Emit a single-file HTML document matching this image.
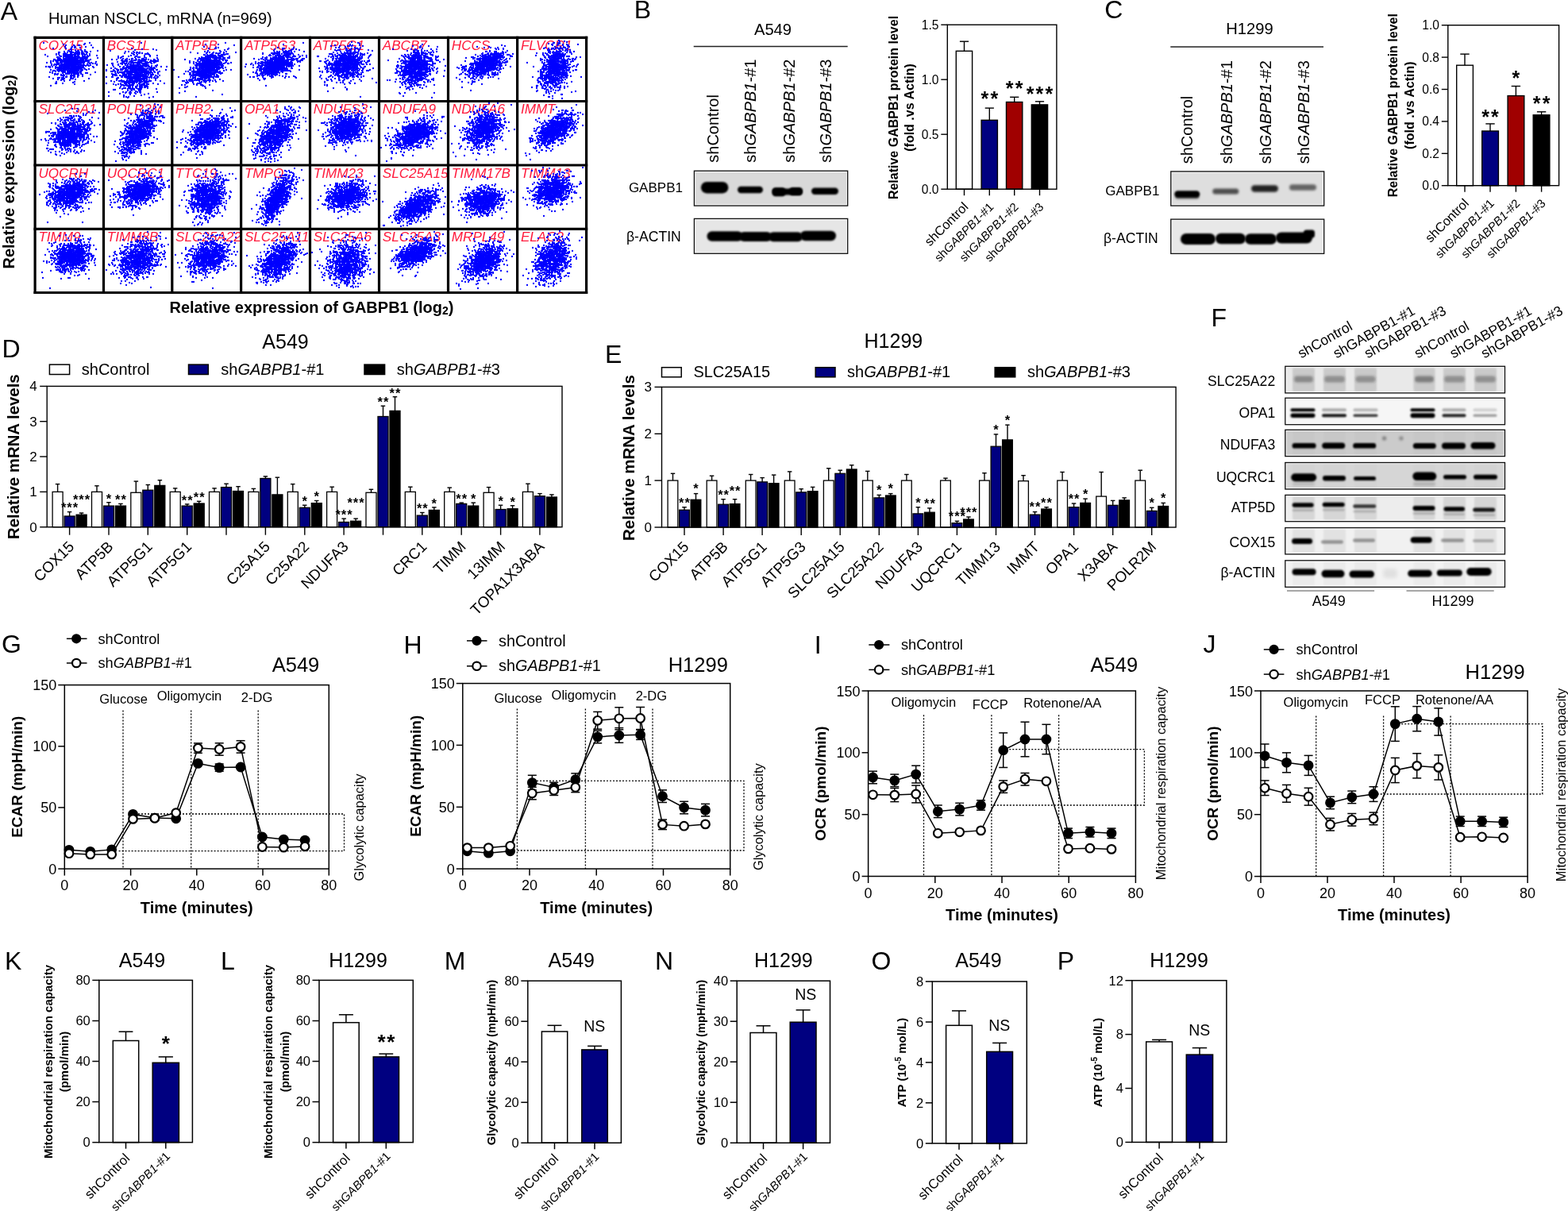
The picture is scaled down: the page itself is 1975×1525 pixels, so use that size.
<!DOCTYPE html>
<html><head><meta charset="utf-8"><title>Figure</title>
<style>
html,body{margin:0;padding:0;background:#fff;}
svg{display:block;}
text{font-family:"Liberation Sans",Arial,sans-serif;}
</style></head><body>
<svg width="1975" height="1525" viewBox="0 0 1975 1525">
<rect width="1975" height="1525" fill="#fff"/>
<defs><filter id="bl1" x="-50%" y="-100%" width="200%" height="300%"><feGaussianBlur stdDeviation="0.5"/></filter><filter id="bl2" x="-50%" y="-100%" width="200%" height="300%"><feGaussianBlur stdDeviation="1"/></filter><filter id="bl3" x="-50%" y="-100%" width="200%" height="300%"><feGaussianBlur stdDeviation="1.5"/></filter><filter id="bl4" x="-50%" y="-100%" width="200%" height="300%"><feGaussianBlur stdDeviation="2"/></filter><filter id="bl5" x="-50%" y="-100%" width="200%" height="300%"><feGaussianBlur stdDeviation="2.5"/></filter><filter id="bl6" x="-50%" y="-100%" width="200%" height="300%"><feGaussianBlur stdDeviation="3"/></filter><filter id="bl7" x="-50%" y="-100%" width="200%" height="300%"><feGaussianBlur stdDeviation="3.5"/></filter><filter id="bl8" x="-50%" y="-100%" width="200%" height="300%"><feGaussianBlur stdDeviation="4"/></filter></defs>
<text x="0.8" y="24.9" font-size="32">A</text>
<text x="61" y="30.4" font-size="20">Human NSCLC, mRNA (n=969)</text>
<text x="48.4" y="63" font-size="17.1" font-style="italic" fill="#ff1a3c">COX15</text>
<text x="134.8" y="63" font-size="17.1" font-style="italic" fill="#ff1a3c">BCS1L</text>
<text x="221.1" y="63" font-size="17.1" font-style="italic" fill="#ff1a3c">ATP5B</text>
<text x="307.9" y="63" font-size="17.1" font-style="italic" fill="#ff1a3c">ATP5G3</text>
<text x="394.8" y="63" font-size="17.1" font-style="italic" fill="#ff1a3c">ATP5G1</text>
<text x="481.8" y="63" font-size="17.1" font-style="italic" fill="#ff1a3c">ABCB7</text>
<text x="568.8" y="63" font-size="17.1" font-style="italic" fill="#ff1a3c">HCCS</text>
<text x="655.9" y="63" font-size="17.1" font-style="italic" fill="#ff1a3c">FLVCR1</text>
<text x="48.4" y="143.1" font-size="17.1" font-style="italic" fill="#ff1a3c">SLC25A1</text>
<text x="134.8" y="143.1" font-size="17.1" font-style="italic" fill="#ff1a3c">POLR2M</text>
<text x="221.1" y="143.1" font-size="17.1" font-style="italic" fill="#ff1a3c">PHB2</text>
<text x="307.9" y="143.1" font-size="17.1" font-style="italic" fill="#ff1a3c">OPA1</text>
<text x="394.8" y="143.1" font-size="17.1" font-style="italic" fill="#ff1a3c">NDUFS3</text>
<text x="481.8" y="143.1" font-size="17.1" font-style="italic" fill="#ff1a3c">NDUFA9</text>
<text x="568.8" y="143.1" font-size="17.1" font-style="italic" fill="#ff1a3c">NDUFA6</text>
<text x="655.9" y="143.1" font-size="17.1" font-style="italic" fill="#ff1a3c">IMMT</text>
<text x="48.4" y="223.6" font-size="17.1" font-style="italic" fill="#ff1a3c">UQCRH</text>
<text x="134.8" y="223.6" font-size="17.1" font-style="italic" fill="#ff1a3c">UQCRC1</text>
<text x="221.1" y="223.6" font-size="17.1" font-style="italic" fill="#ff1a3c">TTC19</text>
<text x="307.9" y="223.6" font-size="17.1" font-style="italic" fill="#ff1a3c">TMPO</text>
<text x="394.8" y="223.6" font-size="17.1" font-style="italic" fill="#ff1a3c">TIMM23</text>
<text x="481.8" y="223.6" font-size="17.1" font-style="italic" fill="#ff1a3c">SLC25A15</text>
<text x="568.8" y="223.6" font-size="17.1" font-style="italic" fill="#ff1a3c">TIMM17B</text>
<text x="655.9" y="223.6" font-size="17.1" font-style="italic" fill="#ff1a3c">TIMM13</text>
<text x="48.4" y="304" font-size="17.1" font-style="italic" fill="#ff1a3c">TIMM9</text>
<text x="134.8" y="304" font-size="17.1" font-style="italic" fill="#ff1a3c">TIMM8B</text>
<text x="221.1" y="304" font-size="17.1" font-style="italic" fill="#ff1a3c">SLC25A22</text>
<text x="307.9" y="304" font-size="17.1" font-style="italic" fill="#ff1a3c">SLC25A11</text>
<text x="394.8" y="304" font-size="17.1" font-style="italic" fill="#ff1a3c">SLC25A6</text>
<text x="481.8" y="304" font-size="17.1" font-style="italic" fill="#ff1a3c">SLC25A3</text>
<text x="568.8" y="304" font-size="17.1" font-style="italic" fill="#ff1a3c">MRPL49</text>
<text x="655.9" y="304" font-size="17.1" font-style="italic" fill="#ff1a3c">ELAC2</text>
<path d="M55 54h0m58 0h0m-6 1h0m-27 1h0m26 0h0m-23 1h0m10 0h0m6 0h0m1 0h0m15 0h0m-21 1h0m-12 1h0m9 0h0m4 0h0m13 0h0m-18 1h0m4 0h0m1 0h0m6 0h0m16 0h0m-50 1h0m16 0h0m6 1h0m1 0h0m5 1h0m7 0h0m5 0h0m-21 1h0m1 0h0m3 0h0m8 0h0m1 0h0m4 0h0m20 0h0m-42 1h0m7 0h0m2 0h0m6 0h0m8 0h0m3 0h0m2 0h0m5 0h0m-40 1h0m1 0h0m10 0h0m4 0h0m2 0h0m1 0h0m3 0h0m3 0h0m2 0h0m3 0h0m7 0h0m-29 1h0m1 0h0m8 0h0m4 0h0m1 0h0m1 0h0m1 0h0m7 0h0m1 0h0m4 0h0m-38 1h0m3 0h0m6 0h0m2 0h0m2 0h0m5 0h0m1 0h0m4 0h0m1 0h0m2 0h0m1 0h0m1 0h0m1 0h0m3 0h0m2 0h0m1 0h0m3 0h0m4 0h0m-56 1h0m14 0h0m10 0h0m1 0h0m2 0h0m1 0h0m2 0h0m2 0h0m1 0h0m1 0h0m1 0h0m1 0h0m2 0h0m12 0h0m-32 1h0m5 0h0m3 0h0m1 0h0m5 0h0m1 0h0m1 0h0m3 0h0m1 0h0m3 0h0m1 0h0m5 0h0m3 0h0m3 0h0m3 0h0m9 0h0m-62 1h0m16 0h0m1 0h0m5 0h0m3 0h0m1 0h0m1 0h0m2 0h0m1 0h0m1 0h0m3 0h0m1 0h0m1 0h0m1 0h0m7 0h0m1 0h0m6 0h0m-39 1h0m1 0h0m7 0h0m3 0h0m1 0h0m4 0h0m1 0h0m1 0h0m1 0h0m1 0h0m1 0h0m1 0h0m1 0h0m1 0h0m3 0h0m1 0h0m4 0h0m2 0h0m1 0h0m2 0h0m1 0h0m-35 1h0m5 0h0m3 0h0m2 0h0m1 0h0m1 0h0m1 0h0m2 0h0m2 0h0m1 0h0m2 0h0m3 0h0m2 0h0m2 0h0m2 0h0m1 0h0m3 0h0m2 0h0m13 0h0m-50 1h0m2 0h0m1 0h0m4 0h0m1 0h0m1 0h0m1 0h0m3 0h0m1 0h0m1 0h0m1 0h0m1 0h0m1 0h0m1 0h0m1 0h0m1 0h0m1 0h0m1 0h0m1 0h0m1 0h0m4 0h0m1 0h0m4 0h0m-39 1h0m1 0h0m5 0h0m3 0h0m3 0h0m1 0h0m2 0h0m2 0h0m1 0h0m1 0h0m1 0h0m1 0h0m1 0h0m1 0h0m1 0h0m1 0h0m1 0h0m1 0h0m1 0h0m1 0h0m1 0h0m3 0h0m1 0h0m1 0h0m1 0h0m1 0h0m3 0h0m1 0h0m5 0h0m-44 1h0m2 0h0m1 0h0m1 0h0m2 0h0m1 0h0m2 0h0m2 0h0m1 0h0m1 0h0m1 0h0m2 0h0m1 0h0m1 0h0m1 0h0m1 0h0m1 0h0m1 0h0m1 0h0m1 0h0m1 0h0m2 0h0m2 0h0m1 0h0m1 0h0m1 0h0m9 0h0m1 0h0m-48 1h0m3 0h0m6 0h0m3 0h0m1 0h0m1 0h0m3 0h0m1 0h0m2 0h0m1 0h0m1 0h0m4 0h0m1 0h0m1 0h0m1 0h0m1 0h0m1 0h0m1 0h0m1 0h0m1 0h0m1 0h0m1 0h0m2 0h0m2 0h0m2 0h0m1 0h0m1 0h0m2 0h0m-39 1h0m8 0h0m2 0h0m1 0h0m1 0h0m3 0h0m1 0h0m1 0h0m1 0h0m1 0h0m1 0h0m1 0h0m1 0h0m1 0h0m1 0h0m1 0h0m1 0h0m1 0h0m1 0h0m1 0h0m1 0h0m2 0h0m1 0h0m1 0h0m7 0h0m9 0h0m-62 1h0m5 0h0m9 0h0m3 0h0m1 0h0m5 0h0m2 0h0m2 0h0m1 0h0m2 0h0m1 0h0m1 0h0m1 0h0m1 0h0m1 0h0m2 0h0m1 0h0m4 0h0m2 0h0m1 0h0m2 0h0m5 0h0m4 0h0m-43 1h0m1 0h0m1 0h0m3 0h0m1 0h0m3 0h0m1 0h0m1 0h0m1 0h0m1 0h0m1 0h0m1 0h0m1 0h0m1 0h0m1 0h0m2 0h0m1 0h0m1 0h0m1 0h0m1 0h0m1 0h0m1 0h0m1 0h0m2 0h0m1 0h0m3 0h0m8 0h0m4 0h0m3 0h0m-55 1h0m4 0h0m2 0h0m1 0h0m2 0h0m6 0h0m2 0h0m1 0h0m1 0h0m1 0h0m2 0h0m1 0h0m1 0h0m1 0h0m1 0h0m1 0h0m1 0h0m1 0h0m3 0h0m1 0h0m3 0h0m1 0h0m8 0h0m12 0h0m-57 1h0m3 0h0m3 0h0m5 0h0m1 0h0m1 0h0m1 0h0m1 0h0m1 0h0m1 0h0m1 0h0m2 0h0m1 0h0m1 0h0m1 0h0m1 0h0m1 0h0m1 0h0m1 0h0m1 0h0m1 0h0m1 0h0m1 0h0m2 0h0m1 0h0m2 0h0m1 0h0m1 0h0m2 0h0m1 0h0m4 0h0m1 0h0m3 0h0m8 0h0m-47 1h0m2 0h0m1 0h0m2 0h0m2 0h0m2 0h0m1 0h0m1 0h0m1 0h0m1 0h0m1 0h0m1 0h0m1 0h0m1 0h0m1 0h0m2 0h0m4 0h0m3 0h0m6 0h0m4 0h0m-54 1h0m3 0h0m2 0h0m3 0h0m4 0h0m5 0h0m1 0h0m1 0h0m2 0h0m2 0h0m1 0h0m1 0h0m1 0h0m3 0h0m2 0h0m1 0h0m1 0h0m1 0h0m1 0h0m2 0h0m1 0h0m2 0h0m2 0h0m1 0h0m3 0h0m1 0h0m12 0h0m-54 1h0m8 0h0m1 0h0m2 0h0m2 0h0m1 0h0m3 0h0m1 0h0m1 0h0m1 0h0m2 0h0m2 0h0m3 0h0m1 0h0m1 0h0m1 0h0m1 0h0m1 0h0m1 0h0m1 0h0m1 0h0m1 0h0m1 0h0m2 0h0m1 0h0m2 0h0m13 0h0m-48 1h0m3 0h0m1 0h0m2 0h0m1 0h0m2 0h0m2 0h0m2 0h0m1 0h0m1 0h0m1 0h0m1 0h0m2 0h0m2 0h0m1 0h0m2 0h0m2 0h0m2 0h0m2 0h0m1 0h0m1 0h0m1 0h0m3 0h0m-32 1h0m1 0h0m1 0h0m2 0h0m2 0h0m1 0h0m1 0h0m1 0h0m2 0h0m1 0h0m2 0h0m1 0h0m1 0h0m1 0h0m1 0h0m2 0h0m1 0h0m1 0h0m2 0h0m1 0h0m1 0h0m3 0h0m4 0h0m5 0h0m-48 1h0m8 0h0m1 0h0m7 0h0m2 0h0m1 0h0m3 0h0m3 0h0m1 0h0m1 0h0m1 0h0m1 0h0m2 0h0m7 0h0m2 0h0m5 0h0m-42 1h0m2 0h0m4 0h0m1 0h0m1 0h0m2 0h0m1 0h0m1 0h0m1 0h0m1 0h0m1 0h0m3 0h0m3 0h0m2 0h0m1 0h0m1 0h0m2 0h0m1 0h0m1 0h0m1 0h0m1 0h0m1 0h0m4 0h0m-33 1h0m4 0h0m4 0h0m1 0h0m7 0h0m1 0h0m2 0h0m1 0h0m2 0h0m1 0h0m2 0h0m2 0h0m4 0h0m1 0h0m-39 1h0m3 0h0m14 0h0m2 0h0m3 0h0m1 0h0m1 0h0m2 0h0m1 0h0m2 0h0m5 0h0m1 0h0m3 0h0m1 0h0m18 0h0m-54 1h0m13 0h0m9 0h0m4 0h0m2 0h0m1 0h0m2 0h0m2 0h0m9 0h0m2 0h0m-41 1h0m1 0h0m3 0h0m10 0h0m1 0h0m1 0h0m2 0h0m3 0h0m3 0h0m2 0h0m1 0h0m1 0h0m1 0h0m1 0h0m3 0h0m-33 1h0m3 0h0m5 0h0m3 0h0m13 0h0m11 0h0m10 0h0m-37 1h0m1 0h0m1 0h0m2 0h0m8 0h0m2 0h0m1 0h0m2 0h0m4 0h0m1 0h0m-19 1h0m4 0h0m6 0h0m14 0h0m-42 1h0m21 0h0m1 0h0m5 0h0m1 0h0m3 0h0m1 0h0m4 0h0m-25 1h0m2 0h0m3 0h0m1 0h0m1 0h0m-13 1h0m11 0h0m3 0h0m8 0h0m2 0h0m1 0h0m20 0h0m-39 1h0m6 0h0m1 0h0m15 0h0m-18 1h0m11 0h0m-7 1h0m25 0h0m-35 1h0m23 0h0m-2 1h0m-22 1h0m1 0h0m8 0h0m15 1h0m-30 2h0" stroke="#0000ff" stroke-width="2.3" stroke-linecap="round" fill="none"/>
<path d="M178 54h0m-12 7h0m13 1h0m14 0h0m-23 1h0m27 0h0m-58 1h0m19 1h0m4 0h0m6 0h0m1 1h0m3 0h0m1 0h0m3 0h0m-19 1h0m9 0h0m6 0h0m3 0h0m1 0h0m3 0h0m7 0h0m-18 1h0m15 0h0m1 0h0m2 0h0m1 0h0m-18 1h0m4 0h0m15 0h0m-23 1h0m17 0h0m7 0h0m9 0h0m-49 1h0m6 0h0m7 0h0m9 0h0m1 0h0m17 0h0m-36 1h0m17 0h0m4 0h0m2 0h0m6 0h0m-33 1h0m3 0h0m32 0h0m14 0h0m-43 1h0m5 0h0m6 0h0m1 0h0m4 0h0m8 0h0m2 0h0m-40 1h0m6 0h0m7 0h0m4 0h0m5 0h0m3 0h0m6 0h0m3 0h0m4 0h0m1 0h0m2 0h0m2 0h0m3 0h0m7 0h0m5 0h0m-46 1h0m7 0h0m9 0h0m2 0h0m5 0h0m2 0h0m3 0h0m1 0h0m8 0h0m6 0h0m-42 1h0m1 0h0m2 0h0m1 0h0m2 0h0m5 0h0m2 0h0m7 0h0m3 0h0m1 0h0m2 0h0m2 0h0m1 0h0m8 0h0m2 0h0m1 0h0m3 0h0m2 0h0m-51 1h0m12 0h0m3 0h0m2 0h0m11 0h0m1 0h0m1 0h0m5 0h0m2 0h0m4 0h0m7 0h0m-42 1h0m2 0h0m9 0h0m1 0h0m1 0h0m2 0h0m2 0h0m2 0h0m1 0h0m2 0h0m1 0h0m7 0h0m1 0h0m1 0h0m1 0h0m3 0h0m4 0h0m-53 1h0m1 0h0m10 0h0m2 0h0m3 0h0m1 0h0m1 0h0m3 0h0m3 0h0m3 0h0m5 0h0m1 0h0m1 0h0m4 0h0m1 0h0m1 0h0m2 0h0m2 0h0m6 0h0m-42 1h0m5 0h0m7 0h0m3 0h0m4 0h0m5 0h0m1 0h0m2 0h0m5 0h0m-46 1h0m7 0h0m7 0h0m9 0h0m6 0h0m1 0h0m1 0h0m1 0h0m2 0h0m1 0h0m1 0h0m2 0h0m2 0h0m2 0h0m3 0h0m1 0h0m1 0h0m2 0h0m1 0h0m1 0h0m1 0h0m11 0h0m-38 1h0m1 0h0m4 0h0m2 0h0m1 0h0m3 0h0m1 0h0m1 0h0m1 0h0m4 0h0m2 0h0m2 0h0m2 0h0m1 0h0m6 0h0m5 0h0m-53 1h0m8 0h0m5 0h0m7 0h0m1 0h0m1 0h0m1 0h0m2 0h0m2 0h0m1 0h0m3 0h0m1 0h0m2 0h0m1 0h0m1 0h0m4 0h0m1 0h0m3 0h0m1 0h0m9 0h0m6 0h0m7 0h0m-55 1h0m4 0h0m2 0h0m1 0h0m3 0h0m1 0h0m1 0h0m2 0h0m2 0h0m1 0h0m4 0h0m1 0h0m2 0h0m1 0h0m9 0h0m2 0h0m3 0h0m-54 1h0m5 0h0m10 0h0m2 0h0m1 0h0m1 0h0m3 0h0m1 0h0m1 0h0m1 0h0m1 0h0m1 0h0m1 0h0m2 0h0m1 0h0m3 0h0m1 0h0m1 0h0m1 0h0m1 0h0m1 0h0m1 0h0m1 0h0m5 0h0m4 0h0m2 0h0m3 0h0m-48 1h0m5 0h0m2 0h0m1 0h0m3 0h0m1 0h0m6 0h0m4 0h0m1 0h0m1 0h0m1 0h0m1 0h0m1 0h0m2 0h0m1 0h0m3 0h0m2 0h0m2 0h0m1 0h0m3 0h0m3 0h0m1 0h0m1 0h0m-59 1h0m9 0h0m6 0h0m3 0h0m1 0h0m1 0h0m4 0h0m3 0h0m3 0h0m2 0h0m2 0h0m1 0h0m1 0h0m1 0h0m1 0h0m1 0h0m1 0h0m1 0h0m3 0h0m1 0h0m1 0h0m1 0h0m2 0h0m5 0h0m2 0h0m1 0h0m2 0h0m4 0h0m1 0h0m11 0h0m-75 1h0m10 0h0m4 0h0m1 0h0m10 0h0m7 0h0m1 0h0m1 0h0m2 0h0m3 0h0m2 0h0m1 0h0m1 0h0m4 0h0m2 0h0m1 0h0m1 0h0m5 0h0m-50 1h0m2 0h0m3 0h0m12 0h0m1 0h0m1 0h0m1 0h0m2 0h0m2 0h0m1 0h0m5 0h0m2 0h0m3 0h0m1 0h0m2 0h0m2 0h0m1 0h0m1 0h0m5 0h0m7 0h0m7 0h0m-56 1h0m3 0h0m3 0h0m1 0h0m1 0h0m1 0h0m2 0h0m4 0h0m3 0h0m2 0h0m1 0h0m1 0h0m1 0h0m1 0h0m1 0h0m1 0h0m2 0h0m5 0h0m2 0h0m1 0h0m2 0h0m1 0h0m1 0h0m3 0h0m1 0h0m2 0h0m4 0h0m4 0h0m-50 1h0m5 0h0m2 0h0m1 0h0m3 0h0m2 0h0m1 0h0m1 0h0m1 0h0m1 0h0m5 0h0m2 0h0m1 0h0m2 0h0m1 0h0m1 0h0m1 0h0m3 0h0m1 0h0m2 0h0m2 0h0m2 0h0m3 0h0m-51 1h0m5 0h0m9 0h0m1 0h0m1 0h0m4 0h0m3 0h0m1 0h0m1 0h0m4 0h0m1 0h0m1 0h0m2 0h0m3 0h0m1 0h0m4 0h0m3 0h0m14 0h0m-56 1h0m1 0h0m11 0h0m1 0h0m2 0h0m1 0h0m3 0h0m2 0h0m1 0h0m1 0h0m2 0h0m4 0h0m2 0h0m1 0h0m1 0h0m1 0h0m3 0h0m3 0h0m1 0h0m3 0h0m3 0h0m1 0h0m2 0h0m-51 1h0m3 0h0m2 0h0m4 0h0m4 0h0m2 0h0m1 0h0m4 0h0m3 0h0m5 0h0m1 0h0m1 0h0m1 0h0m1 0h0m4 0h0m1 0h0m2 0h0m3 0h0m6 0h0m1 0h0m5 0h0m5 0h0m-48 1h0m1 0h0m5 0h0m1 0h0m2 0h0m2 0h0m4 0h0m2 0h0m1 0h0m4 0h0m1 0h0m1 0h0m1 0h0m1 0h0m1 0h0m1 0h0m1 0h0m1 0h0m1 0h0m1 0h0m1 0h0m12 0h0m-64 1h0m7 0h0m1 0h0m11 0h0m1 0h0m3 0h0m2 0h0m1 0h0m2 0h0m1 0h0m2 0h0m1 0h0m1 0h0m1 0h0m2 0h0m1 0h0m2 0h0m1 0h0m1 0h0m2 0h0m3 0h0m1 0h0m2 0h0m2 0h0m1 0h0m3 0h0m2 0h0m4 0h0m4 0h0m-51 1h0m1 0h0m10 0h0m2 0h0m1 0h0m2 0h0m2 0h0m1 0h0m2 0h0m3 0h0m2 0h0m1 0h0m2 0h0m4 0h0m3 0h0m1 0h0m3 0h0m3 0h0m3 0h0m4 0h0m-51 1h0m1 0h0m13 0h0m1 0h0m2 0h0m1 0h0m1 0h0m2 0h0m1 0h0m2 0h0m1 0h0m2 0h0m1 0h0m3 0h0m2 0h0m2 0h0m1 0h0m2 0h0m11 0h0m-32 1h0m1 0h0m1 0h0m4 0h0m1 0h0m1 0h0m1 0h0m1 0h0m1 0h0m1 0h0m2 0h0m2 0h0m1 0h0m1 0h0m3 0h0m-38 1h0m6 0h0m7 0h0m3 0h0m4 0h0m3 0h0m1 0h0m1 0h0m2 0h0m3 0h0m4 0h0m4 0h0m3 0h0m8 0h0m-56 1h0m10 0h0m2 0h0m2 0h0m2 0h0m5 0h0m3 0h0m2 0h0m2 0h0m1 0h0m1 0h0m2 0h0m1 0h0m1 0h0m2 0h0m2 0h0m3 0h0m2 0h0m1 0h0m5 0h0m1 0h0m12 0h0m-58 1h0m10 0h0m1 0h0m1 0h0m1 0h0m2 0h0m4 0h0m1 0h0m3 0h0m2 0h0m1 0h0m1 0h0m2 0h0m3 0h0m2 0h0m1 0h0m3 0h0m3 0h0m2 0h0m-29 1h0m1 0h0m2 0h0m4 0h0m2 0h0m2 0h0m3 0h0m5 0h0m6 0h0m2 0h0m-51 1h0m18 0h0m5 0h0m2 0h0m3 0h0m1 0h0m4 0h0m1 0h0m1 0h0m6 0h0m1 0h0m5 0h0m1 0h0m11 0h0m14 0h0m-64 1h0m6 0h0m3 0h0m11 0h0m5 0h0m11 0h0m2 0h0m4 0h0m2 0h0m12 0h0m-53 1h0m7 0h0m2 0h0m3 0h0m2 0h0m5 0h0m1 0h0m2 0h0m5 0h0m3 0h0m1 0h0m1 0h0m1 0h0m2 0h0m1 0h0m-26 1h0m1 0h0m3 0h0m2 0h0m1 0h0m1 0h0m9 0h0m5 0h0m6 0h0m1 0h0m-33 1h0m10 0h0m2 0h0m3 0h0m4 0h0m5 0h0m1 0h0m2 0h0m3 0h0m2 0h0m2 0h0m-24 1h0m2 0h0m7 0h0m1 0h0m4 0h0m1 0h0m2 0h0m3 0h0m1 0h0m-32 1h0m5 0h0m2 0h0m5 0h0m4 0h0m5 0h0m14 0h0m-32 1h0m7 0h0m3 0h0m1 0h0m1 0h0m2 0h0m1 0h0m5 0h0m2 0h0m2 0h0m19 0h0m-54 1h0m2 0h0m24 0h0m8 0h0m-16 1h0m5 0h0m9 0h0m2 0h0m-13 1h0m7 0h0m6 0h0m-40 1h0m18 0h0m4 0h0m14 0h0m3 0h0m22 0h0m-40 1h0m5 0h0m2 0h0m5 0h0m7 0h0m-26 1h0m20 0h0m16 0h0m-23 1h0m18 0h0m-26 1h0m22 0h0m-41 1h0m19 0h0m13 0h0m-13 1h0m3 0h0m3 0h0m31 0h0m-32 1h0m27 0h0" stroke="#0000ff" stroke-width="2.3" stroke-linecap="round" fill="none"/>
<path d="M284 54h0m-25 2h0m16 0h0m20 1h0m-38 2h0m15 1h0m3 0h0m-12 1h0m8 0h0m1 0h0m16 0h0m-1 1h0m-4 1h0m-21 1h0m15 0h0m-19 1h0m20 0h0m7 0h0m-45 1h0m21 0h0m3 0h0m5 0h0m13 0h0m15 0h0m-48 1h0m11 0h0m8 0h0m4 0h0m1 0h0m3 0h0m1 0h0m5 0h0m-15 1h0m1 0h0m7 0h0m10 0h0m2 0h0m-30 1h0m1 0h0m3 0h0m4 0h0m2 0h0m1 0h0m7 0h0m4 0h0m1 0h0m1 0h0m1 0h0m1 0h0m-22 1h0m2 0h0m1 0h0m2 0h0m2 0h0m2 0h0m1 0h0m4 0h0m1 0h0m1 0h0m3 0h0m-21 1h0m1 0h0m3 0h0m1 0h0m1 0h0m4 0h0m2 0h0m1 0h0m5 0h0m1 0h0m1 0h0m10 0h0m-35 1h0m5 0h0m1 0h0m2 0h0m1 0h0m1 0h0m1 0h0m2 0h0m2 0h0m3 0h0m1 0h0m3 0h0m1 0h0m1 0h0m3 0h0m-30 1h0m5 0h0m2 0h0m4 0h0m1 0h0m5 0h0m3 0h0m1 0h0m1 0h0m1 0h0m1 0h0m1 0h0m5 0h0m2 0h0m4 0h0m2 0h0m-43 1h0m6 0h0m2 0h0m4 0h0m2 0h0m1 0h0m1 0h0m3 0h0m5 0h0m1 0h0m1 0h0m1 0h0m3 0h0m2 0h0m4 0h0m1 0h0m-50 1h0m17 0h0m6 0h0m3 0h0m1 0h0m1 0h0m1 0h0m1 0h0m1 0h0m1 0h0m5 0h0m1 0h0m2 0h0m4 0h0m3 0h0m-31 1h0m4 0h0m2 0h0m2 0h0m3 0h0m2 0h0m1 0h0m1 0h0m2 0h0m1 0h0m2 0h0m1 0h0m2 0h0m2 0h0m2 0h0m5 0h0m3 0h0m2 0h0m-47 1h0m10 0h0m6 0h0m2 0h0m1 0h0m1 0h0m2 0h0m3 0h0m1 0h0m1 0h0m2 0h0m1 0h0m1 0h0m2 0h0m3 0h0m2 0h0m-33 1h0m7 0h0m1 0h0m3 0h0m1 0h0m1 0h0m2 0h0m2 0h0m1 0h0m1 0h0m1 0h0m2 0h0m1 0h0m1 0h0m3 0h0m2 0h0m1 0h0m1 0h0m1 0h0m1 0h0m1 0h0m7 0h0m-46 1h0m8 0h0m11 0h0m2 0h0m2 0h0m1 0h0m1 0h0m1 0h0m1 0h0m1 0h0m1 0h0m2 0h0m3 0h0m1 0h0m2 0h0m1 0h0m2 0h0m5 0h0m7 0h0m-47 1h0m5 0h0m2 0h0m1 0h0m2 0h0m2 0h0m1 0h0m1 0h0m1 0h0m1 0h0m1 0h0m1 0h0m1 0h0m2 0h0m1 0h0m1 0h0m1 0h0m2 0h0m1 0h0m2 0h0m1 0h0m5 0h0m3 0h0m5 0h0m1 0h0m-40 1h0m4 0h0m2 0h0m1 0h0m1 0h0m1 0h0m1 0h0m4 0h0m1 0h0m1 0h0m2 0h0m1 0h0m1 0h0m2 0h0m2 0h0m1 0h0m2 0h0m2 0h0m3 0h0m-34 1h0m2 0h0m1 0h0m2 0h0m2 0h0m3 0h0m2 0h0m1 0h0m1 0h0m1 0h0m1 0h0m1 0h0m1 0h0m1 0h0m1 0h0m1 0h0m2 0h0m1 0h0m1 0h0m1 0h0m4 0h0m2 0h0m-31 1h0m5 0h0m2 0h0m2 0h0m2 0h0m1 0h0m1 0h0m1 0h0m1 0h0m1 0h0m1 0h0m1 0h0m1 0h0m1 0h0m2 0h0m1 0h0m2 0h0m1 0h0m1 0h0m5 0h0m2 0h0m-33 1h0m3 0h0m1 0h0m1 0h0m1 0h0m1 0h0m1 0h0m1 0h0m1 0h0m1 0h0m2 0h0m1 0h0m1 0h0m1 0h0m2 0h0m1 0h0m1 0h0m1 0h0m2 0h0m1 0h0m1 0h0m3 0h0m4 0h0m-40 1h0m4 0h0m3 0h0m1 0h0m4 0h0m1 0h0m4 0h0m1 0h0m1 0h0m2 0h0m2 0h0m2 0h0m1 0h0m1 0h0m1 0h0m1 0h0m1 0h0m2 0h0m1 0h0m1 0h0m2 0h0m2 0h0m1 0h0m5 0h0m-41 1h0m1 0h0m3 0h0m4 0h0m2 0h0m2 0h0m1 0h0m2 0h0m1 0h0m2 0h0m2 0h0m1 0h0m2 0h0m1 0h0m3 0h0m5 0h0m2 0h0m4 0h0m-41 1h0m9 0h0m1 0h0m1 0h0m3 0h0m2 0h0m3 0h0m1 0h0m1 0h0m1 0h0m3 0h0m1 0h0m1 0h0m1 0h0m1 0h0m1 0h0m3 0h0m2 0h0m1 0h0m-57 1h0m20 0h0m1 0h0m4 0h0m5 0h0m1 0h0m2 0h0m3 0h0m1 0h0m1 0h0m1 0h0m3 0h0m1 0h0m1 0h0m2 0h0m1 0h0m1 0h0m1 0h0m1 0h0m1 0h0m1 0h0m1 0h0m2 0h0m11 0h0m6 0h0m-47 1h0m5 0h0m5 0h0m1 0h0m1 0h0m2 0h0m1 0h0m1 0h0m2 0h0m1 0h0m1 0h0m1 0h0m1 0h0m1 0h0m1 0h0m3 0h0m1 0h0m1 0h0m9 0h0m-48 1h0m3 0h0m5 0h0m2 0h0m1 0h0m1 0h0m2 0h0m1 0h0m1 0h0m1 0h0m1 0h0m1 0h0m1 0h0m1 0h0m1 0h0m1 0h0m1 0h0m1 0h0m1 0h0m1 0h0m1 0h0m1 0h0m1 0h0m1 0h0m2 0h0m2 0h0m3 0h0m2 0h0m3 0h0m-34 1h0m1 0h0m1 0h0m1 0h0m1 0h0m2 0h0m1 0h0m4 0h0m1 0h0m2 0h0m2 0h0m1 0h0m1 0h0m1 0h0m1 0h0m1 0h0m1 0h0m6 0h0m2 0h0m2 0h0m-36 1h0m1 0h0m4 0h0m4 0h0m1 0h0m1 0h0m1 0h0m1 0h0m1 0h0m1 0h0m1 0h0m1 0h0m1 0h0m1 0h0m2 0h0m1 0h0m2 0h0m3 0h0m1 0h0m2 0h0m2 0h0m5 0h0m2 0h0m2 0h0m-48 1h0m11 0h0m1 0h0m3 0h0m1 0h0m4 0h0m1 0h0m1 0h0m2 0h0m1 0h0m1 0h0m2 0h0m3 0h0m2 0h0m2 0h0m1 0h0m2 0h0m8 0h0m-39 1h0m1 0h0m4 0h0m1 0h0m2 0h0m1 0h0m1 0h0m2 0h0m1 0h0m1 0h0m1 0h0m1 0h0m1 0h0m3 0h0m1 0h0m1 0h0m1 0h0m3 0h0m1 0h0m2 0h0m2 0h0m3 0h0m-32 1h0m2 0h0m1 0h0m3 0h0m1 0h0m1 0h0m1 0h0m1 0h0m1 0h0m3 0h0m1 0h0m1 0h0m1 0h0m1 0h0m1 0h0m2 0h0m1 0h0m2 0h0m8 0h0m1 0h0m-28 1h0m5 0h0m1 0h0m2 0h0m3 0h0m2 0h0m1 0h0m1 0h0m1 0h0m1 0h0m2 0h0m1 0h0m4 0h0m4 0h0m1 0h0m-50 1h0m15 0h0m3 0h0m10 0h0m1 0h0m1 0h0m2 0h0m2 0h0m2 0h0m1 0h0m1 0h0m2 0h0m2 0h0m1 0h0m4 0h0m2 0h0m1 0h0m-32 1h0m2 0h0m1 0h0m7 0h0m1 0h0m1 0h0m1 0h0m1 0h0m1 0h0m2 0h0m1 0h0m1 0h0m1 0h0m6 0h0m-26 1h0m3 0h0m3 0h0m1 0h0m1 0h0m2 0h0m2 0h0m4 0h0m1 0h0m4 0h0m5 0h0m-30 1h0m2 0h0m1 0h0m9 0h0m1 0h0m2 0h0m1 0h0m3 0h0m5 0h0m1 0h0m13 0h0m-42 1h0m3 0h0m4 0h0m3 0h0m2 0h0m1 0h0m2 0h0m6 0h0m6 0h0m1 0h0m2 0h0m6 0h0m-41 1h0m2 0h0m7 0h0m2 0h0m1 0h0m1 0h0m8 0h0m6 0h0m2 0h0m1 0h0m8 0h0m13 0h0m-45 1h0m18 0h0m3 0h0m7 0h0m8 0h0m-38 1h0m3 0h0m6 0h0m9 0h0m1 0h0m6 0h0m-24 1h0m14 0h0m2 0h0m2 0h0m-9 1h0m4 0h0m-19 1h0m4 0h0m15 0h0m5 0h0m2 0h0m9 0h0m-9 1h0m1 0h0m-20 1h0m22 0h0m-25 1h0m1 0h0m-8 1h0m33 0h0m9 3h0m-35 1h0m-7 2h0m54 2h0m-33 3h0" stroke="#0000ff" stroke-width="2.3" stroke-linecap="round" fill="none"/>
<path d="M382 54h0m-25 2h0m-7 4h0m20 0h0m-14 1h0m2 0h0m-12 1h0m22 0h0m1 0h0m4 0h0m-17 1h0m11 0h0m10 0h0m-32 1h0m15 0h0m4 0h0m2 0h0m-17 1h0m3 0h0m5 0h0m1 0h0m1 0h0m2 0h0m2 0h0m4 0h0m4 0h0m12 0h0m-37 1h0m3 0h0m2 0h0m6 0h0m7 0h0m-33 1h0m11 0h0m2 0h0m2 0h0m1 0h0m1 0h0m2 0h0m1 0h0m1 0h0m6 0h0m2 0h0m1 0h0m1 0h0m4 0h0m1 0h0m1 0h0m-37 1h0m15 0h0m6 0h0m3 0h0m6 0h0m1 0h0m1 0h0m2 0h0m4 0h0m-29 1h0m4 0h0m5 0h0m1 0h0m8 0h0m2 0h0m1 0h0m5 0h0m10 0h0m-37 1h0m2 0h0m6 0h0m1 0h0m2 0h0m2 0h0m1 0h0m4 0h0m1 0h0m1 0h0m1 0h0m1 0h0m1 0h0m2 0h0m6 0h0m11 0h0m5 0h0m-32 1h0m1 0h0m1 0h0m1 0h0m3 0h0m2 0h0m1 0h0m6 0h0m1 0h0m1 0h0m1 0h0m6 0h0m-47 1h0m5 0h0m8 0h0m2 0h0m1 0h0m1 0h0m3 0h0m1 0h0m2 0h0m1 0h0m1 0h0m5 0h0m1 0h0m1 0h0m1 0h0m2 0h0m11 0h0m9 0h0m-52 1h0m2 0h0m5 0h0m3 0h0m1 0h0m1 0h0m1 0h0m2 0h0m2 0h0m1 0h0m3 0h0m1 0h0m1 0h0m1 0h0m4 0h0m5 0h0m1 0h0m-48 1h0m9 0h0m1 0h0m5 0h0m6 0h0m1 0h0m2 0h0m2 0h0m2 0h0m1 0h0m1 0h0m1 0h0m2 0h0m1 0h0m2 0h0m1 0h0m5 0h0m5 0h0m3 0h0m3 0h0m2 0h0m6 0h0m2 0h0m-57 1h0m6 0h0m4 0h0m5 0h0m2 0h0m1 0h0m3 0h0m1 0h0m1 0h0m1 0h0m1 0h0m1 0h0m1 0h0m1 0h0m2 0h0m1 0h0m1 0h0m6 0h0m2 0h0m3 0h0m1 0h0m1 0h0m9 0h0m-46 1h0m3 0h0m2 0h0m1 0h0m1 0h0m5 0h0m2 0h0m1 0h0m1 0h0m1 0h0m2 0h0m2 0h0m1 0h0m1 0h0m3 0h0m1 0h0m1 0h0m5 0h0m2 0h0m5 0h0m5 0h0m2 0h0m-44 1h0m1 0h0m4 0h0m1 0h0m3 0h0m1 0h0m1 0h0m1 0h0m1 0h0m1 0h0m2 0h0m1 0h0m2 0h0m1 0h0m1 0h0m1 0h0m1 0h0m1 0h0m1 0h0m1 0h0m4 0h0m8 0h0m2 0h0m-55 1h0m7 0h0m1 0h0m1 0h0m3 0h0m1 0h0m2 0h0m3 0h0m2 0h0m1 0h0m1 0h0m1 0h0m1 0h0m1 0h0m2 0h0m1 0h0m1 0h0m2 0h0m1 0h0m1 0h0m3 0h0m1 0h0m1 0h0m3 0h0m3 0h0m9 0h0m3 0h0m-52 1h0m6 0h0m1 0h0m1 0h0m1 0h0m1 0h0m1 0h0m1 0h0m2 0h0m1 0h0m2 0h0m1 0h0m2 0h0m1 0h0m1 0h0m1 0h0m1 0h0m1 0h0m1 0h0m1 0h0m1 0h0m1 0h0m1 0h0m1 0h0m3 0h0m2 0h0m3 0h0m1 0h0m1 0h0m1 0h0m-51 1h0m5 0h0m3 0h0m3 0h0m2 0h0m4 0h0m2 0h0m1 0h0m1 0h0m1 0h0m1 0h0m1 0h0m1 0h0m1 0h0m1 0h0m1 0h0m1 0h0m1 0h0m1 0h0m1 0h0m1 0h0m1 0h0m1 0h0m1 0h0m1 0h0m1 0h0m1 0h0m1 0h0m1 0h0m2 0h0m2 0h0m1 0h0m1 0h0m1 0h0m1 0h0m1 0h0m-57 1h0m6 0h0m14 0h0m1 0h0m3 0h0m3 0h0m1 0h0m1 0h0m1 0h0m1 0h0m1 0h0m1 0h0m1 0h0m1 0h0m1 0h0m1 0h0m1 0h0m1 0h0m2 0h0m1 0h0m1 0h0m1 0h0m1 0h0m2 0h0m1 0h0m2 0h0m1 0h0m2 0h0m2 0h0m3 0h0m3 0h0m-52 1h0m7 0h0m5 0h0m1 0h0m3 0h0m1 0h0m2 0h0m4 0h0m1 0h0m1 0h0m1 0h0m1 0h0m1 0h0m1 0h0m1 0h0m1 0h0m1 0h0m2 0h0m1 0h0m1 0h0m1 0h0m1 0h0m1 0h0m1 0h0m2 0h0m1 0h0m2 0h0m2 0h0m1 0h0m1 0h0m-41 1h0m1 0h0m2 0h0m4 0h0m1 0h0m1 0h0m3 0h0m1 0h0m1 0h0m1 0h0m1 0h0m1 0h0m1 0h0m1 0h0m1 0h0m1 0h0m1 0h0m1 0h0m1 0h0m1 0h0m1 0h0m1 0h0m1 0h0m2 0h0m1 0h0m4 0h0m1 0h0m2 0h0m1 0h0m2 0h0m1 0h0m8 0h0m-68 1h0m16 0h0m3 0h0m1 0h0m1 0h0m5 0h0m2 0h0m1 0h0m1 0h0m2 0h0m1 0h0m2 0h0m1 0h0m1 0h0m1 0h0m2 0h0m3 0h0m1 0h0m2 0h0m6 0h0m3 0h0m-45 1h0m5 0h0m1 0h0m4 0h0m4 0h0m3 0h0m1 0h0m1 0h0m1 0h0m1 0h0m1 0h0m1 0h0m1 0h0m1 0h0m1 0h0m1 0h0m1 0h0m1 0h0m1 0h0m1 0h0m1 0h0m2 0h0m1 0h0m1 0h0m1 0h0m2 0h0m3 0h0m6 0h0m-40 1h0m1 0h0m4 0h0m3 0h0m2 0h0m1 0h0m1 0h0m1 0h0m1 0h0m1 0h0m1 0h0m1 0h0m1 0h0m1 0h0m2 0h0m1 0h0m2 0h0m1 0h0m2 0h0m1 0h0m1 0h0m2 0h0m1 0h0m1 0h0m7 0h0m1 0h0m-41 1h0m1 0h0m1 0h0m1 0h0m2 0h0m1 0h0m2 0h0m1 0h0m2 0h0m2 0h0m2 0h0m1 0h0m2 0h0m1 0h0m1 0h0m2 0h0m1 0h0m1 0h0m1 0h0m1 0h0m1 0h0m1 0h0m1 0h0m1 0h0m3 0h0m2 0h0m-38 1h0m5 0h0m3 0h0m1 0h0m2 0h0m1 0h0m3 0h0m1 0h0m1 0h0m3 0h0m1 0h0m1 0h0m1 0h0m2 0h0m1 0h0m1 0h0m1 0h0m2 0h0m5 0h0m3 0h0m15 0h0m-50 1h0m2 0h0m4 0h0m2 0h0m2 0h0m1 0h0m4 0h0m1 0h0m2 0h0m2 0h0m3 0h0m5 0h0m2 0h0m1 0h0m1 0h0m2 0h0m2 0h0m2 0h0m-42 1h0m6 0h0m3 0h0m1 0h0m1 0h0m1 0h0m1 0h0m3 0h0m2 0h0m2 0h0m1 0h0m1 0h0m1 0h0m1 0h0m1 0h0m1 0h0m1 0h0m1 0h0m3 0h0m12 0h0m-47 1h0m4 0h0m7 0h0m3 0h0m4 0h0m1 0h0m1 0h0m2 0h0m1 0h0m1 0h0m1 0h0m4 0h0m2 0h0m1 0h0m5 0h0m-34 1h0m7 0h0m1 0h0m2 0h0m1 0h0m2 0h0m1 0h0m1 0h0m1 0h0m1 0h0m3 0h0m1 0h0m1 0h0m2 0h0m2 0h0m1 0h0m3 0h0m-28 1h0m4 0h0m2 0h0m1 0h0m4 0h0m3 0h0m2 0h0m1 0h0m2 0h0m5 0h0m12 0h0m1 0h0m-49 1h0m12 0h0m6 0h0m4 0h0m3 0h0m2 0h0m6 0h0m1 0h0m3 0h0m-24 1h0m2 0h0m3 0h0m2 0h0m5 0h0m5 0h0m1 0h0m4 0h0m5 0h0m-28 1h0m16 0h0m2 0h0m14 0h0m4 0h0m10 0h0m-55 1h0m4 0h0m1 0h0m11 0h0m12 0h0m1 0h0m20 0h0m8 0h0m-30 1h0m17 0h0m14 0h0m-48 1h0m7 0h0m1 0h0m1 0h0m-1 1h0m-6 1h0m8 7h0" stroke="#0000ff" stroke-width="2.3" stroke-linecap="round" fill="none"/>
<path d="M443 53h0m8 1h0m2 1h0m-12 1h0m-19 1h0m19 0h0m3 0h0m9 0h0m-36 1h0m11 0h0m10 0h0m2 0h0m3 0h0m14 0h0m-22 1h0m-12 1h0m4 0h0m20 0h0m7 0h0m-18 1h0m7 0h0m5 0h0m1 0h0m1 0h0m-13 1h0m5 0h0m10 0h0m1 0h0m-31 1h0m4 0h0m2 0h0m8 0h0m1 0h0m3 0h0m2 0h0m5 0h0m17 0h0m-40 1h0m15 0h0m2 0h0m11 0h0m17 0h0m-40 1h0m8 0h0m1 0h0m3 0h0m1 0h0m5 0h0m-27 1h0m14 0h0m8 0h0m3 0h0m4 0h0m2 0h0m-26 1h0m5 0h0m4 0h0m1 0h0m2 0h0m2 0h0m2 0h0m1 0h0m1 0h0m4 0h0m7 0h0m9 0h0m-48 1h0m2 0h0m1 0h0m14 0h0m3 0h0m3 0h0m2 0h0m1 0h0m1 0h0m2 0h0m2 0h0m5 0h0m4 0h0m1 0h0m3 0h0m-40 1h0m3 0h0m5 0h0m1 0h0m3 0h0m1 0h0m2 0h0m1 0h0m4 0h0m1 0h0m1 0h0m9 0h0m4 0h0m3 0h0m2 0h0m8 0h0m-48 1h0m6 0h0m3 0h0m1 0h0m2 0h0m2 0h0m1 0h0m2 0h0m4 0h0m1 0h0m1 0h0m3 0h0m3 0h0m1 0h0m5 0h0m12 0h0m-66 1h0m1 0h0m13 0h0m5 0h0m1 0h0m3 0h0m1 0h0m1 0h0m4 0h0m1 0h0m1 0h0m3 0h0m2 0h0m1 0h0m1 0h0m1 0h0m4 0h0m1 0h0m2 0h0m1 0h0m1 0h0m1 0h0m1 0h0m6 0h0m9 0h0m-48 1h0m3 0h0m10 0h0m2 0h0m1 0h0m3 0h0m1 0h0m3 0h0m2 0h0m2 0h0m1 0h0m1 0h0m2 0h0m5 0h0m-28 1h0m3 0h0m1 0h0m1 0h0m2 0h0m1 0h0m1 0h0m1 0h0m1 0h0m1 0h0m2 0h0m2 0h0m2 0h0m2 0h0m1 0h0m1 0h0m4 0h0m4 0h0m1 0h0m8 0h0m-54 1h0m9 0h0m1 0h0m3 0h0m4 0h0m1 0h0m1 0h0m2 0h0m1 0h0m1 0h0m5 0h0m1 0h0m1 0h0m1 0h0m1 0h0m3 0h0m1 0h0m1 0h0m5 0h0m1 0h0m2 0h0m-31 1h0m3 0h0m1 0h0m2 0h0m2 0h0m1 0h0m1 0h0m1 0h0m1 0h0m1 0h0m1 0h0m1 0h0m1 0h0m1 0h0m2 0h0m2 0h0m1 0h0m2 0h0m1 0h0m1 0h0m3 0h0m-40 1h0m6 0h0m10 0h0m2 0h0m1 0h0m1 0h0m1 0h0m2 0h0m1 0h0m2 0h0m1 0h0m2 0h0m1 0h0m1 0h0m1 0h0m1 0h0m1 0h0m1 0h0m2 0h0m1 0h0m1 0h0m1 0h0m12 0h0m-62 1h0m1 0h0m7 0h0m11 0h0m1 0h0m1 0h0m1 0h0m1 0h0m1 0h0m2 0h0m1 0h0m3 0h0m1 0h0m3 0h0m1 0h0m1 0h0m1 0h0m1 0h0m1 0h0m1 0h0m1 0h0m1 0h0m2 0h0m2 0h0m7 0h0m3 0h0m4 0h0m2 0h0m-56 1h0m6 0h0m9 0h0m1 0h0m1 0h0m1 0h0m1 0h0m4 0h0m1 0h0m1 0h0m1 0h0m3 0h0m3 0h0m1 0h0m1 0h0m1 0h0m1 0h0m2 0h0m1 0h0m1 0h0m1 0h0m1 0h0m3 0h0m9 0h0m-53 1h0m11 0h0m1 0h0m1 0h0m1 0h0m5 0h0m3 0h0m1 0h0m1 0h0m1 0h0m1 0h0m1 0h0m1 0h0m1 0h0m1 0h0m2 0h0m1 0h0m4 0h0m1 0h0m2 0h0m1 0h0m1 0h0m2 0h0m1 0h0m6 0h0m-50 1h0m3 0h0m2 0h0m2 0h0m6 0h0m2 0h0m1 0h0m1 0h0m1 0h0m1 0h0m2 0h0m1 0h0m1 0h0m2 0h0m1 0h0m2 0h0m1 0h0m1 0h0m1 0h0m2 0h0m1 0h0m1 0h0m2 0h0m4 0h0m3 0h0m-38 1h0m3 0h0m1 0h0m2 0h0m2 0h0m3 0h0m1 0h0m1 0h0m1 0h0m2 0h0m1 0h0m1 0h0m1 0h0m2 0h0m1 0h0m2 0h0m2 0h0m2 0h0m2 0h0m1 0h0m1 0h0m2 0h0m5 0h0m2 0h0m4 0h0m4 0h0m-54 1h0m2 0h0m1 0h0m3 0h0m3 0h0m2 0h0m2 0h0m1 0h0m1 0h0m2 0h0m1 0h0m2 0h0m1 0h0m1 0h0m1 0h0m1 0h0m1 0h0m1 0h0m1 0h0m3 0h0m1 0h0m2 0h0m1 0h0m2 0h0m2 0h0m3 0h0m-35 1h0m1 0h0m3 0h0m2 0h0m1 0h0m3 0h0m1 0h0m1 0h0m3 0h0m1 0h0m1 0h0m1 0h0m1 0h0m1 0h0m1 0h0m1 0h0m1 0h0m1 0h0m3 0h0m2 0h0m1 0h0m2 0h0m-41 1h0m3 0h0m7 0h0m3 0h0m2 0h0m3 0h0m1 0h0m4 0h0m1 0h0m1 0h0m1 0h0m2 0h0m3 0h0m1 0h0m3 0h0m2 0h0m2 0h0m2 0h0m4 0h0m5 0h0m1 0h0m-49 1h0m5 0h0m2 0h0m5 0h0m1 0h0m2 0h0m1 0h0m4 0h0m1 0h0m1 0h0m1 0h0m1 0h0m1 0h0m1 0h0m1 0h0m2 0h0m2 0h0m1 0h0m1 0h0m1 0h0m5 0h0m5 0h0m-53 1h0m9 0h0m2 0h0m3 0h0m2 0h0m2 0h0m2 0h0m1 0h0m1 0h0m2 0h0m1 0h0m1 0h0m1 0h0m1 0h0m2 0h0m1 0h0m1 0h0m1 0h0m1 0h0m3 0h0m1 0h0m1 0h0m2 0h0m2 0h0m2 0h0m2 0h0m2 0h0m6 0h0m1 0h0m12 0h0m-60 1h0m3 0h0m3 0h0m1 0h0m1 0h0m4 0h0m2 0h0m2 0h0m1 0h0m1 0h0m2 0h0m1 0h0m1 0h0m1 0h0m1 0h0m2 0h0m2 0h0m1 0h0m2 0h0m1 0h0m3 0h0m1 0h0m3 0h0m1 0h0m3 0h0m-35 1h0m1 0h0m2 0h0m3 0h0m1 0h0m1 0h0m2 0h0m1 0h0m3 0h0m1 0h0m1 0h0m3 0h0m1 0h0m2 0h0m4 0h0m1 0h0m3 0h0m2 0h0m7 0h0m9 0h0m-54 1h0m7 0h0m1 0h0m2 0h0m2 0h0m3 0h0m1 0h0m3 0h0m1 0h0m2 0h0m2 0h0m2 0h0m1 0h0m4 0h0m1 0h0m1 0h0m1 0h0m1 0h0m5 0h0m4 0h0m6 0h0m2 0h0m-61 1h0m3 0h0m6 0h0m2 0h0m7 0h0m2 0h0m2 0h0m1 0h0m3 0h0m6 0h0m3 0h0m1 0h0m6 0h0m5 0h0m-44 1h0m6 0h0m5 0h0m3 0h0m1 0h0m3 0h0m4 0h0m1 0h0m2 0h0m1 0h0m1 0h0m3 0h0m2 0h0m1 0h0m2 0h0m7 0h0m9 0h0m-37 1h0m6 0h0m2 0h0m4 0h0m5 0h0m1 0h0m1 0h0m1 0h0m2 0h0m2 0h0m2 0h0m3 0h0m2 0h0m4 0h0m-35 1h0m3 0h0m2 0h0m1 0h0m6 0h0m1 0h0m3 0h0m1 0h0m1 0h0m2 0h0m3 0h0m1 0h0m8 0h0m-29 1h0m1 0h0m1 0h0m1 0h0m5 0h0m1 0h0m1 0h0m1 0h0m2 0h0m2 0h0m3 0h0m1 0h0m3 0h0m1 0h0m1 0h0m4 0h0m2 0h0m2 0h0m-51 1h0m13 0h0m5 0h0m3 0h0m1 0h0m1 0h0m3 0h0m1 0h0m3 0h0m3 0h0m1 0h0m4 0h0m1 0h0m1 0h0m6 0h0m-34 1h0m10 0h0m2 0h0m2 0h0m4 0h0m2 0h0m2 0h0m3 0h0m3 0h0m1 0h0m4 0h0m9 0h0m-55 1h0m11 0h0m5 0h0m8 0h0m3 0h0m4 0h0m1 0h0m2 0h0m7 0h0m2 0h0m5 0h0m4 0h0m-28 1h0m5 0h0m1 0h0m3 0h0m3 0h0m-34 1h0m6 0h0m11 0h0m5 0h0m10 0h0m1 0h0m31 0h0m-52 1h0m10 0h0m7 0h0m11 0h0m8 0h0m-41 1h0m1 0h0m14 0h0m1 0h0m5 0h0m-15 1h0m14 0h0m10 0h0m13 0h0m-46 1h0m0 1h0m15 0h0m5 0h0m3 0h0m8 0h0m34 0h0m-33 1h0m6 0h0m-13 1h0m-25 1h0m3 0h0m0 1h0m23 2h0m-15 1h0m17 1h0m0 1h0m-24 2h0m41 7h0" stroke="#0000ff" stroke-width="2.3" stroke-linecap="round" fill="none"/>
<path d="M532 56h0m-12 2h0m10 0h0m10 0h0m-11 1h0m1 0h0m21 0h0m-22 1h0m3 1h0m-37 1h0m23 0h0m5 0h0m20 0h0m7 0h0m-27 1h0m2 0h0m6 0h0m-18 1h0m8 0h0m1 0h0m5 0h0m4 0h0m4 0h0m3 0h0m7 0h0m-19 1h0m5 0h0m19 0h0m-29 1h0m1 0h0m2 0h0m3 0h0m5 0h0m1 0h0m7 0h0m3 0h0m3 0h0m-28 1h0m5 0h0m3 0h0m2 0h0m3 0h0m2 0h0m1 0h0m2 0h0m6 0h0m-19 1h0m2 0h0m11 0h0m1 0h0m1 0h0m4 0h0m-32 1h0m4 0h0m3 0h0m4 0h0m3 0h0m3 0h0m1 0h0m3 0h0m1 0h0m4 0h0m7 0h0m2 0h0m-39 1h0m5 0h0m8 0h0m2 0h0m2 0h0m1 0h0m1 0h0m3 0h0m2 0h0m4 0h0m11 0h0m-37 1h0m3 0h0m4 0h0m6 0h0m1 0h0m1 0h0m1 0h0m2 0h0m1 0h0m1 0h0m7 0h0m1 0h0m2 0h0m11 0h0m3 0h0m-43 1h0m4 0h0m2 0h0m4 0h0m1 0h0m3 0h0m3 0h0m1 0h0m1 0h0m2 0h0m1 0h0m3 0h0m2 0h0m3 0h0m12 0h0m-36 1h0m2 0h0m3 0h0m1 0h0m3 0h0m1 0h0m1 0h0m1 0h0m1 0h0m1 0h0m1 0h0m1 0h0m3 0h0m4 0h0m3 0h0m2 0h0m6 0h0m-46 1h0m7 0h0m5 0h0m2 0h0m1 0h0m1 0h0m2 0h0m1 0h0m1 0h0m3 0h0m1 0h0m1 0h0m2 0h0m1 0h0m4 0h0m5 0h0m2 0h0m-25 1h0m3 0h0m2 0h0m1 0h0m3 0h0m1 0h0m1 0h0m1 0h0m2 0h0m3 0h0m1 0h0m9 0h0m5 0h0m10 0h0m-70 1h0m17 0h0m1 0h0m4 0h0m6 0h0m1 0h0m1 0h0m1 0h0m1 0h0m9 0h0m1 0h0m1 0h0m3 0h0m7 0h0m2 0h0m6 0h0m2 0h0m-47 1h0m3 0h0m1 0h0m4 0h0m2 0h0m1 0h0m2 0h0m2 0h0m1 0h0m1 0h0m1 0h0m2 0h0m1 0h0m2 0h0m3 0h0m1 0h0m1 0h0m1 0h0m2 0h0m1 0h0m2 0h0m2 0h0m1 0h0m1 0h0m-42 1h0m10 0h0m2 0h0m1 0h0m2 0h0m1 0h0m1 0h0m1 0h0m2 0h0m2 0h0m1 0h0m2 0h0m1 0h0m1 0h0m1 0h0m3 0h0m2 0h0m1 0h0m1 0h0m1 0h0m8 0h0m9 0h0m-46 1h0m2 0h0m1 0h0m5 0h0m3 0h0m1 0h0m1 0h0m2 0h0m1 0h0m1 0h0m1 0h0m1 0h0m1 0h0m1 0h0m1 0h0m2 0h0m3 0h0m1 0h0m1 0h0m1 0h0m-32 1h0m3 0h0m1 0h0m5 0h0m2 0h0m1 0h0m1 0h0m2 0h0m1 0h0m2 0h0m2 0h0m1 0h0m1 0h0m2 0h0m3 0h0m1 0h0m2 0h0m9 0h0m2 0h0m1 0h0m-36 1h0m1 0h0m2 0h0m1 0h0m1 0h0m2 0h0m1 0h0m1 0h0m2 0h0m2 0h0m4 0h0m1 0h0m1 0h0m2 0h0m1 0h0m2 0h0m1 0h0m2 0h0m2 0h0m-40 1h0m10 0h0m1 0h0m1 0h0m2 0h0m1 0h0m1 0h0m1 0h0m2 0h0m2 0h0m1 0h0m1 0h0m1 0h0m2 0h0m1 0h0m2 0h0m2 0h0m1 0h0m1 0h0m1 0h0m8 0h0m2 0h0m-45 1h0m2 0h0m3 0h0m8 0h0m3 0h0m1 0h0m2 0h0m1 0h0m1 0h0m1 0h0m1 0h0m1 0h0m1 0h0m1 0h0m1 0h0m3 0h0m2 0h0m2 0h0m2 0h0m2 0h0m7 0h0m16 0h0m-61 1h0m7 0h0m1 0h0m2 0h0m1 0h0m3 0h0m1 0h0m2 0h0m1 0h0m1 0h0m1 0h0m1 0h0m3 0h0m1 0h0m2 0h0m1 0h0m2 0h0m1 0h0m1 0h0m2 0h0m3 0h0m4 0h0m-40 1h0m5 0h0m6 0h0m1 0h0m7 0h0m2 0h0m1 0h0m2 0h0m1 0h0m3 0h0m1 0h0m3 0h0m1 0h0m1 0h0m3 0h0m3 0h0m6 0h0m-43 1h0m2 0h0m4 0h0m1 0h0m2 0h0m2 0h0m1 0h0m1 0h0m1 0h0m4 0h0m1 0h0m1 0h0m1 0h0m1 0h0m2 0h0m2 0h0m1 0h0m3 0h0m2 0h0m2 0h0m1 0h0m2 0h0m3 0h0m7 0h0m-52 1h0m10 0h0m6 0h0m3 0h0m1 0h0m1 0h0m1 0h0m1 0h0m1 0h0m1 0h0m1 0h0m2 0h0m1 0h0m2 0h0m1 0h0m2 0h0m1 0h0m1 0h0m5 0h0m1 0h0m4 0h0m5 0h0m-44 1h0m4 0h0m1 0h0m1 0h0m4 0h0m1 0h0m2 0h0m1 0h0m2 0h0m1 0h0m1 0h0m3 0h0m3 0h0m2 0h0m1 0h0m1 0h0m2 0h0m1 0h0m1 0h0m4 0h0m3 0h0m-45 1h0m6 0h0m2 0h0m2 0h0m2 0h0m1 0h0m1 0h0m1 0h0m1 0h0m3 0h0m1 0h0m2 0h0m5 0h0m1 0h0m2 0h0m1 0h0m7 0h0m3 0h0m5 0h0m14 0h0m-58 1h0m4 0h0m2 0h0m1 0h0m2 0h0m1 0h0m1 0h0m2 0h0m1 0h0m1 0h0m1 0h0m2 0h0m1 0h0m2 0h0m3 0h0m3 0h0m1 0h0m6 0h0m3 0h0m2 0h0m1 0h0m9 0h0m-51 1h0m4 0h0m9 0h0m1 0h0m3 0h0m1 0h0m1 0h0m1 0h0m1 0h0m2 0h0m1 0h0m1 0h0m1 0h0m1 0h0m1 0h0m4 0h0m1 0h0m1 0h0m3 0h0m1 0h0m-40 1h0m2 0h0m4 0h0m4 0h0m1 0h0m1 0h0m2 0h0m2 0h0m1 0h0m1 0h0m1 0h0m1 0h0m2 0h0m3 0h0m1 0h0m3 0h0m2 0h0m1 0h0m1 0h0m2 0h0m1 0h0m2 0h0m14 0h0m-41 1h0m1 0h0m6 0h0m1 0h0m1 0h0m3 0h0m1 0h0m2 0h0m2 0h0m1 0h0m1 0h0m1 0h0m1 0h0m1 0h0m2 0h0m1 0h0m1 0h0m1 0h0m5 0h0m1 0h0m-38 1h0m3 0h0m3 0h0m1 0h0m1 0h0m1 0h0m1 0h0m1 0h0m1 0h0m1 0h0m2 0h0m3 0h0m2 0h0m1 0h0m1 0h0m2 0h0m1 0h0m2 0h0m1 0h0m1 0h0m2 0h0m1 0h0m1 0h0m5 0h0m-40 1h0m3 0h0m2 0h0m2 0h0m1 0h0m1 0h0m5 0h0m1 0h0m1 0h0m1 0h0m3 0h0m2 0h0m1 0h0m3 0h0m1 0h0m1 0h0m1 0h0m2 0h0m2 0h0m3 0h0m1 0h0m-31 1h0m1 0h0m7 0h0m2 0h0m1 0h0m2 0h0m1 0h0m1 0h0m1 0h0m2 0h0m2 0h0m1 0h0m6 0h0m3 0h0m21 0h0m-51 1h0m1 0h0m6 0h0m1 0h0m1 0h0m3 0h0m1 0h0m1 0h0m8 0h0m1 0h0m5 0h0m-29 1h0m3 0h0m9 0h0m1 0h0m1 0h0m2 0h0m1 0h0m1 0h0m1 0h0m3 0h0m3 0h0m1 0h0m-29 1h0m9 0h0m1 0h0m4 0h0m5 0h0m2 0h0m1 0h0m1 0h0m1 0h0m1 0h0m2 0h0m2 0h0m2 0h0m11 0h0m-47 1h0m8 0h0m1 0h0m5 0h0m1 0h0m1 0h0m2 0h0m3 0h0m7 0h0m1 0h0m4 0h0m5 0h0m7 0h0m-56 1h0m3 0h0m20 0h0m3 0h0m2 0h0m1 0h0m2 0h0m4 0h0m2 0h0m1 0h0m3 0h0m1 0h0m1 0h0m8 0h0m1 0h0m6 0h0m-35 1h0m1 0h0m6 0h0m3 0h0m1 0h0m5 0h0m-29 1h0m6 0h0m5 0h0m6 0h0m3 0h0m1 0h0m4 0h0m3 0h0m8 0h0m5 0h0m3 0h0m-35 1h0m3 0h0m4 0h0m1 0h0m2 0h0m5 0h0m2 0h0m11 0h0m-29 1h0m4 0h0m9 0h0m4 0h0m1 0h0m-13 1h0m5 0h0m5 0h0m5 0h0m-19 1h0m10 0h0m1 0h0m7 0h0m1 0h0m1 0h0m1 0h0m2 0h0m4 0h0m13 0h0m-25 1h0m4 0h0m-15 1h0m6 0h0m1 0h0m1 0h0m18 0h0m-33 1h0m10 0h0m1 0h0m14 0h0m-16 1h0m2 0h0m17 0h0m-20 1h0m8 0h0m-4 1h0m-13 4h0m7 0h0m14 0h0m23 0h0m-43 1h0m4 3h0m36 2h0" stroke="#0000ff" stroke-width="2.3" stroke-linecap="round" fill="none"/>
<path d="M632 57h0m4 1h0m-35 1h0m15 0h0m-6 1h0m8 0h0m9 0h0m-3 1h0m10 0h0m-9 1h0m3 0h0m6 0h0m-17 2h0m22 0h0m-27 1h0m1 0h0m4 0h0m6 0h0m2 0h0m8 0h0m-10 1h0m11 0h0m3 0h0m-29 1h0m7 0h0m4 0h0m4 0h0m2 0h0m1 0h0m2 0h0m3 0h0m2 0h0m1 0h0m-27 1h0m7 0h0m1 0h0m3 0h0m3 0h0m1 0h0m2 0h0m4 0h0m2 0h0m4 0h0m12 0h0m-47 1h0m9 0h0m3 0h0m1 0h0m3 0h0m3 0h0m2 0h0m1 0h0m1 0h0m2 0h0m2 0h0m2 0h0m1 0h0m2 0h0m3 0h0m5 0h0m2 0h0m-36 1h0m4 0h0m2 0h0m4 0h0m1 0h0m1 0h0m4 0h0m1 0h0m1 0h0m3 0h0m3 0h0m1 0h0m2 0h0m11 0h0m-41 1h0m5 0h0m5 0h0m1 0h0m3 0h0m2 0h0m4 0h0m1 0h0m1 0h0m2 0h0m2 0h0m1 0h0m4 0h0m10 0h0m2 0h0m-51 1h0m2 0h0m12 0h0m1 0h0m2 0h0m2 0h0m1 0h0m2 0h0m2 0h0m1 0h0m1 0h0m1 0h0m1 0h0m1 0h0m2 0h0m1 0h0m2 0h0m2 0h0m1 0h0m1 0h0m1 0h0m2 0h0m-48 1h0m11 0h0m7 0h0m4 0h0m2 0h0m2 0h0m2 0h0m3 0h0m2 0h0m1 0h0m1 0h0m1 0h0m1 0h0m3 0h0m2 0h0m5 0h0m-38 1h0m5 0h0m2 0h0m3 0h0m2 0h0m1 0h0m1 0h0m1 0h0m1 0h0m1 0h0m3 0h0m2 0h0m1 0h0m1 0h0m1 0h0m1 0h0m1 0h0m1 0h0m2 0h0m1 0h0m3 0h0m8 0h0m4 0h0m-41 1h0m1 0h0m1 0h0m1 0h0m1 0h0m3 0h0m1 0h0m4 0h0m1 0h0m1 0h0m1 0h0m1 0h0m1 0h0m1 0h0m1 0h0m2 0h0m1 0h0m2 0h0m6 0h0m1 0h0m5 0h0m-39 1h0m6 0h0m4 0h0m1 0h0m1 0h0m2 0h0m1 0h0m1 0h0m3 0h0m1 0h0m2 0h0m1 0h0m1 0h0m2 0h0m2 0h0m3 0h0m6 0h0m-49 1h0m18 0h0m1 0h0m2 0h0m2 0h0m1 0h0m1 0h0m1 0h0m1 0h0m1 0h0m2 0h0m1 0h0m4 0h0m1 0h0m1 0h0m2 0h0m2 0h0m2 0h0m10 0h0m-41 1h0m2 0h0m1 0h0m3 0h0m1 0h0m2 0h0m1 0h0m1 0h0m1 0h0m2 0h0m1 0h0m1 0h0m1 0h0m1 0h0m1 0h0m1 0h0m1 0h0m1 0h0m1 0h0m1 0h0m1 0h0m3 0h0m1 0h0m1 0h0m2 0h0m3 0h0m4 0h0m2 0h0m-40 1h0m1 0h0m1 0h0m1 0h0m1 0h0m4 0h0m1 0h0m2 0h0m1 0h0m1 0h0m1 0h0m1 0h0m1 0h0m2 0h0m1 0h0m2 0h0m1 0h0m1 0h0m3 0h0m1 0h0m1 0h0m1 0h0m7 0h0m2 0h0m-44 1h0m1 0h0m2 0h0m2 0h0m4 0h0m1 0h0m2 0h0m1 0h0m1 0h0m1 0h0m1 0h0m1 0h0m1 0h0m1 0h0m1 0h0m1 0h0m1 0h0m2 0h0m2 0h0m1 0h0m2 0h0m1 0h0m1 0h0m1 0h0m1 0h0m3 0h0m2 0h0m1 0h0m-40 1h0m4 0h0m3 0h0m1 0h0m1 0h0m1 0h0m1 0h0m2 0h0m1 0h0m2 0h0m1 0h0m1 0h0m1 0h0m2 0h0m2 0h0m1 0h0m1 0h0m1 0h0m1 0h0m1 0h0m1 0h0m1 0h0m2 0h0m5 0h0m2 0h0m-50 1h0m13 0h0m2 0h0m3 0h0m2 0h0m2 0h0m1 0h0m2 0h0m1 0h0m1 0h0m1 0h0m1 0h0m2 0h0m1 0h0m1 0h0m1 0h0m1 0h0m1 0h0m1 0h0m2 0h0m1 0h0m1 0h0m3 0h0m1 0h0m2 0h0m2 0h0m7 0h0m-50 1h0m9 0h0m5 0h0m1 0h0m2 0h0m1 0h0m1 0h0m1 0h0m1 0h0m1 0h0m1 0h0m1 0h0m1 0h0m2 0h0m2 0h0m1 0h0m1 0h0m1 0h0m1 0h0m1 0h0m1 0h0m1 0h0m1 0h0m5 0h0m2 0h0m1 0h0m-49 1h0m2 0h0m2 0h0m6 0h0m7 0h0m1 0h0m1 0h0m1 0h0m3 0h0m1 0h0m1 0h0m1 0h0m1 0h0m1 0h0m1 0h0m2 0h0m4 0h0m2 0h0m1 0h0m1 0h0m8 0h0m13 0h0m-67 1h0m6 0h0m10 0h0m1 0h0m1 0h0m2 0h0m3 0h0m1 0h0m1 0h0m1 0h0m1 0h0m1 0h0m1 0h0m2 0h0m2 0h0m1 0h0m3 0h0m1 0h0m1 0h0m2 0h0m2 0h0m5 0h0m3 0h0m3 0h0m-52 1h0m5 0h0m2 0h0m9 0h0m2 0h0m4 0h0m2 0h0m1 0h0m2 0h0m1 0h0m1 0h0m1 0h0m5 0h0m1 0h0m1 0h0m1 0h0m4 0h0m1 0h0m1 0h0m1 0h0m3 0h0m8 0h0m-47 1h0m4 0h0m4 0h0m3 0h0m1 0h0m1 0h0m1 0h0m1 0h0m1 0h0m2 0h0m1 0h0m1 0h0m1 0h0m2 0h0m2 0h0m1 0h0m2 0h0m1 0h0m1 0h0m1 0h0m1 0h0m1 0h0m4 0h0m5 0h0m2 0h0m-49 1h0m3 0h0m2 0h0m5 0h0m1 0h0m2 0h0m3 0h0m2 0h0m2 0h0m1 0h0m1 0h0m3 0h0m1 0h0m2 0h0m1 0h0m1 0h0m1 0h0m1 0h0m1 0h0m5 0h0m1 0h0m1 0h0m4 0h0m3 0h0m-44 1h0m1 0h0m4 0h0m1 0h0m1 0h0m4 0h0m1 0h0m1 0h0m1 0h0m1 0h0m1 0h0m1 0h0m3 0h0m1 0h0m2 0h0m2 0h0m1 0h0m2 0h0m1 0h0m1 0h0m1 0h0m2 0h0m10 0h0m-39 1h0m1 0h0m1 0h0m4 0h0m1 0h0m1 0h0m1 0h0m1 0h0m1 0h0m1 0h0m1 0h0m3 0h0m1 0h0m1 0h0m2 0h0m1 0h0m2 0h0m1 0h0m2 0h0m-32 1h0m12 0h0m1 0h0m1 0h0m1 0h0m3 0h0m2 0h0m3 0h0m2 0h0m1 0h0m1 0h0m2 0h0m3 0h0m5 0h0m4 0h0m6 0h0m-39 1h0m2 0h0m2 0h0m6 0h0m3 0h0m1 0h0m1 0h0m1 0h0m3 0h0m1 0h0m1 0h0m8 0h0m1 0h0m2 0h0m4 0h0m-46 1h0m5 0h0m10 0h0m1 0h0m1 0h0m1 0h0m2 0h0m4 0h0m1 0h0m1 0h0m1 0h0m1 0h0m1 0h0m5 0h0m5 0h0m4 0h0m-45 1h0m8 0h0m2 0h0m3 0h0m8 0h0m1 0h0m1 0h0m1 0h0m2 0h0m1 0h0m4 0h0m1 0h0m3 0h0m6 0h0m1 0h0m2 0h0m2 0h0m2 0h0m-31 1h0m5 0h0m2 0h0m13 0h0m7 0h0m-33 1h0m1 0h0m7 0h0m3 0h0m5 0h0m2 0h0m-17 1h0m5 0h0m9 0h0m3 0h0m10 0h0m3 0h0m-46 1h0m11 0h0m9 0h0m5 0h0m5 0h0m10 0h0m-22 1h0m3 0h0m11 0h0m21 0h0m-49 1h0m19 0h0m5 1h0m-8 1h0m-13 1h0m15 0h0m1 0h0m-8 1h0m5 0h0m-1 2h0m13 0h0m-25 4h0m11 4h0" stroke="#0000ff" stroke-width="2.3" stroke-linecap="round" fill="none"/>
<path d="M704 51h0m7 1h0m-6 1h0m9 0h0m-17 1h0m1 0h0m5 0h0m-12 1h0m14 0h0m-10 1h0m1 0h0m7 0h0m6 0h0m5 0h0m14 0h0m-32 1h0m6 0h0m7 0h0m7 0h0m-1 1h0m-16 1h0m7 0h0m4 0h0m7 0h0m-30 1h0m15 0h0m8 0h0m2 0h0m-27 1h0m6 0h0m4 0h0m2 0h0m3 0h0m3 0h0m2 0h0m1 0h0m2 0h0m7 0h0m-24 1h0m4 0h0m3 0h0m6 0h0m9 0h0m-23 1h0m2 0h0m13 0h0m4 0h0m4 0h0m1 0h0m4 0h0m-17 1h0m5 0h0m6 0h0m3 0h0m-24 1h0m2 0h0m4 0h0m4 0h0m2 0h0m2 0h0m2 0h0m11 0h0m5 0h0m-32 1h0m5 0h0m2 0h0m2 0h0m14 0h0m4 0h0m1 0h0m-43 1h0m8 0h0m3 0h0m6 0h0m5 0h0m3 0h0m2 0h0m2 0h0m4 0h0m-20 1h0m8 0h0m3 0h0m2 0h0m1 0h0m2 0h0m2 0h0m1 0h0m4 0h0m8 0h0m-36 1h0m5 0h0m1 0h0m7 0h0m1 0h0m2 0h0m1 0h0m2 0h0m2 0h0m3 0h0m2 0h0m-35 1h0m10 0h0m6 0h0m4 0h0m2 0h0m1 0h0m2 0h0m1 0h0m1 0h0m1 0h0m2 0h0m1 0h0m1 0h0m2 0h0m2 0h0m-18 1h0m4 0h0m1 0h0m2 0h0m5 0h0m1 0h0m3 0h0m1 0h0m4 0h0m2 0h0m1 0h0m-31 1h0m1 0h0m4 0h0m3 0h0m2 0h0m1 0h0m1 0h0m1 0h0m1 0h0m2 0h0m2 0h0m2 0h0m1 0h0m3 0h0m16 0h0m5 0h0m-44 1h0m5 0h0m4 0h0m1 0h0m1 0h0m2 0h0m3 0h0m1 0h0m3 0h0m-26 1h0m12 0h0m1 0h0m3 0h0m2 0h0m1 0h0m2 0h0m1 0h0m1 0h0m2 0h0m1 0h0m3 0h0m6 0h0m5 0h0m1 0h0m3 0h0m-42 1h0m6 0h0m4 0h0m1 0h0m1 0h0m2 0h0m1 0h0m2 0h0m2 0h0m1 0h0m5 0h0m2 0h0m1 0h0m4 0h0m3 0h0m3 0h0m3 0h0m-43 1h0m5 0h0m3 0h0m1 0h0m1 0h0m1 0h0m1 0h0m1 0h0m1 0h0m1 0h0m1 0h0m4 0h0m7 0h0m4 0h0m2 0h0m-25 1h0m5 0h0m1 0h0m1 0h0m2 0h0m1 0h0m3 0h0m1 0h0m1 0h0m1 0h0m2 0h0m1 0h0m2 0h0m1 0h0m3 0h0m1 0h0m6 0h0m1 0h0m-39 1h0m6 0h0m1 0h0m1 0h0m1 0h0m1 0h0m1 0h0m1 0h0m1 0h0m1 0h0m2 0h0m1 0h0m1 0h0m2 0h0m2 0h0m2 0h0m3 0h0m1 0h0m1 0h0m3 0h0m4 0h0m-55 1h0m19 0h0m3 0h0m5 0h0m6 0h0m1 0h0m8 0h0m1 0h0m1 0h0m2 0h0m1 0h0m4 0h0m-30 1h0m6 0h0m1 0h0m1 0h0m1 0h0m1 0h0m1 0h0m2 0h0m1 0h0m1 0h0m1 0h0m2 0h0m7 0h0m2 0h0m1 0h0m1 0h0m1 0h0m-30 1h0m5 0h0m1 0h0m1 0h0m3 0h0m1 0h0m1 0h0m2 0h0m3 0h0m1 0h0m1 0h0m1 0h0m3 0h0m2 0h0m1 0h0m7 0h0m10 0h0m-43 1h0m2 0h0m1 0h0m4 0h0m1 0h0m2 0h0m1 0h0m2 0h0m1 0h0m2 0h0m2 0h0m3 0h0m1 0h0m3 0h0m2 0h0m4 0h0m11 0h0m-41 1h0m7 0h0m1 0h0m2 0h0m1 0h0m1 0h0m2 0h0m1 0h0m1 0h0m1 0h0m2 0h0m1 0h0m1 0h0m1 0h0m1 0h0m3 0h0m1 0h0m1 0h0m9 0h0m-51 1h0m12 0h0m4 0h0m2 0h0m1 0h0m1 0h0m2 0h0m2 0h0m1 0h0m5 0h0m1 0h0m2 0h0m1 0h0m2 0h0m2 0h0m1 0h0m2 0h0m8 0h0m5 0h0m-35 1h0m1 0h0m1 0h0m1 0h0m1 0h0m1 0h0m1 0h0m1 0h0m1 0h0m2 0h0m1 0h0m1 0h0m1 0h0m5 0h0m6 0h0m1 0h0m2 0h0m-35 1h0m2 0h0m1 0h0m1 0h0m1 0h0m3 0h0m1 0h0m1 0h0m2 0h0m1 0h0m1 0h0m2 0h0m1 0h0m5 0h0m1 0h0m1 0h0m2 0h0m1 0h0m1 0h0m1 0h0m1 0h0m-30 1h0m2 0h0m1 0h0m4 0h0m4 0h0m2 0h0m1 0h0m1 0h0m1 0h0m1 0h0m1 0h0m2 0h0m4 0h0m1 0h0m2 0h0m7 0h0m-36 1h0m5 0h0m1 0h0m1 0h0m4 0h0m1 0h0m3 0h0m5 0h0m1 0h0m1 0h0m1 0h0m1 0h0m1 0h0m1 0h0m1 0h0m5 0h0m1 0h0m2 0h0m1 0h0m8 0h0m1 0h0m-45 1h0m4 0h0m6 0h0m1 0h0m2 0h0m1 0h0m1 0h0m1 0h0m1 0h0m1 0h0m1 0h0m1 0h0m1 0h0m2 0h0m1 0h0m4 0h0m2 0h0m3 0h0m2 0h0m6 0h0m-44 1h0m3 0h0m1 0h0m8 0h0m1 0h0m1 0h0m1 0h0m2 0h0m1 0h0m1 0h0m1 0h0m1 0h0m1 0h0m1 0h0m2 0h0m2 0h0m6 0h0m-29 1h0m2 0h0m1 0h0m4 0h0m2 0h0m1 0h0m1 0h0m2 0h0m1 0h0m1 0h0m1 0h0m1 0h0m3 0h0m1 0h0m1 0h0m1 0h0m1 0h0m1 0h0m1 0h0m1 0h0m4 0h0m5 0h0m-37 1h0m2 0h0m5 0h0m4 0h0m1 0h0m1 0h0m1 0h0m1 0h0m1 0h0m1 0h0m3 0h0m1 0h0m1 0h0m3 0h0m2 0h0m1 0h0m2 0h0m3 0h0m-26 1h0m3 0h0m1 0h0m3 0h0m1 0h0m2 0h0m2 0h0m1 0h0m1 0h0m1 0h0m2 0h0m1 0h0m3 0h0m1 0h0m1 0h0m1 0h0m2 0h0m-33 1h0m2 0h0m6 0h0m1 0h0m1 0h0m2 0h0m1 0h0m5 0h0m1 0h0m3 0h0m2 0h0m3 0h0m2 0h0m2 0h0m1 0h0m-28 1h0m1 0h0m2 0h0m2 0h0m3 0h0m5 0h0m1 0h0m3 0h0m5 0h0m3 0h0m2 0h0m1 0h0m2 0h0m-34 1h0m2 0h0m4 0h0m2 0h0m1 0h0m1 0h0m4 0h0m1 0h0m1 0h0m3 0h0m3 0h0m1 0h0m4 0h0m11 0h0m-48 1h0m12 0h0m3 0h0m1 0h0m1 0h0m2 0h0m2 0h0m2 0h0m3 0h0m9 0h0m1 0h0m1 0h0m1 0h0m3 0h0m2 0h0m18 0h0m-53 1h0m2 0h0m2 0h0m3 0h0m2 0h0m1 0h0m1 0h0m1 0h0m4 0h0m2 0h0m1 0h0m1 0h0m2 0h0m1 0h0m3 0h0m1 0h0m4 0h0m4 0h0m-36 1h0m3 0h0m3 0h0m2 0h0m5 0h0m2 0h0m1 0h0m3 0h0m1 0h0m4 0h0m2 0h0m3 0h0m-24 1h0m3 0h0m2 0h0m4 0h0m2 0h0m1 0h0m1 0h0m1 0h0m1 0h0m1 0h0m2 0h0m1 0h0m2 0h0m4 0h0m4 0h0m-35 1h0m9 0h0m1 0h0m7 0h0m8 0h0m3 0h0m4 0h0m-31 1h0m6 0h0m8 0h0m4 0h0m1 0h0m1 0h0m2 0h0m3 0h0m4 0h0m-28 1h0m1 0h0m8 0h0m2 0h0m2 0h0m1 0h0m2 0h0m2 0h0m6 0h0m1 0h0m16 0h0m-42 1h0m8 0h0m3 0h0m1 0h0m1 0h0m2 0h0m5 0h0m1 0h0m1 0h0m7 0h0m1 0h0m3 0h0m-30 1h0m5 0h0m2 0h0m6 0h0m2 0h0m5 0h0m3 0h0m1 0h0m9 0h0m-33 1h0m1 0h0m8 0h0m6 0h0m4 0h0m2 0h0m1 0h0m-21 1h0m3 0h0m5 0h0m7 0h0m4 0h0m-25 1h0m1 0h0m8 0h0m2 0h0m3 0h0m7 0h0m1 0h0m1 0h0m2 0h0m5 0h0m-30 1h0m7 0h0m10 0h0m18 0h0m4 0h0m-45 1h0m18 0h0m4 0h0m7 0h0m3 0h0m2 0h0m2 0h0m5 0h0m-35 1h0m7 0h0m1 0h0m10 0h0m1 0h0m10 0h0m6 0h0m-25 1h0m1 0h0m7 0h0m-5 1h0m1 0h0m7 0h0m8 0h0m-28 1h0m23 0h0m3 0h0m-27 1h0m12 0h0m3 0h0m3 0h0m31 0h0m-34 1h0m29 0h0m-32 1h0m11 0h0m-7 1h0m15 1h0m1 0h0m-23 1h0m11 1h0m-5 1h0m1 0h0m4 2h0m12 0h0" stroke="#0000ff" stroke-width="2.3" stroke-linecap="round" fill="none"/>
<path d="M91 137h0m7 0h0m-16 2h0m38 0h0m-23 1h0m15 1h0m5 0h0m8 1h0m-65 1h0m45 0h0m4 0h0m-4 2h0m3 0h0m-20 1h0m2 0h0m3 0h0m3 0h0m3 0h0m-6 1h0m7 0h0m1 0h0m-21 1h0m3 0h0m1 0h0m1 0h0m1 0h0m4 0h0m1 0h0m11 0h0m14 0h0m-40 1h0m12 0h0m2 0h0m1 0h0m10 0h0m23 0h0m-38 1h0m8 0h0m5 0h0m1 0h0m-27 1h0m4 0h0m1 0h0m4 0h0m2 0h0m5 0h0m4 0h0m1 0h0m6 0h0m3 0h0m10 0h0m-32 1h0m1 0h0m4 0h0m4 0h0m1 0h0m8 0h0m1 0h0m5 0h0m-29 1h0m6 0h0m11 0h0m3 0h0m3 0h0m2 0h0m5 0h0m9 0h0m-36 1h0m4 0h0m5 0h0m8 0h0m1 0h0m7 0h0m2 0h0m-41 1h0m5 0h0m10 0h0m2 0h0m1 0h0m7 0h0m1 0h0m1 0h0m2 0h0m17 0h0m5 0h0m-46 1h0m6 0h0m4 0h0m1 0h0m1 0h0m5 0h0m1 0h0m4 0h0m1 0h0m1 0h0m4 0h0m3 0h0m3 0h0m1 0h0m5 0h0m1 0h0m4 0h0m-38 1h0m4 0h0m3 0h0m1 0h0m2 0h0m1 0h0m1 0h0m1 0h0m2 0h0m3 0h0m3 0h0m4 0h0m3 0h0m3 0h0m4 0h0m1 0h0m13 0h0m-53 1h0m1 0h0m9 0h0m1 0h0m1 0h0m3 0h0m3 0h0m2 0h0m2 0h0m4 0h0m2 0h0m1 0h0m4 0h0m4 0h0m9 0h0m-45 1h0m7 0h0m1 0h0m1 0h0m2 0h0m1 0h0m1 0h0m4 0h0m1 0h0m1 0h0m1 0h0m2 0h0m1 0h0m2 0h0m1 0h0m6 0h0m1 0h0m4 0h0m1 0h0m-36 1h0m2 0h0m4 0h0m2 0h0m3 0h0m5 0h0m3 0h0m2 0h0m2 0h0m1 0h0m1 0h0m1 0h0m1 0h0m1 0h0m2 0h0m-35 1h0m5 0h0m7 0h0m3 0h0m1 0h0m2 0h0m1 0h0m3 0h0m5 0h0m2 0h0m1 0h0m9 0h0m2 0h0m-40 1h0m5 0h0m2 0h0m1 0h0m1 0h0m5 0h0m1 0h0m1 0h0m1 0h0m1 0h0m1 0h0m1 0h0m1 0h0m2 0h0m2 0h0m4 0h0m4 0h0m2 0h0m6 0h0m1 0h0m-50 1h0m9 0h0m1 0h0m1 0h0m3 0h0m1 0h0m2 0h0m2 0h0m1 0h0m2 0h0m3 0h0m1 0h0m3 0h0m1 0h0m1 0h0m1 0h0m1 0h0m1 0h0m1 0h0m1 0h0m1 0h0m1 0h0m1 0h0m1 0h0m1 0h0m1 0h0m1 0h0m2 0h0m1 0h0m-37 1h0m1 0h0m4 0h0m2 0h0m3 0h0m1 0h0m1 0h0m4 0h0m1 0h0m1 0h0m1 0h0m1 0h0m1 0h0m4 0h0m4 0h0m1 0h0m4 0h0m2 0h0m4 0h0m-34 1h0m1 0h0m1 0h0m1 0h0m1 0h0m2 0h0m1 0h0m3 0h0m1 0h0m2 0h0m1 0h0m1 0h0m3 0h0m1 0h0m2 0h0m7 0h0m1 0h0m3 0h0m-53 1h0m1 0h0m2 0h0m1 0h0m11 0h0m2 0h0m1 0h0m1 0h0m6 0h0m3 0h0m2 0h0m1 0h0m1 0h0m1 0h0m1 0h0m1 0h0m4 0h0m1 0h0m2 0h0m1 0h0m2 0h0m1 0h0m5 0h0m-51 1h0m8 0h0m2 0h0m2 0h0m6 0h0m2 0h0m1 0h0m1 0h0m1 0h0m1 0h0m2 0h0m1 0h0m1 0h0m3 0h0m1 0h0m2 0h0m1 0h0m1 0h0m8 0h0m4 0h0m2 0h0m-44 1h0m4 0h0m5 0h0m1 0h0m2 0h0m1 0h0m1 0h0m1 0h0m1 0h0m1 0h0m1 0h0m2 0h0m1 0h0m1 0h0m1 0h0m1 0h0m2 0h0m1 0h0m1 0h0m2 0h0m1 0h0m1 0h0m1 0h0m1 0h0m2 0h0m9 0h0m-42 1h0m3 0h0m4 0h0m1 0h0m2 0h0m1 0h0m1 0h0m1 0h0m2 0h0m1 0h0m1 0h0m1 0h0m1 0h0m1 0h0m1 0h0m2 0h0m2 0h0m1 0h0m1 0h0m2 0h0m1 0h0m2 0h0m2 0h0m2 0h0m2 0h0m2 0h0m7 0h0m-47 1h0m1 0h0m4 0h0m2 0h0m1 0h0m3 0h0m1 0h0m2 0h0m1 0h0m1 0h0m1 0h0m1 0h0m1 0h0m1 0h0m1 0h0m1 0h0m1 0h0m1 0h0m1 0h0m1 0h0m2 0h0m2 0h0m1 0h0m1 0h0m1 0h0m2 0h0m1 0h0m2 0h0m1 0h0m4 0h0m1 0h0m-49 1h0m3 0h0m6 0h0m3 0h0m1 0h0m1 0h0m1 0h0m1 0h0m1 0h0m1 0h0m1 0h0m1 0h0m1 0h0m1 0h0m1 0h0m1 0h0m1 0h0m1 0h0m2 0h0m1 0h0m1 0h0m1 0h0m1 0h0m3 0h0m4 0h0m1 0h0m3 0h0m1 0h0m-40 1h0m1 0h0m6 0h0m1 0h0m1 0h0m2 0h0m1 0h0m1 0h0m2 0h0m2 0h0m1 0h0m1 0h0m1 0h0m1 0h0m1 0h0m1 0h0m5 0h0m1 0h0m1 0h0m1 0h0m2 0h0m2 0h0m1 0h0m2 0h0m7 0h0m7 0h0m4 0h0m-51 1h0m6 0h0m1 0h0m1 0h0m1 0h0m3 0h0m1 0h0m1 0h0m1 0h0m1 0h0m2 0h0m1 0h0m2 0h0m1 0h0m2 0h0m1 0h0m5 0h0m2 0h0m2 0h0m1 0h0m3 0h0m2 0h0m-47 1h0m7 0h0m2 0h0m1 0h0m1 0h0m1 0h0m2 0h0m1 0h0m1 0h0m2 0h0m4 0h0m1 0h0m1 0h0m1 0h0m1 0h0m1 0h0m1 0h0m1 0h0m1 0h0m1 0h0m1 0h0m1 0h0m3 0h0m2 0h0m-45 1h0m6 0h0m2 0h0m3 0h0m1 0h0m2 0h0m3 0h0m1 0h0m2 0h0m1 0h0m1 0h0m2 0h0m4 0h0m1 0h0m1 0h0m1 0h0m4 0h0m2 0h0m8 0h0m3 0h0m1 0h0m3 0h0m3 0h0m-60 1h0m15 0h0m2 0h0m4 0h0m1 0h0m5 0h0m2 0h0m1 0h0m3 0h0m1 0h0m2 0h0m1 0h0m1 0h0m1 0h0m2 0h0m3 0h0m5 0h0m1 0h0m5 0h0m-49 1h0m3 0h0m8 0h0m1 0h0m4 0h0m2 0h0m5 0h0m3 0h0m3 0h0m1 0h0m1 0h0m2 0h0m2 0h0m1 0h0m1 0h0m1 0h0m2 0h0m3 0h0m4 0h0m10 0h0m-42 1h0m2 0h0m4 0h0m2 0h0m1 0h0m3 0h0m1 0h0m1 0h0m1 0h0m1 0h0m1 0h0m1 0h0m1 0h0m2 0h0m2 0h0m2 0h0m1 0h0m1 0h0m4 0h0m7 0h0m-43 1h0m2 0h0m2 0h0m1 0h0m3 0h0m3 0h0m3 0h0m1 0h0m1 0h0m1 0h0m1 0h0m1 0h0m1 0h0m2 0h0m2 0h0m1 0h0m2 0h0m1 0h0m1 0h0m1 0h0m2 0h0m4 0h0m15 0h0m-58 1h0m14 0h0m2 0h0m1 0h0m1 0h0m1 0h0m1 0h0m1 0h0m1 0h0m2 0h0m2 0h0m2 0h0m3 0h0m2 0h0m6 0h0m10 0h0m1 0h0m-36 1h0m1 0h0m1 0h0m1 0h0m1 0h0m1 0h0m1 0h0m1 0h0m3 0h0m1 0h0m3 0h0m4 0h0m2 0h0m1 0h0m4 0h0m8 0h0m-38 1h0m6 0h0m1 0h0m4 0h0m2 0h0m2 0h0m1 0h0m1 0h0m10 0h0m2 0h0m1 0h0m4 0h0m2 0h0m-46 1h0m9 0h0m7 0h0m2 0h0m1 0h0m1 0h0m2 0h0m2 0h0m4 0h0m1 0h0m6 0h0m1 0h0m4 0h0m-30 1h0m12 0h0m2 0h0m1 0h0m1 0h0m3 0h0m8 0h0m6 0h0m-32 1h0m6 0h0m4 0h0m1 0h0m13 0h0m1 0h0m-20 1h0m17 0h0m8 0h0m-42 1h0m1 0h0m18 0h0m4 0h0m3 0h0m2 0h0m-24 1h0m2 0h0m2 0h0m12 0h0m6 0h0m3 0h0m1 0h0m-11 1h0m5 0h0m11 0h0m9 0h0m-42 1h0m25 0h0m3 0h0m17 0h0m-36 1h0m5 0h0m14 0h0m4 0h0m4 0h0m5 0h0m-38 1h0m20 0h0m13 0h0m-19 1h0m17 0h0m4 0h0m-29 1h0m11 0h0m-10 1h0m5 1h0" stroke="#0000ff" stroke-width="2.3" stroke-linecap="round" fill="none"/>
<path d="M195 131h0m4 1h0m-22 1h0m19 2h0m6 0h0m-15 2h0m7 0h0m-14 2h0m4 0h0m1 0h0m6 0h0m-11 1h0m3 0h0m4 0h0m9 0h0m4 0h0m-11 1h0m-11 1h0m2 0h0m6 0h0m5 0h0m9 0h0m-21 1h0m2 0h0m9 0h0m6 0h0m4 0h0m-35 1h0m6 0h0m12 0h0m2 0h0m3 0h0m2 0h0m6 0h0m-23 1h0m4 0h0m1 0h0m2 0h0m-7 1h0m3 0h0m6 0h0m3 0h0m3 0h0m2 0h0m2 0h0m11 0h0m2 0h0m-23 1h0m3 0h0m1 0h0m2 0h0m2 0h0m5 0h0m1 0h0m2 0h0m3 0h0m-28 1h0m1 0h0m1 0h0m10 0h0m1 0h0m1 0h0m5 0h0m13 0h0m2 0h0m-45 1h0m12 0h0m7 0h0m4 0h0m1 0h0m2 0h0m2 0h0m4 0h0m-20 1h0m1 0h0m3 0h0m3 0h0m1 0h0m7 0h0m3 0h0m2 0h0m1 0h0m-38 1h0m15 0h0m2 0h0m2 0h0m1 0h0m2 0h0m3 0h0m6 0h0m1 0h0m1 0h0m2 0h0m2 0h0m1 0h0m-30 1h0m4 0h0m5 0h0m1 0h0m3 0h0m4 0h0m2 0h0m1 0h0m2 0h0m3 0h0m1 0h0m2 0h0m1 0h0m3 0h0m3 0h0m2 0h0m-33 1h0m1 0h0m4 0h0m1 0h0m1 0h0m1 0h0m3 0h0m2 0h0m1 0h0m1 0h0m1 0h0m3 0h0m1 0h0m1 0h0m12 0h0m1 0h0m-35 1h0m5 0h0m2 0h0m1 0h0m1 0h0m2 0h0m2 0h0m1 0h0m1 0h0m1 0h0m1 0h0m1 0h0m2 0h0m3 0h0m1 0h0m-31 1h0m7 0h0m8 0h0m3 0h0m1 0h0m1 0h0m1 0h0m3 0h0m1 0h0m6 0h0m14 0h0m-46 1h0m11 0h0m4 0h0m3 0h0m2 0h0m2 0h0m1 0h0m2 0h0m1 0h0m2 0h0m2 0h0m2 0h0m-25 1h0m3 0h0m2 0h0m3 0h0m1 0h0m1 0h0m1 0h0m1 0h0m1 0h0m1 0h0m1 0h0m2 0h0m7 0h0m-34 1h0m6 0h0m1 0h0m8 0h0m2 0h0m1 0h0m1 0h0m1 0h0m4 0h0m2 0h0m1 0h0m1 0h0m2 0h0m1 0h0m1 0h0m4 0h0m1 0h0m3 0h0m-38 1h0m5 0h0m1 0h0m3 0h0m5 0h0m1 0h0m1 0h0m1 0h0m3 0h0m1 0h0m1 0h0m2 0h0m1 0h0m1 0h0m1 0h0m3 0h0m5 0h0m1 0h0m-35 1h0m1 0h0m3 0h0m1 0h0m5 0h0m1 0h0m2 0h0m1 0h0m3 0h0m1 0h0m1 0h0m1 0h0m1 0h0m3 0h0m1 0h0m1 0h0m2 0h0m3 0h0m1 0h0m-29 1h0m1 0h0m1 0h0m2 0h0m1 0h0m1 0h0m4 0h0m3 0h0m1 0h0m1 0h0m3 0h0m7 0h0m1 0h0m2 0h0m1 0h0m-34 1h0m4 0h0m2 0h0m2 0h0m2 0h0m1 0h0m2 0h0m1 0h0m1 0h0m2 0h0m1 0h0m1 0h0m4 0h0m1 0h0m3 0h0m1 0h0m3 0h0m2 0h0m3 0h0m-29 1h0m2 0h0m4 0h0m3 0h0m1 0h0m2 0h0m1 0h0m1 0h0m3 0h0m1 0h0m3 0h0m3 0h0m-31 1h0m1 0h0m8 0h0m3 0h0m1 0h0m1 0h0m1 0h0m2 0h0m1 0h0m1 0h0m1 0h0m1 0h0m2 0h0m1 0h0m1 0h0m3 0h0m3 0h0m-32 1h0m3 0h0m2 0h0m2 0h0m2 0h0m3 0h0m1 0h0m1 0h0m3 0h0m1 0h0m1 0h0m1 0h0m2 0h0m2 0h0m1 0h0m1 0h0m2 0h0m2 0h0m2 0h0m4 0h0m1 0h0m-42 1h0m5 0h0m6 0h0m1 0h0m2 0h0m2 0h0m1 0h0m1 0h0m2 0h0m1 0h0m2 0h0m1 0h0m1 0h0m1 0h0m1 0h0m2 0h0m1 0h0m5 0h0m2 0h0m-36 1h0m8 0h0m3 0h0m1 0h0m1 0h0m3 0h0m1 0h0m1 0h0m1 0h0m1 0h0m1 0h0m1 0h0m1 0h0m3 0h0m1 0h0m1 0h0m1 0h0m2 0h0m4 0h0m-33 1h0m1 0h0m4 0h0m2 0h0m1 0h0m2 0h0m1 0h0m1 0h0m1 0h0m1 0h0m1 0h0m1 0h0m1 0h0m2 0h0m1 0h0m1 0h0m2 0h0m2 0h0m2 0h0m2 0h0m1 0h0m2 0h0m1 0h0m2 0h0m-36 1h0m1 0h0m4 0h0m1 0h0m4 0h0m2 0h0m2 0h0m1 0h0m2 0h0m1 0h0m3 0h0m1 0h0m1 0h0m1 0h0m1 0h0m2 0h0m3 0h0m2 0h0m1 0h0m1 0h0m1 0h0m-35 1h0m9 0h0m1 0h0m1 0h0m2 0h0m1 0h0m1 0h0m2 0h0m1 0h0m1 0h0m3 0h0m1 0h0m1 0h0m1 0h0m2 0h0m1 0h0m6 0h0m1 0h0m-37 1h0m11 0h0m3 0h0m1 0h0m1 0h0m1 0h0m2 0h0m1 0h0m1 0h0m1 0h0m1 0h0m1 0h0m1 0h0m1 0h0m1 0h0m1 0h0m1 0h0m1 0h0m2 0h0m1 0h0m5 0h0m-31 1h0m1 0h0m1 0h0m2 0h0m1 0h0m1 0h0m3 0h0m3 0h0m1 0h0m1 0h0m1 0h0m2 0h0m2 0h0m1 0h0m2 0h0m1 0h0m1 0h0m1 0h0m3 0h0m-28 1h0m1 0h0m2 0h0m1 0h0m2 0h0m1 0h0m1 0h0m1 0h0m2 0h0m1 0h0m1 0h0m1 0h0m1 0h0m1 0h0m1 0h0m1 0h0m1 0h0m1 0h0m2 0h0m1 0h0m2 0h0m2 0h0m8 0h0m-39 1h0m2 0h0m1 0h0m2 0h0m1 0h0m3 0h0m1 0h0m1 0h0m1 0h0m1 0h0m3 0h0m1 0h0m3 0h0m5 0h0m2 0h0m4 0h0m1 0h0m-33 1h0m6 0h0m4 0h0m1 0h0m1 0h0m1 0h0m1 0h0m1 0h0m1 0h0m1 0h0m1 0h0m2 0h0m3 0h0m1 0h0m1 0h0m1 0h0m6 0h0m12 0h0m-47 1h0m1 0h0m6 0h0m1 0h0m3 0h0m1 0h0m1 0h0m3 0h0m1 0h0m1 0h0m1 0h0m3 0h0m2 0h0m1 0h0m-13 1h0m1 0h0m2 0h0m2 0h0m1 0h0m2 0h0m3 0h0m1 0h0m1 0h0m1 0h0m8 0h0m-40 1h0m13 0h0m2 0h0m1 0h0m4 0h0m1 0h0m1 0h0m1 0h0m1 0h0m2 0h0m1 0h0m1 0h0m1 0h0m1 0h0m1 0h0m1 0h0m5 0h0m-30 1h0m3 0h0m4 0h0m2 0h0m1 0h0m1 0h0m2 0h0m3 0h0m1 0h0m1 0h0m1 0h0m1 0h0m1 0h0m1 0h0m2 0h0m1 0h0m1 0h0m-21 1h0m3 0h0m1 0h0m1 0h0m1 0h0m2 0h0m2 0h0m3 0h0m1 0h0m1 0h0m2 0h0m1 0h0m16 0h0m2 0h0m-42 1h0m4 0h0m6 0h0m1 0h0m5 0h0m1 0h0m1 0h0m1 0h0m3 0h0m2 0h0m1 0h0m8 0h0m1 0h0m1 0h0m-42 1h0m8 0h0m6 0h0m1 0h0m2 0h0m3 0h0m3 0h0m1 0h0m6 0h0m1 0h0m1 0h0m1 0h0m5 0h0m1 0h0m5 0h0m-32 1h0m3 0h0m1 0h0m1 0h0m1 0h0m5 0h0m5 0h0m3 0h0m1 0h0m-15 1h0m4 0h0m1 0h0m2 0h0m1 0h0m1 0h0m4 0h0m1 0h0m1 0h0m1 0h0m6 0h0m-35 1h0m5 0h0m2 0h0m5 0h0m8 0h0m2 0h0m4 0h0m-18 1h0m1 0h0m5 0h0m1 0h0m2 0h0m7 0h0m-22 1h0m8 0h0m1 0h0m4 0h0m4 0h0m7 0h0m2 0h0m-22 1h0m3 0h0m3 0h0m2 0h0m3 0h0m3 0h0m1 0h0m2 0h0m-18 1h0m3 0h0m3 0h0m4 0h0m1 0h0m1 0h0m3 0h0m-17 1h0m2 0h0m8 0h0m2 0h0m5 0h0m10 0h0m-33 1h0m9 0h0m11 0h0m4 0h0m-13 1h0m2 0h0m2 0h0m3 0h0m4 0h0m1 0h0m1 0h0m9 0h0m-29 1h0m4 0h0m2 0h0m2 0h0m8 0h0m-5 1h0m18 0h0m6 0h0m-25 1h0m-5 1h0m2 0h0m2 1h0m2 0h0m3 0h0m-6 1h0m-3 1h0m8 0h0m-7 2h0m4 1h0m-13 1h0" stroke="#0000ff" stroke-width="2.3" stroke-linecap="round" fill="none"/>
<path d="M290 136h0m-10 2h0m-13 1h0m29 0h0m-4 1h0m-14 2h0m-1 1h0m8 1h0m-33 1h0m13 0h0m2 1h0m6 0h0m3 0h0m6 0h0m4 0h0m-19 1h0m14 0h0m12 0h0m-14 1h0m12 0h0m2 0h0m-29 1h0m5 0h0m1 0h0m2 0h0m1 0h0m2 0h0m4 0h0m1 0h0m1 0h0m1 0h0m-29 1h0m2 0h0m6 0h0m1 0h0m1 0h0m9 0h0m4 0h0m6 0h0m5 0h0m-20 1h0m4 0h0m3 0h0m1 0h0m5 0h0m1 0h0m1 0h0m-40 1h0m16 0h0m1 0h0m6 0h0m6 0h0m1 0h0m1 0h0m1 0h0m5 0h0m4 0h0m4 0h0m-26 1h0m3 0h0m4 0h0m2 0h0m1 0h0m2 0h0m1 0h0m2 0h0m2 0h0m5 0h0m2 0h0m3 0h0m-37 1h0m2 0h0m4 0h0m1 0h0m1 0h0m4 0h0m1 0h0m1 0h0m2 0h0m2 0h0m2 0h0m2 0h0m5 0h0m3 0h0m2 0h0m3 0h0m-36 1h0m3 0h0m2 0h0m4 0h0m1 0h0m1 0h0m5 0h0m2 0h0m1 0h0m6 0h0m2 0h0m3 0h0m1 0h0m5 0h0m-36 1h0m9 0h0m1 0h0m1 0h0m1 0h0m2 0h0m2 0h0m1 0h0m1 0h0m3 0h0m1 0h0m2 0h0m5 0h0m1 0h0m2 0h0m11 0h0m-46 1h0m1 0h0m2 0h0m4 0h0m4 0h0m1 0h0m1 0h0m1 0h0m2 0h0m2 0h0m2 0h0m1 0h0m1 0h0m2 0h0m1 0h0m1 0h0m1 0h0m1 0h0m1 0h0m3 0h0m4 0h0m2 0h0m3 0h0m-35 1h0m1 0h0m2 0h0m1 0h0m1 0h0m2 0h0m1 0h0m1 0h0m2 0h0m1 0h0m2 0h0m1 0h0m2 0h0m2 0h0m2 0h0m2 0h0m1 0h0m1 0h0m2 0h0m2 0h0m1 0h0m5 0h0m1 0h0m-37 1h0m2 0h0m3 0h0m3 0h0m1 0h0m1 0h0m1 0h0m1 0h0m1 0h0m1 0h0m3 0h0m1 0h0m1 0h0m1 0h0m1 0h0m2 0h0m2 0h0m4 0h0m1 0h0m3 0h0m6 0h0m-49 1h0m6 0h0m8 0h0m1 0h0m1 0h0m1 0h0m1 0h0m1 0h0m1 0h0m2 0h0m1 0h0m1 0h0m1 0h0m1 0h0m1 0h0m2 0h0m1 0h0m1 0h0m1 0h0m2 0h0m1 0h0m1 0h0m4 0h0m15 0h0m-52 1h0m5 0h0m2 0h0m1 0h0m2 0h0m2 0h0m2 0h0m1 0h0m1 0h0m2 0h0m1 0h0m1 0h0m1 0h0m1 0h0m1 0h0m1 0h0m1 0h0m1 0h0m1 0h0m1 0h0m4 0h0m1 0h0m4 0h0m4 0h0m2 0h0m-39 1h0m6 0h0m2 0h0m3 0h0m1 0h0m3 0h0m1 0h0m3 0h0m1 0h0m1 0h0m1 0h0m2 0h0m3 0h0m2 0h0m5 0h0m-40 1h0m4 0h0m2 0h0m1 0h0m2 0h0m1 0h0m1 0h0m1 0h0m1 0h0m1 0h0m1 0h0m1 0h0m2 0h0m2 0h0m1 0h0m1 0h0m2 0h0m2 0h0m1 0h0m1 0h0m1 0h0m2 0h0m1 0h0m4 0h0m1 0h0m1 0h0m5 0h0m-55 1h0m16 0h0m2 0h0m1 0h0m2 0h0m1 0h0m1 0h0m2 0h0m1 0h0m3 0h0m2 0h0m3 0h0m1 0h0m1 0h0m2 0h0m1 0h0m1 0h0m1 0h0m1 0h0m1 0h0m1 0h0m1 0h0m3 0h0m2 0h0m1 0h0m3 0h0m-40 1h0m1 0h0m1 0h0m2 0h0m6 0h0m1 0h0m1 0h0m1 0h0m1 0h0m1 0h0m1 0h0m1 0h0m2 0h0m1 0h0m1 0h0m1 0h0m1 0h0m1 0h0m1 0h0m1 0h0m2 0h0m2 0h0m2 0h0m1 0h0m5 0h0m5 0h0m-58 1h0m10 0h0m5 0h0m2 0h0m1 0h0m2 0h0m1 0h0m1 0h0m1 0h0m3 0h0m1 0h0m1 0h0m1 0h0m1 0h0m1 0h0m1 0h0m1 0h0m1 0h0m1 0h0m1 0h0m1 0h0m1 0h0m1 0h0m4 0h0m2 0h0m7 0h0m2 0h0m5 0h0m-52 1h0m9 0h0m6 0h0m1 0h0m1 0h0m1 0h0m1 0h0m2 0h0m1 0h0m2 0h0m1 0h0m2 0h0m1 0h0m2 0h0m3 0h0m1 0h0m2 0h0m1 0h0m1 0h0m1 0h0m1 0h0m5 0h0m2 0h0m-37 1h0m1 0h0m5 0h0m1 0h0m1 0h0m1 0h0m1 0h0m1 0h0m1 0h0m1 0h0m2 0h0m1 0h0m2 0h0m1 0h0m1 0h0m1 0h0m1 0h0m1 0h0m4 0h0m1 0h0m1 0h0m3 0h0m-38 1h0m5 0h0m1 0h0m1 0h0m1 0h0m1 0h0m1 0h0m1 0h0m3 0h0m1 0h0m1 0h0m1 0h0m3 0h0m1 0h0m2 0h0m1 0h0m1 0h0m1 0h0m1 0h0m1 0h0m1 0h0m2 0h0m2 0h0m1 0h0m4 0h0m2 0h0m-42 1h0m4 0h0m2 0h0m1 0h0m1 0h0m1 0h0m2 0h0m3 0h0m2 0h0m1 0h0m1 0h0m1 0h0m1 0h0m1 0h0m1 0h0m1 0h0m1 0h0m1 0h0m2 0h0m1 0h0m1 0h0m3 0h0m4 0h0m5 0h0m8 0h0m-46 1h0m2 0h0m2 0h0m1 0h0m1 0h0m3 0h0m1 0h0m1 0h0m2 0h0m1 0h0m1 0h0m1 0h0m1 0h0m1 0h0m1 0h0m1 0h0m1 0h0m1 0h0m1 0h0m1 0h0m1 0h0m2 0h0m3 0h0m2 0h0m2 0h0m2 0h0m6 0h0m-43 1h0m5 0h0m2 0h0m1 0h0m2 0h0m2 0h0m2 0h0m1 0h0m1 0h0m1 0h0m2 0h0m1 0h0m1 0h0m1 0h0m2 0h0m1 0h0m1 0h0m1 0h0m1 0h0m2 0h0m1 0h0m2 0h0m4 0h0m-35 1h0m2 0h0m1 0h0m1 0h0m1 0h0m1 0h0m1 0h0m1 0h0m1 0h0m3 0h0m2 0h0m1 0h0m2 0h0m2 0h0m1 0h0m1 0h0m3 0h0m8 0h0m3 0h0m6 0h0m-50 1h0m7 0h0m5 0h0m4 0h0m1 0h0m1 0h0m1 0h0m1 0h0m3 0h0m2 0h0m1 0h0m2 0h0m2 0h0m1 0h0m2 0h0m2 0h0m2 0h0m1 0h0m2 0h0m2 0h0m1 0h0m3 0h0m9 0h0m-59 1h0m10 0h0m8 0h0m3 0h0m2 0h0m5 0h0m1 0h0m1 0h0m1 0h0m2 0h0m3 0h0m1 0h0m3 0h0m-42 1h0m9 0h0m7 0h0m1 0h0m1 0h0m1 0h0m1 0h0m1 0h0m1 0h0m1 0h0m3 0h0m3 0h0m1 0h0m1 0h0m1 0h0m1 0h0m4 0h0m4 0h0m6 0h0m-36 1h0m1 0h0m1 0h0m5 0h0m2 0h0m1 0h0m1 0h0m2 0h0m1 0h0m2 0h0m1 0h0m1 0h0m3 0h0m2 0h0m3 0h0m3 0h0m3 0h0m-37 1h0m7 0h0m2 0h0m1 0h0m1 0h0m3 0h0m1 0h0m3 0h0m4 0h0m6 0h0m1 0h0m1 0h0m1 0h0m8 0h0m5 0h0m-55 1h0m19 0h0m3 0h0m3 0h0m1 0h0m5 0h0m2 0h0m1 0h0m2 0h0m2 0h0m2 0h0m6 0h0m5 0h0m2 0h0m-48 1h0m8 0h0m5 0h0m3 0h0m2 0h0m4 0h0m2 0h0m1 0h0m1 0h0m3 0h0m3 0h0m2 0h0m2 0h0m1 0h0m3 0h0m3 0h0m-31 1h0m4 0h0m3 0h0m1 0h0m2 0h0m5 0h0m13 0h0m-27 1h0m2 0h0m4 0h0m4 0h0m1 0h0m1 0h0m4 0h0m5 0h0m2 0h0m-23 1h0m8 0h0m1 0h0m32 0h0m-48 1h0m11 0h0m4 0h0m-16 1h0m2 0h0m11 0h0m1 0h0m1 0h0m6 0h0m4 0h0m1 0h0m-36 1h0m24 0h0m-9 1h0m1 0h0m4 0h0m2 0h0m1 0h0m3 0h0m8 0h0m2 0h0m-19 1h0m5 0h0m-8 1h0m1 0h0m3 1h0m9 0h0m-1 1h0m5 0h0m-23 1h0m24 0h0m-8 2h0m8 0h0m-27 1h0m24 0h0m-4 4h0" stroke="#0000ff" stroke-width="2.3" stroke-linecap="round" fill="none"/>
<path d="M364 134h0m-5 1h0m8 0h0m10 0h0m-11 1h0m12 0h0m-19 1h0m7 0h0m-5 1h0m9 0h0m-21 1h0m14 0h0m5 0h0m4 1h0m4 0h0m-23 1h0m12 1h0m5 0h0m1 0h0m1 0h0m-15 1h0m4 0h0m6 1h0m-4 1h0m4 0h0m3 0h0m7 0h0m-42 1h0m17 0h0m5 0h0m10 0h0m-18 1h0m9 0h0m1 0h0m7 0h0m1 0h0m7 0h0m1 0h0m-38 1h0m15 0h0m14 0h0m3 0h0m2 0h0m11 0h0m-32 1h0m4 0h0m9 0h0m2 0h0m2 0h0m1 0h0m3 0h0m14 0h0m-35 1h0m8 0h0m2 0h0m3 0h0m1 0h0m2 0h0m4 0h0m5 0h0m-30 1h0m3 0h0m1 0h0m1 0h0m5 0h0m1 0h0m1 0h0m1 0h0m1 0h0m3 0h0m2 0h0m5 0h0m-22 1h0m2 0h0m2 0h0m1 0h0m2 0h0m2 0h0m2 0h0m1 0h0m2 0h0m1 0h0m1 0h0m5 0h0m-32 1h0m14 0h0m1 0h0m4 0h0m5 0h0m4 0h0m1 0h0m1 0h0m1 0h0m1 0h0m1 0h0m4 0h0m1 0h0m11 0h0m-47 1h0m1 0h0m3 0h0m5 0h0m1 0h0m3 0h0m2 0h0m1 0h0m1 0h0m3 0h0m1 0h0m3 0h0m1 0h0m1 0h0m3 0h0m10 0h0m-30 1h0m3 0h0m2 0h0m2 0h0m1 0h0m3 0h0m1 0h0m3 0h0m-48 1h0m20 0h0m4 0h0m1 0h0m8 0h0m3 0h0m7 0h0m2 0h0m3 0h0m4 0h0m2 0h0m-31 1h0m11 0h0m3 0h0m1 0h0m1 0h0m1 0h0m1 0h0m1 0h0m3 0h0m3 0h0m1 0h0m1 0h0m7 0h0m2 0h0m-36 1h0m6 0h0m2 0h0m2 0h0m1 0h0m1 0h0m2 0h0m4 0h0m4 0h0m3 0h0m1 0h0m1 0h0m1 0h0m12 0h0m-40 1h0m5 0h0m1 0h0m2 0h0m2 0h0m1 0h0m2 0h0m2 0h0m1 0h0m3 0h0m2 0h0m2 0h0m2 0h0m1 0h0m3 0h0m-38 1h0m6 0h0m4 0h0m5 0h0m2 0h0m1 0h0m1 0h0m2 0h0m3 0h0m1 0h0m1 0h0m1 0h0m2 0h0m1 0h0m2 0h0m2 0h0m8 0h0m-37 1h0m3 0h0m5 0h0m1 0h0m3 0h0m3 0h0m1 0h0m2 0h0m3 0h0m2 0h0m1 0h0m1 0h0m3 0h0m2 0h0m12 0h0m2 0h0m-37 1h0m1 0h0m4 0h0m3 0h0m1 0h0m1 0h0m1 0h0m1 0h0m2 0h0m1 0h0m1 0h0m2 0h0m1 0h0m3 0h0m2 0h0m7 0h0m-32 1h0m2 0h0m2 0h0m2 0h0m3 0h0m1 0h0m1 0h0m3 0h0m5 0h0m1 0h0m1 0h0m5 0h0m3 0h0m-41 1h0m5 0h0m6 0h0m1 0h0m1 0h0m2 0h0m1 0h0m1 0h0m1 0h0m1 0h0m1 0h0m2 0h0m2 0h0m1 0h0m1 0h0m1 0h0m1 0h0m1 0h0m2 0h0m1 0h0m1 0h0m2 0h0m1 0h0m1 0h0m3 0h0m19 0h0m-61 1h0m6 0h0m6 0h0m3 0h0m1 0h0m1 0h0m4 0h0m2 0h0m1 0h0m1 0h0m1 0h0m1 0h0m2 0h0m1 0h0m1 0h0m1 0h0m3 0h0m2 0h0m3 0h0m4 0h0m-35 1h0m1 0h0m1 0h0m5 0h0m2 0h0m1 0h0m1 0h0m2 0h0m1 0h0m1 0h0m1 0h0m1 0h0m1 0h0m2 0h0m2 0h0m1 0h0m4 0h0m2 0h0m5 0h0m-38 1h0m3 0h0m5 0h0m2 0h0m2 0h0m3 0h0m3 0h0m1 0h0m1 0h0m2 0h0m5 0h0m2 0h0m1 0h0m2 0h0m1 0h0m-41 1h0m8 0h0m2 0h0m4 0h0m1 0h0m2 0h0m1 0h0m1 0h0m1 0h0m1 0h0m1 0h0m1 0h0m2 0h0m1 0h0m2 0h0m1 0h0m1 0h0m1 0h0m1 0h0m2 0h0m2 0h0m1 0h0m1 0h0m13 0h0m-49 1h0m7 0h0m1 0h0m7 0h0m1 0h0m3 0h0m1 0h0m3 0h0m2 0h0m2 0h0m1 0h0m2 0h0m1 0h0m3 0h0m1 0h0m3 0h0m3 0h0m1 0h0m3 0h0m-44 1h0m5 0h0m6 0h0m1 0h0m1 0h0m2 0h0m5 0h0m3 0h0m1 0h0m2 0h0m2 0h0m1 0h0m1 0h0m4 0h0m1 0h0m1 0h0m2 0h0m1 0h0m-36 1h0m5 0h0m1 0h0m1 0h0m2 0h0m1 0h0m1 0h0m1 0h0m2 0h0m1 0h0m2 0h0m3 0h0m2 0h0m1 0h0m1 0h0m2 0h0m2 0h0m1 0h0m-28 1h0m2 0h0m2 0h0m3 0h0m1 0h0m3 0h0m1 0h0m1 0h0m2 0h0m1 0h0m1 0h0m2 0h0m2 0h0m1 0h0m1 0h0m1 0h0m1 0h0m1 0h0m1 0h0m2 0h0m1 0h0m1 0h0m2 0h0m3 0h0m2 0h0m-36 1h0m3 0h0m1 0h0m3 0h0m1 0h0m2 0h0m1 0h0m1 0h0m1 0h0m2 0h0m1 0h0m1 0h0m4 0h0m1 0h0m1 0h0m1 0h0m1 0h0m2 0h0m2 0h0m1 0h0m2 0h0m5 0h0m-56 1h0m17 0h0m3 0h0m2 0h0m1 0h0m1 0h0m4 0h0m2 0h0m1 0h0m2 0h0m1 0h0m1 0h0m1 0h0m1 0h0m1 0h0m1 0h0m5 0h0m2 0h0m1 0h0m1 0h0m8 0h0m-40 1h0m2 0h0m3 0h0m1 0h0m1 0h0m1 0h0m1 0h0m1 0h0m1 0h0m1 0h0m1 0h0m2 0h0m1 0h0m2 0h0m2 0h0m1 0h0m2 0h0m3 0h0m5 0h0m2 0h0m15 0h0m-54 1h0m5 0h0m1 0h0m3 0h0m1 0h0m3 0h0m2 0h0m1 0h0m2 0h0m1 0h0m3 0h0m1 0h0m1 0h0m1 0h0m2 0h0m2 0h0m2 0h0m1 0h0m2 0h0m5 0h0m3 0h0m1 0h0m-36 1h0m2 0h0m1 0h0m4 0h0m1 0h0m1 0h0m1 0h0m1 0h0m4 0h0m1 0h0m1 0h0m1 0h0m2 0h0m4 0h0m1 0h0m5 0h0m1 0h0m-33 1h0m1 0h0m4 0h0m3 0h0m1 0h0m1 0h0m1 0h0m3 0h0m1 0h0m1 0h0m1 0h0m1 0h0m1 0h0m3 0h0m1 0h0m1 0h0m1 0h0m2 0h0m1 0h0m2 0h0m-30 1h0m3 0h0m4 0h0m1 0h0m1 0h0m1 0h0m1 0h0m1 0h0m1 0h0m1 0h0m1 0h0m1 0h0m5 0h0m2 0h0m1 0h0m1 0h0m1 0h0m3 0h0m7 0h0m-44 1h0m2 0h0m5 0h0m6 0h0m4 0h0m1 0h0m3 0h0m4 0h0m1 0h0m1 0h0m1 0h0m1 0h0m1 0h0m1 0h0m1 0h0m-21 1h0m1 0h0m2 0h0m1 0h0m1 0h0m2 0h0m3 0h0m2 0h0m4 0h0m2 0h0m1 0h0m1 0h0m3 0h0m2 0h0m-28 1h0m2 0h0m1 0h0m1 0h0m2 0h0m4 0h0m3 0h0m1 0h0m1 0h0m3 0h0m1 0h0m1 0h0m1 0h0m1 0h0m1 0h0m1 0h0m3 0h0m-26 1h0m4 0h0m1 0h0m1 0h0m3 0h0m6 0h0m3 0h0m1 0h0m3 0h0m2 0h0m10 0h0m3 0h0m-47 1h0m7 0h0m9 0h0m5 0h0m2 0h0m6 0h0m6 0h0m3 0h0m-32 1h0m3 0h0m7 0h0m1 0h0m1 0h0m3 0h0m2 0h0m1 0h0m4 0h0m6 0h0m-25 1h0m5 0h0m5 0h0m3 0h0m3 0h0m2 0h0m1 0h0m1 0h0m1 0h0m1 0h0m2 0h0m15 0h0m-45 1h0m3 0h0m4 0h0m3 0h0m2 0h0m5 0h0m4 0h0m3 0h0m1 0h0m2 0h0m-25 1h0m6 0h0m6 0h0m1 0h0m2 0h0m3 0h0m1 0h0m2 0h0m2 0h0m5 0h0m-34 1h0m8 0h0m4 0h0m4 0h0m2 0h0m1 0h0m5 0h0m5 0h0m5 0h0m13 0h0m-42 1h0m9 0h0m3 0h0m8 0h0m1 0h0m7 0h0m-32 1h0m6 0h0m1 0h0m3 0h0m4 0h0m2 0h0m8 0h0m-22 1h0m8 0h0m3 0h0m3 0h0m6 0h0m3 0h0m2 0h0m3 0h0m6 0h0m-30 1h0m6 0h0m6 0h0m2 0h0m-16 1h0m16 0h0m2 0h0m-21 1h0m13 0h0m13 0h0m7 0h0m-30 1h0m10 0h0m1 0h0m3 0h0m10 0h0m2 0h0m-21 1h0m2 0h0m2 0h0m10 0h0m4 0h0m-5 1h0m14 0h0m-32 1h0m13 0h0m-15 1h0m14 0h0m4 0h0m3 0h0m1 0h0m4 0h0m-17 1h0m0 1h0m21 0h0m-12 1h0m8 0h0m-12 1h0m7 0h0" stroke="#0000ff" stroke-width="2.3" stroke-linecap="round" fill="none"/>
<path d="M457 131h0m-28 4h0m38 0h0m-20 1h0m11 0h0m-11 3h0m1 0h0m-16 1h0m9 0h0m12 0h0m-26 1h0m10 0h0m-2 1h0m11 0h0m9 0h0m-19 1h0m7 0h0m8 0h0m5 0h0m-26 1h0m5 0h0m5 0h0m11 0h0m2 0h0m-25 1h0m19 0h0m2 0h0m-30 1h0m7 0h0m1 0h0m2 0h0m2 0h0m11 0h0m1 0h0m4 0h0m5 0h0m4 0h0m8 0h0m-42 1h0m9 0h0m4 0h0m1 0h0m3 0h0m1 0h0m3 0h0m7 0h0m6 0h0m-28 1h0m1 0h0m1 0h0m1 0h0m1 0h0m7 0h0m1 0h0m2 0h0m6 0h0m1 0h0m1 0h0m1 0h0m9 0h0m-38 1h0m4 0h0m7 0h0m2 0h0m4 0h0m9 0h0m1 0h0m6 0h0m4 0h0m8 0h0m-53 1h0m5 0h0m5 0h0m1 0h0m3 0h0m2 0h0m3 0h0m2 0h0m2 0h0m3 0h0m1 0h0m1 0h0m2 0h0m2 0h0m2 0h0m3 0h0m8 0h0m-42 1h0m5 0h0m1 0h0m5 0h0m1 0h0m4 0h0m1 0h0m5 0h0m1 0h0m2 0h0m1 0h0m1 0h0m3 0h0m1 0h0m1 0h0m1 0h0m4 0h0m2 0h0m14 0h0m-49 1h0m3 0h0m1 0h0m5 0h0m2 0h0m2 0h0m1 0h0m1 0h0m3 0h0m1 0h0m1 0h0m2 0h0m1 0h0m2 0h0m1 0h0m2 0h0m2 0h0m6 0h0m3 0h0m-42 1h0m8 0h0m4 0h0m1 0h0m2 0h0m2 0h0m1 0h0m1 0h0m2 0h0m2 0h0m5 0h0m2 0h0m1 0h0m1 0h0m1 0h0m1 0h0m6 0h0m-49 1h0m6 0h0m1 0h0m1 0h0m6 0h0m5 0h0m1 0h0m1 0h0m1 0h0m1 0h0m2 0h0m1 0h0m1 0h0m1 0h0m1 0h0m2 0h0m1 0h0m2 0h0m1 0h0m2 0h0m2 0h0m2 0h0m4 0h0m-49 1h0m1 0h0m2 0h0m4 0h0m6 0h0m2 0h0m2 0h0m1 0h0m4 0h0m1 0h0m1 0h0m1 0h0m1 0h0m2 0h0m4 0h0m1 0h0m1 0h0m5 0h0m2 0h0m1 0h0m4 0h0m2 0h0m1 0h0m3 0h0m4 0h0m2 0h0m-43 1h0m2 0h0m5 0h0m4 0h0m1 0h0m1 0h0m1 0h0m2 0h0m1 0h0m1 0h0m1 0h0m2 0h0m1 0h0m2 0h0m1 0h0m1 0h0m4 0h0m2 0h0m4 0h0m-46 1h0m7 0h0m5 0h0m2 0h0m2 0h0m1 0h0m1 0h0m1 0h0m1 0h0m1 0h0m1 0h0m1 0h0m1 0h0m4 0h0m2 0h0m2 0h0m2 0h0m1 0h0m1 0h0m1 0h0m2 0h0m3 0h0m1 0h0m-41 1h0m5 0h0m5 0h0m5 0h0m1 0h0m1 0h0m1 0h0m1 0h0m1 0h0m2 0h0m1 0h0m1 0h0m1 0h0m1 0h0m1 0h0m1 0h0m1 0h0m1 0h0m1 0h0m1 0h0m2 0h0m4 0h0m2 0h0m4 0h0m2 0h0m3 0h0m8 0h0m-48 1h0m2 0h0m2 0h0m3 0h0m1 0h0m2 0h0m1 0h0m2 0h0m1 0h0m1 0h0m1 0h0m1 0h0m2 0h0m1 0h0m2 0h0m1 0h0m1 0h0m1 0h0m1 0h0m2 0h0m1 0h0m1 0h0m1 0h0m2 0h0m5 0h0m-40 1h0m6 0h0m2 0h0m1 0h0m3 0h0m1 0h0m1 0h0m1 0h0m1 0h0m2 0h0m1 0h0m1 0h0m1 0h0m1 0h0m1 0h0m1 0h0m2 0h0m1 0h0m1 0h0m1 0h0m2 0h0m1 0h0m3 0h0m4 0h0m-41 1h0m1 0h0m1 0h0m1 0h0m3 0h0m1 0h0m1 0h0m1 0h0m2 0h0m2 0h0m2 0h0m2 0h0m2 0h0m2 0h0m1 0h0m1 0h0m1 0h0m1 0h0m1 0h0m1 0h0m3 0h0m4 0h0m-28 1h0m1 0h0m2 0h0m3 0h0m1 0h0m1 0h0m1 0h0m4 0h0m1 0h0m1 0h0m1 0h0m1 0h0m1 0h0m1 0h0m1 0h0m2 0h0m2 0h0m1 0h0m1 0h0m1 0h0m3 0h0m1 0h0m4 0h0m8 0h0m-53 1h0m4 0h0m1 0h0m3 0h0m1 0h0m1 0h0m4 0h0m1 0h0m2 0h0m2 0h0m2 0h0m1 0h0m1 0h0m1 0h0m2 0h0m1 0h0m1 0h0m1 0h0m1 0h0m2 0h0m2 0h0m1 0h0m2 0h0m3 0h0m1 0h0m2 0h0m-55 1h0m18 0h0m3 0h0m1 0h0m1 0h0m3 0h0m2 0h0m1 0h0m1 0h0m1 0h0m2 0h0m1 0h0m1 0h0m1 0h0m1 0h0m1 0h0m1 0h0m2 0h0m2 0h0m1 0h0m1 0h0m3 0h0m3 0h0m1 0h0m7 0h0m-47 1h0m3 0h0m3 0h0m1 0h0m4 0h0m1 0h0m2 0h0m2 0h0m1 0h0m1 0h0m1 0h0m1 0h0m2 0h0m1 0h0m1 0h0m1 0h0m1 0h0m1 0h0m1 0h0m1 0h0m1 0h0m1 0h0m1 0h0m1 0h0m2 0h0m2 0h0m2 0h0m4 0h0m1 0h0m3 0h0m-45 1h0m4 0h0m2 0h0m1 0h0m1 0h0m1 0h0m2 0h0m2 0h0m2 0h0m2 0h0m2 0h0m2 0h0m1 0h0m1 0h0m1 0h0m1 0h0m1 0h0m1 0h0m1 0h0m2 0h0m1 0h0m1 0h0m1 0h0m1 0h0m2 0h0m1 0h0m14 0h0m-56 1h0m5 0h0m1 0h0m3 0h0m2 0h0m1 0h0m1 0h0m1 0h0m2 0h0m1 0h0m1 0h0m2 0h0m1 0h0m1 0h0m1 0h0m2 0h0m2 0h0m1 0h0m1 0h0m5 0h0m1 0h0m3 0h0m1 0h0m8 0h0m-37 1h0m3 0h0m1 0h0m2 0h0m1 0h0m1 0h0m1 0h0m1 0h0m1 0h0m2 0h0m1 0h0m1 0h0m1 0h0m2 0h0m2 0h0m1 0h0m3 0h0m1 0h0m2 0h0m1 0h0m1 0h0m1 0h0m11 0h0m-54 1h0m10 0h0m5 0h0m1 0h0m1 0h0m1 0h0m2 0h0m1 0h0m1 0h0m1 0h0m2 0h0m2 0h0m1 0h0m1 0h0m2 0h0m2 0h0m1 0h0m1 0h0m1 0h0m1 0h0m3 0h0m2 0h0m3 0h0m3 0h0m10 0h0m-50 1h0m7 0h0m3 0h0m5 0h0m1 0h0m1 0h0m5 0h0m2 0h0m1 0h0m1 0h0m1 0h0m2 0h0m1 0h0m2 0h0m2 0h0m1 0h0m4 0h0m1 0h0m-42 1h0m5 0h0m1 0h0m4 0h0m1 0h0m1 0h0m3 0h0m2 0h0m1 0h0m1 0h0m2 0h0m3 0h0m2 0h0m2 0h0m1 0h0m3 0h0m6 0h0m1 0h0m-46 1h0m1 0h0m4 0h0m12 0h0m3 0h0m3 0h0m2 0h0m1 0h0m2 0h0m1 0h0m3 0h0m1 0h0m2 0h0m1 0h0m1 0h0m1 0h0m3 0h0m12 0h0m1 0h0m-43 1h0m7 0h0m1 0h0m4 0h0m1 0h0m4 0h0m1 0h0m2 0h0m1 0h0m1 0h0m4 0h0m4 0h0m3 0h0m1 0h0m2 0h0m-33 1h0m3 0h0m3 0h0m1 0h0m3 0h0m1 0h0m1 0h0m1 0h0m1 0h0m1 0h0m2 0h0m2 0h0m3 0h0m6 0h0m13 0h0m-53 1h0m11 0h0m1 0h0m5 0h0m4 0h0m3 0h0m4 0h0m1 0h0m2 0h0m2 0h0m5 0h0m-31 1h0m6 0h0m4 0h0m2 0h0m4 0h0m4 0h0m6 0h0m1 0h0m1 0h0m10 0h0m-36 1h0m2 0h0m11 0h0m4 0h0m6 0h0m1 0h0m8 0h0m2 0h0m12 0h0m5 0h0m-53 1h0m7 0h0m1 0h0m5 0h0m3 0h0m23 0h0m5 0h0m9 0h0m-48 1h0m1 0h0m13 0h0m3 0h0m1 0h0m4 0h0m2 0h0m-30 1h0m2 0h0m2 0h0m5 0h0m1 0h0m9 0h0m5 0h0m5 1h0m-24 1h0m16 0h0m-11 1h0m8 0h0m-22 1h0m11 1h0m18 1h0m-18 2h0m14 1h0m1 2h0m12 5h0" stroke="#0000ff" stroke-width="2.3" stroke-linecap="round" fill="none"/>
<path d="M523 140h0m15 2h0m-4 3h0m12 0h0m-8 1h0m4 0h0m15 1h0m2 0h0m-48 1h0m2 0h0m21 0h0m10 0h0m13 0h0m-28 1h0m4 0h0m1 0h0m4 0h0m-25 1h0m21 0h0m-7 1h0m3 0h0m1 0h0m3 0h0m1 0h0m12 0h0m4 0h0m-31 1h0m7 0h0m4 0h0m10 0h0m4 0h0m1 0h0m-31 1h0m5 0h0m5 0h0m7 0h0m2 0h0m1 0h0m7 0h0m14 0h0m-47 1h0m3 0h0m10 0h0m3 0h0m10 0h0m4 0h0m1 0h0m9 0h0m-47 1h0m20 0h0m4 0h0m4 0h0m5 0h0m5 0h0m6 0h0m-30 1h0m7 0h0m2 0h0m1 0h0m2 0h0m1 0h0m4 0h0m1 0h0m1 0h0m1 0h0m1 0h0m1 0h0m8 0h0m-28 1h0m1 0h0m2 0h0m2 0h0m2 0h0m1 0h0m2 0h0m4 0h0m1 0h0m1 0h0m2 0h0m1 0h0m7 0h0m1 0h0m3 0h0m4 0h0m-37 1h0m2 0h0m1 0h0m1 0h0m1 0h0m2 0h0m5 0h0m1 0h0m2 0h0m6 0h0m3 0h0m5 0h0m-37 1h0m6 0h0m6 0h0m2 0h0m1 0h0m3 0h0m2 0h0m1 0h0m3 0h0m2 0h0m2 0h0m1 0h0m3 0h0m3 0h0m3 0h0m-36 1h0m2 0h0m1 0h0m1 0h0m2 0h0m2 0h0m6 0h0m1 0h0m2 0h0m1 0h0m1 0h0m2 0h0m1 0h0m1 0h0m1 0h0m1 0h0m1 0h0m1 0h0m2 0h0m1 0h0m2 0h0m1 0h0m2 0h0m1 0h0m4 0h0m2 0h0m-62 1h0m5 0h0m13 0h0m3 0h0m7 0h0m1 0h0m1 0h0m1 0h0m2 0h0m1 0h0m2 0h0m2 0h0m2 0h0m2 0h0m2 0h0m1 0h0m1 0h0m2 0h0m1 0h0m2 0h0m2 0h0m5 0h0m4 0h0m-43 1h0m2 0h0m2 0h0m1 0h0m1 0h0m1 0h0m2 0h0m1 0h0m1 0h0m3 0h0m1 0h0m1 0h0m2 0h0m1 0h0m1 0h0m1 0h0m1 0h0m2 0h0m1 0h0m2 0h0m1 0h0m6 0h0m1 0h0m1 0h0m1 0h0m4 0h0m-50 1h0m8 0h0m1 0h0m3 0h0m2 0h0m1 0h0m2 0h0m3 0h0m1 0h0m1 0h0m3 0h0m1 0h0m2 0h0m1 0h0m2 0h0m1 0h0m5 0h0m2 0h0m3 0h0m3 0h0m4 0h0m-36 1h0m1 0h0m2 0h0m2 0h0m2 0h0m2 0h0m1 0h0m1 0h0m1 0h0m1 0h0m1 0h0m1 0h0m2 0h0m4 0h0m1 0h0m1 0h0m2 0h0m1 0h0m2 0h0m5 0h0m6 0h0m-51 1h0m1 0h0m7 0h0m1 0h0m8 0h0m1 0h0m1 0h0m1 0h0m3 0h0m1 0h0m1 0h0m3 0h0m1 0h0m1 0h0m1 0h0m1 0h0m2 0h0m3 0h0m1 0h0m2 0h0m4 0h0m11 0h0m-45 1h0m1 0h0m1 0h0m1 0h0m2 0h0m1 0h0m1 0h0m1 0h0m1 0h0m1 0h0m1 0h0m1 0h0m2 0h0m1 0h0m1 0h0m1 0h0m1 0h0m1 0h0m1 0h0m3 0h0m2 0h0m3 0h0m1 0h0m1 0h0m2 0h0m4 0h0m-45 1h0m10 0h0m4 0h0m1 0h0m2 0h0m1 0h0m1 0h0m1 0h0m2 0h0m1 0h0m1 0h0m1 0h0m1 0h0m1 0h0m1 0h0m1 0h0m1 0h0m1 0h0m1 0h0m1 0h0m1 0h0m1 0h0m2 0h0m1 0h0m1 0h0m1 0h0m1 0h0m1 0h0m1 0h0m2 0h0m-57 1h0m13 0h0m2 0h0m3 0h0m2 0h0m1 0h0m2 0h0m2 0h0m1 0h0m1 0h0m1 0h0m1 0h0m1 0h0m1 0h0m1 0h0m1 0h0m1 0h0m1 0h0m2 0h0m1 0h0m4 0h0m1 0h0m2 0h0m2 0h0m1 0h0m1 0h0m2 0h0m3 0h0m3 0h0m1 0h0m3 0h0m11 0h0m-60 1h0m1 0h0m4 0h0m1 0h0m4 0h0m1 0h0m4 0h0m1 0h0m1 0h0m2 0h0m1 0h0m1 0h0m2 0h0m1 0h0m2 0h0m1 0h0m1 0h0m2 0h0m1 0h0m2 0h0m1 0h0m3 0h0m2 0h0m1 0h0m3 0h0m-46 1h0m4 0h0m2 0h0m3 0h0m4 0h0m2 0h0m1 0h0m1 0h0m3 0h0m1 0h0m2 0h0m1 0h0m1 0h0m1 0h0m1 0h0m2 0h0m2 0h0m2 0h0m2 0h0m1 0h0m1 0h0m2 0h0m-52 1h0m12 0h0m3 0h0m1 0h0m1 0h0m5 0h0m4 0h0m1 0h0m1 0h0m3 0h0m2 0h0m1 0h0m1 0h0m1 0h0m1 0h0m1 0h0m1 0h0m1 0h0m1 0h0m1 0h0m2 0h0m1 0h0m6 0h0m1 0h0m2 0h0m1 0h0m-50 1h0m12 0h0m1 0h0m3 0h0m1 0h0m2 0h0m1 0h0m1 0h0m1 0h0m1 0h0m2 0h0m1 0h0m3 0h0m1 0h0m1 0h0m1 0h0m3 0h0m3 0h0m2 0h0m1 0h0m2 0h0m2 0h0m1 0h0m2 0h0m9 0h0m1 0h0m-53 1h0m3 0h0m7 0h0m1 0h0m2 0h0m1 0h0m1 0h0m2 0h0m2 0h0m1 0h0m1 0h0m1 0h0m1 0h0m1 0h0m1 0h0m1 0h0m1 0h0m1 0h0m1 0h0m2 0h0m1 0h0m1 0h0m1 0h0m1 0h0m1 0h0m2 0h0m2 0h0m3 0h0m1 0h0m1 0h0m8 0h0m-62 1h0m13 0h0m5 0h0m1 0h0m2 0h0m1 0h0m2 0h0m5 0h0m2 0h0m2 0h0m2 0h0m1 0h0m1 0h0m1 0h0m1 0h0m1 0h0m1 0h0m2 0h0m1 0h0m1 0h0m3 0h0m1 0h0m21 0h0m-68 1h0m12 0h0m1 0h0m3 0h0m2 0h0m3 0h0m1 0h0m1 0h0m1 0h0m2 0h0m2 0h0m1 0h0m2 0h0m3 0h0m1 0h0m4 0h0m1 0h0m1 0h0m2 0h0m3 0h0m1 0h0m5 0h0m10 0h0m-58 1h0m7 0h0m1 0h0m1 0h0m1 0h0m1 0h0m1 0h0m3 0h0m3 0h0m1 0h0m2 0h0m1 0h0m1 0h0m3 0h0m1 0h0m1 0h0m1 0h0m1 0h0m1 0h0m2 0h0m1 0h0m1 0h0m11 0h0m-50 1h0m11 0h0m4 0h0m5 0h0m2 0h0m2 0h0m2 0h0m1 0h0m1 0h0m1 0h0m1 0h0m1 0h0m1 0h0m2 0h0m3 0h0m1 0h0m7 0h0m6 0h0m2 0h0m1 0h0m3 0h0m-52 1h0m3 0h0m4 0h0m1 0h0m2 0h0m5 0h0m1 0h0m1 0h0m1 0h0m2 0h0m3 0h0m2 0h0m1 0h0m1 0h0m3 0h0m7 0h0m1 0h0m2 0h0m5 0h0m8 0h0m-49 1h0m12 0h0m2 0h0m2 0h0m2 0h0m2 0h0m1 0h0m2 0h0m1 0h0m1 0h0m2 0h0m2 0h0m-25 1h0m3 0h0m4 0h0m1 0h0m1 0h0m1 0h0m2 0h0m1 0h0m3 0h0m1 0h0m1 0h0m2 0h0m6 0h0m1 0h0m2 0h0m2 0h0m5 0h0m1 0h0m-46 1h0m7 0h0m6 0h0m3 0h0m1 0h0m2 0h0m1 0h0m2 0h0m1 0h0m2 0h0m1 0h0m2 0h0m9 0h0m7 0h0m2 0h0m-45 1h0m8 0h0m2 0h0m5 0h0m2 0h0m1 0h0m4 0h0m3 0h0m21 0h0m4 0h0m-57 1h0m5 0h0m5 0h0m2 0h0m2 0h0m4 0h0m1 0h0m2 0h0m9 0h0m1 0h0m2 0h0m1 0h0m5 0h0m2 0h0m-25 1h0m2 0h0m6 0h0m2 0h0m2 0h0m6 0h0m3 0h0m3 0h0m4 0h0m11 0h0m-47 1h0m9 0h0m18 0h0m4 0h0m13 0h0m-58 1h0m13 0h0m7 0h0m5 0h0m2 0h0m2 0h0m3 0h0m5 0h0m1 0h0m8 0h0m2 0h0m2 0h0m-38 1h0m4 0h0m6 0h0m4 0h0m3 0h0m1 0h0m3 0h0m4 0h0m1 0h0m27 0h0m-49 1h0m10 0h0m9 1h0m6 0h0m-28 2h0m1 0h0m11 0h0m4 1h0m-15 1h0m5 0h0m8 2h0m1 1h0m12 0h0m-27 3h0m0 1h0m-6 3h0" stroke="#0000ff" stroke-width="2.3" stroke-linecap="round" fill="none"/>
<path d="M616 130h0m11 0h0m17 2h0m-45 2h0m13 0h0m11 0h0m-12 1h0m-1 1h0m-6 1h0m3 1h0m6 0h0m-12 1h0m3 0h0m4 1h0m1 0h0m6 0h0m8 0h0m-30 1h0m4 0h0m4 0h0m9 0h0m1 0h0m17 0h0m-15 1h0m1 0h0m6 0h0m-22 1h0m5 0h0m8 0h0m7 0h0m1 0h0m-22 1h0m6 0h0m7 0h0m1 0h0m4 0h0m4 0h0m2 0h0m3 0h0m10 0h0m-31 1h0m1 0h0m3 0h0m4 0h0m2 0h0m2 0h0m3 0h0m8 0h0m1 0h0m2 0h0m6 0h0m-31 1h0m1 0h0m1 0h0m6 0h0m1 0h0m3 0h0m3 0h0m3 0h0m-30 1h0m13 0h0m1 0h0m1 0h0m1 0h0m4 0h0m3 0h0m3 0h0m1 0h0m1 0h0m2 0h0m-30 1h0m8 0h0m1 0h0m3 0h0m1 0h0m2 0h0m3 0h0m1 0h0m1 0h0m2 0h0m3 0h0m3 0h0m4 0h0m2 0h0m-28 1h0m4 0h0m8 0h0m1 0h0m1 0h0m2 0h0m3 0h0m5 0h0m8 0h0m6 0h0m-38 1h0m4 0h0m1 0h0m2 0h0m1 0h0m1 0h0m4 0h0m2 0h0m1 0h0m1 0h0m3 0h0m1 0h0m1 0h0m2 0h0m13 0h0m-40 1h0m6 0h0m1 0h0m2 0h0m5 0h0m3 0h0m1 0h0m1 0h0m1 0h0m1 0h0m3 0h0m1 0h0m1 0h0m3 0h0m2 0h0m2 0h0m2 0h0m1 0h0m-36 1h0m5 0h0m1 0h0m4 0h0m1 0h0m5 0h0m1 0h0m3 0h0m1 0h0m1 0h0m3 0h0m1 0h0m1 0h0m1 0h0m2 0h0m3 0h0m1 0h0m-41 1h0m1 0h0m1 0h0m4 0h0m5 0h0m4 0h0m1 0h0m3 0h0m1 0h0m1 0h0m1 0h0m2 0h0m4 0h0m2 0h0m4 0h0m1 0h0m2 0h0m11 0h0m-42 1h0m2 0h0m3 0h0m4 0h0m2 0h0m2 0h0m2 0h0m1 0h0m1 0h0m1 0h0m1 0h0m1 0h0m2 0h0m2 0h0m1 0h0m1 0h0m1 0h0m1 0h0m8 0h0m6 0h0m1 0h0m4 0h0m-49 1h0m2 0h0m6 0h0m1 0h0m4 0h0m2 0h0m1 0h0m2 0h0m1 0h0m1 0h0m3 0h0m2 0h0m1 0h0m3 0h0m1 0h0m-32 1h0m1 0h0m5 0h0m1 0h0m3 0h0m1 0h0m4 0h0m2 0h0m1 0h0m1 0h0m1 0h0m1 0h0m1 0h0m1 0h0m2 0h0m1 0h0m1 0h0m1 0h0m1 0h0m2 0h0m2 0h0m1 0h0m2 0h0m2 0h0m1 0h0m1 0h0m-34 1h0m4 0h0m2 0h0m1 0h0m1 0h0m1 0h0m1 0h0m2 0h0m1 0h0m2 0h0m1 0h0m1 0h0m1 0h0m1 0h0m1 0h0m3 0h0m2 0h0m1 0h0m1 0h0m2 0h0m5 0h0m2 0h0m-40 1h0m3 0h0m6 0h0m1 0h0m1 0h0m1 0h0m1 0h0m1 0h0m1 0h0m1 0h0m1 0h0m1 0h0m1 0h0m1 0h0m1 0h0m2 0h0m1 0h0m9 0h0m4 0h0m5 0h0m1 0h0m-62 1h0m23 0h0m2 0h0m1 0h0m2 0h0m1 0h0m1 0h0m1 0h0m1 0h0m1 0h0m1 0h0m2 0h0m2 0h0m1 0h0m1 0h0m1 0h0m1 0h0m1 0h0m1 0h0m2 0h0m2 0h0m1 0h0m1 0h0m3 0h0m5 0h0m-35 1h0m1 0h0m2 0h0m3 0h0m1 0h0m2 0h0m2 0h0m2 0h0m2 0h0m4 0h0m1 0h0m1 0h0m1 0h0m1 0h0m1 0h0m3 0h0m1 0h0m3 0h0m5 0h0m1 0h0m-50 1h0m5 0h0m9 0h0m1 0h0m1 0h0m1 0h0m3 0h0m1 0h0m1 0h0m2 0h0m1 0h0m1 0h0m2 0h0m2 0h0m1 0h0m4 0h0m2 0h0m1 0h0m1 0h0m3 0h0m3 0h0m1 0h0m9 0h0m-53 1h0m3 0h0m3 0h0m4 0h0m6 0h0m1 0h0m1 0h0m1 0h0m2 0h0m1 0h0m1 0h0m1 0h0m1 0h0m1 0h0m1 0h0m1 0h0m2 0h0m1 0h0m1 0h0m2 0h0m1 0h0m1 0h0m1 0h0m1 0h0m4 0h0m1 0h0m6 0h0m-48 1h0m6 0h0m1 0h0m2 0h0m3 0h0m3 0h0m5 0h0m1 0h0m1 0h0m1 0h0m2 0h0m1 0h0m1 0h0m2 0h0m3 0h0m2 0h0m1 0h0m3 0h0m3 0h0m21 0h0m-69 1h0m4 0h0m8 0h0m3 0h0m2 0h0m1 0h0m2 0h0m1 0h0m1 0h0m1 0h0m2 0h0m3 0h0m2 0h0m1 0h0m1 0h0m2 0h0m1 0h0m1 0h0m1 0h0m2 0h0m1 0h0m2 0h0m4 0h0m2 0h0m4 0h0m-42 1h0m1 0h0m6 0h0m3 0h0m2 0h0m1 0h0m2 0h0m1 0h0m2 0h0m1 0h0m2 0h0m1 0h0m1 0h0m1 0h0m1 0h0m1 0h0m1 0h0m1 0h0m7 0h0m1 0h0m4 0h0m1 0h0m11 0h0m-55 1h0m2 0h0m3 0h0m5 0h0m1 0h0m1 0h0m4 0h0m1 0h0m2 0h0m3 0h0m1 0h0m1 0h0m1 0h0m1 0h0m1 0h0m1 0h0m2 0h0m1 0h0m1 0h0m2 0h0m1 0h0m1 0h0m7 0h0m-48 1h0m8 0h0m3 0h0m3 0h0m3 0h0m1 0h0m1 0h0m1 0h0m5 0h0m2 0h0m1 0h0m1 0h0m2 0h0m1 0h0m1 0h0m1 0h0m1 0h0m1 0h0m1 0h0m2 0h0m1 0h0m8 0h0m-40 1h0m3 0h0m2 0h0m1 0h0m3 0h0m4 0h0m1 0h0m1 0h0m1 0h0m1 0h0m1 0h0m2 0h0m1 0h0m1 0h0m1 0h0m1 0h0m2 0h0m2 0h0m11 0h0m5 0h0m-45 1h0m6 0h0m2 0h0m4 0h0m1 0h0m1 0h0m1 0h0m1 0h0m1 0h0m1 0h0m1 0h0m1 0h0m4 0h0m1 0h0m3 0h0m1 0h0m3 0h0m1 0h0m5 0h0m-41 1h0m8 0h0m4 0h0m3 0h0m2 0h0m1 0h0m1 0h0m1 0h0m3 0h0m1 0h0m3 0h0m1 0h0m1 0h0m2 0h0m1 0h0m3 0h0m1 0h0m1 0h0m-34 1h0m7 0h0m1 0h0m1 0h0m1 0h0m1 0h0m1 0h0m2 0h0m1 0h0m2 0h0m1 0h0m1 0h0m1 0h0m1 0h0m4 0h0m1 0h0m1 0h0m3 0h0m11 0h0m-40 1h0m1 0h0m1 0h0m3 0h0m8 0h0m1 0h0m2 0h0m1 0h0m2 0h0m2 0h0m2 0h0m1 0h0m4 0h0m2 0h0m2 0h0m2 0h0m3 0h0m6 0h0m-52 1h0m9 0h0m3 0h0m1 0h0m1 0h0m3 0h0m3 0h0m1 0h0m1 0h0m2 0h0m2 0h0m3 0h0m2 0h0m3 0h0m1 0h0m1 0h0m1 0h0m2 0h0m5 0h0m2 0h0m5 0h0m-46 1h0m1 0h0m5 0h0m2 0h0m2 0h0m4 0h0m1 0h0m1 0h0m11 0h0m2 0h0m1 0h0m1 0h0m-33 1h0m5 0h0m2 0h0m3 0h0m2 0h0m4 0h0m2 0h0m7 0h0m1 0h0m1 0h0m2 0h0m4 0h0m4 0h0m3 0h0m3 0h0m4 0h0m-45 1h0m5 0h0m7 0h0m2 0h0m2 0h0m1 0h0m1 0h0m1 0h0m3 0h0m2 0h0m1 0h0m4 0h0m3 0h0m1 0h0m-35 1h0m8 0h0m1 0h0m1 0h0m2 0h0m3 0h0m3 0h0m2 0h0m3 0h0m3 0h0m7 0h0m1 0h0m1 0h0m4 0h0m11 0h0m-38 1h0m2 0h0m8 0h0m3 0h0m1 0h0m1 0h0m3 0h0m4 0h0m4 0h0m-25 1h0m4 0h0m1 0h0m2 0h0m1 0h0m2 0h0m-17 1h0m2 0h0m5 0h0m1 0h0m1 0h0m3 0h0m2 0h0m1 0h0m2 0h0m1 0h0m6 0h0m1 0h0m1 0h0m-46 1h0m9 0h0m19 0h0m3 0h0m1 0h0m3 0h0m8 0h0m1 0h0m6 0h0m-20 1h0m1 0h0m12 0h0m2 0h0m4 0h0m2 0h0m-22 1h0m2 0h0m3 0h0m11 0h0m5 0h0m3 0h0m-41 1h0m16 0h0m6 0h0m4 0h0m1 0h0m6 0h0m2 0h0m-36 1h0m9 0h0m11 0h0m2 0h0m5 0h0m5 0h0m-18 1h0m6 0h0m4 0h0m3 0h0m6 0h0m-34 1h0m18 0h0m4 0h0m4 0h0m-19 1h0m37 0h0m14 0h0m-44 1h0m2 0h0m8 0h0m11 0h0m5 0h0m-48 3h0m51 0h0m-26 1h0m6 0h0m2 1h0m11 1h0m-30 1h0m-11 1h0m26 4h0" stroke="#0000ff" stroke-width="2.3" stroke-linecap="round" fill="none"/>
<path d="M726 132h0m-25 3h0m19 1h0m-23 2h0m11 1h0m1 0h0m4 0h0m8 0h0m1 0h0m-18 1h0m8 0h0m2 0h0m1 0h0m-3 1h0m-4 1h0m11 0h0m1 0h0m8 0h0m3 0h0m-20 1h0m2 0h0m7 0h0m-18 1h0m2 0h0m2 0h0m2 0h0m2 0h0m4 0h0m3 0h0m2 0h0m2 0h0m3 0h0m1 0h0m9 0h0m-29 1h0m4 0h0m7 0h0m4 0h0m3 0h0m-32 1h0m13 0h0m1 0h0m1 0h0m2 0h0m12 0h0m8 0h0m-29 1h0m2 0h0m1 0h0m1 0h0m17 0h0m-23 1h0m4 0h0m5 0h0m4 0h0m4 0h0m3 0h0m1 0h0m-39 1h0m18 0h0m3 0h0m1 0h0m2 0h0m1 0h0m2 0h0m2 0h0m1 0h0m2 0h0m2 0h0m1 0h0m1 0h0m4 0h0m1 0h0m9 0h0m-33 1h0m6 0h0m1 0h0m8 0h0m1 0h0m2 0h0m1 0h0m1 0h0m12 0h0m-53 1h0m20 0h0m1 0h0m11 0h0m1 0h0m4 0h0m4 0h0m2 0h0m2 0h0m1 0h0m-35 1h0m5 0h0m2 0h0m2 0h0m2 0h0m2 0h0m3 0h0m5 0h0m2 0h0m1 0h0m4 0h0m1 0h0m3 0h0m7 0h0m-48 1h0m9 0h0m7 0h0m1 0h0m3 0h0m1 0h0m1 0h0m1 0h0m1 0h0m1 0h0m1 0h0m1 0h0m1 0h0m3 0h0m4 0h0m2 0h0m7 0h0m1 0h0m-42 1h0m7 0h0m8 0h0m1 0h0m1 0h0m1 0h0m2 0h0m1 0h0m1 0h0m1 0h0m2 0h0m2 0h0m2 0h0m1 0h0m1 0h0m1 0h0m3 0h0m3 0h0m1 0h0m1 0h0m4 0h0m4 0h0m-44 1h0m5 0h0m3 0h0m2 0h0m7 0h0m3 0h0m3 0h0m1 0h0m1 0h0m1 0h0m2 0h0m2 0h0m2 0h0m1 0h0m2 0h0m1 0h0m-38 1h0m6 0h0m1 0h0m2 0h0m3 0h0m1 0h0m1 0h0m1 0h0m1 0h0m1 0h0m2 0h0m1 0h0m2 0h0m2 0h0m1 0h0m1 0h0m2 0h0m3 0h0m1 0h0m2 0h0m2 0h0m1 0h0m2 0h0m1 0h0m1 0h0m3 0h0m-38 1h0m3 0h0m4 0h0m1 0h0m1 0h0m1 0h0m2 0h0m2 0h0m1 0h0m1 0h0m1 0h0m1 0h0m1 0h0m1 0h0m1 0h0m2 0h0m3 0h0m3 0h0m1 0h0m-34 1h0m2 0h0m3 0h0m1 0h0m2 0h0m1 0h0m1 0h0m1 0h0m1 0h0m2 0h0m1 0h0m1 0h0m2 0h0m3 0h0m1 0h0m1 0h0m2 0h0m1 0h0m1 0h0m2 0h0m1 0h0m3 0h0m1 0h0m1 0h0m3 0h0m12 0h0m-49 1h0m5 0h0m3 0h0m1 0h0m1 0h0m1 0h0m1 0h0m1 0h0m2 0h0m1 0h0m1 0h0m1 0h0m1 0h0m3 0h0m1 0h0m1 0h0m4 0h0m2 0h0m9 0h0m-45 1h0m3 0h0m2 0h0m7 0h0m1 0h0m1 0h0m1 0h0m1 0h0m1 0h0m1 0h0m3 0h0m1 0h0m1 0h0m2 0h0m1 0h0m2 0h0m2 0h0m1 0h0m1 0h0m1 0h0m2 0h0m1 0h0m1 0h0m1 0h0m4 0h0m3 0h0m1 0h0m-48 1h0m10 0h0m2 0h0m1 0h0m1 0h0m2 0h0m1 0h0m1 0h0m1 0h0m1 0h0m1 0h0m2 0h0m2 0h0m3 0h0m1 0h0m1 0h0m3 0h0m2 0h0m1 0h0m1 0h0m1 0h0m1 0h0m4 0h0m1 0h0m-48 1h0m9 0h0m1 0h0m2 0h0m1 0h0m1 0h0m1 0h0m1 0h0m1 0h0m1 0h0m4 0h0m2 0h0m1 0h0m2 0h0m3 0h0m1 0h0m3 0h0m1 0h0m11 0h0m2 0h0m2 0h0m4 0h0m-51 1h0m9 0h0m4 0h0m1 0h0m3 0h0m2 0h0m2 0h0m1 0h0m1 0h0m1 0h0m1 0h0m1 0h0m1 0h0m1 0h0m2 0h0m4 0h0m1 0h0m1 0h0m2 0h0m5 0h0m-36 1h0m4 0h0m1 0h0m2 0h0m1 0h0m1 0h0m2 0h0m1 0h0m1 0h0m1 0h0m1 0h0m1 0h0m1 0h0m2 0h0m1 0h0m2 0h0m1 0h0m1 0h0m1 0h0m1 0h0m1 0h0m9 0h0m4 0h0m-50 1h0m2 0h0m6 0h0m1 0h0m1 0h0m2 0h0m1 0h0m4 0h0m3 0h0m1 0h0m6 0h0m1 0h0m3 0h0m2 0h0m3 0h0m1 0h0m1 0h0m1 0h0m1 0h0m1 0h0m3 0h0m1 0h0m-35 1h0m1 0h0m1 0h0m3 0h0m1 0h0m1 0h0m1 0h0m1 0h0m1 0h0m2 0h0m1 0h0m1 0h0m1 0h0m1 0h0m1 0h0m1 0h0m1 0h0m1 0h0m1 0h0m1 0h0m1 0h0m3 0h0m2 0h0m2 0h0m-35 1h0m2 0h0m2 0h0m2 0h0m1 0h0m2 0h0m1 0h0m1 0h0m1 0h0m3 0h0m1 0h0m1 0h0m2 0h0m1 0h0m1 0h0m1 0h0m1 0h0m1 0h0m1 0h0m3 0h0m3 0h0m3 0h0m12 0h0m1 0h0m-50 1h0m4 0h0m1 0h0m2 0h0m1 0h0m2 0h0m2 0h0m2 0h0m1 0h0m1 0h0m1 0h0m1 0h0m1 0h0m1 0h0m1 0h0m2 0h0m1 0h0m1 0h0m1 0h0m3 0h0m1 0h0m1 0h0m1 0h0m1 0h0m2 0h0m2 0h0m1 0h0m-27 1h0m2 0h0m2 0h0m1 0h0m1 0h0m1 0h0m1 0h0m1 0h0m2 0h0m2 0h0m1 0h0m1 0h0m1 0h0m4 0h0m2 0h0m1 0h0m2 0h0m4 0h0m-32 1h0m1 0h0m2 0h0m1 0h0m2 0h0m1 0h0m1 0h0m3 0h0m1 0h0m1 0h0m1 0h0m1 0h0m1 0h0m1 0h0m1 0h0m2 0h0m1 0h0m7 0h0m5 0h0m5 0h0m-51 1h0m8 0h0m2 0h0m2 0h0m1 0h0m3 0h0m2 0h0m2 0h0m1 0h0m2 0h0m2 0h0m1 0h0m1 0h0m1 0h0m2 0h0m3 0h0m1 0h0m2 0h0m1 0h0m1 0h0m1 0h0m5 0h0m6 0h0m-44 1h0m6 0h0m3 0h0m1 0h0m2 0h0m1 0h0m1 0h0m1 0h0m3 0h0m1 0h0m2 0h0m1 0h0m4 0h0m1 0h0m1 0h0m3 0h0m4 0h0m-31 1h0m1 0h0m1 0h0m3 0h0m1 0h0m2 0h0m3 0h0m2 0h0m1 0h0m2 0h0m5 0h0m2 0h0m15 0h0m-51 1h0m2 0h0m8 0h0m5 0h0m1 0h0m2 0h0m1 0h0m1 0h0m2 0h0m6 0h0m1 0h0m1 0h0m1 0h0m1 0h0m1 0h0m1 0h0m1 0h0m9 0h0m1 0h0m-41 1h0m6 0h0m1 0h0m4 0h0m2 0h0m2 0h0m1 0h0m2 0h0m1 0h0m3 0h0m4 0h0m1 0h0m2 0h0m8 0h0m-40 1h0m12 0h0m1 0h0m7 0h0m5 0h0m1 0h0m1 0h0m4 0h0m4 0h0m1 0h0m2 0h0m3 0h0m-38 1h0m3 0h0m4 0h0m3 0h0m1 0h0m2 0h0m2 0h0m1 0h0m4 0h0m2 0h0m1 0h0m1 0h0m2 0h0m7 0h0m4 0h0m-40 1h0m2 0h0m1 0h0m14 0h0m2 0h0m2 0h0m5 0h0m18 0h0m-44 1h0m10 0h0m1 0h0m4 0h0m7 0h0m2 0h0m1 0h0m3 0h0m1 0h0m-21 1h0m2 0h0m5 0h0m2 0h0m2 0h0m3 0h0m6 0h0m1 0h0m2 0h0m8 0h0m-31 1h0m6 0h0m2 0h0m1 0h0m1 0h0m6 0h0m1 0h0m14 0h0m2 0h0m-19 1h0m1 0h0m-12 1h0m3 0h0m4 0h0m1 0h0m2 0h0m14 0h0m-23 1h0m16 0h0m-21 1h0m13 0h0m-16 1h0m8 0h0m9 0h0m1 0h0m-16 1h0m1 0h0m17 0h0m4 1h0m-14 1h0m1 0h0m-7 1h0m12 0h0m6 0h0m-15 2h0m-17 1h0m5 1h0m-4 2h0m5 5h0" stroke="#0000ff" stroke-width="2.3" stroke-linecap="round" fill="none"/>
<path d="M96 219h0m11 0h0m-5 3h0m-14 3h0m2 0h0m3 0h0m5 0h0m-19 1h0m11 0h0m2 0h0m8 0h0m3 0h0m-32 1h0m13 0h0m7 0h0m1 0h0m3 0h0m1 0h0m1 0h0m6 0h0m3 0h0m2 0h0m9 0h0m-35 1h0m5 0h0m14 0h0m7 0h0m5 0h0m6 0h0m-48 1h0m11 0h0m4 0h0m3 0h0m3 0h0m1 0h0m1 0h0m3 0h0m3 0h0m4 0h0m2 0h0m1 0h0m8 0h0m9 0h0m-52 1h0m6 0h0m7 0h0m12 0h0m2 0h0m1 0h0m5 0h0m6 0h0m-50 1h0m6 0h0m14 0h0m7 0h0m5 0h0m1 0h0m2 0h0m4 0h0m4 0h0m6 0h0m2 0h0m4 0h0m-53 1h0m7 0h0m13 0h0m1 0h0m8 0h0m1 0h0m3 0h0m2 0h0m1 0h0m1 0h0m1 0h0m2 0h0m3 0h0m1 0h0m5 0h0m-49 1h0m20 0h0m1 0h0m2 0h0m1 0h0m2 0h0m3 0h0m2 0h0m3 0h0m3 0h0m2 0h0m3 0h0m2 0h0m1 0h0m-41 1h0m3 0h0m8 0h0m2 0h0m1 0h0m1 0h0m2 0h0m1 0h0m4 0h0m2 0h0m1 0h0m1 0h0m2 0h0m2 0h0m1 0h0m2 0h0m2 0h0m1 0h0m4 0h0m2 0h0m-47 1h0m1 0h0m7 0h0m2 0h0m1 0h0m5 0h0m2 0h0m3 0h0m1 0h0m2 0h0m2 0h0m1 0h0m2 0h0m1 0h0m1 0h0m2 0h0m3 0h0m2 0h0m2 0h0m1 0h0m1 0h0m7 0h0m3 0h0m4 0h0m-55 1h0m7 0h0m3 0h0m1 0h0m2 0h0m1 0h0m5 0h0m2 0h0m4 0h0m2 0h0m1 0h0m3 0h0m1 0h0m1 0h0m3 0h0m2 0h0m2 0h0m1 0h0m1 0h0m2 0h0m3 0h0m-44 1h0m5 0h0m2 0h0m2 0h0m1 0h0m1 0h0m6 0h0m1 0h0m1 0h0m1 0h0m2 0h0m1 0h0m1 0h0m2 0h0m1 0h0m1 0h0m2 0h0m1 0h0m1 0h0m3 0h0m2 0h0m4 0h0m-40 1h0m8 0h0m1 0h0m1 0h0m2 0h0m1 0h0m1 0h0m1 0h0m1 0h0m2 0h0m2 0h0m1 0h0m2 0h0m2 0h0m2 0h0m1 0h0m3 0h0m1 0h0m1 0h0m1 0h0m2 0h0m1 0h0m4 0h0m8 0h0m3 0h0m2 0h0m-53 1h0m7 0h0m1 0h0m2 0h0m3 0h0m3 0h0m1 0h0m1 0h0m3 0h0m1 0h0m1 0h0m1 0h0m1 0h0m3 0h0m1 0h0m1 0h0m1 0h0m3 0h0m1 0h0m2 0h0m1 0h0m1 0h0m7 0h0m2 0h0m9 0h0m-56 1h0m5 0h0m6 0h0m4 0h0m1 0h0m2 0h0m1 0h0m1 0h0m1 0h0m1 0h0m2 0h0m1 0h0m4 0h0m1 0h0m1 0h0m1 0h0m1 0h0m1 0h0m1 0h0m1 0h0m2 0h0m1 0h0m2 0h0m8 0h0m-59 1h0m3 0h0m8 0h0m3 0h0m3 0h0m2 0h0m2 0h0m2 0h0m1 0h0m1 0h0m1 0h0m3 0h0m1 0h0m1 0h0m1 0h0m1 0h0m1 0h0m6 0h0m1 0h0m3 0h0m4 0h0m4 0h0m3 0h0m2 0h0m-60 1h0m11 0h0m4 0h0m1 0h0m1 0h0m2 0h0m1 0h0m1 0h0m5 0h0m3 0h0m2 0h0m1 0h0m2 0h0m1 0h0m1 0h0m1 0h0m2 0h0m1 0h0m1 0h0m1 0h0m1 0h0m1 0h0m1 0h0m1 0h0m1 0h0m1 0h0m3 0h0m1 0h0m1 0h0m2 0h0m1 0h0m7 0h0m-53 1h0m1 0h0m3 0h0m5 0h0m2 0h0m2 0h0m1 0h0m1 0h0m2 0h0m1 0h0m2 0h0m2 0h0m1 0h0m2 0h0m3 0h0m1 0h0m1 0h0m2 0h0m3 0h0m1 0h0m1 0h0m1 0h0m1 0h0m1 0h0m7 0h0m-51 1h0m2 0h0m4 0h0m6 0h0m1 0h0m1 0h0m1 0h0m3 0h0m2 0h0m1 0h0m1 0h0m2 0h0m1 0h0m1 0h0m1 0h0m1 0h0m1 0h0m2 0h0m1 0h0m1 0h0m2 0h0m1 0h0m1 0h0m1 0h0m1 0h0m1 0h0m2 0h0m1 0h0m1 0h0m17 0h0m-73 1h0m11 0h0m3 0h0m2 0h0m1 0h0m3 0h0m3 0h0m1 0h0m2 0h0m3 0h0m2 0h0m1 0h0m1 0h0m1 0h0m2 0h0m1 0h0m1 0h0m1 0h0m1 0h0m2 0h0m1 0h0m1 0h0m1 0h0m1 0h0m4 0h0m1 0h0m1 0h0m5 0h0m4 0h0m-49 1h0m1 0h0m1 0h0m7 0h0m1 0h0m1 0h0m2 0h0m1 0h0m1 0h0m2 0h0m1 0h0m1 0h0m1 0h0m1 0h0m1 0h0m1 0h0m1 0h0m1 0h0m1 0h0m3 0h0m1 0h0m1 0h0m2 0h0m2 0h0m1 0h0m1 0h0m1 0h0m1 0h0m1 0h0m3 0h0m9 0h0m-55 1h0m7 0h0m3 0h0m3 0h0m6 0h0m1 0h0m1 0h0m1 0h0m3 0h0m1 0h0m1 0h0m1 0h0m1 0h0m1 0h0m1 0h0m1 0h0m1 0h0m2 0h0m1 0h0m1 0h0m2 0h0m1 0h0m4 0h0m1 0h0m1 0h0m5 0h0m-45 1h0m1 0h0m5 0h0m3 0h0m2 0h0m2 0h0m2 0h0m1 0h0m3 0h0m1 0h0m1 0h0m1 0h0m1 0h0m2 0h0m2 0h0m2 0h0m1 0h0m1 0h0m1 0h0m2 0h0m1 0h0m3 0h0m3 0h0m2 0h0m1 0h0m3 0h0m-54 1h0m5 0h0m6 0h0m2 0h0m2 0h0m1 0h0m3 0h0m2 0h0m2 0h0m1 0h0m3 0h0m1 0h0m1 0h0m1 0h0m3 0h0m2 0h0m2 0h0m1 0h0m1 0h0m1 0h0m3 0h0m2 0h0m3 0h0m3 0h0m-50 1h0m7 0h0m1 0h0m3 0h0m3 0h0m2 0h0m1 0h0m2 0h0m2 0h0m2 0h0m1 0h0m2 0h0m2 0h0m1 0h0m2 0h0m6 0h0m6 0h0m5 0h0m1 0h0m-41 1h0m1 0h0m1 0h0m6 0h0m1 0h0m1 0h0m1 0h0m1 0h0m1 0h0m4 0h0m1 0h0m3 0h0m2 0h0m1 0h0m1 0h0m1 0h0m1 0h0m7 0h0m1 0h0m1 0h0m4 0h0m-44 1h0m5 0h0m3 0h0m1 0h0m1 0h0m1 0h0m1 0h0m2 0h0m2 0h0m1 0h0m1 0h0m3 0h0m1 0h0m3 0h0m1 0h0m1 0h0m2 0h0m1 0h0m1 0h0m2 0h0m5 0h0m9 0h0m-49 1h0m2 0h0m8 0h0m3 0h0m1 0h0m1 0h0m2 0h0m2 0h0m2 0h0m1 0h0m2 0h0m1 0h0m1 0h0m2 0h0m1 0h0m1 0h0m1 0h0m1 0h0m2 0h0m2 0h0m7 0h0m-35 1h0m3 0h0m3 0h0m7 0h0m1 0h0m2 0h0m1 0h0m1 0h0m1 0h0m1 0h0m1 0h0m1 0h0m1 0h0m3 0h0m2 0h0m1 0h0m-39 1h0m1 0h0m4 0h0m7 0h0m1 0h0m3 0h0m1 0h0m4 0h0m4 0h0m1 0h0m4 0h0m2 0h0m1 0h0m2 0h0m6 0h0m2 0h0m1 0h0m1 0h0m8 0h0m3 0h0m-47 1h0m7 0h0m5 0h0m1 0h0m1 0h0m1 0h0m1 0h0m2 0h0m2 0h0m3 0h0m1 0h0m16 0h0m-49 1h0m4 0h0m4 0h0m3 0h0m3 0h0m2 0h0m1 0h0m1 0h0m3 0h0m3 0h0m1 0h0m5 0h0m2 0h0m1 0h0m3 0h0m-36 1h0m11 0h0m1 0h0m6 0h0m6 0h0m5 0h0m9 0h0m-36 1h0m10 0h0m8 0h0m4 0h0m1 0h0m1 0h0m2 0h0m7 0h0m1 0h0m3 0h0m-32 1h0m8 0h0m5 0h0m4 0h0m4 0h0m1 0h0m1 0h0m12 0h0m1 0h0m-32 1h0m1 0h0m6 0h0m6 0h0m9 0h0m4 0h0m2 0h0m2 0h0m-32 1h0m1 0h0m7 0h0m11 0h0m7 0h0m5 0h0m5 0h0m-35 1h0m1 0h0m11 0h0m1 0h0m14 0h0m16 0h0m-33 1h0m11 0h0m7 0h0m-28 1h0m3 0h0m17 0h0m7 0h0m-16 1h0m25 0h0m-3 1h0m-31 1h0m10 1h0m5 1h0m-10 3h0m-16 7h0m44 0h0" stroke="#0000ff" stroke-width="2.3" stroke-linecap="round" fill="none"/>
<path d="M183 213h0m-8 4h0m26 0h0m-26 1h0m10 0h0m6 0h0m-11 2h0m-17 1h0m19 0h0m8 0h0m-11 1h0m16 0h0m7 0h0m1 0h0m-30 1h0m12 1h0m3 0h0m10 0h0m2 0h0m-24 1h0m6 0h0m4 0h0m4 0h0m1 0h0m7 0h0m-23 1h0m5 0h0m1 0h0m3 0h0m20 0h0m-67 1h0m39 0h0m9 0h0m8 0h0m11 0h0m9 0h0m-48 1h0m1 0h0m3 0h0m9 0h0m3 0h0m2 0h0m1 0h0m1 0h0m4 0h0m2 0h0m3 0h0m3 0h0m6 0h0m8 0h0m-53 1h0m5 0h0m6 0h0m4 0h0m5 0h0m2 0h0m6 0h0m2 0h0m3 0h0m1 0h0m1 0h0m-32 1h0m10 0h0m1 0h0m1 0h0m9 0h0m3 0h0m2 0h0m2 0h0m1 0h0m1 0h0m1 0h0m1 0h0m3 0h0m10 0h0m-35 1h0m4 0h0m1 0h0m5 0h0m2 0h0m1 0h0m1 0h0m6 0h0m4 0h0m5 0h0m1 0h0m5 0h0m-47 1h0m3 0h0m11 0h0m2 0h0m3 0h0m1 0h0m3 0h0m2 0h0m1 0h0m1 0h0m1 0h0m6 0h0m2 0h0m8 0h0m1 0h0m-45 1h0m5 0h0m1 0h0m1 0h0m1 0h0m1 0h0m2 0h0m2 0h0m1 0h0m1 0h0m1 0h0m1 0h0m3 0h0m1 0h0m3 0h0m2 0h0m1 0h0m1 0h0m2 0h0m3 0h0m1 0h0m1 0h0m1 0h0m1 0h0m10 0h0m1 0h0m-41 1h0m1 0h0m1 0h0m4 0h0m2 0h0m2 0h0m1 0h0m3 0h0m2 0h0m1 0h0m1 0h0m1 0h0m2 0h0m1 0h0m1 0h0m1 0h0m1 0h0m2 0h0m1 0h0m1 0h0m11 0h0m7 0h0m-52 1h0m2 0h0m2 0h0m1 0h0m1 0h0m1 0h0m2 0h0m1 0h0m4 0h0m1 0h0m1 0h0m1 0h0m1 0h0m1 0h0m1 0h0m1 0h0m1 0h0m1 0h0m2 0h0m2 0h0m1 0h0m1 0h0m2 0h0m2 0h0m1 0h0m1 0h0m1 0h0m1 0h0m15 0h0m-53 1h0m3 0h0m2 0h0m4 0h0m2 0h0m1 0h0m1 0h0m2 0h0m1 0h0m1 0h0m1 0h0m2 0h0m1 0h0m1 0h0m1 0h0m1 0h0m1 0h0m1 0h0m2 0h0m1 0h0m3 0h0m1 0h0m1 0h0m8 0h0m1 0h0m5 0h0m5 0h0m-58 1h0m1 0h0m5 0h0m1 0h0m7 0h0m1 0h0m1 0h0m1 0h0m3 0h0m1 0h0m1 0h0m1 0h0m2 0h0m1 0h0m1 0h0m1 0h0m3 0h0m1 0h0m2 0h0m3 0h0m2 0h0m3 0h0m1 0h0m1 0h0m6 0h0m-64 1h0m17 0h0m1 0h0m1 0h0m1 0h0m2 0h0m3 0h0m2 0h0m1 0h0m1 0h0m2 0h0m2 0h0m2 0h0m1 0h0m2 0h0m1 0h0m3 0h0m1 0h0m1 0h0m1 0h0m1 0h0m2 0h0m1 0h0m5 0h0m1 0h0m2 0h0m2 0h0m1 0h0m1 0h0m-46 1h0m5 0h0m2 0h0m2 0h0m2 0h0m1 0h0m1 0h0m1 0h0m1 0h0m1 0h0m2 0h0m1 0h0m2 0h0m1 0h0m1 0h0m1 0h0m1 0h0m1 0h0m1 0h0m1 0h0m2 0h0m1 0h0m1 0h0m1 0h0m1 0h0m2 0h0m2 0h0m-34 1h0m5 0h0m2 0h0m2 0h0m2 0h0m3 0h0m1 0h0m1 0h0m1 0h0m1 0h0m1 0h0m1 0h0m1 0h0m1 0h0m1 0h0m1 0h0m1 0h0m1 0h0m1 0h0m1 0h0m1 0h0m4 0h0m1 0h0m3 0h0m3 0h0m3 0h0m-48 1h0m1 0h0m3 0h0m1 0h0m1 0h0m1 0h0m2 0h0m3 0h0m2 0h0m1 0h0m1 0h0m1 0h0m1 0h0m3 0h0m1 0h0m1 0h0m1 0h0m1 0h0m1 0h0m1 0h0m1 0h0m4 0h0m1 0h0m1 0h0m1 0h0m2 0h0m1 0h0m3 0h0m4 0h0m1 0h0m-53 1h0m2 0h0m8 0h0m2 0h0m1 0h0m1 0h0m1 0h0m1 0h0m3 0h0m1 0h0m1 0h0m1 0h0m1 0h0m1 0h0m1 0h0m1 0h0m2 0h0m1 0h0m1 0h0m1 0h0m1 0h0m1 0h0m1 0h0m2 0h0m1 0h0m1 0h0m1 0h0m1 0h0m1 0h0m2 0h0m3 0h0m3 0h0m3 0h0m1 0h0m-45 1h0m3 0h0m3 0h0m1 0h0m1 0h0m1 0h0m1 0h0m2 0h0m2 0h0m1 0h0m1 0h0m1 0h0m2 0h0m1 0h0m1 0h0m1 0h0m1 0h0m1 0h0m1 0h0m1 0h0m1 0h0m1 0h0m1 0h0m2 0h0m1 0h0m4 0h0m-49 1h0m7 0h0m13 0h0m2 0h0m2 0h0m1 0h0m1 0h0m2 0h0m1 0h0m1 0h0m1 0h0m1 0h0m1 0h0m1 0h0m1 0h0m1 0h0m1 0h0m1 0h0m1 0h0m1 0h0m1 0h0m1 0h0m1 0h0m1 0h0m1 0h0m3 0h0m1 0h0m7 0h0m1 0h0m-55 1h0m4 0h0m2 0h0m10 0h0m1 0h0m2 0h0m4 0h0m1 0h0m1 0h0m1 0h0m1 0h0m1 0h0m1 0h0m1 0h0m1 0h0m1 0h0m1 0h0m1 0h0m2 0h0m5 0h0m2 0h0m2 0h0m2 0h0m10 0h0m-59 1h0m14 0h0m2 0h0m1 0h0m1 0h0m2 0h0m2 0h0m1 0h0m1 0h0m2 0h0m1 0h0m2 0h0m2 0h0m2 0h0m1 0h0m1 0h0m1 0h0m1 0h0m1 0h0m1 0h0m2 0h0m2 0h0m2 0h0m2 0h0m1 0h0m3 0h0m2 0h0m-57 1h0m12 0h0m6 0h0m4 0h0m1 0h0m1 0h0m4 0h0m2 0h0m1 0h0m3 0h0m1 0h0m1 0h0m1 0h0m3 0h0m2 0h0m1 0h0m1 0h0m3 0h0m5 0h0m3 0h0m-48 1h0m6 0h0m1 0h0m1 0h0m1 0h0m1 0h0m1 0h0m2 0h0m2 0h0m3 0h0m1 0h0m2 0h0m3 0h0m2 0h0m3 0h0m1 0h0m2 0h0m1 0h0m2 0h0m1 0h0m7 0h0m13 0h0m-51 1h0m5 0h0m1 0h0m3 0h0m7 0h0m1 0h0m1 0h0m1 0h0m1 0h0m1 0h0m1 0h0m1 0h0m2 0h0m1 0h0m1 0h0m1 0h0m1 0h0m1 0h0m6 0h0m1 0h0m1 0h0m1 0h0m-32 1h0m1 0h0m6 0h0m1 0h0m1 0h0m4 0h0m3 0h0m1 0h0m1 0h0m1 0h0m1 0h0m1 0h0m1 0h0m1 0h0m1 0h0m1 0h0m2 0h0m5 0h0m4 0h0m-51 1h0m6 0h0m8 0h0m11 0h0m1 0h0m1 0h0m2 0h0m1 0h0m1 0h0m3 0h0m2 0h0m1 0h0m1 0h0m5 0h0m1 0h0m18 0h0m-66 1h0m10 0h0m8 0h0m5 0h0m1 0h0m2 0h0m5 0h0m2 0h0m1 0h0m4 0h0m3 0h0m1 0h0m3 0h0m2 0h0m-34 1h0m10 0h0m4 0h0m1 0h0m9 0h0m3 0h0m4 0h0m1 0h0m8 0h0m4 0h0m2 0h0m-50 1h0m8 0h0m3 0h0m1 0h0m5 0h0m1 0h0m5 0h0m1 0h0m1 0h0m-33 1h0m4 0h0m1 0h0m18 0h0m8 0h0m1 0h0m2 0h0m3 0h0m6 0h0m10 0h0m-38 1h0m5 0h0m1 0h0m2 0h0m3 0h0m11 0h0m4 0h0m-20 1h0m3 0h0m10 0h0m10 0h0m-45 1h0m16 0h0m2 0h0m21 0h0m-15 1h0m2 0h0m1 0h0m2 0h0m2 0h0m19 0h0m-30 1h0m3 0h0m5 0h0m5 0h0m-31 1h0m8 0h0m2 0h0m4 0h0m4 0h0m8 0h0m4 0h0m-20 1h0m24 0h0m-8 1h0m9 0h0m-10 1h0m2 7h0" stroke="#0000ff" stroke-width="2.3" stroke-linecap="round" fill="none"/>
<path d="M271 213h0m2 2h0m-14 1h0m19 1h0m-22 2h0m11 0h0m1 0h0m5 0h0m1 0h0m15 0h0m4 0h0m-43 2h0m23 0h0m7 0h0m4 0h0m-35 1h0m10 0h0m18 0h0m-6 1h0m1 0h0m3 0h0m-21 1h0m24 0h0m-16 1h0m8 0h0m8 0h0m3 0h0m16 0h0m-25 1h0m3 0h0m1 0h0m5 0h0m4 0h0m-37 1h0m3 0h0m14 0h0m3 0h0m8 0h0m6 0h0m2 0h0m2 0h0m2 0h0m-36 1h0m1 0h0m3 0h0m3 0h0m3 0h0m8 0h0m5 0h0m-26 1h0m16 0h0m4 0h0m1 0h0m2 0h0m7 0h0m2 0h0m1 0h0m-14 1h0m7 0h0m4 0h0m2 0h0m-29 1h0m4 0h0m2 0h0m9 0h0m2 0h0m1 0h0m3 0h0m1 0h0m5 0h0m-38 1h0m4 0h0m4 0h0m1 0h0m4 0h0m7 0h0m3 0h0m2 0h0m1 0h0m2 0h0m3 0h0m10 0h0m-34 1h0m1 0h0m1 0h0m4 0h0m1 0h0m1 0h0m3 0h0m3 0h0m1 0h0m2 0h0m3 0h0m1 0h0m10 0h0m-42 1h0m9 0h0m2 0h0m2 0h0m1 0h0m4 0h0m2 0h0m1 0h0m2 0h0m1 0h0m4 0h0m1 0h0m2 0h0m5 0h0m2 0h0m2 0h0m3 0h0m-33 1h0m2 0h0m9 0h0m1 0h0m2 0h0m1 0h0m8 0h0m1 0h0m1 0h0m-30 1h0m8 0h0m2 0h0m1 0h0m2 0h0m1 0h0m1 0h0m6 0h0m3 0h0m1 0h0m3 0h0m1 0h0m4 0h0m1 0h0m1 0h0m2 0h0m4 0h0m-40 1h0m6 0h0m1 0h0m2 0h0m4 0h0m1 0h0m1 0h0m1 0h0m1 0h0m4 0h0m1 0h0m2 0h0m4 0h0m4 0h0m1 0h0m5 0h0m-37 1h0m2 0h0m1 0h0m5 0h0m1 0h0m1 0h0m3 0h0m2 0h0m4 0h0m1 0h0m4 0h0m4 0h0m4 0h0m4 0h0m-39 1h0m1 0h0m7 0h0m4 0h0m1 0h0m1 0h0m1 0h0m1 0h0m2 0h0m2 0h0m1 0h0m1 0h0m3 0h0m1 0h0m1 0h0m2 0h0m1 0h0m5 0h0m2 0h0m5 0h0m-45 1h0m2 0h0m6 0h0m1 0h0m2 0h0m1 0h0m1 0h0m2 0h0m1 0h0m1 0h0m2 0h0m2 0h0m1 0h0m1 0h0m1 0h0m1 0h0m1 0h0m2 0h0m1 0h0m1 0h0m1 0h0m3 0h0m3 0h0m2 0h0m-44 1h0m9 0h0m9 0h0m2 0h0m1 0h0m2 0h0m1 0h0m1 0h0m1 0h0m1 0h0m1 0h0m1 0h0m1 0h0m2 0h0m2 0h0m2 0h0m2 0h0m2 0h0m3 0h0m1 0h0m6 0h0m7 0h0m-58 1h0m16 0h0m2 0h0m3 0h0m1 0h0m1 0h0m1 0h0m1 0h0m1 0h0m1 0h0m1 0h0m1 0h0m1 0h0m3 0h0m6 0h0m1 0h0m1 0h0m1 0h0m1 0h0m4 0h0m2 0h0m10 0h0m-42 1h0m2 0h0m1 0h0m3 0h0m1 0h0m1 0h0m1 0h0m1 0h0m1 0h0m1 0h0m7 0h0m2 0h0m3 0h0m1 0h0m2 0h0m3 0h0m3 0h0m3 0h0m-38 1h0m1 0h0m1 0h0m1 0h0m1 0h0m3 0h0m1 0h0m1 0h0m1 0h0m1 0h0m1 0h0m1 0h0m1 0h0m3 0h0m1 0h0m2 0h0m2 0h0m2 0h0m1 0h0m1 0h0m1 0h0m1 0h0m2 0h0m1 0h0m6 0h0m-43 1h0m2 0h0m1 0h0m3 0h0m3 0h0m1 0h0m3 0h0m3 0h0m1 0h0m1 0h0m2 0h0m1 0h0m1 0h0m2 0h0m2 0h0m1 0h0m1 0h0m3 0h0m1 0h0m1 0h0m5 0h0m2 0h0m3 0h0m-52 1h0m13 0h0m4 0h0m1 0h0m1 0h0m1 0h0m1 0h0m1 0h0m1 0h0m1 0h0m1 0h0m1 0h0m2 0h0m2 0h0m1 0h0m1 0h0m3 0h0m1 0h0m1 0h0m1 0h0m2 0h0m1 0h0m-32 1h0m1 0h0m2 0h0m1 0h0m1 0h0m1 0h0m3 0h0m2 0h0m3 0h0m1 0h0m3 0h0m1 0h0m5 0h0m1 0h0m4 0h0m1 0h0m1 0h0m1 0h0m1 0h0m1 0h0m1 0h0m5 0h0m8 0h0m-46 1h0m1 0h0m2 0h0m2 0h0m2 0h0m5 0h0m1 0h0m4 0h0m1 0h0m1 0h0m1 0h0m1 0h0m1 0h0m2 0h0m1 0h0m1 0h0m3 0h0m1 0h0m2 0h0m1 0h0m2 0h0m12 0h0m-48 1h0m1 0h0m3 0h0m3 0h0m1 0h0m2 0h0m2 0h0m1 0h0m2 0h0m1 0h0m2 0h0m1 0h0m4 0h0m2 0h0m2 0h0m1 0h0m1 0h0m1 0h0m1 0h0m2 0h0m1 0h0m1 0h0m1 0h0m-37 1h0m7 0h0m2 0h0m1 0h0m3 0h0m2 0h0m2 0h0m2 0h0m2 0h0m1 0h0m2 0h0m1 0h0m1 0h0m1 0h0m2 0h0m2 0h0m1 0h0m2 0h0m2 0h0m1 0h0m2 0h0m2 0h0m7 0h0m-47 1h0m4 0h0m2 0h0m2 0h0m2 0h0m1 0h0m1 0h0m1 0h0m2 0h0m1 0h0m3 0h0m1 0h0m1 0h0m2 0h0m4 0h0m1 0h0m1 0h0m2 0h0m1 0h0m2 0h0m-47 1h0m6 0h0m7 0h0m11 0h0m2 0h0m2 0h0m3 0h0m1 0h0m1 0h0m2 0h0m1 0h0m1 0h0m1 0h0m5 0h0m1 0h0m-35 1h0m11 0h0m1 0h0m1 0h0m1 0h0m1 0h0m3 0h0m2 0h0m1 0h0m1 0h0m1 0h0m2 0h0m1 0h0m4 0h0m1 0h0m1 0h0m1 0h0m2 0h0m2 0h0m2 0h0m2 0h0m6 0h0m-45 1h0m1 0h0m4 0h0m9 0h0m1 0h0m3 0h0m1 0h0m1 0h0m2 0h0m1 0h0m3 0h0m1 0h0m1 0h0m1 0h0m1 0h0m1 0h0m1 0h0m1 0h0m-30 1h0m1 0h0m5 0h0m1 0h0m4 0h0m1 0h0m1 0h0m2 0h0m2 0h0m2 0h0m1 0h0m3 0h0m1 0h0m2 0h0m2 0h0m2 0h0m3 0h0m1 0h0m5 0h0m-44 1h0m4 0h0m2 0h0m1 0h0m2 0h0m1 0h0m2 0h0m1 0h0m4 0h0m2 0h0m1 0h0m1 0h0m3 0h0m1 0h0m3 0h0m1 0h0m1 0h0m2 0h0m1 0h0m2 0h0m1 0h0m1 0h0m4 0h0m6 0h0m-45 1h0m6 0h0m1 0h0m1 0h0m2 0h0m1 0h0m1 0h0m1 0h0m2 0h0m1 0h0m1 0h0m1 0h0m1 0h0m1 0h0m2 0h0m2 0h0m1 0h0m1 0h0m1 0h0m2 0h0m3 0h0m3 0h0m2 0h0m1 0h0m-36 1h0m1 0h0m1 0h0m2 0h0m3 0h0m2 0h0m1 0h0m1 0h0m1 0h0m1 0h0m4 0h0m1 0h0m1 0h0m1 0h0m1 0h0m2 0h0m3 0h0m2 0h0m3 0h0m-47 1h0m14 0h0m8 0h0m3 0h0m4 0h0m1 0h0m1 0h0m1 0h0m1 0h0m3 0h0m2 0h0m2 0h0m1 0h0m3 0h0m1 0h0m9 0h0m-46 1h0m11 0h0m1 0h0m1 0h0m6 0h0m1 0h0m3 0h0m2 0h0m1 0h0m4 0h0m1 0h0m1 0h0m9 0h0m8 0h0m-42 1h0m1 0h0m3 0h0m6 0h0m3 0h0m1 0h0m1 0h0m5 0h0m2 0h0m2 0h0m2 0h0m1 0h0m1 0h0m1 0h0m3 0h0m-36 1h0m5 0h0m6 0h0m1 0h0m6 0h0m3 0h0m3 0h0m1 0h0m4 0h0m3 0h0m5 0h0m9 0h0m-41 1h0m2 0h0m11 0h0m1 0h0m2 0h0m6 0h0m1 0h0m2 0h0m7 0h0m-31 1h0m6 0h0m1 0h0m8 0h0m1 0h0m2 0h0m1 0h0m2 0h0m2 0h0m9 0h0m9 0h0m-40 1h0m9 0h0m1 0h0m1 0h0m1 0h0m9 0h0m5 0h0m-35 1h0m9 0h0m5 0h0m1 0h0m4 0h0m2 0h0m4 0h0m2 0h0m2 0h0m3 0h0m8 0h0m-32 1h0m1 0h0m6 0h0m4 0h0m1 0h0m11 0h0m-30 1h0m1 0h0m22 0h0m1 0h0m2 0h0m2 0h0m7 0h0m3 0h0m3 0h0m-18 1h0m4 0h0m2 0h0m8 0h0m-20 1h0m11 0h0m3 1h0m-19 1h0m3 0h0m6 0h0m10 0h0m2 0h0m1 0h0m10 0h0m-33 1h0m4 0h0m8 0h0m1 0h0m9 0h0m-22 1h0m5 0h0m7 0h0m5 0h0m-11 1h0m1 0h0m4 0h0m6 0h0m-19 1h0m15 0h0m-1 1h0m3 1h0m-19 2h0m9 0h0m10 0h0m-7 1h0m-5 1h0m-1 1h0m5 0h0m-9 1h0" stroke="#0000ff" stroke-width="2.3" stroke-linecap="round" fill="none"/>
<path d="M371 212h0m9 2h0m-21 1h0m5 0h0m-3 1h0m-9 1h0m13 0h0m2 0h0m2 1h0m1 1h0m-11 1h0m2 0h0m9 0h0m-17 1h0m3 0h0m2 0h0m2 0h0m1 0h0m3 0h0m1 0h0m-1 1h0m5 0h0m1 0h0m-7 1h0m10 0h0m-26 1h0m7 0h0m1 0h0m2 0h0m2 0h0m1 0h0m4 0h0m4 0h0m9 0h0m-26 1h0m12 0h0m5 0h0m-21 1h0m10 0h0m3 0h0m1 0h0m7 0h0m1 0h0m1 0h0m4 0h0m-17 1h0m2 0h0m1 0h0m7 0h0m15 0h0m-33 1h0m4 0h0m1 0h0m1 0h0m1 0h0m4 0h0m1 0h0m1 0h0m2 0h0m2 0h0m2 0h0m1 0h0m-13 1h0m1 0h0m3 0h0m4 0h0m11 0h0m-30 1h0m3 0h0m10 0h0m1 0h0m4 0h0m4 0h0m6 0h0m-30 1h0m8 0h0m1 0h0m1 0h0m3 0h0m1 0h0m1 0h0m3 0h0m4 0h0m-17 1h0m1 0h0m3 0h0m1 0h0m2 0h0m2 0h0m1 0h0m3 0h0m6 0h0m1 0h0m5 0h0m-29 1h0m6 0h0m3 0h0m1 0h0m3 0h0m2 0h0m11 0h0m-24 1h0m3 0h0m3 0h0m2 0h0m1 0h0m2 0h0m7 0h0m2 0h0m-22 1h0m5 0h0m3 0h0m4 0h0m2 0h0m4 0h0m1 0h0m1 0h0m1 0h0m1 0h0m-24 1h0m5 0h0m1 0h0m1 0h0m2 0h0m2 0h0m1 0h0m2 0h0m3 0h0m2 0h0m1 0h0m1 0h0m1 0h0m2 0h0m5 0h0m-39 1h0m14 0h0m2 0h0m3 0h0m1 0h0m1 0h0m2 0h0m3 0h0m2 0h0m5 0h0m6 0h0m-32 1h0m6 0h0m1 0h0m1 0h0m1 0h0m3 0h0m2 0h0m2 0h0m1 0h0m1 0h0m2 0h0m1 0h0m2 0h0m4 0h0m7 0h0m-30 1h0m3 0h0m1 0h0m1 0h0m2 0h0m2 0h0m1 0h0m1 0h0m1 0h0m1 0h0m9 0h0m3 0h0m-30 1h0m1 0h0m3 0h0m1 0h0m1 0h0m3 0h0m1 0h0m2 0h0m1 0h0m1 0h0m1 0h0m1 0h0m3 0h0m1 0h0m2 0h0m-17 1h0m6 0h0m1 0h0m1 0h0m1 0h0m1 0h0m1 0h0m2 0h0m1 0h0m1 0h0m1 0h0m3 0h0m9 0h0m-44 1h0m14 0h0m1 0h0m2 0h0m2 0h0m1 0h0m1 0h0m2 0h0m1 0h0m1 0h0m2 0h0m1 0h0m1 0h0m1 0h0m1 0h0m2 0h0m4 0h0m10 0h0m-32 1h0m1 0h0m1 0h0m1 0h0m1 0h0m2 0h0m1 0h0m1 0h0m1 0h0m1 0h0m1 0h0m1 0h0m2 0h0m1 0h0m1 0h0m3 0h0m1 0h0m1 0h0m2 0h0m-25 1h0m1 0h0m5 0h0m1 0h0m1 0h0m1 0h0m1 0h0m1 0h0m1 0h0m1 0h0m1 0h0m1 0h0m2 0h0m1 0h0m8 0h0m-29 1h0m2 0h0m2 0h0m3 0h0m1 0h0m1 0h0m1 0h0m1 0h0m1 0h0m1 0h0m2 0h0m1 0h0m1 0h0m3 0h0m1 0h0m2 0h0m1 0h0m1 0h0m1 0h0m8 0h0m-47 1h0m7 0h0m10 0h0m2 0h0m2 0h0m1 0h0m1 0h0m2 0h0m1 0h0m1 0h0m1 0h0m1 0h0m1 0h0m1 0h0m3 0h0m1 0h0m3 0h0m1 0h0m-35 1h0m7 0h0m7 0h0m1 0h0m1 0h0m1 0h0m2 0h0m1 0h0m1 0h0m1 0h0m1 0h0m1 0h0m1 0h0m1 0h0m2 0h0m1 0h0m2 0h0m1 0h0m1 0h0m1 0h0m1 0h0m2 0h0m-23 1h0m1 0h0m1 0h0m2 0h0m1 0h0m3 0h0m3 0h0m2 0h0m1 0h0m4 0h0m1 0h0m1 0h0m3 0h0m1 0h0m-27 1h0m2 0h0m2 0h0m1 0h0m2 0h0m2 0h0m2 0h0m1 0h0m1 0h0m1 0h0m2 0h0m1 0h0m4 0h0m-26 1h0m4 0h0m3 0h0m1 0h0m2 0h0m1 0h0m1 0h0m1 0h0m1 0h0m1 0h0m1 0h0m1 0h0m3 0h0m1 0h0m1 0h0m1 0h0m1 0h0m1 0h0m2 0h0m4 0h0m15 0h0m-49 1h0m6 0h0m2 0h0m1 0h0m1 0h0m1 0h0m2 0h0m2 0h0m1 0h0m1 0h0m1 0h0m1 0h0m1 0h0m1 0h0m2 0h0m2 0h0m2 0h0m2 0h0m1 0h0m1 0h0m-31 1h0m5 0h0m1 0h0m1 0h0m2 0h0m1 0h0m1 0h0m2 0h0m1 0h0m2 0h0m1 0h0m4 0h0m3 0h0m1 0h0m5 0h0m-30 1h0m3 0h0m3 0h0m1 0h0m1 0h0m1 0h0m2 0h0m1 0h0m1 0h0m1 0h0m1 0h0m1 0h0m1 0h0m1 0h0m1 0h0m3 0h0m1 0h0m5 0h0m2 0h0m-31 1h0m3 0h0m5 0h0m1 0h0m2 0h0m1 0h0m1 0h0m1 0h0m1 0h0m1 0h0m1 0h0m1 0h0m1 0h0m2 0h0m1 0h0m3 0h0m1 0h0m2 0h0m4 0h0m1 0h0m-29 1h0m1 0h0m1 0h0m5 0h0m1 0h0m1 0h0m1 0h0m1 0h0m1 0h0m1 0h0m1 0h0m1 0h0m1 0h0m1 0h0m1 0h0m2 0h0m4 0h0m1 0h0m2 0h0m-26 1h0m2 0h0m1 0h0m3 0h0m1 0h0m2 0h0m1 0h0m3 0h0m1 0h0m1 0h0m1 0h0m5 0h0m-22 1h0m2 0h0m1 0h0m1 0h0m2 0h0m4 0h0m2 0h0m1 0h0m1 0h0m1 0h0m1 0h0m1 0h0m4 0h0m1 0h0m2 0h0m1 0h0m-36 1h0m8 0h0m3 0h0m1 0h0m3 0h0m1 0h0m1 0h0m1 0h0m1 0h0m1 0h0m1 0h0m2 0h0m1 0h0m1 0h0m1 0h0m1 0h0m2 0h0m1 0h0m1 0h0m7 0h0m-26 1h0m2 0h0m4 0h0m1 0h0m1 0h0m1 0h0m2 0h0m1 0h0m1 0h0m5 0h0m3 0h0m-28 1h0m9 0h0m1 0h0m1 0h0m1 0h0m3 0h0m2 0h0m1 0h0m2 0h0m1 0h0m1 0h0m2 0h0m4 0h0m-28 1h0m7 0h0m1 0h0m1 0h0m1 0h0m1 0h0m1 0h0m1 0h0m2 0h0m4 0h0m2 0h0m1 0h0m5 0h0m2 0h0m-28 1h0m1 0h0m1 0h0m1 0h0m4 0h0m5 0h0m1 0h0m2 0h0m1 0h0m2 0h0m1 0h0m2 0h0m1 0h0m-34 1h0m10 0h0m5 0h0m5 0h0m1 0h0m2 0h0m1 0h0m1 0h0m1 0h0m1 0h0m2 0h0m1 0h0m1 0h0m-18 1h0m3 0h0m3 0h0m1 0h0m1 0h0m1 0h0m1 0h0m1 0h0m2 0h0m2 0h0m2 0h0m1 0h0m1 0h0m1 0h0m-17 1h0m1 0h0m2 0h0m1 0h0m1 0h0m1 0h0m2 0h0m1 0h0m1 0h0m1 0h0m1 0h0m1 0h0m3 0h0m1 0h0m7 0h0m-22 1h0m1 0h0m2 0h0m1 0h0m1 0h0m2 0h0m2 0h0m2 0h0m3 0h0m5 0h0m-29 1h0m5 0h0m6 0h0m4 0h0m2 0h0m1 0h0m2 0h0m3 0h0m1 0h0m1 0h0m2 0h0m-21 1h0m4 0h0m2 0h0m2 0h0m1 0h0m1 0h0m1 0h0m1 0h0m2 0h0m-13 1h0m3 0h0m3 0h0m1 0h0m2 0h0m8 0h0m4 0h0m-29 1h0m10 0h0m1 0h0m7 0h0m1 0h0m6 0h0m-15 1h0m5 0h0m2 0h0m1 0h0m1 0h0m2 0h0m-14 1h0m4 0h0m2 0h0m5 0h0m4 0h0m-11 1h0m2 0h0m1 0h0m4 0h0m2 0h0m1 0h0m-17 1h0m1 0h0m3 0h0m4 0h0m8 0h0m-15 1h0m9 0h0m1 0h0m3 0h0m-16 1h0m11 0h0m1 0h0m2 0h0m1 0h0m3 0h0m4 0h0m1 0h0m-25 1h0m15 0h0m-21 1h0m15 0h0m3 0h0m7 0h0m-9 1h0m1 0h0m8 0h0m9 0h0m-29 1h0m3 0h0m10 0h0m1 0h0m1 0h0m4 0h0m-8 1h0m2 0h0m-6 1h0m2 1h0m20 0h0m-17 1h0" stroke="#0000ff" stroke-width="2.3" stroke-linecap="round" fill="none"/>
<path d="M449 221h0m-15 1h0m38 0h0m-33 1h0m10 0h0m-1 3h0m3 0h0m2 0h0m-8 1h0m12 0h0m-16 1h0m2 0h0m8 0h0m3 0h0m1 0h0m6 0h0m-18 1h0m1 0h0m13 0h0m-24 1h0m4 0h0m6 0h0m-20 1h0m2 0h0m7 0h0m5 0h0m3 0h0m2 0h0m4 0h0m2 0h0m2 0h0m7 0h0m9 0h0m-41 1h0m3 0h0m3 0h0m3 0h0m3 0h0m6 0h0m1 0h0m6 0h0m6 0h0m-40 1h0m7 0h0m14 0h0m3 0h0m1 0h0m6 0h0m1 0h0m4 0h0m1 0h0m5 0h0m15 0h0m-64 1h0m14 0h0m2 0h0m3 0h0m5 0h0m3 0h0m2 0h0m2 0h0m2 0h0m2 0h0m3 0h0m8 0h0m-33 1h0m2 0h0m3 0h0m2 0h0m1 0h0m7 0h0m4 0h0m4 0h0m2 0h0m4 0h0m5 0h0m8 0h0m-39 1h0m2 0h0m4 0h0m3 0h0m1 0h0m2 0h0m6 0h0m3 0h0m2 0h0m2 0h0m2 0h0m9 0h0m-37 1h0m1 0h0m5 0h0m3 0h0m1 0h0m3 0h0m3 0h0m1 0h0m3 0h0m1 0h0m2 0h0m1 0h0m1 0h0m2 0h0m13 0h0m-51 1h0m5 0h0m5 0h0m1 0h0m3 0h0m3 0h0m4 0h0m6 0h0m3 0h0m1 0h0m2 0h0m2 0h0m1 0h0m4 0h0m6 0h0m4 0h0m-43 1h0m7 0h0m1 0h0m2 0h0m1 0h0m4 0h0m2 0h0m1 0h0m1 0h0m1 0h0m1 0h0m1 0h0m1 0h0m2 0h0m4 0h0m2 0h0m1 0h0m4 0h0m1 0h0m1 0h0m-37 1h0m1 0h0m1 0h0m3 0h0m2 0h0m2 0h0m1 0h0m3 0h0m3 0h0m2 0h0m1 0h0m1 0h0m1 0h0m1 0h0m2 0h0m2 0h0m1 0h0m1 0h0m2 0h0m3 0h0m4 0h0m3 0h0m4 0h0m-51 1h0m3 0h0m5 0h0m1 0h0m4 0h0m2 0h0m2 0h0m2 0h0m2 0h0m1 0h0m1 0h0m1 0h0m1 0h0m1 0h0m1 0h0m1 0h0m2 0h0m1 0h0m1 0h0m1 0h0m24 0h0m2 0h0m-61 1h0m4 0h0m2 0h0m5 0h0m5 0h0m1 0h0m2 0h0m1 0h0m3 0h0m1 0h0m2 0h0m1 0h0m1 0h0m2 0h0m2 0h0m2 0h0m2 0h0m1 0h0m2 0h0m1 0h0m2 0h0m3 0h0m1 0h0m1 0h0m1 0h0m-49 1h0m8 0h0m1 0h0m1 0h0m3 0h0m1 0h0m1 0h0m1 0h0m1 0h0m2 0h0m1 0h0m3 0h0m2 0h0m1 0h0m1 0h0m1 0h0m1 0h0m2 0h0m1 0h0m1 0h0m1 0h0m1 0h0m1 0h0m1 0h0m3 0h0m1 0h0m3 0h0m1 0h0m6 0h0m-48 1h0m4 0h0m1 0h0m2 0h0m2 0h0m2 0h0m3 0h0m2 0h0m1 0h0m3 0h0m1 0h0m1 0h0m2 0h0m1 0h0m1 0h0m1 0h0m2 0h0m2 0h0m1 0h0m3 0h0m2 0h0m3 0h0m1 0h0m4 0h0m3 0h0m4 0h0m6 0h0m-50 1h0m2 0h0m4 0h0m1 0h0m1 0h0m2 0h0m1 0h0m1 0h0m1 0h0m2 0h0m1 0h0m3 0h0m1 0h0m2 0h0m1 0h0m1 0h0m5 0h0m1 0h0m2 0h0m3 0h0m1 0h0m1 0h0m3 0h0m-46 1h0m4 0h0m6 0h0m2 0h0m1 0h0m1 0h0m1 0h0m1 0h0m2 0h0m1 0h0m1 0h0m1 0h0m2 0h0m1 0h0m1 0h0m1 0h0m1 0h0m1 0h0m3 0h0m2 0h0m1 0h0m3 0h0m2 0h0m1 0h0m1 0h0m4 0h0m1 0h0m-58 1h0m9 0h0m2 0h0m4 0h0m1 0h0m1 0h0m1 0h0m1 0h0m1 0h0m1 0h0m1 0h0m1 0h0m1 0h0m2 0h0m2 0h0m2 0h0m1 0h0m1 0h0m2 0h0m1 0h0m1 0h0m1 0h0m1 0h0m1 0h0m1 0h0m1 0h0m2 0h0m1 0h0m3 0h0m1 0h0m1 0h0m1 0h0m3 0h0m1 0h0m2 0h0m-48 1h0m3 0h0m2 0h0m2 0h0m1 0h0m4 0h0m1 0h0m3 0h0m1 0h0m1 0h0m1 0h0m2 0h0m1 0h0m1 0h0m1 0h0m1 0h0m1 0h0m1 0h0m1 0h0m1 0h0m1 0h0m1 0h0m1 0h0m1 0h0m2 0h0m5 0h0m2 0h0m3 0h0m3 0h0m1 0h0m-49 1h0m2 0h0m3 0h0m1 0h0m4 0h0m2 0h0m1 0h0m1 0h0m1 0h0m1 0h0m2 0h0m1 0h0m1 0h0m1 0h0m1 0h0m1 0h0m1 0h0m1 0h0m2 0h0m3 0h0m1 0h0m1 0h0m2 0h0m1 0h0m2 0h0m1 0h0m1 0h0m3 0h0m1 0h0m1 0h0m1 0h0m5 0h0m4 0h0m-50 1h0m1 0h0m1 0h0m5 0h0m1 0h0m1 0h0m1 0h0m2 0h0m1 0h0m1 0h0m2 0h0m1 0h0m1 0h0m1 0h0m2 0h0m2 0h0m1 0h0m2 0h0m1 0h0m3 0h0m1 0h0m2 0h0m1 0h0m1 0h0m2 0h0m-42 1h0m3 0h0m4 0h0m1 0h0m1 0h0m2 0h0m1 0h0m2 0h0m2 0h0m1 0h0m1 0h0m2 0h0m1 0h0m4 0h0m1 0h0m2 0h0m1 0h0m1 0h0m1 0h0m1 0h0m2 0h0m1 0h0m1 0h0m1 0h0m3 0h0m1 0h0m4 0h0m4 0h0m3 0h0m11 0h0m-73 1h0m9 0h0m1 0h0m1 0h0m1 0h0m2 0h0m5 0h0m1 0h0m1 0h0m1 0h0m1 0h0m1 0h0m1 0h0m1 0h0m1 0h0m1 0h0m1 0h0m1 0h0m2 0h0m1 0h0m2 0h0m1 0h0m2 0h0m1 0h0m1 0h0m1 0h0m2 0h0m1 0h0m3 0h0m3 0h0m3 0h0m-43 1h0m1 0h0m2 0h0m1 0h0m4 0h0m2 0h0m2 0h0m1 0h0m1 0h0m1 0h0m1 0h0m1 0h0m1 0h0m1 0h0m3 0h0m1 0h0m1 0h0m1 0h0m1 0h0m1 0h0m1 0h0m1 0h0m1 0h0m1 0h0m1 0h0m1 0h0m26 0h0m-52 1h0m2 0h0m1 0h0m1 0h0m2 0h0m3 0h0m1 0h0m2 0h0m1 0h0m1 0h0m1 0h0m4 0h0m1 0h0m1 0h0m1 0h0m1 0h0m1 0h0m3 0h0m1 0h0m3 0h0m1 0h0m2 0h0m1 0h0m3 0h0m2 0h0m1 0h0m1 0h0m-46 1h0m5 0h0m1 0h0m5 0h0m1 0h0m2 0h0m3 0h0m3 0h0m4 0h0m1 0h0m2 0h0m1 0h0m1 0h0m4 0h0m1 0h0m3 0h0m-35 1h0m11 0h0m2 0h0m2 0h0m1 0h0m1 0h0m1 0h0m1 0h0m1 0h0m2 0h0m1 0h0m1 0h0m2 0h0m2 0h0m17 0h0m-55 1h0m3 0h0m8 0h0m1 0h0m1 0h0m1 0h0m1 0h0m5 0h0m3 0h0m2 0h0m2 0h0m1 0h0m4 0h0m4 0h0m15 0h0m6 0h0m-55 1h0m2 0h0m4 0h0m8 0h0m5 0h0m1 0h0m2 0h0m2 0h0m2 0h0m5 0h0m7 0h0m5 0h0m1 0h0m1 0h0m4 0h0m8 0h0m-52 1h0m7 0h0m2 0h0m1 0h0m1 0h0m1 0h0m1 0h0m1 0h0m1 0h0m8 0h0m2 0h0m1 0h0m8 0h0m1 0h0m5 0h0m-36 1h0m3 0h0m1 0h0m1 0h0m5 0h0m2 0h0m2 0h0m2 0h0m4 0h0m3 0h0m3 0h0m4 0h0m-32 1h0m1 0h0m8 0h0m2 0h0m3 0h0m1 0h0m1 0h0m2 0h0m3 0h0m3 0h0m6 0h0m1 0h0m3 0h0m2 0h0m-38 1h0m4 0h0m2 0h0m11 0h0m7 0h0m8 0h0m1 0h0m2 0h0m-48 1h0m14 0h0m7 0h0m20 0h0m-27 1h0m18 0h0m6 0h0m4 0h0m8 0h0m-29 1h0m9 0h0m4 0h0m-6 1h0m17 0h0m-24 1h0m5 0h0m21 0h0m6 0h0m-15 1h0m0 2h0m-8 3h0m-4 2h0" stroke="#0000ff" stroke-width="2.3" stroke-linecap="round" fill="none"/>
<path d="M552 231h0m-6 2h0m7 1h0m-26 2h0m12 1h0m6 0h0m12 0h0m-34 1h0m26 0h0m-19 1h0m2 0h0m3 0h0m14 0h0m1 0h0m2 0h0m3 0h0m-27 1h0m8 0h0m3 0h0m1 0h0m5 0h0m4 0h0m-19 1h0m1 0h0m7 0h0m5 0h0m3 0h0m12 0h0m-47 1h0m14 0h0m3 0h0m8 0h0m3 0h0m1 0h0m1 0h0m7 0h0m1 0h0m-30 1h0m10 0h0m4 0h0m1 0h0m6 0h0m2 0h0m-19 1h0m3 0h0m6 0h0m2 0h0m1 0h0m12 0h0m2 0h0m-15 1h0m4 0h0m7 0h0m3 0h0m-30 1h0m3 0h0m1 0h0m6 0h0m8 0h0m1 0h0m2 0h0m3 0h0m2 0h0m1 0h0m4 0h0m1 0h0m2 0h0m-28 1h0m3 0h0m2 0h0m1 0h0m3 0h0m3 0h0m1 0h0m2 0h0m1 0h0m1 0h0m1 0h0m3 0h0m5 0h0m-27 1h0m2 0h0m1 0h0m2 0h0m2 0h0m1 0h0m3 0h0m3 0h0m6 0h0m3 0h0m1 0h0m2 0h0m12 0h0m-44 1h0m1 0h0m4 0h0m4 0h0m2 0h0m3 0h0m1 0h0m1 0h0m1 0h0m1 0h0m4 0h0m1 0h0m1 0h0m3 0h0m6 0h0m-39 1h0m7 0h0m5 0h0m3 0h0m1 0h0m1 0h0m1 0h0m1 0h0m5 0h0m1 0h0m3 0h0m1 0h0m1 0h0m2 0h0m5 0h0m4 0h0m-36 1h0m4 0h0m1 0h0m2 0h0m4 0h0m1 0h0m1 0h0m1 0h0m3 0h0m1 0h0m2 0h0m1 0h0m2 0h0m15 0h0m-37 1h0m2 0h0m1 0h0m2 0h0m1 0h0m2 0h0m1 0h0m1 0h0m2 0h0m1 0h0m1 0h0m2 0h0m1 0h0m1 0h0m1 0h0m1 0h0m1 0h0m2 0h0m1 0h0m1 0h0m1 0h0m2 0h0m-31 1h0m2 0h0m6 0h0m1 0h0m1 0h0m1 0h0m1 0h0m1 0h0m2 0h0m1 0h0m2 0h0m1 0h0m1 0h0m1 0h0m2 0h0m1 0h0m3 0h0m2 0h0m4 0h0m3 0h0m1 0h0m1 0h0m1 0h0m-71 1h0m22 0h0m6 0h0m2 0h0m5 0h0m1 0h0m1 0h0m3 0h0m3 0h0m2 0h0m3 0h0m1 0h0m1 0h0m1 0h0m2 0h0m1 0h0m3 0h0m6 0h0m3 0h0m6 0h0m-42 1h0m1 0h0m3 0h0m1 0h0m2 0h0m2 0h0m1 0h0m1 0h0m2 0h0m1 0h0m1 0h0m1 0h0m1 0h0m1 0h0m2 0h0m1 0h0m3 0h0m2 0h0m1 0h0m1 0h0m3 0h0m2 0h0m7 0h0m-45 1h0m5 0h0m2 0h0m2 0h0m1 0h0m3 0h0m1 0h0m1 0h0m1 0h0m1 0h0m1 0h0m1 0h0m2 0h0m1 0h0m3 0h0m1 0h0m3 0h0m2 0h0m2 0h0m1 0h0m1 0h0m2 0h0m2 0h0m1 0h0m1 0h0m12 0h0m-58 1h0m2 0h0m7 0h0m6 0h0m1 0h0m1 0h0m1 0h0m4 0h0m1 0h0m1 0h0m1 0h0m2 0h0m1 0h0m1 0h0m1 0h0m1 0h0m2 0h0m1 0h0m2 0h0m-26 1h0m1 0h0m2 0h0m1 0h0m1 0h0m1 0h0m1 0h0m1 0h0m1 0h0m1 0h0m1 0h0m1 0h0m2 0h0m2 0h0m1 0h0m2 0h0m1 0h0m1 0h0m1 0h0m5 0h0m3 0h0m1 0h0m3 0h0m2 0h0m-48 1h0m6 0h0m8 0h0m2 0h0m1 0h0m1 0h0m2 0h0m1 0h0m1 0h0m1 0h0m2 0h0m1 0h0m1 0h0m1 0h0m3 0h0m1 0h0m1 0h0m1 0h0m1 0h0m3 0h0m1 0h0m3 0h0m-33 1h0m3 0h0m3 0h0m1 0h0m3 0h0m2 0h0m1 0h0m2 0h0m1 0h0m1 0h0m2 0h0m1 0h0m1 0h0m3 0h0m1 0h0m2 0h0m1 0h0m1 0h0m1 0h0m2 0h0m1 0h0m1 0h0m16 0h0m-62 1h0m4 0h0m3 0h0m4 0h0m3 0h0m3 0h0m2 0h0m1 0h0m1 0h0m1 0h0m1 0h0m1 0h0m1 0h0m2 0h0m1 0h0m1 0h0m1 0h0m3 0h0m3 0h0m1 0h0m1 0h0m3 0h0m2 0h0m3 0h0m13 0h0m-51 1h0m1 0h0m1 0h0m1 0h0m4 0h0m1 0h0m1 0h0m2 0h0m1 0h0m1 0h0m2 0h0m2 0h0m1 0h0m1 0h0m2 0h0m2 0h0m2 0h0m4 0h0m2 0h0m4 0h0m1 0h0m1 0h0m7 0h0m-39 1h0m1 0h0m1 0h0m2 0h0m1 0h0m1 0h0m1 0h0m1 0h0m1 0h0m1 0h0m1 0h0m1 0h0m1 0h0m1 0h0m1 0h0m2 0h0m1 0h0m1 0h0m1 0h0m1 0h0m2 0h0m1 0h0m2 0h0m3 0h0m-34 1h0m2 0h0m1 0h0m2 0h0m2 0h0m1 0h0m1 0h0m2 0h0m1 0h0m1 0h0m2 0h0m1 0h0m1 0h0m1 0h0m1 0h0m2 0h0m2 0h0m1 0h0m2 0h0m2 0h0m2 0h0m6 0h0m2 0h0m1 0h0m-44 1h0m3 0h0m1 0h0m1 0h0m2 0h0m2 0h0m2 0h0m1 0h0m1 0h0m1 0h0m1 0h0m1 0h0m3 0h0m2 0h0m1 0h0m1 0h0m1 0h0m1 0h0m1 0h0m1 0h0m1 0h0m1 0h0m1 0h0m1 0h0m3 0h0m1 0h0m1 0h0m1 0h0m1 0h0m1 0h0m2 0h0m-43 1h0m6 0h0m1 0h0m1 0h0m2 0h0m1 0h0m1 0h0m1 0h0m1 0h0m1 0h0m1 0h0m1 0h0m1 0h0m1 0h0m1 0h0m1 0h0m1 0h0m4 0h0m1 0h0m3 0h0m1 0h0m1 0h0m2 0h0m1 0h0m1 0h0m8 0h0m-45 1h0m6 0h0m2 0h0m1 0h0m3 0h0m1 0h0m1 0h0m3 0h0m1 0h0m2 0h0m1 0h0m1 0h0m1 0h0m1 0h0m1 0h0m1 0h0m1 0h0m1 0h0m2 0h0m1 0h0m3 0h0m3 0h0m1 0h0m1 0h0m4 0h0m3 0h0m-46 1h0m6 0h0m3 0h0m1 0h0m2 0h0m1 0h0m2 0h0m1 0h0m1 0h0m1 0h0m1 0h0m1 0h0m2 0h0m1 0h0m1 0h0m1 0h0m5 0h0m1 0h0m2 0h0m2 0h0m2 0h0m1 0h0m-32 1h0m1 0h0m3 0h0m4 0h0m3 0h0m1 0h0m2 0h0m4 0h0m1 0h0m1 0h0m7 0h0m4 0h0m2 0h0m-37 1h0m1 0h0m2 0h0m5 0h0m2 0h0m1 0h0m3 0h0m1 0h0m4 0h0m5 0h0m1 0h0m1 0h0m1 0h0m5 0h0m4 0h0m5 0h0m19 0h0m-63 1h0m3 0h0m4 0h0m2 0h0m4 0h0m1 0h0m3 0h0m1 0h0m1 0h0m1 0h0m1 0h0m1 0h0m1 0h0m2 0h0m2 0h0m1 0h0m1 0h0m4 0h0m6 0h0m-43 1h0m10 0h0m4 0h0m1 0h0m2 0h0m3 0h0m1 0h0m2 0h0m2 0h0m2 0h0m1 0h0m1 0h0m1 0h0m1 0h0m1 0h0m4 0h0m2 0h0m-32 1h0m3 0h0m5 0h0m2 0h0m2 0h0m4 0h0m2 0h0m3 0h0m2 0h0m4 0h0m2 0h0m1 0h0m12 0h0m-50 1h0m9 0h0m3 0h0m1 0h0m6 0h0m3 0h0m1 0h0m3 0h0m3 0h0m18 0h0m-40 1h0m5 0h0m3 0h0m3 0h0m7 0h0m6 0h0m6 0h0m10 0h0m-39 1h0m2 0h0m3 0h0m9 0h0m5 0h0m1 0h0m9 0h0m7 0h0m-32 1h0m1 0h0m3 0h0m16 0h0m-23 1h0m4 0h0m13 0h0m2 0h0m1 0h0m3 0h0m4 0h0m-22 1h0m4 0h0m7 0h0m4 0h0m11 0h0m-36 1h0m19 0h0m11 0h0m-23 1h0m2 0h0m10 0h0m3 1h0m2 0h0m-35 2h0m1 0h0m24 0h0m5 0h0m-8 1h0" stroke="#0000ff" stroke-width="2.3" stroke-linecap="round" fill="none"/>
<path d="M608 222h0m3 1h0m3 2h0m-20 1h0m30 6h0m-17 1h0m5 0h0m8 0h0m-15 1h0m10 0h0m8 0h0m-14 1h0m1 0h0m5 0h0m-28 1h0m4 0h0m10 0h0m11 0h0m4 0h0m-14 1h0m4 0h0m4 0h0m1 0h0m4 0h0m-11 1h0m10 0h0m2 0h0m1 0h0m2 0h0m1 0h0m1 0h0m3 0h0m8 0h0m-46 1h0m15 0h0m2 0h0m3 0h0m11 0h0m5 0h0m-26 1h0m1 0h0m8 0h0m3 0h0m2 0h0m3 0h0m5 0h0m6 0h0m20 0h0m-49 1h0m11 0h0m1 0h0m13 0h0m3 0h0m4 0h0m2 0h0m8 0h0m-41 1h0m4 0h0m5 0h0m3 0h0m1 0h0m2 0h0m1 0h0m1 0h0m1 0h0m1 0h0m1 0h0m1 0h0m3 0h0m3 0h0m6 0h0m4 0h0m14 0h0m-57 1h0m3 0h0m4 0h0m1 0h0m4 0h0m1 0h0m1 0h0m3 0h0m1 0h0m7 0h0m2 0h0m1 0h0m2 0h0m2 0h0m2 0h0m16 0h0m-56 1h0m3 0h0m3 0h0m5 0h0m1 0h0m1 0h0m1 0h0m3 0h0m1 0h0m1 0h0m1 0h0m1 0h0m4 0h0m1 0h0m1 0h0m2 0h0m4 0h0m1 0h0m3 0h0m4 0h0m1 0h0m3 0h0m-49 1h0m9 0h0m2 0h0m7 0h0m1 0h0m2 0h0m1 0h0m1 0h0m6 0h0m1 0h0m6 0h0m1 0h0m2 0h0m4 0h0m2 0h0m1 0h0m2 0h0m1 0h0m1 0h0m2 0h0m-41 1h0m1 0h0m5 0h0m3 0h0m1 0h0m1 0h0m2 0h0m5 0h0m2 0h0m1 0h0m1 0h0m1 0h0m1 0h0m1 0h0m1 0h0m1 0h0m1 0h0m1 0h0m1 0h0m1 0h0m2 0h0m1 0h0m11 0h0m-47 1h0m1 0h0m1 0h0m7 0h0m1 0h0m1 0h0m2 0h0m1 0h0m3 0h0m1 0h0m2 0h0m1 0h0m1 0h0m1 0h0m1 0h0m1 0h0m1 0h0m1 0h0m1 0h0m2 0h0m1 0h0m1 0h0m1 0h0m1 0h0m3 0h0m2 0h0m1 0h0m1 0h0m-37 1h0m1 0h0m2 0h0m2 0h0m2 0h0m1 0h0m2 0h0m2 0h0m1 0h0m1 0h0m2 0h0m2 0h0m1 0h0m1 0h0m1 0h0m1 0h0m1 0h0m1 0h0m1 0h0m2 0h0m1 0h0m2 0h0m1 0h0m4 0h0m7 0h0m-54 1h0m1 0h0m4 0h0m1 0h0m2 0h0m1 0h0m1 0h0m6 0h0m1 0h0m2 0h0m2 0h0m1 0h0m2 0h0m3 0h0m1 0h0m1 0h0m1 0h0m1 0h0m1 0h0m1 0h0m2 0h0m1 0h0m1 0h0m1 0h0m1 0h0m1 0h0m2 0h0m2 0h0m3 0h0m-44 1h0m5 0h0m2 0h0m2 0h0m4 0h0m1 0h0m1 0h0m1 0h0m1 0h0m1 0h0m1 0h0m1 0h0m1 0h0m1 0h0m1 0h0m1 0h0m1 0h0m1 0h0m1 0h0m1 0h0m1 0h0m1 0h0m3 0h0m1 0h0m2 0h0m1 0h0m1 0h0m1 0h0m5 0h0m1 0h0m1 0h0m2 0h0m2 0h0m1 0h0m-53 1h0m1 0h0m4 0h0m3 0h0m1 0h0m4 0h0m2 0h0m1 0h0m3 0h0m1 0h0m1 0h0m1 0h0m1 0h0m1 0h0m1 0h0m1 0h0m1 0h0m1 0h0m3 0h0m1 0h0m1 0h0m1 0h0m2 0h0m1 0h0m1 0h0m1 0h0m1 0h0m2 0h0m3 0h0m1 0h0m1 0h0m4 0h0m-48 1h0m2 0h0m6 0h0m4 0h0m1 0h0m1 0h0m3 0h0m3 0h0m2 0h0m1 0h0m1 0h0m1 0h0m1 0h0m1 0h0m1 0h0m1 0h0m1 0h0m1 0h0m1 0h0m1 0h0m1 0h0m2 0h0m1 0h0m4 0h0m1 0h0m4 0h0m1 0h0m2 0h0m1 0h0m6 0h0m-63 1h0m4 0h0m9 0h0m1 0h0m1 0h0m2 0h0m4 0h0m2 0h0m1 0h0m1 0h0m1 0h0m1 0h0m1 0h0m1 0h0m1 0h0m1 0h0m2 0h0m1 0h0m2 0h0m1 0h0m1 0h0m1 0h0m1 0h0m1 0h0m2 0h0m1 0h0m1 0h0m4 0h0m4 0h0m-62 1h0m9 0h0m10 0h0m4 0h0m2 0h0m4 0h0m1 0h0m1 0h0m1 0h0m2 0h0m1 0h0m1 0h0m1 0h0m1 0h0m1 0h0m1 0h0m4 0h0m1 0h0m1 0h0m1 0h0m2 0h0m2 0h0m4 0h0m2 0h0m2 0h0m16 0h0m-55 1h0m3 0h0m3 0h0m3 0h0m1 0h0m2 0h0m2 0h0m1 0h0m1 0h0m1 0h0m1 0h0m1 0h0m1 0h0m1 0h0m1 0h0m1 0h0m1 0h0m1 0h0m1 0h0m1 0h0m1 0h0m1 0h0m1 0h0m2 0h0m3 0h0m1 0h0m-38 1h0m4 0h0m2 0h0m1 0h0m3 0h0m1 0h0m3 0h0m2 0h0m2 0h0m1 0h0m1 0h0m1 0h0m2 0h0m1 0h0m1 0h0m1 0h0m2 0h0m2 0h0m1 0h0m1 0h0m1 0h0m1 0h0m2 0h0m6 0h0m4 0h0m5 0h0m-52 1h0m3 0h0m2 0h0m2 0h0m1 0h0m2 0h0m1 0h0m2 0h0m2 0h0m1 0h0m1 0h0m2 0h0m1 0h0m1 0h0m2 0h0m1 0h0m1 0h0m4 0h0m1 0h0m1 0h0m6 0h0m1 0h0m2 0h0m2 0h0m-51 1h0m9 0h0m2 0h0m2 0h0m2 0h0m1 0h0m5 0h0m1 0h0m1 0h0m1 0h0m1 0h0m3 0h0m1 0h0m1 0h0m3 0h0m1 0h0m1 0h0m2 0h0m2 0h0m3 0h0m1 0h0m2 0h0m1 0h0m1 0h0m8 0h0m1 0h0m-40 1h0m1 0h0m2 0h0m1 0h0m2 0h0m1 0h0m1 0h0m8 0h0m1 0h0m2 0h0m2 0h0m1 0h0m3 0h0m1 0h0m1 0h0m1 0h0m1 0h0m1 0h0m8 0h0m-44 1h0m1 0h0m6 0h0m1 0h0m1 0h0m2 0h0m2 0h0m3 0h0m1 0h0m1 0h0m1 0h0m1 0h0m2 0h0m7 0h0m1 0h0m4 0h0m2 0h0m-52 1h0m22 0h0m3 0h0m1 0h0m2 0h0m2 0h0m1 0h0m1 0h0m1 0h0m1 0h0m1 0h0m1 0h0m1 0h0m2 0h0m1 0h0m1 0h0m1 0h0m1 0h0m1 0h0m1 0h0m3 0h0m8 0h0m-36 1h0m8 0h0m2 0h0m1 0h0m7 0h0m1 0h0m1 0h0m1 0h0m1 0h0m1 0h0m5 0h0m1 0h0m2 0h0m5 0h0m3 0h0m1 0h0m3 0h0m-51 1h0m5 0h0m6 0h0m4 0h0m5 0h0m1 0h0m1 0h0m1 0h0m2 0h0m1 0h0m2 0h0m3 0h0m1 0h0m1 0h0m4 0h0m2 0h0m-35 1h0m5 0h0m4 0h0m1 0h0m4 0h0m1 0h0m2 0h0m1 0h0m3 0h0m1 0h0m2 0h0m1 0h0m18 0h0m-52 1h0m15 0h0m2 0h0m1 0h0m1 0h0m3 0h0m3 0h0m2 0h0m3 0h0m1 0h0m5 0h0m1 0h0m3 0h0m4 0h0m-36 1h0m17 0h0m1 0h0m3 0h0m2 0h0m5 0h0m3 0h0m-29 1h0m3 0h0m9 0h0m4 0h0m2 0h0m2 0h0m1 0h0m2 0h0m6 0h0m7 0h0m14 0h0m-39 1h0m2 0h0m4 0h0m1 0h0m10 0h0m4 0h0m-26 1h0m2 0h0m2 0h0m1 0h0m2 0h0m4 0h0m4 0h0m2 0h0m2 0h0m2 0h0m-20 1h0m6 0h0m13 0h0m-33 1h0m6 0h0m4 0h0m7 0h0m8 0h0m7 0h0m2 0h0m5 0h0m-12 1h0m6 0h0m-21 1h0m10 0h0m1 0h0m-19 1h0m8 0h0m-4 1h0m43 0h0m-44 5h0" stroke="#0000ff" stroke-width="2.3" stroke-linecap="round" fill="none"/>
<path d="M684 211h0m50 0h0m-42 1h0m-22 3h0m9 0h0m3 0h0m8 0h0m24 0h0m1 0h0m-11 1h0m15 0h0m-39 1h0m28 0h0m1 0h0m-4 1h0m6 0h0m-21 1h0m7 0h0m5 0h0m-2 1h0m1 0h0m4 0h0m-19 1h0m3 0h0m4 0h0m16 0h0m-19 1h0m7 0h0m3 0h0m2 0h0m19 0h0m2 0h0m-49 1h0m11 0h0m5 0h0m2 0h0m1 0h0m3 0h0m3 0h0m1 0h0m7 0h0m10 0h0m-26 1h0m8 0h0m1 0h0m2 0h0m2 0h0m6 0h0m4 0h0m1 0h0m-20 1h0m4 0h0m10 0h0m4 0h0m-34 1h0m17 0h0m1 0h0m4 0h0m8 0h0m3 0h0m1 0h0m-30 1h0m2 0h0m2 0h0m3 0h0m5 0h0m2 0h0m2 0h0m4 0h0m1 0h0m1 0h0m2 0h0m2 0h0m2 0h0m4 0h0m2 0h0m-33 1h0m5 0h0m1 0h0m1 0h0m5 0h0m3 0h0m1 0h0m1 0h0m3 0h0m5 0h0m5 0h0m-33 1h0m5 0h0m1 0h0m3 0h0m1 0h0m7 0h0m3 0h0m2 0h0m1 0h0m1 0h0m5 0h0m21 0h0m-58 1h0m4 0h0m9 0h0m1 0h0m1 0h0m5 0h0m2 0h0m2 0h0m1 0h0m1 0h0m1 0h0m1 0h0m1 0h0m1 0h0m1 0h0m4 0h0m2 0h0m1 0h0m1 0h0m1 0h0m3 0h0m-38 1h0m5 0h0m1 0h0m2 0h0m1 0h0m2 0h0m2 0h0m1 0h0m2 0h0m1 0h0m2 0h0m1 0h0m3 0h0m1 0h0m1 0h0m1 0h0m1 0h0m1 0h0m1 0h0m2 0h0m1 0h0m8 0h0m13 0h0m1 0h0m-61 1h0m8 0h0m2 0h0m1 0h0m2 0h0m3 0h0m1 0h0m4 0h0m1 0h0m1 0h0m1 0h0m1 0h0m1 0h0m3 0h0m1 0h0m1 0h0m2 0h0m2 0h0m9 0h0m1 0h0m5 0h0m9 0h0m-48 1h0m3 0h0m1 0h0m4 0h0m3 0h0m1 0h0m1 0h0m1 0h0m2 0h0m1 0h0m1 0h0m3 0h0m1 0h0m1 0h0m3 0h0m1 0h0m5 0h0m4 0h0m-36 1h0m5 0h0m1 0h0m2 0h0m7 0h0m1 0h0m1 0h0m2 0h0m1 0h0m1 0h0m1 0h0m1 0h0m1 0h0m2 0h0m1 0h0m1 0h0m2 0h0m3 0h0m5 0h0m-44 1h0m3 0h0m2 0h0m2 0h0m1 0h0m4 0h0m1 0h0m1 0h0m2 0h0m1 0h0m4 0h0m1 0h0m1 0h0m1 0h0m1 0h0m1 0h0m5 0h0m1 0h0m5 0h0m2 0h0m1 0h0m4 0h0m3 0h0m3 0h0m1 0h0m-52 1h0m1 0h0m1 0h0m9 0h0m1 0h0m3 0h0m3 0h0m1 0h0m1 0h0m2 0h0m1 0h0m1 0h0m3 0h0m1 0h0m1 0h0m2 0h0m1 0h0m1 0h0m1 0h0m2 0h0m3 0h0m6 0h0m-56 1h0m1 0h0m9 0h0m5 0h0m1 0h0m2 0h0m1 0h0m1 0h0m2 0h0m1 0h0m1 0h0m2 0h0m1 0h0m1 0h0m2 0h0m1 0h0m1 0h0m1 0h0m1 0h0m1 0h0m1 0h0m1 0h0m1 0h0m1 0h0m1 0h0m1 0h0m1 0h0m1 0h0m1 0h0m1 0h0m3 0h0m2 0h0m1 0h0m1 0h0m-43 1h0m8 0h0m1 0h0m1 0h0m3 0h0m2 0h0m1 0h0m2 0h0m2 0h0m1 0h0m1 0h0m1 0h0m1 0h0m1 0h0m3 0h0m1 0h0m4 0h0m3 0h0m2 0h0m8 0h0m-40 1h0m1 0h0m6 0h0m1 0h0m1 0h0m1 0h0m1 0h0m1 0h0m1 0h0m1 0h0m1 0h0m1 0h0m1 0h0m1 0h0m1 0h0m2 0h0m1 0h0m2 0h0m4 0h0m2 0h0m2 0h0m1 0h0m9 0h0m-53 1h0m4 0h0m6 0h0m1 0h0m2 0h0m1 0h0m3 0h0m2 0h0m1 0h0m2 0h0m1 0h0m1 0h0m1 0h0m1 0h0m2 0h0m2 0h0m3 0h0m1 0h0m1 0h0m1 0h0m1 0h0m1 0h0m1 0h0m3 0h0m3 0h0m2 0h0m2 0h0m1 0h0m-53 1h0m5 0h0m12 0h0m2 0h0m2 0h0m1 0h0m2 0h0m1 0h0m1 0h0m2 0h0m1 0h0m1 0h0m1 0h0m1 0h0m1 0h0m1 0h0m1 0h0m2 0h0m1 0h0m1 0h0m5 0h0m1 0h0m3 0h0m1 0h0m1 0h0m9 0h0m-49 1h0m2 0h0m1 0h0m2 0h0m5 0h0m4 0h0m2 0h0m1 0h0m1 0h0m2 0h0m1 0h0m2 0h0m1 0h0m1 0h0m2 0h0m1 0h0m1 0h0m2 0h0m1 0h0m2 0h0m1 0h0m3 0h0m4 0h0m3 0h0m3 0h0m-56 1h0m11 0h0m3 0h0m1 0h0m2 0h0m1 0h0m2 0h0m1 0h0m1 0h0m1 0h0m1 0h0m2 0h0m1 0h0m1 0h0m2 0h0m1 0h0m1 0h0m1 0h0m1 0h0m1 0h0m2 0h0m2 0h0m2 0h0m1 0h0m4 0h0m4 0h0m7 0h0m2 0h0m-46 1h0m1 0h0m1 0h0m1 0h0m2 0h0m3 0h0m1 0h0m2 0h0m1 0h0m1 0h0m1 0h0m1 0h0m2 0h0m1 0h0m1 0h0m1 0h0m1 0h0m1 0h0m1 0h0m2 0h0m2 0h0m3 0h0m6 0h0m1 0h0m-44 1h0m2 0h0m4 0h0m1 0h0m4 0h0m2 0h0m1 0h0m1 0h0m4 0h0m1 0h0m1 0h0m3 0h0m1 0h0m2 0h0m1 0h0m1 0h0m2 0h0m1 0h0m2 0h0m5 0h0m1 0h0m-42 1h0m5 0h0m1 0h0m2 0h0m2 0h0m1 0h0m1 0h0m2 0h0m1 0h0m1 0h0m1 0h0m2 0h0m1 0h0m1 0h0m1 0h0m1 0h0m1 0h0m3 0h0m1 0h0m2 0h0m1 0h0m4 0h0m3 0h0m-36 1h0m1 0h0m3 0h0m1 0h0m1 0h0m2 0h0m1 0h0m1 0h0m1 0h0m4 0h0m1 0h0m1 0h0m1 0h0m2 0h0m1 0h0m1 0h0m1 0h0m1 0h0m1 0h0m2 0h0m4 0h0m1 0h0m1 0h0m1 0h0m1 0h0m7 0h0m1 0h0m-37 1h0m1 0h0m2 0h0m5 0h0m1 0h0m1 0h0m2 0h0m2 0h0m1 0h0m3 0h0m1 0h0m1 0h0m1 0h0m1 0h0m1 0h0m2 0h0m1 0h0m1 0h0m1 0h0m5 0h0m1 0h0m1 0h0m1 0h0m-56 1h0m17 0h0m1 0h0m10 0h0m1 0h0m1 0h0m1 0h0m1 0h0m1 0h0m2 0h0m2 0h0m1 0h0m5 0h0m1 0h0m1 0h0m1 0h0m5 0h0m5 0h0m5 0h0m11 0h0m-64 1h0m7 0h0m1 0h0m4 0h0m1 0h0m1 0h0m2 0h0m1 0h0m1 0h0m1 0h0m2 0h0m4 0h0m1 0h0m1 0h0m1 0h0m1 0h0m1 0h0m2 0h0m8 0h0m2 0h0m2 0h0m9 0h0m-58 1h0m9 0h0m2 0h0m2 0h0m3 0h0m8 0h0m1 0h0m1 0h0m1 0h0m2 0h0m3 0h0m2 0h0m1 0h0m1 0h0m1 0h0m7 0h0m5 0h0m1 0h0m1 0h0m-43 1h0m7 0h0m3 0h0m6 0h0m5 0h0m1 0h0m2 0h0m1 0h0m5 0h0m3 0h0m4 0h0m1 0h0m1 0h0m1 0h0m-31 1h0m14 0h0m1 0h0m1 0h0m4 0h0m2 0h0m2 0h0m5 0h0m-35 1h0m5 0h0m5 0h0m5 0h0m1 0h0m3 0h0m2 0h0m2 0h0m1 0h0m3 0h0m2 0h0m1 0h0m18 0h0m-44 1h0m5 0h0m4 0h0m2 0h0m8 0h0m4 0h0m-23 1h0m2 0h0m1 0h0m2 0h0m1 0h0m3 0h0m1 0h0m20 0h0m-23 1h0m7 0h0m2 0h0m2 0h0m6 0h0m6 0h0m1 0h0m6 0h0m-50 1h0m23 0h0m6 0h0m2 0h0m1 0h0m10 0h0m-34 1h0m17 0h0m-3 1h0m-10 1h0m5 0h0m10 0h0m-11 1h0m-3 1h0m15 1h0m17 0h0m-14 2h0m4 0h0m-14 6h0" stroke="#0000ff" stroke-width="2.3" stroke-linecap="round" fill="none"/>
<path d="M83 296h0m-8 1h0m18 0h0m8 0h0m3 0h0m-18 3h0m28 0h0m-19 1h0m4 0h0m6 0h0m6 0h0m-9 1h0m11 0h0m-31 1h0m5 0h0m8 0h0m4 0h0m1 0h0m2 0h0m-4 1h0m-28 1h0m31 0h0m5 0h0m6 0h0m-50 1h0m6 0h0m21 0h0m6 0h0m2 0h0m5 0h0m-37 1h0m12 0h0m4 0h0m5 0h0m5 0h0m-16 1h0m11 0h0m3 0h0m1 0h0m9 0h0m1 0h0m3 0h0m4 0h0m3 0h0m3 0h0m-47 1h0m10 0h0m4 0h0m2 0h0m2 0h0m1 0h0m2 0h0m3 0h0m2 0h0m2 0h0m4 0h0m8 0h0m1 0h0m2 0h0m5 0h0m4 0h0m-53 1h0m7 0h0m4 0h0m9 0h0m4 0h0m1 0h0m2 0h0m1 0h0m3 0h0m2 0h0m1 0h0m2 0h0m1 0h0m2 0h0m2 0h0m7 0h0m-34 1h0m1 0h0m6 0h0m1 0h0m2 0h0m2 0h0m1 0h0m2 0h0m1 0h0m1 0h0m2 0h0m12 0h0m1 0h0m1 0h0m-40 1h0m7 0h0m1 0h0m1 0h0m3 0h0m4 0h0m1 0h0m5 0h0m3 0h0m1 0h0m1 0h0m1 0h0m3 0h0m5 0h0m5 0h0m-38 1h0m3 0h0m1 0h0m2 0h0m1 0h0m1 0h0m4 0h0m1 0h0m1 0h0m3 0h0m2 0h0m2 0h0m1 0h0m2 0h0m1 0h0m1 0h0m1 0h0m3 0h0m4 0h0m4 0h0m-53 1h0m13 0h0m3 0h0m2 0h0m4 0h0m5 0h0m2 0h0m1 0h0m1 0h0m1 0h0m1 0h0m5 0h0m1 0h0m2 0h0m1 0h0m1 0h0m2 0h0m16 0h0m-49 1h0m8 0h0m1 0h0m1 0h0m1 0h0m2 0h0m2 0h0m2 0h0m3 0h0m4 0h0m1 0h0m3 0h0m2 0h0m1 0h0m1 0h0m1 0h0m7 0h0m-46 1h0m3 0h0m2 0h0m4 0h0m1 0h0m3 0h0m2 0h0m4 0h0m2 0h0m1 0h0m1 0h0m1 0h0m1 0h0m2 0h0m2 0h0m1 0h0m1 0h0m1 0h0m1 0h0m1 0h0m2 0h0m1 0h0m3 0h0m3 0h0m3 0h0m-50 1h0m14 0h0m1 0h0m1 0h0m1 0h0m2 0h0m1 0h0m4 0h0m1 0h0m1 0h0m4 0h0m4 0h0m1 0h0m2 0h0m1 0h0m2 0h0m1 0h0m2 0h0m2 0h0m-39 1h0m6 0h0m2 0h0m2 0h0m1 0h0m3 0h0m2 0h0m2 0h0m1 0h0m1 0h0m1 0h0m1 0h0m3 0h0m2 0h0m1 0h0m1 0h0m1 0h0m3 0h0m1 0h0m2 0h0m1 0h0m1 0h0m-36 1h0m3 0h0m1 0h0m3 0h0m1 0h0m2 0h0m1 0h0m1 0h0m1 0h0m1 0h0m1 0h0m4 0h0m1 0h0m2 0h0m1 0h0m1 0h0m1 0h0m2 0h0m1 0h0m1 0h0m1 0h0m3 0h0m2 0h0m2 0h0m4 0h0m1 0h0m1 0h0m-48 1h0m4 0h0m2 0h0m2 0h0m2 0h0m2 0h0m4 0h0m2 0h0m1 0h0m1 0h0m1 0h0m1 0h0m1 0h0m1 0h0m1 0h0m1 0h0m1 0h0m2 0h0m1 0h0m3 0h0m1 0h0m1 0h0m1 0h0m1 0h0m1 0h0m1 0h0m2 0h0m3 0h0m1 0h0m1 0h0m2 0h0m2 0h0m-58 1h0m7 0h0m2 0h0m10 0h0m1 0h0m2 0h0m1 0h0m1 0h0m1 0h0m1 0h0m1 0h0m1 0h0m1 0h0m1 0h0m2 0h0m1 0h0m2 0h0m1 0h0m1 0h0m1 0h0m1 0h0m1 0h0m1 0h0m1 0h0m1 0h0m1 0h0m1 0h0m1 0h0m6 0h0m-42 1h0m5 0h0m4 0h0m1 0h0m1 0h0m2 0h0m1 0h0m1 0h0m1 0h0m1 0h0m1 0h0m1 0h0m1 0h0m1 0h0m1 0h0m2 0h0m1 0h0m1 0h0m3 0h0m1 0h0m2 0h0m1 0h0m1 0h0m2 0h0m1 0h0m4 0h0m1 0h0m1 0h0m1 0h0m4 0h0m2 0h0m1 0h0m-45 1h0m1 0h0m5 0h0m1 0h0m4 0h0m2 0h0m2 0h0m1 0h0m1 0h0m1 0h0m1 0h0m1 0h0m1 0h0m2 0h0m1 0h0m1 0h0m1 0h0m1 0h0m1 0h0m1 0h0m1 0h0m1 0h0m1 0h0m2 0h0m8 0h0m-51 1h0m9 0h0m1 0h0m1 0h0m1 0h0m2 0h0m1 0h0m1 0h0m1 0h0m2 0h0m2 0h0m1 0h0m2 0h0m1 0h0m1 0h0m1 0h0m1 0h0m1 0h0m1 0h0m1 0h0m2 0h0m2 0h0m1 0h0m2 0h0m3 0h0m7 0h0m5 0h0m-53 1h0m2 0h0m1 0h0m2 0h0m1 0h0m4 0h0m2 0h0m1 0h0m3 0h0m2 0h0m2 0h0m3 0h0m1 0h0m1 0h0m1 0h0m1 0h0m1 0h0m1 0h0m1 0h0m1 0h0m5 0h0m1 0h0m3 0h0m1 0h0m1 0h0m5 0h0m1 0h0m-44 1h0m5 0h0m1 0h0m3 0h0m2 0h0m1 0h0m2 0h0m1 0h0m2 0h0m1 0h0m1 0h0m1 0h0m1 0h0m1 0h0m2 0h0m1 0h0m1 0h0m1 0h0m1 0h0m2 0h0m2 0h0m3 0h0m1 0h0m1 0h0m11 0h0m4 0h0m-49 1h0m5 0h0m1 0h0m1 0h0m2 0h0m2 0h0m1 0h0m3 0h0m1 0h0m1 0h0m1 0h0m1 0h0m1 0h0m1 0h0m3 0h0m1 0h0m1 0h0m2 0h0m1 0h0m1 0h0m3 0h0m1 0h0m3 0h0m3 0h0m1 0h0m-47 1h0m4 0h0m6 0h0m3 0h0m3 0h0m1 0h0m2 0h0m1 0h0m2 0h0m3 0h0m2 0h0m1 0h0m1 0h0m1 0h0m1 0h0m1 0h0m1 0h0m1 0h0m1 0h0m1 0h0m1 0h0m2 0h0m1 0h0m2 0h0m1 0h0m2 0h0m1 0h0m4 0h0m4 0h0m-64 1h0m4 0h0m14 0h0m1 0h0m2 0h0m1 0h0m1 0h0m1 0h0m3 0h0m1 0h0m1 0h0m2 0h0m2 0h0m2 0h0m1 0h0m1 0h0m1 0h0m1 0h0m1 0h0m1 0h0m1 0h0m1 0h0m2 0h0m1 0h0m2 0h0m4 0h0m4 0h0m-49 1h0m6 0h0m5 0h0m2 0h0m1 0h0m1 0h0m1 0h0m1 0h0m1 0h0m1 0h0m3 0h0m3 0h0m1 0h0m1 0h0m3 0h0m2 0h0m1 0h0m5 0h0m2 0h0m2 0h0m1 0h0m-46 1h0m17 0h0m1 0h0m1 0h0m1 0h0m2 0h0m4 0h0m3 0h0m2 0h0m2 0h0m2 0h0m3 0h0m1 0h0m1 0h0m1 0h0m1 0h0m1 0h0m4 0h0m2 0h0m11 0h0m-53 1h0m4 0h0m1 0h0m2 0h0m1 0h0m1 0h0m1 0h0m1 0h0m1 0h0m6 0h0m1 0h0m3 0h0m1 0h0m3 0h0m1 0h0m2 0h0m1 0h0m2 0h0m1 0h0m1 0h0m3 0h0m1 0h0m8 0h0m-47 1h0m6 0h0m2 0h0m1 0h0m9 0h0m1 0h0m1 0h0m1 0h0m2 0h0m3 0h0m2 0h0m2 0h0m3 0h0m-22 1h0m1 0h0m3 0h0m2 0h0m1 0h0m3 0h0m1 0h0m1 0h0m1 0h0m2 0h0m1 0h0m1 0h0m2 0h0m1 0h0m3 0h0m2 0h0m5 0h0m1 0h0m13 0h0m-44 1h0m2 0h0m2 0h0m2 0h0m2 0h0m5 0h0m3 0h0m4 0h0m8 0h0m4 0h0m-38 1h0m3 0h0m5 0h0m1 0h0m3 0h0m1 0h0m5 0h0m3 0h0m1 0h0m12 0h0m2 0h0m4 0h0m-39 1h0m4 0h0m3 0h0m3 0h0m10 0h0m2 0h0m3 0h0m2 0h0m4 0h0m-23 1h0m6 0h0m4 0h0m2 0h0m4 0h0m4 0h0m1 0h0m2 0h0m1 0h0m2 0h0m-32 1h0m3 0h0m5 0h0m1 0h0m2 0h0m2 0h0m6 0h0m15 0h0m-36 1h0m1 0h0m2 0h0m5 0h0m10 0h0m13 0h0m2 0h0m8 0h0m-48 1h0m12 0h0m5 0h0m2 0h0m3 0h0m17 0h0m3 0h0m-31 1h0m1 0h0m2 0h0m9 0h0m3 0h0m4 0h0m5 0h0m-46 1h0m24 0h0m2 0h0m3 0h0m14 0h0m-7 1h0m-8 1h0m8 0h0m19 0h0m-8 1h0m-6 1h0m4 0h0m-44 3h0m32 0h0m2 0h0m-11 1h0m35 0h0m-49 12h0" stroke="#0000ff" stroke-width="2.3" stroke-linecap="round" fill="none"/>
<path d="M186 292h0m16 1h0m-2 4h0m-26 1h0m1 0h0m5 0h0m22 0h0m-34 1h0m29 0h0m-13 1h0m25 0h0m-7 1h0m-47 1h0m18 0h0m13 0h0m-13 1h0m1 0h0m3 0h0m3 0h0m1 0h0m6 0h0m3 0h0m7 0h0m-26 1h0m3 0h0m3 0h0m1 0h0m3 0h0m3 0h0m-19 1h0m1 0h0m7 0h0m3 1h0m2 0h0m3 0h0m4 0h0m3 0h0m2 0h0m3 0h0m-32 1h0m16 0h0m1 0h0m1 0h0m4 0h0m1 0h0m3 0h0m3 0h0m1 0h0m8 0h0m-34 1h0m2 0h0m4 0h0m3 0h0m8 0h0m1 0h0m2 0h0m5 0h0m14 0h0m8 0h0m-58 1h0m11 0h0m4 0h0m2 0h0m4 0h0m1 0h0m3 0h0m4 0h0m7 0h0m2 0h0m6 0h0m5 0h0m-37 1h0m7 0h0m2 0h0m1 0h0m2 0h0m8 0h0m4 0h0m17 0h0m-50 1h0m2 0h0m2 0h0m3 0h0m6 0h0m2 0h0m3 0h0m4 0h0m2 0h0m2 0h0m4 0h0m1 0h0m1 0h0m1 0h0m3 0h0m5 0h0m6 0h0m-33 1h0m5 0h0m4 0h0m3 0h0m1 0h0m1 0h0m-34 1h0m10 0h0m9 0h0m9 0h0m7 0h0m1 0h0m3 0h0m1 0h0m2 0h0m1 0h0m2 0h0m1 0h0m-38 1h0m5 0h0m1 0h0m3 0h0m2 0h0m3 0h0m1 0h0m3 0h0m3 0h0m1 0h0m1 0h0m1 0h0m2 0h0m1 0h0m2 0h0m1 0h0m1 0h0m5 0h0m-37 1h0m1 0h0m9 0h0m3 0h0m2 0h0m5 0h0m2 0h0m1 0h0m1 0h0m2 0h0m1 0h0m1 0h0m1 0h0m4 0h0m1 0h0m6 0h0m1 0h0m-47 1h0m5 0h0m8 0h0m1 0h0m1 0h0m6 0h0m5 0h0m2 0h0m3 0h0m3 0h0m1 0h0m1 0h0m4 0h0m15 0h0m-62 1h0m10 0h0m2 0h0m4 0h0m5 0h0m3 0h0m1 0h0m1 0h0m2 0h0m2 0h0m2 0h0m1 0h0m2 0h0m1 0h0m4 0h0m2 0h0m3 0h0m-46 1h0m9 0h0m11 0h0m1 0h0m2 0h0m2 0h0m1 0h0m1 0h0m3 0h0m1 0h0m1 0h0m1 0h0m1 0h0m1 0h0m2 0h0m3 0h0m8 0h0m11 0h0m5 0h0m-57 1h0m3 0h0m2 0h0m3 0h0m3 0h0m1 0h0m1 0h0m1 0h0m2 0h0m9 0h0m2 0h0m2 0h0m1 0h0m2 0h0m1 0h0m1 0h0m3 0h0m1 0h0m4 0h0m3 0h0m5 0h0m-56 1h0m7 0h0m6 0h0m6 0h0m1 0h0m6 0h0m1 0h0m1 0h0m1 0h0m3 0h0m1 0h0m1 0h0m1 0h0m1 0h0m1 0h0m1 0h0m4 0h0m3 0h0m4 0h0m2 0h0m1 0h0m8 0h0m2 0h0m-60 1h0m9 0h0m8 0h0m1 0h0m1 0h0m2 0h0m1 0h0m1 0h0m1 0h0m1 0h0m1 0h0m1 0h0m1 0h0m1 0h0m2 0h0m1 0h0m4 0h0m1 0h0m3 0h0m2 0h0m5 0h0m3 0h0m-54 1h0m16 0h0m2 0h0m1 0h0m1 0h0m1 0h0m1 0h0m1 0h0m1 0h0m1 0h0m1 0h0m1 0h0m2 0h0m1 0h0m1 0h0m1 0h0m2 0h0m1 0h0m1 0h0m1 0h0m2 0h0m1 0h0m7 0h0m1 0h0m1 0h0m3 0h0m-57 1h0m25 0h0m2 0h0m1 0h0m3 0h0m1 0h0m1 0h0m2 0h0m2 0h0m2 0h0m1 0h0m1 0h0m2 0h0m1 0h0m3 0h0m1 0h0m5 0h0m1 0h0m3 0h0m3 0h0m2 0h0m6 0h0m1 0h0m-54 1h0m4 0h0m3 0h0m1 0h0m1 0h0m5 0h0m1 0h0m2 0h0m1 0h0m2 0h0m1 0h0m2 0h0m1 0h0m2 0h0m1 0h0m6 0h0m1 0h0m2 0h0m2 0h0m1 0h0m10 0h0m-55 1h0m8 0h0m1 0h0m2 0h0m2 0h0m1 0h0m2 0h0m2 0h0m1 0h0m1 0h0m1 0h0m3 0h0m4 0h0m2 0h0m2 0h0m3 0h0m1 0h0m1 0h0m1 0h0m1 0h0m1 0h0m1 0h0m1 0h0m1 0h0m-46 1h0m3 0h0m8 0h0m3 0h0m5 0h0m2 0h0m4 0h0m3 0h0m1 0h0m1 0h0m1 0h0m1 0h0m1 0h0m1 0h0m1 0h0m1 0h0m1 0h0m1 0h0m1 0h0m3 0h0m1 0h0m4 0h0m2 0h0m7 0h0m8 0h0m-54 1h0m1 0h0m2 0h0m2 0h0m5 0h0m5 0h0m1 0h0m1 0h0m2 0h0m1 0h0m3 0h0m3 0h0m2 0h0m1 0h0m1 0h0m2 0h0m1 0h0m1 0h0m3 0h0m4 0h0m2 0h0m3 0h0m4 0h0m-62 1h0m2 0h0m5 0h0m3 0h0m2 0h0m2 0h0m1 0h0m2 0h0m1 0h0m1 0h0m4 0h0m1 0h0m2 0h0m1 0h0m1 0h0m2 0h0m4 0h0m5 0h0m1 0h0m1 0h0m1 0h0m2 0h0m1 0h0m1 0h0m1 0h0m1 0h0m10 0h0m-45 1h0m2 0h0m4 0h0m1 0h0m4 0h0m1 0h0m2 0h0m2 0h0m1 0h0m1 0h0m1 0h0m1 0h0m2 0h0m2 0h0m1 0h0m2 0h0m1 0h0m9 0h0m-39 1h0m3 0h0m1 0h0m1 0h0m1 0h0m2 0h0m1 0h0m1 0h0m2 0h0m1 0h0m1 0h0m1 0h0m2 0h0m1 0h0m2 0h0m1 0h0m1 0h0m2 0h0m1 0h0m1 0h0m2 0h0m2 0h0m3 0h0m2 0h0m1 0h0m7 0h0m1 0h0m2 0h0m-58 1h0m14 0h0m3 0h0m2 0h0m1 0h0m1 0h0m1 0h0m1 0h0m2 0h0m2 0h0m1 0h0m2 0h0m1 0h0m1 0h0m3 0h0m4 0h0m3 0h0m1 0h0m2 0h0m2 0h0m-34 1h0m1 0h0m6 0h0m2 0h0m3 0h0m2 0h0m2 0h0m1 0h0m1 0h0m1 0h0m1 0h0m1 0h0m1 0h0m1 0h0m2 0h0m2 0h0m6 0h0m2 0h0m1 0h0m1 0h0m7 0h0m-61 1h0m5 0h0m9 0h0m7 0h0m1 0h0m1 0h0m1 0h0m1 0h0m1 0h0m3 0h0m4 0h0m1 0h0m2 0h0m2 0h0m5 0h0m1 0h0m1 0h0m2 0h0m2 0h0m9 0h0m8 0h0m-65 1h0m7 0h0m5 0h0m1 0h0m1 0h0m2 0h0m1 0h0m1 0h0m5 0h0m1 0h0m3 0h0m1 0h0m2 0h0m1 0h0m2 0h0m2 0h0m1 0h0m1 0h0m1 0h0m1 0h0m3 0h0m2 0h0m1 0h0m1 0h0m1 0h0m1 0h0m3 0h0m1 0h0m1 0h0m1 0h0m1 0h0m4 0h0m2 0h0m3 0h0m-58 1h0m14 0h0m3 0h0m5 0h0m7 0h0m1 0h0m1 0h0m2 0h0m1 0h0m1 0h0m7 0h0m2 0h0m1 0h0m5 0h0m2 0h0m-44 1h0m1 0h0m1 0h0m4 0h0m1 0h0m4 0h0m1 0h0m4 0h0m1 0h0m2 0h0m4 0h0m1 0h0m1 0h0m1 0h0m2 0h0m1 0h0m1 0h0m4 0h0m1 0h0m1 0h0m21 0h0m-61 1h0m11 0h0m2 0h0m3 0h0m1 0h0m1 0h0m4 0h0m2 0h0m2 0h0m5 0h0m1 0h0m2 0h0m2 0h0m8 0h0m-37 1h0m3 0h0m4 0h0m3 0h0m4 0h0m1 0h0m1 0h0m1 0h0m2 0h0m3 0h0m3 0h0m3 0h0m5 0h0m4 0h0m-40 1h0m2 0h0m2 0h0m4 0h0m2 0h0m1 0h0m1 0h0m6 0h0m4 0h0m2 0h0m1 0h0m5 0h0m4 0h0m-52 1h0m24 0h0m8 0h0m1 0h0m8 0h0m3 0h0m1 0h0m3 0h0m6 0h0m2 0h0m-44 1h0m8 0h0m2 0h0m7 0h0m6 0h0m4 0h0m2 0h0m19 0h0m-43 1h0m5 0h0m4 0h0m4 0h0m3 0h0m5 0h0m5 0h0m4 0h0m3 0h0m3 0h0m-45 1h0m10 0h0m4 0h0m11 0h0m3 0h0m2 0h0m2 0h0m3 0h0m2 0h0m7 0h0m2 0h0m-34 1h0m4 0h0m3 0h0m9 0h0m2 0h0m1 0h0m2 0h0m1 0h0m2 0h0m5 0h0m-43 1h0m3 0h0m4 0h0m6 0h0m7 0h0m20 0h0m8 0h0m5 0h0m-36 1h0m5 0h0m3 0h0m4 0h0m3 0h0m2 0h0m-16 1h0m2 0h0m10 0h0m5 0h0m-19 1h0m2 1h0m4 0h0m2 0h0m8 0h0m1 0h0m7 0h0m5 0h0m1 0h0m-36 1h0m7 0h0m8 0h0m7 0h0m1 0h0m-6 1h0m14 0h0m-21 1h0m14 0h0m-21 2h0m5 0h0m12 0h0m-7 2h0m-11 1h0m14 0h0m-7 2h0m31 3h0" stroke="#0000ff" stroke-width="2.3" stroke-linecap="round" fill="none"/>
<path d="M259 293h0m36 0h0m-35 1h0m2 2h0m6 0h0m6 0h0m3 0h0m-21 1h0m10 0h0m6 0h0m8 0h0m-21 2h0m38 0h0m-35 1h0m3 0h0m-2 1h0m5 0h0m16 0h0m-34 1h0m3 0h0m28 0h0m-11 1h0m3 0h0m-14 1h0m6 0h0m1 0h0m1 0h0m1 0h0m24 0h0m-33 1h0m1 0h0m1 0h0m4 0h0m4 0h0m9 0h0m13 0h0m-39 1h0m3 0h0m3 0h0m5 0h0m4 0h0m1 0h0m3 0h0m13 0h0m12 0h0m-43 1h0m1 0h0m5 0h0m2 0h0m2 0h0m3 0h0m1 0h0m1 0h0m1 0h0m3 0h0m1 0h0m9 0h0m2 0h0m-35 1h0m6 0h0m1 0h0m3 0h0m1 0h0m3 0h0m6 0h0m1 0h0m2 0h0m1 0h0m1 0h0m3 0h0m9 0h0m3 0h0m-32 1h0m8 0h0m1 0h0m9 0h0m1 0h0m3 0h0m1 0h0m8 0h0m-45 1h0m10 0h0m13 0h0m6 0h0m1 0h0m3 0h0m1 0h0m-27 1h0m4 0h0m2 0h0m4 0h0m1 0h0m4 0h0m3 0h0m7 0h0m1 0h0m5 0h0m2 0h0m4 0h0m8 0h0m-61 1h0m16 0h0m5 0h0m1 0h0m3 0h0m1 0h0m1 0h0m4 0h0m5 0h0m1 0h0m1 0h0m1 0h0m3 0h0m2 0h0m2 0h0m2 0h0m-41 1h0m2 0h0m10 0h0m5 0h0m1 0h0m1 0h0m1 0h0m1 0h0m5 0h0m3 0h0m1 0h0m2 0h0m4 0h0m4 0h0m-47 1h0m11 0h0m2 0h0m1 0h0m3 0h0m4 0h0m1 0h0m1 0h0m2 0h0m1 0h0m2 0h0m6 0h0m1 0h0m1 0h0m2 0h0m1 0h0m3 0h0m1 0h0m2 0h0m7 0h0m-47 1h0m1 0h0m11 0h0m2 0h0m2 0h0m2 0h0m2 0h0m1 0h0m4 0h0m1 0h0m3 0h0m1 0h0m1 0h0m2 0h0m1 0h0m1 0h0m2 0h0m1 0h0m1 0h0m2 0h0m7 0h0m1 0h0m2 0h0m-52 1h0m2 0h0m7 0h0m6 0h0m2 0h0m1 0h0m3 0h0m2 0h0m1 0h0m1 0h0m4 0h0m1 0h0m1 0h0m2 0h0m1 0h0m1 0h0m1 0h0m3 0h0m1 0h0m2 0h0m1 0h0m1 0h0m1 0h0m1 0h0m3 0h0m-45 1h0m8 0h0m3 0h0m1 0h0m1 0h0m2 0h0m1 0h0m6 0h0m1 0h0m2 0h0m1 0h0m1 0h0m1 0h0m2 0h0m1 0h0m1 0h0m5 0h0m1 0h0m5 0h0m2 0h0m8 0h0m4 0h0m-54 1h0m3 0h0m2 0h0m2 0h0m1 0h0m3 0h0m3 0h0m2 0h0m2 0h0m1 0h0m3 0h0m1 0h0m1 0h0m2 0h0m1 0h0m2 0h0m2 0h0m6 0h0m3 0h0m-56 1h0m16 0h0m4 0h0m1 0h0m3 0h0m3 0h0m1 0h0m1 0h0m1 0h0m1 0h0m1 0h0m1 0h0m1 0h0m1 0h0m3 0h0m1 0h0m3 0h0m1 0h0m1 0h0m1 0h0m1 0h0m1 0h0m1 0h0m1 0h0m3 0h0m1 0h0m-45 1h0m1 0h0m7 0h0m3 0h0m1 0h0m5 0h0m3 0h0m2 0h0m1 0h0m1 0h0m1 0h0m3 0h0m1 0h0m1 0h0m2 0h0m1 0h0m2 0h0m2 0h0m1 0h0m1 0h0m13 0h0m3 0h0m-71 1h0m14 0h0m5 0h0m2 0h0m7 0h0m1 0h0m2 0h0m1 0h0m2 0h0m1 0h0m1 0h0m2 0h0m1 0h0m1 0h0m1 0h0m1 0h0m1 0h0m1 0h0m1 0h0m1 0h0m1 0h0m1 0h0m1 0h0m1 0h0m3 0h0m2 0h0m3 0h0m1 0h0m1 0h0m1 0h0m15 0h0m-63 1h0m9 0h0m2 0h0m2 0h0m1 0h0m5 0h0m2 0h0m1 0h0m1 0h0m1 0h0m1 0h0m1 0h0m3 0h0m1 0h0m1 0h0m1 0h0m1 0h0m1 0h0m2 0h0m1 0h0m2 0h0m2 0h0m1 0h0m1 0h0m3 0h0m3 0h0m-47 1h0m8 0h0m4 0h0m2 0h0m2 0h0m1 0h0m2 0h0m1 0h0m1 0h0m1 0h0m1 0h0m1 0h0m1 0h0m1 0h0m1 0h0m1 0h0m1 0h0m1 0h0m1 0h0m1 0h0m2 0h0m1 0h0m1 0h0m2 0h0m1 0h0m1 0h0m2 0h0m2 0h0m1 0h0m4 0h0m-42 1h0m1 0h0m3 0h0m1 0h0m1 0h0m1 0h0m1 0h0m3 0h0m1 0h0m1 0h0m1 0h0m1 0h0m1 0h0m1 0h0m1 0h0m1 0h0m1 0h0m1 0h0m1 0h0m1 0h0m2 0h0m2 0h0m2 0h0m5 0h0m1 0h0m3 0h0m2 0h0m4 0h0m-44 1h0m2 0h0m1 0h0m3 0h0m1 0h0m1 0h0m1 0h0m1 0h0m1 0h0m1 0h0m2 0h0m2 0h0m1 0h0m2 0h0m1 0h0m1 0h0m1 0h0m1 0h0m2 0h0m2 0h0m5 0h0m1 0h0m2 0h0m1 0h0m-46 1h0m10 0h0m1 0h0m2 0h0m2 0h0m2 0h0m3 0h0m1 0h0m1 0h0m1 0h0m2 0h0m1 0h0m1 0h0m1 0h0m1 0h0m1 0h0m1 0h0m1 0h0m2 0h0m1 0h0m7 0h0m1 0h0m2 0h0m2 0h0m1 0h0m-44 1h0m10 0h0m3 0h0m1 0h0m6 0h0m1 0h0m1 0h0m1 0h0m5 0h0m3 0h0m1 0h0m4 0h0m1 0h0m1 0h0m1 0h0m1 0h0m2 0h0m3 0h0m1 0h0m1 0h0m-49 1h0m10 0h0m3 0h0m1 0h0m1 0h0m4 0h0m1 0h0m1 0h0m2 0h0m5 0h0m1 0h0m1 0h0m2 0h0m1 0h0m1 0h0m1 0h0m1 0h0m1 0h0m1 0h0m6 0h0m8 0h0m1 0h0m-46 1h0m3 0h0m1 0h0m2 0h0m5 0h0m1 0h0m1 0h0m1 0h0m1 0h0m1 0h0m1 0h0m1 0h0m1 0h0m1 0h0m3 0h0m2 0h0m1 0h0m1 0h0m1 0h0m1 0h0m1 0h0m2 0h0m2 0h0m1 0h0m3 0h0m5 0h0m7 0h0m-52 1h0m1 0h0m4 0h0m3 0h0m1 0h0m1 0h0m7 0h0m1 0h0m2 0h0m1 0h0m1 0h0m1 0h0m1 0h0m2 0h0m1 0h0m1 0h0m3 0h0m1 0h0m2 0h0m4 0h0m2 0h0m-56 1h0m5 0h0m11 0h0m9 0h0m2 0h0m2 0h0m2 0h0m2 0h0m1 0h0m1 0h0m2 0h0m1 0h0m2 0h0m1 0h0m1 0h0m1 0h0m2 0h0m1 0h0m4 0h0m2 0h0m-38 1h0m6 0h0m3 0h0m1 0h0m1 0h0m2 0h0m2 0h0m3 0h0m1 0h0m3 0h0m1 0h0m1 0h0m2 0h0m1 0h0m1 0h0m1 0h0m1 0h0m1 0h0m1 0h0m1 0h0m2 0h0m1 0h0m2 0h0m1 0h0m17 0h0m-55 1h0m1 0h0m7 0h0m4 0h0m2 0h0m1 0h0m1 0h0m6 0h0m1 0h0m1 0h0m3 0h0m2 0h0m1 0h0m2 0h0m1 0h0m3 0h0m1 0h0m12 0h0m-45 1h0m1 0h0m1 0h0m2 0h0m2 0h0m3 0h0m5 0h0m1 0h0m1 0h0m1 0h0m1 0h0m4 0h0m1 0h0m6 0h0m20 0h0m-55 1h0m4 0h0m10 0h0m1 0h0m1 0h0m2 0h0m1 0h0m3 0h0m1 0h0m3 0h0m2 0h0m3 0h0m1 0h0m1 0h0m1 0h0m2 0h0m9 0h0m5 0h0m10 0h0m-63 1h0m5 0h0m5 0h0m1 0h0m5 0h0m1 0h0m5 0h0m1 0h0m2 0h0m1 0h0m11 0h0m4 0h0m1 0h0m1 0h0m-51 1h0m11 0h0m4 0h0m5 0h0m13 0h0m6 0h0m4 0h0m2 0h0m7 0h0m-33 1h0m9 0h0m2 0h0m2 0h0m9 0h0m1 0h0m1 0h0m13 0h0m-42 1h0m4 0h0m6 0h0m3 0h0m2 0h0m7 0h0m3 0h0m2 0h0m9 0h0m8 0h0m-39 1h0m7 0h0m3 0h0m1 0h0m2 0h0m1 0h0m1 0h0m10 0h0m1 0h0m3 0h0m8 0h0m-36 1h0m1 0h0m8 0h0m5 0h0m10 0h0m-34 1h0m4 0h0m2 0h0m5 0h0m3 0h0m1 0h0m6 0h0m4 0h0m14 0h0m-34 1h0m3 0h0m2 0h0m13 0h0m6 0h0m9 0h0m-34 1h0m5 0h0m6 0h0m2 0h0m1 0h0m9 0h0m10 0h0m-26 1h0m12 0h0m-19 1h0m16 0h0m3 0h0m0 1h0m-31 1h0m15 0h0m0 1h0m18 0h0m-14 1h0m11 0h0m10 0h0m-14 3h0m-12 2h0m2 0h0m24 8h0" stroke="#0000ff" stroke-width="2.3" stroke-linecap="round" fill="none"/>
<path d="M375 293h0m2 3h0m-20 1h0m4 1h0m12 0h0m-18 1h0m6 1h0m5 0h0m-4 1h0m13 0h0m-26 1h0m-1 1h0m18 1h0m11 0h0m-24 1h0m5 0h0m-13 1h0m9 0h0m10 0h0m2 0h0m-18 1h0m10 0h0m3 0h0m2 0h0m2 0h0m1 0h0m2 0h0m-35 1h0m14 0h0m9 0h0m2 0h0m6 0h0m3 0h0m3 0h0m2 0h0m1 0h0m5 0h0m-39 1h0m11 0h0m2 0h0m4 0h0m4 0h0m1 0h0m7 0h0m3 0h0m-28 1h0m1 0h0m7 0h0m1 0h0m5 0h0m9 0h0m3 0h0m3 0h0m-28 1h0m1 0h0m3 0h0m2 0h0m2 0h0m1 0h0m8 0h0m1 0h0m1 0h0m6 0h0m1 0h0m4 0h0m-33 1h0m8 0h0m3 0h0m4 0h0m1 0h0m2 0h0m3 0h0m1 0h0m2 0h0m2 0h0m2 0h0m2 0h0m-34 1h0m6 0h0m2 0h0m7 0h0m1 0h0m1 0h0m4 0h0m2 0h0m7 0h0m-22 1h0m2 0h0m2 0h0m6 0h0m2 0h0m4 0h0m1 0h0m1 0h0m19 0h0m-37 1h0m1 0h0m2 0h0m3 0h0m4 0h0m2 0h0m1 0h0m1 0h0m1 0h0m1 0h0m3 0h0m1 0h0m4 0h0m4 0h0m5 0h0m-36 1h0m5 0h0m3 0h0m1 0h0m1 0h0m1 0h0m2 0h0m1 0h0m1 0h0m2 0h0m2 0h0m2 0h0m1 0h0m1 0h0m4 0h0m5 0h0m-41 1h0m4 0h0m2 0h0m9 0h0m2 0h0m1 0h0m2 0h0m2 0h0m1 0h0m2 0h0m2 0h0m1 0h0m1 0h0m1 0h0m1 0h0m2 0h0m1 0h0m1 0h0m3 0h0m3 0h0m3 0h0m-49 1h0m10 0h0m7 0h0m6 0h0m1 0h0m1 0h0m1 0h0m3 0h0m4 0h0m1 0h0m3 0h0m1 0h0m2 0h0m1 0h0m11 0h0m-43 1h0m5 0h0m3 0h0m1 0h0m1 0h0m5 0h0m2 0h0m2 0h0m4 0h0m4 0h0m1 0h0m1 0h0m4 0h0m2 0h0m7 0h0m8 0h0m-52 1h0m9 0h0m3 0h0m7 0h0m2 0h0m1 0h0m1 0h0m1 0h0m1 0h0m4 0h0m1 0h0m1 0h0m1 0h0m4 0h0m3 0h0m11 0h0m-44 1h0m2 0h0m1 0h0m1 0h0m1 0h0m1 0h0m1 0h0m1 0h0m1 0h0m3 0h0m2 0h0m1 0h0m3 0h0m2 0h0m2 0h0m2 0h0m2 0h0m2 0h0m1 0h0m2 0h0m11 0h0m-72 1h0m24 0h0m5 0h0m1 0h0m5 0h0m2 0h0m2 0h0m1 0h0m2 0h0m1 0h0m1 0h0m1 0h0m1 0h0m2 0h0m1 0h0m4 0h0m2 0h0m1 0h0m2 0h0m4 0h0m-49 1h0m5 0h0m10 0h0m3 0h0m2 0h0m1 0h0m1 0h0m1 0h0m1 0h0m2 0h0m1 0h0m1 0h0m1 0h0m1 0h0m1 0h0m5 0h0m1 0h0m2 0h0m2 0h0m3 0h0m1 0h0m3 0h0m-34 1h0m2 0h0m2 0h0m3 0h0m1 0h0m1 0h0m1 0h0m3 0h0m4 0h0m1 0h0m2 0h0m1 0h0m1 0h0m1 0h0m2 0h0m1 0h0m1 0h0m3 0h0m-32 1h0m3 0h0m1 0h0m1 0h0m4 0h0m1 0h0m2 0h0m1 0h0m1 0h0m2 0h0m1 0h0m1 0h0m1 0h0m1 0h0m6 0h0m1 0h0m1 0h0m2 0h0m1 0h0m3 0h0m-45 1h0m3 0h0m8 0h0m2 0h0m1 0h0m2 0h0m2 0h0m1 0h0m1 0h0m2 0h0m2 0h0m1 0h0m1 0h0m1 0h0m1 0h0m1 0h0m1 0h0m1 0h0m2 0h0m1 0h0m1 0h0m3 0h0m2 0h0m1 0h0m2 0h0m1 0h0m7 0h0m-47 1h0m3 0h0m3 0h0m4 0h0m1 0h0m2 0h0m3 0h0m1 0h0m1 0h0m1 0h0m2 0h0m1 0h0m1 0h0m2 0h0m1 0h0m2 0h0m2 0h0m2 0h0m2 0h0m4 0h0m2 0h0m-37 1h0m2 0h0m1 0h0m2 0h0m2 0h0m1 0h0m1 0h0m1 0h0m3 0h0m1 0h0m2 0h0m2 0h0m2 0h0m3 0h0m1 0h0m1 0h0m1 0h0m5 0h0m5 0h0m5 0h0m-48 1h0m4 0h0m4 0h0m5 0h0m1 0h0m1 0h0m1 0h0m1 0h0m1 0h0m1 0h0m1 0h0m1 0h0m1 0h0m1 0h0m1 0h0m1 0h0m1 0h0m1 0h0m1 0h0m1 0h0m1 0h0m2 0h0m1 0h0m2 0h0m3 0h0m2 0h0m-39 1h0m1 0h0m10 0h0m2 0h0m6 0h0m3 0h0m1 0h0m2 0h0m1 0h0m1 0h0m2 0h0m1 0h0m1 0h0m1 0h0m3 0h0m2 0h0m17 0h0m-44 1h0m1 0h0m1 0h0m2 0h0m1 0h0m1 0h0m1 0h0m1 0h0m1 0h0m1 0h0m1 0h0m2 0h0m2 0h0m1 0h0m3 0h0m1 0h0m1 0h0m1 0h0m1 0h0m1 0h0m5 0h0m-34 1h0m1 0h0m1 0h0m1 0h0m1 0h0m1 0h0m2 0h0m1 0h0m1 0h0m1 0h0m2 0h0m1 0h0m1 0h0m3 0h0m1 0h0m1 0h0m1 0h0m2 0h0m1 0h0m1 0h0m3 0h0m1 0h0m3 0h0m1 0h0m5 0h0m-45 1h0m9 0h0m1 0h0m1 0h0m2 0h0m1 0h0m1 0h0m6 0h0m1 0h0m2 0h0m2 0h0m2 0h0m1 0h0m1 0h0m2 0h0m1 0h0m1 0h0m4 0h0m3 0h0m4 0h0m2 0h0m-52 1h0m7 0h0m5 0h0m10 0h0m1 0h0m1 0h0m1 0h0m4 0h0m1 0h0m1 0h0m2 0h0m1 0h0m1 0h0m1 0h0m5 0h0m1 0h0m1 0h0m5 0h0m-52 1h0m14 0h0m1 0h0m4 0h0m2 0h0m5 0h0m1 0h0m1 0h0m1 0h0m1 0h0m1 0h0m2 0h0m2 0h0m1 0h0m2 0h0m1 0h0m1 0h0m1 0h0m7 0h0m-33 1h0m2 0h0m3 0h0m3 0h0m1 0h0m4 0h0m2 0h0m1 0h0m1 0h0m1 0h0m2 0h0m1 0h0m2 0h0m2 0h0m4 0h0m7 0h0m3 0h0m7 0h0m-59 1h0m7 0h0m8 0h0m4 0h0m2 0h0m3 0h0m1 0h0m1 0h0m4 0h0m3 0h0m3 0h0m1 0h0m1 0h0m6 0h0m1 0h0m1 0h0m2 0h0m-43 1h0m11 0h0m4 0h0m2 0h0m1 0h0m1 0h0m1 0h0m1 0h0m4 0h0m2 0h0m3 0h0m2 0h0m1 0h0m4 0h0m3 0h0m1 0h0m6 0h0m-47 1h0m3 0h0m9 0h0m2 0h0m1 0h0m1 0h0m4 0h0m2 0h0m1 0h0m2 0h0m2 0h0m4 0h0m1 0h0m1 0h0m1 0h0m1 0h0m1 0h0m2 0h0m2 0h0m3 0h0m-41 1h0m8 0h0m4 0h0m1 0h0m2 0h0m1 0h0m3 0h0m1 0h0m3 0h0m1 0h0m1 0h0m1 0h0m1 0h0m4 0h0m1 0h0m1 0h0m3 0h0m4 0h0m3 0h0m-41 1h0m1 0h0m4 0h0m2 0h0m1 0h0m9 0h0m1 0h0m3 0h0m1 0h0m1 0h0m1 0h0m3 0h0m1 0h0m5 0h0m2 0h0m-31 1h0m1 0h0m4 0h0m1 0h0m1 0h0m2 0h0m1 0h0m4 0h0m3 0h0m1 0h0m1 0h0m3 0h0m1 0h0m2 0h0m10 0h0m-33 1h0m1 0h0m2 0h0m1 0h0m3 0h0m1 0h0m1 0h0m2 0h0m3 0h0m1 0h0m5 0h0m1 0h0m8 0h0m-35 1h0m6 0h0m8 0h0m3 0h0m5 0h0m1 0h0m2 0h0m3 0h0m1 0h0m20 0h0m-52 1h0m3 0h0m9 0h0m1 0h0m1 0h0m9 0h0m3 0h0m3 0h0m3 0h0m11 0h0m-43 1h0m9 0h0m4 0h0m5 0h0m4 0h0m2 0h0m2 0h0m1 0h0m4 0h0m3 0h0m3 0h0m-25 1h0m3 0h0m2 0h0m1 0h0m6 0h0m1 0h0m1 0h0m11 0h0m-20 1h0m4 0h0m14 0h0m-39 1h0m19 0h0m3 0h0m2 0h0m2 0h0m3 0h0m1 0h0m2 0h0m3 0h0m3 0h0m-34 1h0m10 0h0m5 0h0m12 0h0m4 0h0m-26 1h0m10 0h0m14 0h0m5 0h0m-28 1h0m7 0h0m11 0h0m-14 1h0m2 0h0m15 0h0m1 0h0m-15 1h0m3 0h0m6 0h0m7 0h0m-22 1h0m6 0h0m1 0h0m12 0h0m-25 1h0m1 0h0m8 0h0m4 0h0m-12 1h0m11 2h0m6 0h0" stroke="#0000ff" stroke-width="2.3" stroke-linecap="round" fill="none"/>
<path d="M461 293h0m-25 3h0m2 0h0m6 2h0m-31 1h0m22 0h0m12 0h0m1 1h0m12 0h0m-4 1h0m-29 1h0m11 0h0m-18 1h0m12 0h0m11 0h0m2 0h0m8 0h0m-17 1h0m10 0h0m1 0h0m-28 1h0m14 0h0m13 0h0m-26 1h0m9 0h0m7 0h0m8 0h0m5 1h0m-15 1h0m3 0h0m13 0h0m3 0h0m8 0h0m-35 1h0m2 0h0m2 0h0m5 0h0m1 0h0m2 0h0m6 0h0m4 0h0m25 0h0m-60 1h0m10 0h0m9 0h0m4 0h0m1 0h0m1 0h0m6 0h0m8 0h0m-35 1h0m9 0h0m2 0h0m9 0h0m3 0h0m2 0h0m7 0h0m10 0h0m-30 1h0m1 0h0m3 0h0m3 0h0m3 0h0m3 0h0m1 0h0m2 0h0m2 0h0m4 0h0m10 0h0m-40 1h0m1 0h0m8 0h0m1 0h0m1 0h0m7 0h0m3 0h0m12 0h0m-51 1h0m24 0h0m4 0h0m1 0h0m2 0h0m1 0h0m5 0h0m5 0h0m20 0h0m-32 1h0m5 0h0m3 0h0m2 0h0m2 0h0m1 0h0m2 0h0m2 0h0m8 0h0m6 0h0m-44 1h0m12 0h0m1 0h0m1 0h0m7 0h0m1 0h0m7 0h0m2 0h0m9 0h0m-55 1h0m11 0h0m6 0h0m2 0h0m9 0h0m1 0h0m6 0h0m1 0h0m3 0h0m1 0h0m3 0h0m2 0h0m2 0h0m2 0h0m2 0h0m2 0h0m-65 1h0m27 0h0m2 0h0m2 0h0m1 0h0m3 0h0m1 0h0m1 0h0m2 0h0m1 0h0m3 0h0m2 0h0m3 0h0m1 0h0m1 0h0m4 0h0m-31 1h0m1 0h0m8 0h0m6 0h0m1 0h0m1 0h0m2 0h0m2 0h0m2 0h0m3 0h0m1 0h0m2 0h0m1 0h0m5 0h0m5 0h0m2 0h0m1 0h0m6 0h0m8 0h0m-57 1h0m8 0h0m5 0h0m1 0h0m1 0h0m3 0h0m1 0h0m1 0h0m3 0h0m2 0h0m3 0h0m2 0h0m2 0h0m2 0h0m2 0h0m-31 1h0m4 0h0m1 0h0m7 0h0m3 0h0m2 0h0m1 0h0m5 0h0m2 0h0m2 0h0m2 0h0m1 0h0m1 0h0m3 0h0m-36 1h0m1 0h0m1 0h0m2 0h0m4 0h0m1 0h0m1 0h0m6 0h0m1 0h0m1 0h0m2 0h0m1 0h0m2 0h0m3 0h0m5 0h0m1 0h0m1 0h0m5 0h0m-42 1h0m6 0h0m3 0h0m4 0h0m6 0h0m1 0h0m1 0h0m1 0h0m3 0h0m1 0h0m1 0h0m1 0h0m2 0h0m2 0h0m3 0h0m6 0h0m3 0h0m2 0h0m1 0h0m-50 1h0m9 0h0m6 0h0m2 0h0m1 0h0m3 0h0m6 0h0m3 0h0m1 0h0m3 0h0m2 0h0m1 0h0m2 0h0m6 0h0m-37 1h0m4 0h0m3 0h0m1 0h0m3 0h0m1 0h0m3 0h0m1 0h0m1 0h0m3 0h0m1 0h0m6 0h0m3 0h0m2 0h0m8 0h0m-49 1h0m9 0h0m5 0h0m1 0h0m2 0h0m2 0h0m1 0h0m2 0h0m1 0h0m5 0h0m1 0h0m1 0h0m2 0h0m4 0h0m2 0h0m6 0h0m2 0h0m5 0h0m4 0h0m-50 1h0m3 0h0m6 0h0m3 0h0m3 0h0m1 0h0m1 0h0m1 0h0m1 0h0m2 0h0m1 0h0m1 0h0m3 0h0m1 0h0m2 0h0m2 0h0m2 0h0m1 0h0m3 0h0m4 0h0m-44 1h0m1 0h0m6 0h0m4 0h0m3 0h0m5 0h0m2 0h0m1 0h0m2 0h0m1 0h0m1 0h0m4 0h0m1 0h0m1 0h0m7 0h0m1 0h0m3 0h0m3 0h0m-59 1h0m13 0h0m3 0h0m4 0h0m2 0h0m3 0h0m1 0h0m1 0h0m1 0h0m2 0h0m1 0h0m1 0h0m2 0h0m1 0h0m1 0h0m1 0h0m3 0h0m1 0h0m1 0h0m1 0h0m2 0h0m2 0h0m2 0h0m1 0h0m3 0h0m8 0h0m1 0h0m1 0h0m-46 1h0m2 0h0m3 0h0m2 0h0m2 0h0m1 0h0m2 0h0m1 0h0m2 0h0m1 0h0m1 0h0m1 0h0m1 0h0m2 0h0m2 0h0m1 0h0m1 0h0m2 0h0m1 0h0m6 0h0m3 0h0m1 0h0m5 0h0m-44 1h0m6 0h0m1 0h0m1 0h0m1 0h0m6 0h0m3 0h0m4 0h0m2 0h0m8 0h0m1 0h0m3 0h0m3 0h0m1 0h0m1 0h0m-45 1h0m8 0h0m3 0h0m5 0h0m4 0h0m2 0h0m3 0h0m2 0h0m1 0h0m5 0h0m2 0h0m1 0h0m1 0h0m7 0h0m4 0h0m-47 1h0m10 0h0m1 0h0m2 0h0m2 0h0m1 0h0m2 0h0m3 0h0m2 0h0m2 0h0m1 0h0m1 0h0m2 0h0m1 0h0m1 0h0m1 0h0m2 0h0m1 0h0m5 0h0m5 0h0m3 0h0m-64 1h0m6 0h0m16 0h0m9 0h0m2 0h0m1 0h0m2 0h0m2 0h0m1 0h0m1 0h0m1 0h0m1 0h0m1 0h0m1 0h0m1 0h0m2 0h0m2 0h0m1 0h0m1 0h0m1 0h0m1 0h0m6 0h0m3 0h0m5 0h0m-58 1h0m10 0h0m2 0h0m5 0h0m4 0h0m1 0h0m1 0h0m1 0h0m5 0h0m4 0h0m1 0h0m2 0h0m1 0h0m3 0h0m7 0h0m4 0h0m2 0h0m-48 1h0m3 0h0m5 0h0m4 0h0m2 0h0m3 0h0m1 0h0m1 0h0m3 0h0m1 0h0m1 0h0m1 0h0m1 0h0m1 0h0m1 0h0m1 0h0m3 0h0m3 0h0m1 0h0m1 0h0m2 0h0m7 0h0m7 0h0m-53 1h0m5 0h0m2 0h0m5 0h0m1 0h0m1 0h0m3 0h0m3 0h0m1 0h0m1 0h0m1 0h0m1 0h0m1 0h0m3 0h0m1 0h0m1 0h0m2 0h0m3 0h0m2 0h0m2 0h0m2 0h0m3 0h0m-53 1h0m6 0h0m7 0h0m3 0h0m3 0h0m3 0h0m4 0h0m1 0h0m1 0h0m1 0h0m1 0h0m2 0h0m1 0h0m2 0h0m2 0h0m2 0h0m3 0h0m2 0h0m2 0h0m3 0h0m2 0h0m3 0h0m-33 1h0m4 0h0m1 0h0m2 0h0m3 0h0m2 0h0m1 0h0m1 0h0m1 0h0m1 0h0m1 0h0m1 0h0m1 0h0m2 0h0m1 0h0m1 0h0m1 0h0m4 0h0m1 0h0m1 0h0m1 0h0m9 0h0m4 0h0m-56 1h0m6 0h0m7 0h0m1 0h0m1 0h0m1 0h0m1 0h0m2 0h0m1 0h0m2 0h0m1 0h0m1 0h0m5 0h0m7 0h0m1 0h0m1 0h0m5 0h0m12 0h0m-53 1h0m1 0h0m8 0h0m4 0h0m2 0h0m2 0h0m1 0h0m3 0h0m2 0h0m1 0h0m1 0h0m2 0h0m1 0h0m1 0h0m2 0h0m3 0h0m2 0h0m2 0h0m9 0h0m-41 1h0m5 0h0m1 0h0m2 0h0m2 0h0m1 0h0m2 0h0m2 0h0m1 0h0m1 0h0m1 0h0m2 0h0m1 0h0m1 0h0m12 0h0m1 0h0m3 0h0m-52 1h0m10 0h0m8 0h0m4 0h0m3 0h0m1 0h0m1 0h0m1 0h0m1 0h0m2 0h0m1 0h0m6 0h0m1 0h0m2 0h0m1 0h0m2 0h0m6 0h0m4 0h0m12 0h0m-62 1h0m8 0h0m1 0h0m4 0h0m1 0h0m5 0h0m1 0h0m1 0h0m3 0h0m1 0h0m1 0h0m2 0h0m1 0h0m3 0h0m3 0h0m3 0h0m2 0h0m4 0h0m3 0h0m-42 1h0m6 0h0m2 0h0m4 0h0m1 0h0m4 0h0m2 0h0m1 0h0m1 0h0m3 0h0m3 0h0m12 0h0m3 0h0m10 0h0m-59 1h0m19 0h0m1 0h0m4 0h0m5 0h0m2 0h0m2 0h0m5 0h0m1 0h0m2 0h0m3 0h0m2 0h0m-44 1h0m7 0h0m1 0h0m4 0h0m2 0h0m6 0h0m1 0h0m1 0h0m2 0h0m1 0h0m1 0h0m6 0h0m3 0h0m2 0h0m7 0h0m3 0h0m-27 1h0m1 0h0m1 0h0m2 0h0m1 0h0m5 0h0m1 0h0m6 0h0m8 0h0m-48 1h0m9 0h0m1 0h0m8 0h0m2 0h0m1 0h0m1 0h0m3 0h0m3 0h0m2 0h0m3 0h0m6 0h0m13 0h0m-43 1h0m8 0h0m3 0h0m7 0h0m4 0h0m2 0h0m1 0h0m1 0h0m4 0h0m2 0h0m-31 1h0m7 0h0m4 0h0m3 0h0m8 0h0m1 0h0m2 0h0m5 0h0m6 0h0m-32 1h0m2 0h0m7 0h0m2 0h0m6 0h0m-29 1h0m22 0h0m1 0h0m2 0h0m5 0h0m6 0h0m-14 1h0m4 0h0m2 0h0m4 0h0m8 0h0m-11 1h0m8 0h0m-24 1h0m8 0h0m5 0h0m1 0h0m3 0h0m1 0h0m1 0h0m-18 1h0m2 0h0m10 0h0m1 0h0m10 0h0m1 0h0m5 0h0m3 0h0m-17 1h0m1 0h0m-20 1h0m9 0h0m10 0h0m-13 1h0m13 0h0m7 0h0m-2 1h0m6 0h0m3 0h0m-24 1h0m18 0h0" stroke="#0000ff" stroke-width="2.3" stroke-linecap="round" fill="none"/>
<path d="M547 292h0m11 3h0m-52 1h0m19 0h0m24 0h0m1 1h0m-32 1h0m33 0h0m-27 1h0m12 0h0m6 0h0m5 0h0m-13 1h0m6 0h0m-28 1h0m8 0h0m10 0h0m5 0h0m1 0h0m1 0h0m10 0h0m-25 1h0m11 0h0m4 0h0m2 0h0m8 0h0m1 0h0m2 0h0m1 0h0m-26 1h0m10 0h0m2 0h0m4 0h0m1 0h0m-18 1h0m1 0h0m13 0h0m2 0h0m7 0h0m-24 1h0m4 0h0m4 0h0m1 0h0m16 0h0m6 0h0m-32 1h0m4 0h0m3 0h0m1 0h0m2 0h0m2 0h0m2 0h0m1 0h0m1 0h0m-22 1h0m4 0h0m6 0h0m3 0h0m1 0h0m2 0h0m3 0h0m5 0h0m1 0h0m2 0h0m11 0h0m-38 1h0m13 0h0m3 0h0m1 0h0m1 0h0m1 0h0m1 0h0m1 0h0m3 0h0m2 0h0m2 0h0m1 0h0m2 0h0m-32 1h0m1 0h0m1 0h0m1 0h0m4 0h0m1 0h0m1 0h0m1 0h0m4 0h0m1 0h0m5 0h0m1 0h0m4 0h0m2 0h0m7 0h0m9 0h0m-48 1h0m9 0h0m1 0h0m3 0h0m1 0h0m4 0h0m1 0h0m1 0h0m1 0h0m1 0h0m5 0h0m2 0h0m6 0h0m1 0h0m2 0h0m5 0h0m7 0h0m-56 1h0m11 0h0m5 0h0m1 0h0m1 0h0m3 0h0m1 0h0m3 0h0m1 0h0m1 0h0m1 0h0m1 0h0m2 0h0m1 0h0m1 0h0m1 0h0m1 0h0m1 0h0m3 0h0m12 0h0m-47 1h0m5 0h0m4 0h0m1 0h0m1 0h0m1 0h0m2 0h0m1 0h0m1 0h0m1 0h0m2 0h0m1 0h0m1 0h0m1 0h0m3 0h0m1 0h0m2 0h0m1 0h0m2 0h0m1 0h0m1 0h0m1 0h0m2 0h0m8 0h0m-40 1h0m5 0h0m4 0h0m2 0h0m1 0h0m1 0h0m1 0h0m1 0h0m2 0h0m1 0h0m1 0h0m1 0h0m1 0h0m2 0h0m1 0h0m2 0h0m2 0h0m1 0h0m1 0h0m1 0h0m4 0h0m7 0h0m-46 1h0m1 0h0m3 0h0m1 0h0m2 0h0m1 0h0m3 0h0m2 0h0m1 0h0m1 0h0m1 0h0m1 0h0m3 0h0m1 0h0m1 0h0m1 0h0m1 0h0m2 0h0m1 0h0m1 0h0m2 0h0m1 0h0m4 0h0m4 0h0m-48 1h0m1 0h0m6 0h0m6 0h0m5 0h0m1 0h0m1 0h0m2 0h0m3 0h0m3 0h0m1 0h0m3 0h0m1 0h0m1 0h0m1 0h0m1 0h0m1 0h0m1 0h0m1 0h0m3 0h0m1 0h0m1 0h0m2 0h0m-51 1h0m18 0h0m1 0h0m1 0h0m4 0h0m1 0h0m3 0h0m2 0h0m1 0h0m1 0h0m1 0h0m1 0h0m1 0h0m2 0h0m1 0h0m1 0h0m1 0h0m1 0h0m1 0h0m2 0h0m3 0h0m2 0h0m1 0h0m8 0h0m6 0h0m-53 1h0m1 0h0m1 0h0m2 0h0m1 0h0m2 0h0m1 0h0m2 0h0m1 0h0m1 0h0m1 0h0m2 0h0m1 0h0m1 0h0m3 0h0m1 0h0m1 0h0m1 0h0m1 0h0m1 0h0m1 0h0m1 0h0m1 0h0m1 0h0m1 0h0m1 0h0m1 0h0m1 0h0m2 0h0m-36 1h0m3 0h0m4 0h0m4 0h0m1 0h0m1 0h0m2 0h0m3 0h0m1 0h0m1 0h0m1 0h0m1 0h0m1 0h0m1 0h0m1 0h0m4 0h0m1 0h0m1 0h0m2 0h0m1 0h0m1 0h0m1 0h0m1 0h0m2 0h0m4 0h0m1 0h0m1 0h0m-43 1h0m1 0h0m4 0h0m1 0h0m1 0h0m1 0h0m1 0h0m1 0h0m1 0h0m1 0h0m1 0h0m1 0h0m2 0h0m1 0h0m1 0h0m1 0h0m1 0h0m1 0h0m1 0h0m1 0h0m1 0h0m1 0h0m2 0h0m1 0h0m2 0h0m1 0h0m7 0h0m17 0h0m-59 1h0m2 0h0m2 0h0m3 0h0m2 0h0m4 0h0m1 0h0m1 0h0m1 0h0m1 0h0m1 0h0m1 0h0m1 0h0m1 0h0m1 0h0m1 0h0m1 0h0m1 0h0m1 0h0m2 0h0m1 0h0m1 0h0m1 0h0m1 0h0m1 0h0m1 0h0m4 0h0m1 0h0m2 0h0m-44 1h0m5 0h0m3 0h0m1 0h0m1 0h0m1 0h0m1 0h0m1 0h0m1 0h0m2 0h0m2 0h0m2 0h0m1 0h0m1 0h0m1 0h0m1 0h0m1 0h0m1 0h0m1 0h0m1 0h0m1 0h0m4 0h0m2 0h0m1 0h0m13 0h0m2 0h0m-51 1h0m2 0h0m1 0h0m2 0h0m2 0h0m1 0h0m2 0h0m4 0h0m1 0h0m1 0h0m1 0h0m1 0h0m1 0h0m1 0h0m1 0h0m1 0h0m1 0h0m1 0h0m1 0h0m1 0h0m2 0h0m1 0h0m1 0h0m1 0h0m3 0h0m3 0h0m1 0h0m7 0h0m11 0h0m-52 1h0m6 0h0m1 0h0m2 0h0m1 0h0m2 0h0m1 0h0m2 0h0m1 0h0m1 0h0m1 0h0m1 0h0m1 0h0m1 0h0m1 0h0m1 0h0m1 0h0m1 0h0m2 0h0m2 0h0m1 0h0m1 0h0m2 0h0m2 0h0m1 0h0m1 0h0m1 0h0m2 0h0m1 0h0m2 0h0m-49 1h0m3 0h0m1 0h0m4 0h0m1 0h0m1 0h0m2 0h0m1 0h0m1 0h0m2 0h0m1 0h0m1 0h0m1 0h0m2 0h0m1 0h0m2 0h0m1 0h0m1 0h0m1 0h0m1 0h0m1 0h0m1 0h0m1 0h0m1 0h0m1 0h0m2 0h0m3 0h0m8 0h0m-43 1h0m9 0h0m1 0h0m1 0h0m1 0h0m1 0h0m1 0h0m1 0h0m3 0h0m1 0h0m1 0h0m1 0h0m1 0h0m1 0h0m2 0h0m1 0h0m1 0h0m2 0h0m1 0h0m1 0h0m2 0h0m6 0h0m1 0h0m-44 1h0m3 0h0m2 0h0m2 0h0m3 0h0m1 0h0m2 0h0m1 0h0m1 0h0m1 0h0m1 0h0m3 0h0m3 0h0m1 0h0m1 0h0m5 0h0m1 0h0m1 0h0m2 0h0m1 0h0m1 0h0m1 0h0m2 0h0m7 0h0m-48 1h0m12 0h0m1 0h0m2 0h0m1 0h0m1 0h0m1 0h0m1 0h0m1 0h0m1 0h0m1 0h0m1 0h0m1 0h0m2 0h0m2 0h0m1 0h0m1 0h0m2 0h0m1 0h0m1 0h0m1 0h0m4 0h0m1 0h0m1 0h0m-36 1h0m3 0h0m4 0h0m2 0h0m2 0h0m1 0h0m1 0h0m1 0h0m1 0h0m2 0h0m1 0h0m1 0h0m1 0h0m1 0h0m1 0h0m2 0h0m3 0h0m1 0h0m2 0h0m1 0h0m1 0h0m6 0h0m-44 1h0m3 0h0m7 0h0m1 0h0m5 0h0m2 0h0m2 0h0m1 0h0m4 0h0m1 0h0m1 0h0m1 0h0m2 0h0m2 0h0m2 0h0m1 0h0m2 0h0m2 0h0m-23 1h0m6 0h0m3 0h0m1 0h0m1 0h0m17 0h0m-30 1h0m1 0h0m1 0h0m1 0h0m1 0h0m1 0h0m3 0h0m3 0h0m1 0h0m5 0h0m9 0h0m-35 1h0m6 0h0m2 0h0m3 0h0m3 0h0m3 0h0m2 0h0m2 0h0m2 0h0m-18 1h0m4 0h0m1 0h0m7 0h0m2 0h0m4 0h0m1 0h0m5 0h0m-29 1h0m8 0h0m7 0h0m8 0h0m3 0h0m8 0h0m-29 1h0m1 0h0m7 0h0m2 0h0m3 0h0m4 0h0m-16 1h0m2 0h0m1 0h0m1 0h0m2 0h0m3 0h0m2 0h0m1 0h0m-15 1h0m2 0h0m16 0h0m8 0h0m-35 1h0m9 0h0m7 1h0m3 0h0m1 0h0m5 0h0m-12 1h0m-2 2h0m-1 1h0m24 0h0m-19 4h0m17 0h0m-1 1h0" stroke="#0000ff" stroke-width="2.3" stroke-linecap="round" fill="none"/>
<path d="M635 292h0m-40 2h0m22 5h0m-20 2h0m20 1h0m25 0h0m-19 1h0m-25 1h0m14 0h0m4 0h0m11 0h0m-6 1h0m8 0h0m2 0h0m-28 1h0m18 0h0m-15 1h0m9 0h0m-11 1h0m3 0h0m2 0h0m3 0h0m10 0h0m-23 1h0m12 0h0m1 0h0m2 0h0m2 0h0m14 0h0m5 0h0m-47 1h0m16 0h0m9 0h0m1 0h0m1 0h0m1 0h0m3 0h0m1 0h0m2 0h0m9 0h0m4 0h0m-38 1h0m14 0h0m5 0h0m5 0h0m5 0h0m3 0h0m4 0h0m-24 1h0m4 0h0m3 0h0m4 0h0m3 0h0m4 0h0m-38 1h0m15 0h0m6 0h0m8 0h0m2 0h0m7 0h0m2 0h0m2 0h0m3 0h0m4 0h0m-35 1h0m3 0h0m1 0h0m5 0h0m2 0h0m1 0h0m1 0h0m8 0h0m6 0h0m-40 1h0m8 0h0m8 0h0m3 0h0m3 0h0m1 0h0m3 0h0m2 0h0m2 0h0m1 0h0m1 0h0m5 0h0m3 0h0m2 0h0m10 0h0m-47 1h0m4 0h0m3 0h0m11 0h0m3 0h0m2 0h0m1 0h0m1 0h0m2 0h0m6 0h0m1 0h0m1 0h0m3 0h0m-34 1h0m3 0h0m1 0h0m1 0h0m1 0h0m1 0h0m2 0h0m1 0h0m1 0h0m4 0h0m1 0h0m2 0h0m1 0h0m1 0h0m1 0h0m3 0h0m1 0h0m1 0h0m1 0h0m-26 1h0m2 0h0m1 0h0m2 0h0m5 0h0m2 0h0m1 0h0m1 0h0m2 0h0m1 0h0m2 0h0m1 0h0m5 0h0m4 0h0m-38 1h0m9 0h0m2 0h0m1 0h0m3 0h0m2 0h0m3 0h0m1 0h0m2 0h0m1 0h0m2 0h0m3 0h0m4 0h0m1 0h0m1 0h0m1 0h0m1 0h0m11 0h0m-38 1h0m1 0h0m1 0h0m1 0h0m1 0h0m1 0h0m3 0h0m1 0h0m1 0h0m2 0h0m2 0h0m1 0h0m1 0h0m1 0h0m1 0h0m3 0h0m2 0h0m3 0h0m1 0h0m1 0h0m1 0h0m6 0h0m11 0h0m-52 1h0m4 0h0m1 0h0m3 0h0m1 0h0m1 0h0m1 0h0m1 0h0m1 0h0m1 0h0m1 0h0m5 0h0m9 0h0m2 0h0m-42 1h0m12 0h0m3 0h0m1 0h0m3 0h0m1 0h0m1 0h0m2 0h0m1 0h0m1 0h0m1 0h0m1 0h0m1 0h0m1 0h0m1 0h0m2 0h0m1 0h0m2 0h0m2 0h0m2 0h0m5 0h0m9 0h0m-51 1h0m1 0h0m5 0h0m1 0h0m5 0h0m4 0h0m2 0h0m2 0h0m1 0h0m1 0h0m2 0h0m2 0h0m1 0h0m1 0h0m1 0h0m1 0h0m1 0h0m5 0h0m1 0h0m2 0h0m2 0h0m2 0h0m16 0h0m-52 1h0m1 0h0m6 0h0m1 0h0m2 0h0m1 0h0m2 0h0m2 0h0m1 0h0m3 0h0m1 0h0m1 0h0m2 0h0m2 0h0m2 0h0m1 0h0m-29 1h0m1 0h0m1 0h0m5 0h0m1 0h0m3 0h0m1 0h0m2 0h0m1 0h0m1 0h0m1 0h0m1 0h0m1 0h0m1 0h0m1 0h0m1 0h0m2 0h0m1 0h0m1 0h0m3 0h0m2 0h0m1 0h0m2 0h0m2 0h0m-39 1h0m11 0h0m1 0h0m2 0h0m1 0h0m2 0h0m1 0h0m1 0h0m1 0h0m1 0h0m1 0h0m2 0h0m2 0h0m1 0h0m1 0h0m1 0h0m2 0h0m4 0h0m3 0h0m7 0h0m-40 1h0m2 0h0m1 0h0m1 0h0m1 0h0m1 0h0m1 0h0m2 0h0m2 0h0m2 0h0m1 0h0m1 0h0m1 0h0m2 0h0m1 0h0m2 0h0m1 0h0m1 0h0m1 0h0m1 0h0m2 0h0m1 0h0m4 0h0m1 0h0m2 0h0m2 0h0m-47 1h0m5 0h0m5 0h0m2 0h0m2 0h0m1 0h0m1 0h0m1 0h0m1 0h0m3 0h0m2 0h0m1 0h0m1 0h0m1 0h0m2 0h0m1 0h0m1 0h0m1 0h0m1 0h0m1 0h0m1 0h0m1 0h0m1 0h0m1 0h0m6 0h0m1 0h0m1 0h0m9 0h0m-52 1h0m1 0h0m7 0h0m1 0h0m5 0h0m1 0h0m1 0h0m1 0h0m1 0h0m2 0h0m1 0h0m1 0h0m3 0h0m2 0h0m1 0h0m1 0h0m1 0h0m1 0h0m3 0h0m2 0h0m3 0h0m5 0h0m3 0h0m-35 1h0m1 0h0m1 0h0m1 0h0m3 0h0m1 0h0m2 0h0m1 0h0m1 0h0m1 0h0m2 0h0m2 0h0m1 0h0m1 0h0m2 0h0m3 0h0m1 0h0m1 0h0m1 0h0m1 0h0m2 0h0m2 0h0m-43 1h0m3 0h0m5 0h0m1 0h0m1 0h0m4 0h0m3 0h0m2 0h0m1 0h0m1 0h0m1 0h0m1 0h0m1 0h0m1 0h0m1 0h0m2 0h0m2 0h0m1 0h0m1 0h0m2 0h0m6 0h0m1 0h0m-42 1h0m5 0h0m2 0h0m2 0h0m1 0h0m3 0h0m1 0h0m1 0h0m1 0h0m1 0h0m2 0h0m3 0h0m1 0h0m1 0h0m1 0h0m1 0h0m2 0h0m4 0h0m1 0h0m3 0h0m1 0h0m2 0h0m-45 1h0m5 0h0m13 0h0m1 0h0m1 0h0m1 0h0m1 0h0m1 0h0m2 0h0m1 0h0m2 0h0m1 0h0m1 0h0m1 0h0m1 0h0m3 0h0m1 0h0m1 0h0m3 0h0m1 0h0m2 0h0m1 0h0m1 0h0m11 0h0m-53 1h0m11 0h0m6 0h0m1 0h0m1 0h0m1 0h0m1 0h0m2 0h0m1 0h0m1 0h0m1 0h0m2 0h0m4 0h0m2 0h0m1 0h0m1 0h0m2 0h0m1 0h0m4 0h0m2 0h0m1 0h0m1 0h0m10 0h0m-58 1h0m4 0h0m2 0h0m1 0h0m2 0h0m5 0h0m2 0h0m3 0h0m1 0h0m2 0h0m1 0h0m1 0h0m1 0h0m1 0h0m1 0h0m2 0h0m1 0h0m1 0h0m1 0h0m1 0h0m1 0h0m1 0h0m4 0h0m1 0h0m5 0h0m-39 1h0m1 0h0m6 0h0m3 0h0m1 0h0m2 0h0m1 0h0m1 0h0m1 0h0m1 0h0m1 0h0m3 0h0m1 0h0m2 0h0m1 0h0m1 0h0m1 0h0m1 0h0m1 0h0m1 0h0m6 0h0m2 0h0m-45 1h0m5 0h0m2 0h0m1 0h0m1 0h0m1 0h0m4 0h0m3 0h0m1 0h0m1 0h0m2 0h0m1 0h0m2 0h0m2 0h0m2 0h0m1 0h0m2 0h0m1 0h0m1 0h0m1 0h0m3 0h0m2 0h0m5 0h0m1 0h0m-40 1h0m1 0h0m1 0h0m1 0h0m3 0h0m2 0h0m4 0h0m2 0h0m1 0h0m1 0h0m1 0h0m1 0h0m2 0h0m1 0h0m1 0h0m6 0h0m2 0h0m2 0h0m1 0h0m1 0h0m1 0h0m4 0h0m5 0h0m-52 1h0m13 0h0m2 0h0m2 0h0m1 0h0m1 0h0m3 0h0m2 0h0m2 0h0m3 0h0m1 0h0m2 0h0m2 0h0m6 0h0m1 0h0m-31 1h0m10 0h0m1 0h0m2 0h0m1 0h0m1 0h0m1 0h0m1 0h0m3 0h0m1 0h0m2 0h0m1 0h0m7 0h0m1 0h0m4 0h0m2 0h0m1 0h0m-44 1h0m1 0h0m9 0h0m4 0h0m2 0h0m2 0h0m3 0h0m2 0h0m1 0h0m3 0h0m1 0h0m4 0h0m17 0h0m-45 1h0m3 0h0m1 0h0m2 0h0m2 0h0m1 0h0m5 0h0m1 0h0m4 0h0m7 0h0m5 0h0m22 0h0m-53 1h0m4 0h0m1 0h0m1 0h0m4 0h0m3 0h0m1 0h0m1 0h0m1 0h0m1 0h0m3 0h0m10 0h0m3 0h0m2 0h0m-38 1h0m3 0h0m7 0h0m3 0h0m4 0h0m1 0h0m1 0h0m16 0h0m3 0h0m-35 1h0m7 0h0m9 0h0m2 0h0m5 0h0m3 0h0m1 0h0m3 0h0m1 0h0m-28 1h0m1 0h0m4 0h0m1 0h0m1 0h0m4 0h0m8 0h0m8 0h0m3 0h0m-34 1h0m7 0h0m1 0h0m5 0h0m2 0h0m4 0h0m2 0h0m5 0h0m2 0h0m6 0h0m-33 1h0m1 0h0m12 0h0m6 0h0m1 0h0m2 0h0m1 0h0m4 0h0m-26 1h0m0 1h0m9 0h0m7 0h0m6 0h0m16 0h0m-41 1h0m9 0h0m3 0h0m13 0h0m-20 1h0m5 0h0m2 0h0m14 0h0m2 0h0m19 0h0m-40 1h0m12 0h0m1 0h0m-22 1h0m19 0h0m-15 1h0m4 0h0m-15 2h0m27 0h0m13 0h0m-37 1h0m22 0h0m-22 2h0m24 3h0m-22 1h0" stroke="#0000ff" stroke-width="2.3" stroke-linecap="round" fill="none"/>
<path d="M705 291h0m-14 3h0m8 0h0m18 0h0m-15 1h0m-9 1h0m5 0h0m18 0h0m-26 2h0m14 0h0m4 0h0m-19 1h0m11 0h0m4 0h0m10 0h0m19 0h0m-55 1h0m23 0h0m2 1h0m6 0h0m3 0h0m3 0h0m1 0h0m-19 1h0m1 0h0m4 0h0m3 0h0m-16 1h0m9 0h0m8 0h0m4 0h0m7 0h0m13 0h0m-43 2h0m9 0h0m8 0h0m4 0h0m2 0h0m-18 1h0m4 0h0m2 0h0m5 0h0m3 0h0m1 0h0m2 0h0m2 0h0m-20 1h0m7 0h0m3 0h0m2 0h0m3 0h0m-13 1h0m2 0h0m1 0h0m3 0h0m2 0h0m6 0h0m5 0h0m1 0h0m-35 1h0m7 0h0m10 0h0m5 0h0m3 0h0m4 0h0m4 0h0m5 0h0m2 0h0m-30 1h0m3 0h0m5 0h0m2 0h0m3 0h0m2 0h0m2 0h0m1 0h0m3 0h0m-31 1h0m1 0h0m10 0h0m4 0h0m1 0h0m1 0h0m2 0h0m2 0h0m2 0h0m1 0h0m3 0h0m-34 1h0m12 0h0m1 0h0m2 0h0m5 0h0m7 0h0m1 0h0m2 0h0m2 0h0m1 0h0m1 0h0m1 0h0m1 0h0m4 0h0m2 0h0m-38 1h0m14 0h0m1 0h0m7 0h0m2 0h0m1 0h0m1 0h0m1 0h0m2 0h0m2 0h0m2 0h0m2 0h0m2 0h0m4 0h0m-33 1h0m2 0h0m5 0h0m3 0h0m1 0h0m5 0h0m2 0h0m4 0h0m5 0h0m2 0h0m-36 1h0m7 0h0m4 0h0m5 0h0m1 0h0m3 0h0m6 0h0m2 0h0m1 0h0m1 0h0m3 0h0m4 0h0m-31 1h0m1 0h0m5 0h0m1 0h0m4 0h0m1 0h0m2 0h0m1 0h0m1 0h0m2 0h0m1 0h0m3 0h0m1 0h0m3 0h0m1 0h0m1 0h0m1 0h0m2 0h0m8 0h0m-42 1h0m7 0h0m1 0h0m1 0h0m3 0h0m2 0h0m1 0h0m4 0h0m1 0h0m1 0h0m1 0h0m1 0h0m3 0h0m1 0h0m2 0h0m1 0h0m2 0h0m1 0h0m5 0h0m-42 1h0m6 0h0m4 0h0m3 0h0m4 0h0m1 0h0m1 0h0m1 0h0m1 0h0m3 0h0m2 0h0m1 0h0m3 0h0m3 0h0m7 0h0m2 0h0m-35 1h0m1 0h0m5 0h0m2 0h0m1 0h0m2 0h0m1 0h0m2 0h0m1 0h0m3 0h0m4 0h0m5 0h0m2 0h0m1 0h0m2 0h0m2 0h0m-39 1h0m1 0h0m2 0h0m2 0h0m1 0h0m1 0h0m1 0h0m5 0h0m2 0h0m2 0h0m1 0h0m1 0h0m3 0h0m1 0h0m2 0h0m1 0h0m1 0h0m1 0h0m1 0h0m1 0h0m2 0h0m2 0h0m-27 1h0m2 0h0m1 0h0m2 0h0m2 0h0m1 0h0m3 0h0m1 0h0m1 0h0m1 0h0m4 0h0m1 0h0m2 0h0m1 0h0m3 0h0m1 0h0m15 0h0m-50 1h0m6 0h0m1 0h0m1 0h0m3 0h0m1 0h0m1 0h0m2 0h0m2 0h0m1 0h0m1 0h0m1 0h0m3 0h0m3 0h0m1 0h0m2 0h0m1 0h0m1 0h0m2 0h0m4 0h0m2 0h0m1 0h0m-34 1h0m4 0h0m2 0h0m2 0h0m2 0h0m1 0h0m1 0h0m1 0h0m1 0h0m2 0h0m1 0h0m4 0h0m3 0h0m1 0h0m1 0h0m2 0h0m6 0h0m8 0h0m-43 1h0m2 0h0m1 0h0m2 0h0m1 0h0m3 0h0m1 0h0m4 0h0m3 0h0m1 0h0m2 0h0m3 0h0m1 0h0m1 0h0m2 0h0m3 0h0m8 0h0m1 0h0m7 0h0m-47 1h0m3 0h0m1 0h0m2 0h0m2 0h0m1 0h0m1 0h0m3 0h0m2 0h0m1 0h0m1 0h0m1 0h0m1 0h0m1 0h0m1 0h0m3 0h0m2 0h0m4 0h0m1 0h0m1 0h0m1 0h0m1 0h0m-33 1h0m3 0h0m1 0h0m1 0h0m2 0h0m5 0h0m2 0h0m2 0h0m1 0h0m1 0h0m2 0h0m1 0h0m1 0h0m2 0h0m1 0h0m2 0h0m1 0h0m1 0h0m17 0h0m-52 1h0m4 0h0m6 0h0m2 0h0m1 0h0m3 0h0m1 0h0m1 0h0m1 0h0m2 0h0m1 0h0m1 0h0m1 0h0m2 0h0m2 0h0m1 0h0m1 0h0m2 0h0m1 0h0m2 0h0m2 0h0m1 0h0m1 0h0m6 0h0m-41 1h0m1 0h0m7 0h0m1 0h0m1 0h0m1 0h0m1 0h0m1 0h0m1 0h0m1 0h0m1 0h0m1 0h0m1 0h0m1 0h0m1 0h0m1 0h0m2 0h0m1 0h0m1 0h0m2 0h0m1 0h0m2 0h0m1 0h0m2 0h0m-34 1h0m8 0h0m1 0h0m3 0h0m1 0h0m2 0h0m1 0h0m4 0h0m1 0h0m1 0h0m1 0h0m1 0h0m1 0h0m2 0h0m1 0h0m6 0h0m5 0h0m2 0h0m-48 1h0m2 0h0m5 0h0m1 0h0m2 0h0m2 0h0m2 0h0m2 0h0m1 0h0m1 0h0m3 0h0m1 0h0m1 0h0m5 0h0m1 0h0m1 0h0m2 0h0m3 0h0m1 0h0m2 0h0m2 0h0m1 0h0m1 0h0m3 0h0m1 0h0m-41 1h0m6 0h0m2 0h0m1 0h0m2 0h0m2 0h0m3 0h0m2 0h0m5 0h0m1 0h0m2 0h0m11 0h0m2 0h0m-40 1h0m6 0h0m1 0h0m1 0h0m1 0h0m2 0h0m3 0h0m1 0h0m1 0h0m1 0h0m2 0h0m1 0h0m2 0h0m1 0h0m1 0h0m1 0h0m2 0h0m1 0h0m2 0h0m3 0h0m4 0h0m1 0h0m3 0h0m-36 1h0m2 0h0m1 0h0m3 0h0m2 0h0m5 0h0m3 0h0m1 0h0m1 0h0m1 0h0m1 0h0m3 0h0m1 0h0m1 0h0m2 0h0m13 0h0m-44 1h0m2 0h0m5 0h0m1 0h0m1 0h0m2 0h0m2 0h0m1 0h0m3 0h0m1 0h0m4 0h0m2 0h0m2 0h0m2 0h0m1 0h0m2 0h0m1 0h0m1 0h0m4 0h0m1 0h0m1 0h0m-42 1h0m2 0h0m4 0h0m1 0h0m2 0h0m2 0h0m1 0h0m3 0h0m3 0h0m3 0h0m4 0h0m3 0h0m1 0h0m1 0h0m1 0h0m8 0h0m1 0h0m2 0h0m3 0h0m-41 1h0m1 0h0m5 0h0m1 0h0m2 0h0m3 0h0m1 0h0m1 0h0m1 0h0m1 0h0m1 0h0m1 0h0m1 0h0m1 0h0m1 0h0m2 0h0m2 0h0m1 0h0m1 0h0m16 0h0m-44 1h0m7 0h0m1 0h0m1 0h0m4 0h0m1 0h0m4 0h0m1 0h0m1 0h0m1 0h0m1 0h0m1 0h0m6 0h0m5 0h0m3 0h0m2 0h0m-39 1h0m3 0h0m1 0h0m3 0h0m2 0h0m8 0h0m1 0h0m2 0h0m2 0h0m1 0h0m1 0h0m1 0h0m7 0h0m2 0h0m3 0h0m-49 1h0m11 0h0m2 0h0m1 0h0m1 0h0m2 0h0m4 0h0m1 0h0m2 0h0m1 0h0m4 0h0m2 0h0m1 0h0m1 0h0m1 0h0m3 0h0m2 0h0m-31 1h0m5 0h0m1 0h0m6 0h0m2 0h0m3 0h0m1 0h0m5 0h0m3 0h0m2 0h0m1 0h0m3 0h0m1 0h0m1 0h0m1 0h0m2 0h0m-27 1h0m1 0h0m5 0h0m1 0h0m1 0h0m2 0h0m1 0h0m3 0h0m2 0h0m3 0h0m10 0h0m-39 1h0m21 0h0m3 0h0m4 0h0m1 0h0m2 0h0m3 0h0m3 0h0m-30 1h0m6 0h0m2 0h0m3 0h0m2 0h0m2 0h0m2 0h0m1 0h0m3 0h0m3 0h0m2 0h0m-38 1h0m14 0h0m2 0h0m6 0h0m7 0h0m20 0h0m2 0h0m-31 1h0m1 0h0m1 0h0m4 0h0m3 0h0m8 0h0m2 0h0m1 0h0m-27 1h0m5 0h0m4 0h0m2 0h0m1 0h0m1 0h0m3 0h0m-36 1h0m18 0h0m4 0h0m9 0h0m3 0h0m1 0h0m1 0h0m2 0h0m2 0h0m6 0h0m8 0h0m-31 1h0m6 0h0m1 0h0m8 0h0m1 0h0m1 0h0m7 0h0m5 0h0m5 0h0m-37 1h0m3 0h0m5 0h0m5 0h0m3 0h0m8 0h0m1 0h0m-29 1h0m7 0h0m5 0h0m4 0h0m8 0h0m8 0h0m-42 1h0m5 0h0m5 0h0m2 0h0m4 0h0m1 0h0m3 0h0m4 0h0m4 0h0m13 0h0m-28 1h0m22 0h0m-19 1h0m2 0h0m2 0h0m1 0h0m1 0h0m-12 1h0m10 0h0m13 0h0m8 0h0m-18 1h0m-9 1h0m18 0h0m-25 1h0m19 0h0m3 0h0m3 0h0m4 0h0m-22 1h0m7 0h0m12 0h0m-34 1h0m16 0h0m4 0h0m2 1h0m11 0h0m-22 1h0m16 0h0" stroke="#0000ff" stroke-width="2.3" stroke-linecap="round" fill="none"/>
<line x1="44.1" y1="45.8" x2="44.1" y2="370.1" stroke="#000" stroke-width="3.2"/>
<line x1="130.5" y1="45.8" x2="130.5" y2="370.1" stroke="#000" stroke-width="3.2"/>
<line x1="216.8" y1="45.8" x2="216.8" y2="370.1" stroke="#000" stroke-width="3.2"/>
<line x1="303.6" y1="45.8" x2="303.6" y2="370.1" stroke="#000" stroke-width="3.2"/>
<line x1="390.5" y1="45.8" x2="390.5" y2="370.1" stroke="#000" stroke-width="3.2"/>
<line x1="477.5" y1="45.8" x2="477.5" y2="370.1" stroke="#000" stroke-width="3.2"/>
<line x1="564.5" y1="45.8" x2="564.5" y2="370.1" stroke="#000" stroke-width="3.2"/>
<line x1="651.6" y1="45.8" x2="651.6" y2="370.1" stroke="#000" stroke-width="3.2"/>
<line x1="738.6" y1="45.8" x2="738.6" y2="370.1" stroke="#000" stroke-width="3.2"/>
<line x1="42.5" y1="47.4" x2="740.2" y2="47.4" stroke="#000" stroke-width="3.2"/>
<line x1="42.5" y1="127.5" x2="740.2" y2="127.5" stroke="#000" stroke-width="3.2"/>
<line x1="42.5" y1="208" x2="740.2" y2="208" stroke="#000" stroke-width="3.2"/>
<line x1="42.5" y1="288.4" x2="740.2" y2="288.4" stroke="#000" stroke-width="3.2"/>
<line x1="42.5" y1="368.5" x2="740.2" y2="368.5" stroke="#000" stroke-width="3.2"/>
<text x="213.5" y="394" font-size="20" font-weight="bold">Relative expression of GABPB1 (log<tspan font-size="14" dy="2">2</tspan><tspan dy="-2">)</tspan></text>
<text transform="translate(18.3 338.5) rotate(-90)" font-size="20" font-weight="bold">Relative expression (log<tspan font-size="14" dy="2">2</tspan><tspan dy="-2">)</tspan></text>
<text x="798.8" y="22.8" font-size="32">B</text>
<text x="973.5" y="43.6" font-size="20.2" text-anchor="middle">A549</text>
<line x1="873.7" y1="58.4" x2="1067.7" y2="58.4" stroke="#222" stroke-width="1.5"/>
<text transform="translate(904.9 204.7) rotate(-90)" font-size="20">shControl</text>
<text transform="translate(951.5 204.7) rotate(-90)" font-size="20">sh<tspan font-style="italic">GABPB1</tspan>-#1</text>
<text transform="translate(1000.6 204.7) rotate(-90)" font-size="20">sh<tspan font-style="italic">GABPB1</tspan>-#2</text>
<text transform="translate(1047.4 204.7) rotate(-90)" font-size="20">sh<tspan font-style="italic">GABPB1</tspan>-#3</text>
<rect x="874.4" y="215.2" width="193.3" height="43.9" fill="#d9d9d9" stroke="none" stroke-width="0" />
<rect x="882.9" y="228.9" width="34.5" height="14.5" rx="7.2" fill="#000" fill-opacity="1.00" filter="url(#bl2)"/>
<rect x="929" y="234.8" width="32" height="8.5" rx="4.2" fill="#000" fill-opacity="1.00" filter="url(#bl2)"/>
<rect x="973.2" y="237.5" width="37" height="8" rx="4" fill="#000" fill-opacity="1.00" filter="url(#bl2)"/>
<rect x="972.5" y="236.2" width="17" height="11" rx="4.2" fill="#000" fill-opacity="1.00" filter="url(#bl2)"/>
<rect x="994" y="236" width="17" height="10" rx="4.2" fill="#000" fill-opacity="1.00" filter="url(#bl2)"/>
<rect x="1022" y="236.4" width="34" height="8.5" rx="4.2" fill="#000" fill-opacity="1.00" filter="url(#bl2)"/>
<rect x="875.7" y="216.5" width="190.7" height="41.3" fill="none" stroke="#fff" stroke-width="0.9" stroke-opacity="0.8"/>
<rect x="874.4" y="215.2" width="193.3" height="43.9" fill="none" stroke="#111" stroke-width="1.3" />
<rect x="874.4" y="275.4" width="193.3" height="43.9" fill="#e6e6e6" stroke="none" stroke-width="0" />
<rect x="890.5" y="291.2" width="45" height="12.5" rx="6.2" fill="#000" fill-opacity="1.00" filter="url(#bl2)"/>
<rect x="931" y="292" width="41" height="12" rx="6" fill="#000" fill-opacity="1.00" filter="url(#bl2)"/>
<rect x="968" y="292.2" width="43" height="12" rx="6" fill="#000" fill-opacity="1.00" filter="url(#bl2)"/>
<rect x="1008" y="290.8" width="45" height="12.5" rx="6.2" fill="#000" fill-opacity="1.00" filter="url(#bl2)"/>
<rect x="875.7" y="276.7" width="190.7" height="41.3" fill="none" stroke="#fff" stroke-width="0.9" stroke-opacity="0.8"/>
<rect x="874.4" y="275.4" width="193.3" height="43.9" fill="none" stroke="#111" stroke-width="1.3" />
<text x="791.9" y="241.9" font-size="17">GABPB1</text>
<text x="789" y="304.4" font-size="17.6">&#946;-ACTIN</text>
<line x1="1214.5" y1="64.3" x2="1214.5" y2="52.2" stroke="#000" stroke-width="1.4"/>
<line x1="1208.9" y1="52.2" x2="1220.1" y2="52.2" stroke="#000" stroke-width="1.4"/>
<rect x="1204.3" y="64.3" width="20.3" height="173.9" fill="#fff" stroke="#000" stroke-width="1.4" />
<line x1="1246.3" y1="151.3" x2="1246.3" y2="136.1" stroke="#000" stroke-width="1.4"/>
<line x1="1240.7" y1="136.1" x2="1251.9" y2="136.1" stroke="#000" stroke-width="1.4"/>
<rect x="1236.1" y="151.3" width="20.3" height="86.9" fill="#000080" stroke="#000" stroke-width="1.4" />
<line x1="1277.7" y1="128.5" x2="1277.7" y2="122.3" stroke="#000" stroke-width="1.4"/>
<line x1="1272.1" y1="122.3" x2="1283.3" y2="122.3" stroke="#000" stroke-width="1.4"/>
<rect x="1267.5" y="128.5" width="20.3" height="109.7" fill="#a00000" stroke="#000" stroke-width="1.4" />
<line x1="1309.5" y1="131.9" x2="1309.5" y2="127.8" stroke="#000" stroke-width="1.4"/>
<line x1="1303.9" y1="127.8" x2="1315.1" y2="127.8" stroke="#000" stroke-width="1.4"/>
<rect x="1299.3" y="131.9" width="20.3" height="106.3" fill="#000" stroke="#000" stroke-width="1.4" />
<rect x="1193.3" y="31.2" width="137.6" height="207" fill="none" stroke="#000" stroke-width="1.4" />
<line x1="1185.3" y1="238.2" x2="1193.3" y2="238.2" stroke="#000" stroke-width="1.4"/>
<text x="1182.5" y="243.7" font-size="15.6" text-anchor="end">0.0</text>
<line x1="1185.3" y1="169.2" x2="1193.3" y2="169.2" stroke="#000" stroke-width="1.4"/>
<text x="1182.5" y="174.7" font-size="15.6" text-anchor="end">0.5</text>
<line x1="1185.3" y1="100.2" x2="1193.3" y2="100.2" stroke="#000" stroke-width="1.4"/>
<text x="1182.5" y="105.7" font-size="15.6" text-anchor="end">1.0</text>
<line x1="1185.3" y1="31.2" x2="1193.3" y2="31.2" stroke="#000" stroke-width="1.4"/>
<text x="1182.5" y="36.7" font-size="15.6" text-anchor="end">1.5</text>
<line x1="1214.5" y1="238.2" x2="1214.5" y2="246.2" stroke="#000" stroke-width="1.4"/>
<line x1="1246.3" y1="238.2" x2="1246.3" y2="246.2" stroke="#000" stroke-width="1.4"/>
<line x1="1277.7" y1="238.2" x2="1277.7" y2="246.2" stroke="#000" stroke-width="1.4"/>
<line x1="1309.5" y1="238.2" x2="1309.5" y2="246.2" stroke="#000" stroke-width="1.4"/>
<text x="1247.4" y="132.5" font-size="25" text-anchor="middle" font-weight="bold" letter-spacing="2.2">**</text>
<text x="1278.8" y="119.8" font-size="25" text-anchor="middle" font-weight="bold" letter-spacing="2.2">**</text>
<text x="1310.6" y="127.2" font-size="25" text-anchor="middle" font-weight="bold" letter-spacing="2.2">***</text>
<text transform="translate(1131 135.5) rotate(-90)" font-size="16" text-anchor="middle" font-weight="bold">Relative GABPB1 protein level</text>
<text transform="translate(1151 135.5) rotate(-90)" font-size="16" text-anchor="middle" font-weight="bold">(fold .vs Actin)</text>
<text transform="translate(1220.5 261.5) rotate(-45)" font-size="16.3" text-anchor="end">shControl</text>
<text transform="translate(1252.3 261.5) rotate(-45)" font-size="15" text-anchor="end">sh<tspan font-style="italic">GABPB1</tspan>-#1</text>
<text transform="translate(1283.7 261.5) rotate(-45)" font-size="15" text-anchor="end">sh<tspan font-style="italic">GABPB1</tspan>-#2</text>
<text transform="translate(1315.5 261.5) rotate(-45)" font-size="15" text-anchor="end">sh<tspan font-style="italic">GABPB1</tspan>-#3</text>
<text x="1391.3" y="22.8" font-size="32">C</text>
<text x="1574" y="42.6" font-size="20.2" text-anchor="middle">H1299</text>
<line x1="1474.3" y1="59.1" x2="1667" y2="59.1" stroke="#222" stroke-width="1.5"/>
<text transform="translate(1501.5 206.3) rotate(-90)" font-size="20">shControl</text>
<text transform="translate(1551.7 206.3) rotate(-90)" font-size="20">sh<tspan font-style="italic">GABPB1</tspan>-#1</text>
<text transform="translate(1600.8 206.3) rotate(-90)" font-size="20">sh<tspan font-style="italic">GABPB1</tspan>-#2</text>
<text transform="translate(1648.7 206.3) rotate(-90)" font-size="20">sh<tspan font-style="italic">GABPB1</tspan>-#3</text>
<rect x="1474.8" y="215.9" width="192.9" height="43.2" fill="#dedede" stroke="none" stroke-width="0" />
<rect x="1479.3" y="240.2" width="32" height="8.5" rx="4.2" fill="#000" fill-opacity="1.00" filter="url(#bl2)"/>
<rect x="1480.3" y="245.5" width="30" height="5" rx="2.5" fill="#000" fill-opacity="0.50" filter="url(#bl3)"/>
<rect x="1527.3" y="237.5" width="33" height="7" rx="3.5" fill="#000" fill-opacity="0.65" filter="url(#bl3)"/>
<rect x="1576" y="233.2" width="34" height="8.5" rx="4.2" fill="#000" fill-opacity="0.85" filter="url(#bl3)"/>
<rect x="1624" y="232.2" width="34" height="7.5" rx="3.8" fill="#000" fill-opacity="0.55" filter="url(#bl3)"/>
<rect x="1476.1" y="217.2" width="190.3" height="40.6" fill="none" stroke="#fff" stroke-width="0.9" stroke-opacity="0.8"/>
<rect x="1474.8" y="215.9" width="192.9" height="43.2" fill="none" stroke="#111" stroke-width="1.3" />
<rect x="1474.8" y="276.1" width="192.9" height="43.3" fill="#e8e8e8" stroke="none" stroke-width="0" />
<rect x="1487" y="294" width="44" height="14" rx="7" fill="#000" fill-opacity="1.00" filter="url(#bl2)"/>
<rect x="1531" y="293.8" width="38" height="13.5" rx="6.8" fill="#000" fill-opacity="1.00" filter="url(#bl2)"/>
<rect x="1568" y="294.2" width="40" height="13.5" rx="6.8" fill="#000" fill-opacity="1.00" filter="url(#bl2)"/>
<rect x="1607" y="292.5" width="46" height="14" rx="7" fill="#000" fill-opacity="1.00" filter="url(#bl2)"/>
<rect x="1642" y="289.5" width="14" height="10" rx="3.5" fill="#000" fill-opacity="1.00" filter="url(#bl2)"/>
<rect x="1476.1" y="277.4" width="190.3" height="40.7" fill="none" stroke="#fff" stroke-width="0.9" stroke-opacity="0.8"/>
<rect x="1474.8" y="276.1" width="192.9" height="43.3" fill="none" stroke="#111" stroke-width="1.3" />
<text x="1392.3" y="246.4" font-size="17">GABPB1</text>
<text x="1390" y="305.5" font-size="17.6">&#946;-ACTIN</text>
<line x1="1845" y1="82.2" x2="1845" y2="68.1" stroke="#000" stroke-width="1.4"/>
<line x1="1839.3" y1="68.1" x2="1850.7" y2="68.1" stroke="#000" stroke-width="1.4"/>
<rect x="1834.7" y="82.2" width="20.7" height="151.5" fill="#fff" stroke="#000" stroke-width="1.4" />
<line x1="1877" y1="165" x2="1877" y2="155.9" stroke="#000" stroke-width="1.4"/>
<line x1="1871.3" y1="155.9" x2="1882.7" y2="155.9" stroke="#000" stroke-width="1.4"/>
<rect x="1866.7" y="165" width="20.7" height="68.7" fill="#000080" stroke="#000" stroke-width="1.4" />
<line x1="1909.4" y1="120.6" x2="1909.4" y2="108.5" stroke="#000" stroke-width="1.4"/>
<line x1="1903.7" y1="108.5" x2="1915.1" y2="108.5" stroke="#000" stroke-width="1.4"/>
<rect x="1899.1" y="120.6" width="20.7" height="113.1" fill="#a00000" stroke="#000" stroke-width="1.4" />
<line x1="1941.6" y1="144.8" x2="1941.6" y2="140.8" stroke="#000" stroke-width="1.4"/>
<line x1="1935.9" y1="140.8" x2="1947.3" y2="140.8" stroke="#000" stroke-width="1.4"/>
<rect x="1931.2" y="144.8" width="20.7" height="88.9" fill="#000" stroke="#000" stroke-width="1.4" />
<rect x="1823.8" y="31.7" width="139.8" height="202" fill="none" stroke="#000" stroke-width="1.4" />
<line x1="1815.8" y1="233.7" x2="1823.8" y2="233.7" stroke="#000" stroke-width="1.4"/>
<text x="1813" y="239.2" font-size="15.6" text-anchor="end">0.0</text>
<line x1="1815.8" y1="193.3" x2="1823.8" y2="193.3" stroke="#000" stroke-width="1.4"/>
<text x="1813" y="198.8" font-size="15.6" text-anchor="end">0.2</text>
<line x1="1815.8" y1="152.9" x2="1823.8" y2="152.9" stroke="#000" stroke-width="1.4"/>
<text x="1813" y="158.4" font-size="15.6" text-anchor="end">0.4</text>
<line x1="1815.8" y1="112.5" x2="1823.8" y2="112.5" stroke="#000" stroke-width="1.4"/>
<text x="1813" y="118" font-size="15.6" text-anchor="end">0.6</text>
<line x1="1815.8" y1="72.1" x2="1823.8" y2="72.1" stroke="#000" stroke-width="1.4"/>
<text x="1813" y="77.6" font-size="15.6" text-anchor="end">0.8</text>
<line x1="1815.8" y1="31.7" x2="1823.8" y2="31.7" stroke="#000" stroke-width="1.4"/>
<text x="1813" y="37.2" font-size="15.6" text-anchor="end">1.0</text>
<line x1="1845" y1="233.7" x2="1845" y2="241.7" stroke="#000" stroke-width="1.4"/>
<line x1="1877" y1="233.7" x2="1877" y2="241.7" stroke="#000" stroke-width="1.4"/>
<line x1="1909.4" y1="233.7" x2="1909.4" y2="241.7" stroke="#000" stroke-width="1.4"/>
<line x1="1941.6" y1="233.7" x2="1941.6" y2="241.7" stroke="#000" stroke-width="1.4"/>
<text x="1878.1" y="155.9" font-size="25" text-anchor="middle" font-weight="bold" letter-spacing="2.2">**</text>
<text x="1910.5" y="106.8" font-size="25" text-anchor="middle" font-weight="bold" letter-spacing="2.2">*</text>
<text x="1942.7" y="139.2" font-size="25" text-anchor="middle" font-weight="bold" letter-spacing="2.2">**</text>
<text transform="translate(1760 132.7) rotate(-90)" font-size="16" text-anchor="middle" font-weight="bold">Relative GABPB1 protein level</text>
<text transform="translate(1781 132.7) rotate(-90)" font-size="16" text-anchor="middle" font-weight="bold">(fold .vs Actin)</text>
<text transform="translate(1851 257) rotate(-45)" font-size="16.3" text-anchor="end">shControl</text>
<text transform="translate(1883 257) rotate(-45)" font-size="15" text-anchor="end">sh<tspan font-style="italic">GABPB1</tspan>-#1</text>
<text transform="translate(1915.4 257) rotate(-45)" font-size="15" text-anchor="end">sh<tspan font-style="italic">GABPB1</tspan>-#2</text>
<text transform="translate(1947.6 257) rotate(-45)" font-size="15" text-anchor="end">sh<tspan font-style="italic">GABPB1</tspan>-#3</text>
<text x="2.4" y="450.2" font-size="32">D</text>
<text x="359.5" y="438.6" font-size="25" text-anchor="middle">A549</text>
<rect x="62.4" y="459.1" width="25.2" height="12.4" fill="#fff" stroke="#000" stroke-width="1.5" />
<text x="102.8" y="472.2" font-size="20">shControl</text>
<rect x="237.5" y="459.1" width="24.8" height="12.4" fill="#000080" stroke="#000" stroke-width="1.5" />
<text x="278.3" y="472.2" font-size="20">sh<tspan font-style="italic">GABPB1</tspan>-#1</text>
<rect x="459" y="459.1" width="25.6" height="12.4" fill="#000" stroke="#000" stroke-width="1.5" />
<text x="499.8" y="472.2" font-size="20">sh<tspan font-style="italic">GABPB1</tspan>-#3</text>
<line x1="72.6" y1="619.4" x2="72.6" y2="609.6" stroke="#000" stroke-width="1.4"/>
<line x1="69.8" y1="609.6" x2="75.3" y2="609.6" stroke="#000" stroke-width="1.4"/>
<rect x="66.1" y="619.4" width="13" height="44.3" fill="#fff" stroke="#000" stroke-width="1.3" />
<line x1="87.6" y1="650" x2="87.6" y2="644.6" stroke="#000" stroke-width="1.4"/>
<line x1="84.8" y1="644.6" x2="90.3" y2="644.6" stroke="#000" stroke-width="1.4"/>
<rect x="81.1" y="650" width="13" height="13.7" fill="#000080" stroke="#000" stroke-width="1.3" />
<line x1="102.6" y1="648.2" x2="102.6" y2="646" stroke="#000" stroke-width="1.4"/>
<line x1="99.8" y1="646" x2="105.3" y2="646" stroke="#000" stroke-width="1.4"/>
<rect x="96.1" y="648.2" width="13" height="15.5" fill="#000" stroke="#000" stroke-width="1.3" />
<line x1="122" y1="619.4" x2="122" y2="611.8" stroke="#000" stroke-width="1.4"/>
<line x1="119.2" y1="611.8" x2="124.7" y2="611.8" stroke="#000" stroke-width="1.4"/>
<rect x="115.5" y="619.4" width="13" height="44.3" fill="#fff" stroke="#000" stroke-width="1.3" />
<line x1="137" y1="637.1" x2="137" y2="632.7" stroke="#000" stroke-width="1.4"/>
<line x1="134.2" y1="632.7" x2="139.7" y2="632.7" stroke="#000" stroke-width="1.4"/>
<rect x="130.5" y="637.1" width="13" height="26.6" fill="#000080" stroke="#000" stroke-width="1.3" />
<line x1="152" y1="637.1" x2="152" y2="634.4" stroke="#000" stroke-width="1.4"/>
<line x1="149.2" y1="634.4" x2="154.7" y2="634.4" stroke="#000" stroke-width="1.4"/>
<rect x="145.5" y="637.1" width="13" height="26.6" fill="#000" stroke="#000" stroke-width="1.3" />
<line x1="171.3" y1="620.3" x2="171.3" y2="606.1" stroke="#000" stroke-width="1.4"/>
<line x1="168.6" y1="606.1" x2="174.1" y2="606.1" stroke="#000" stroke-width="1.4"/>
<rect x="164.8" y="620.3" width="13" height="43.4" fill="#fff" stroke="#000" stroke-width="1.3" />
<line x1="186.3" y1="617.2" x2="186.3" y2="610.5" stroke="#000" stroke-width="1.4"/>
<line x1="183.6" y1="610.5" x2="189.1" y2="610.5" stroke="#000" stroke-width="1.4"/>
<rect x="179.8" y="617.2" width="13" height="46.5" fill="#000080" stroke="#000" stroke-width="1.3" />
<line x1="201.3" y1="611.4" x2="201.3" y2="604.7" stroke="#000" stroke-width="1.4"/>
<line x1="198.6" y1="604.7" x2="204.1" y2="604.7" stroke="#000" stroke-width="1.4"/>
<rect x="194.8" y="611.4" width="13" height="52.3" fill="#000" stroke="#000" stroke-width="1.3" />
<line x1="220.7" y1="619.4" x2="220.7" y2="614.9" stroke="#000" stroke-width="1.4"/>
<line x1="217.9" y1="614.9" x2="223.4" y2="614.9" stroke="#000" stroke-width="1.4"/>
<rect x="214.2" y="619.4" width="13" height="44.3" fill="#fff" stroke="#000" stroke-width="1.3" />
<line x1="235.7" y1="637.1" x2="235.7" y2="634.9" stroke="#000" stroke-width="1.4"/>
<line x1="232.9" y1="634.9" x2="238.4" y2="634.9" stroke="#000" stroke-width="1.4"/>
<rect x="229.2" y="637.1" width="13" height="26.6" fill="#000080" stroke="#000" stroke-width="1.3" />
<line x1="250.7" y1="634" x2="250.7" y2="631.3" stroke="#000" stroke-width="1.4"/>
<line x1="247.9" y1="631.3" x2="253.4" y2="631.3" stroke="#000" stroke-width="1.4"/>
<rect x="244.2" y="634" width="13" height="29.7" fill="#000" stroke="#000" stroke-width="1.3" />
<line x1="270" y1="619.4" x2="270" y2="614.9" stroke="#000" stroke-width="1.4"/>
<line x1="267.3" y1="614.9" x2="272.8" y2="614.9" stroke="#000" stroke-width="1.4"/>
<rect x="263.5" y="619.4" width="13" height="44.3" fill="#fff" stroke="#000" stroke-width="1.3" />
<line x1="285" y1="613.6" x2="285" y2="609.2" stroke="#000" stroke-width="1.4"/>
<line x1="282.3" y1="609.2" x2="287.8" y2="609.2" stroke="#000" stroke-width="1.4"/>
<rect x="278.5" y="613.6" width="13" height="50.1" fill="#000080" stroke="#000" stroke-width="1.3" />
<line x1="300" y1="618.5" x2="300" y2="612.7" stroke="#000" stroke-width="1.4"/>
<line x1="297.3" y1="612.7" x2="302.8" y2="612.7" stroke="#000" stroke-width="1.4"/>
<rect x="293.5" y="618.5" width="13" height="45.2" fill="#000" stroke="#000" stroke-width="1.3" />
<line x1="319.4" y1="619.4" x2="319.4" y2="615.4" stroke="#000" stroke-width="1.4"/>
<line x1="316.6" y1="615.4" x2="322.1" y2="615.4" stroke="#000" stroke-width="1.4"/>
<rect x="312.9" y="619.4" width="13" height="44.3" fill="#fff" stroke="#000" stroke-width="1.3" />
<line x1="334.4" y1="602.5" x2="334.4" y2="599.9" stroke="#000" stroke-width="1.4"/>
<line x1="331.6" y1="599.9" x2="337.1" y2="599.9" stroke="#000" stroke-width="1.4"/>
<rect x="327.9" y="602.5" width="13" height="61.2" fill="#000080" stroke="#000" stroke-width="1.3" />
<line x1="349.4" y1="622.9" x2="349.4" y2="601.2" stroke="#000" stroke-width="1.4"/>
<line x1="346.6" y1="601.2" x2="352.1" y2="601.2" stroke="#000" stroke-width="1.4"/>
<rect x="342.9" y="622.9" width="13" height="40.8" fill="#000" stroke="#000" stroke-width="1.3" />
<line x1="368.8" y1="619.4" x2="368.8" y2="609.6" stroke="#000" stroke-width="1.4"/>
<line x1="366" y1="609.6" x2="371.5" y2="609.6" stroke="#000" stroke-width="1.4"/>
<rect x="362.3" y="619.4" width="13" height="44.3" fill="#fff" stroke="#000" stroke-width="1.3" />
<line x1="383.8" y1="639.3" x2="383.8" y2="636.2" stroke="#000" stroke-width="1.4"/>
<line x1="381" y1="636.2" x2="386.5" y2="636.2" stroke="#000" stroke-width="1.4"/>
<rect x="377.3" y="639.3" width="13" height="24.4" fill="#000080" stroke="#000" stroke-width="1.3" />
<line x1="398.8" y1="633.6" x2="398.8" y2="630.5" stroke="#000" stroke-width="1.4"/>
<line x1="396" y1="630.5" x2="401.5" y2="630.5" stroke="#000" stroke-width="1.4"/>
<rect x="392.3" y="633.6" width="13" height="30.1" fill="#000" stroke="#000" stroke-width="1.3" />
<line x1="418.1" y1="619.4" x2="418.1" y2="613.2" stroke="#000" stroke-width="1.4"/>
<line x1="415.4" y1="613.2" x2="420.9" y2="613.2" stroke="#000" stroke-width="1.4"/>
<rect x="411.6" y="619.4" width="13" height="44.3" fill="#fff" stroke="#000" stroke-width="1.3" />
<line x1="433.1" y1="657.5" x2="433.1" y2="653.1" stroke="#000" stroke-width="1.4"/>
<line x1="430.4" y1="653.1" x2="435.9" y2="653.1" stroke="#000" stroke-width="1.4"/>
<rect x="426.6" y="657.5" width="13" height="6.2" fill="#000080" stroke="#000" stroke-width="1.3" />
<line x1="448.1" y1="656.2" x2="448.1" y2="653.1" stroke="#000" stroke-width="1.4"/>
<line x1="445.4" y1="653.1" x2="450.9" y2="653.1" stroke="#000" stroke-width="1.4"/>
<rect x="441.6" y="656.2" width="13" height="7.5" fill="#000" stroke="#000" stroke-width="1.3" />
<line x1="467.5" y1="620.3" x2="467.5" y2="616.3" stroke="#000" stroke-width="1.4"/>
<line x1="464.7" y1="616.3" x2="470.2" y2="616.3" stroke="#000" stroke-width="1.4"/>
<rect x="461" y="620.3" width="13" height="43.4" fill="#fff" stroke="#000" stroke-width="1.3" />
<line x1="482.5" y1="524.5" x2="482.5" y2="511.2" stroke="#000" stroke-width="1.4"/>
<line x1="479.7" y1="511.2" x2="485.2" y2="511.2" stroke="#000" stroke-width="1.4"/>
<rect x="476" y="524.5" width="13" height="139.2" fill="#000080" stroke="#000" stroke-width="1.3" />
<line x1="497.5" y1="517.4" x2="497.5" y2="499.7" stroke="#000" stroke-width="1.4"/>
<line x1="494.7" y1="499.7" x2="500.2" y2="499.7" stroke="#000" stroke-width="1.4"/>
<rect x="491" y="517.4" width="13" height="146.3" fill="#000" stroke="#000" stroke-width="1.3" />
<line x1="516.8" y1="619.4" x2="516.8" y2="613.2" stroke="#000" stroke-width="1.4"/>
<line x1="514.1" y1="613.2" x2="519.6" y2="613.2" stroke="#000" stroke-width="1.4"/>
<rect x="510.3" y="619.4" width="13" height="44.3" fill="#fff" stroke="#000" stroke-width="1.3" />
<line x1="531.8" y1="649.1" x2="531.8" y2="645.5" stroke="#000" stroke-width="1.4"/>
<line x1="529.1" y1="645.5" x2="534.6" y2="645.5" stroke="#000" stroke-width="1.4"/>
<rect x="525.3" y="649.1" width="13" height="14.6" fill="#000080" stroke="#000" stroke-width="1.3" />
<line x1="546.8" y1="642.4" x2="546.8" y2="638.9" stroke="#000" stroke-width="1.4"/>
<line x1="544.1" y1="638.9" x2="549.6" y2="638.9" stroke="#000" stroke-width="1.4"/>
<rect x="540.3" y="642.4" width="13" height="21.3" fill="#000" stroke="#000" stroke-width="1.3" />
<line x1="566.2" y1="619.4" x2="566.2" y2="614.1" stroke="#000" stroke-width="1.4"/>
<line x1="563.5" y1="614.1" x2="569" y2="614.1" stroke="#000" stroke-width="1.4"/>
<rect x="559.7" y="619.4" width="13" height="44.3" fill="#fff" stroke="#000" stroke-width="1.3" />
<line x1="581.2" y1="634.4" x2="581.2" y2="633.1" stroke="#000" stroke-width="1.4"/>
<line x1="578.5" y1="633.1" x2="584" y2="633.1" stroke="#000" stroke-width="1.4"/>
<rect x="574.7" y="634.4" width="13" height="29.3" fill="#000080" stroke="#000" stroke-width="1.3" />
<line x1="596.2" y1="637.1" x2="596.2" y2="633.1" stroke="#000" stroke-width="1.4"/>
<line x1="593.5" y1="633.1" x2="599" y2="633.1" stroke="#000" stroke-width="1.4"/>
<rect x="589.7" y="637.1" width="13" height="26.6" fill="#000" stroke="#000" stroke-width="1.3" />
<line x1="615.6" y1="620.3" x2="615.6" y2="613.6" stroke="#000" stroke-width="1.4"/>
<line x1="612.8" y1="613.6" x2="618.3" y2="613.6" stroke="#000" stroke-width="1.4"/>
<rect x="609.1" y="620.3" width="13" height="43.4" fill="#fff" stroke="#000" stroke-width="1.3" />
<line x1="630.6" y1="641.5" x2="630.6" y2="636.2" stroke="#000" stroke-width="1.4"/>
<line x1="627.8" y1="636.2" x2="633.3" y2="636.2" stroke="#000" stroke-width="1.4"/>
<rect x="624.1" y="641.5" width="13" height="22.2" fill="#000080" stroke="#000" stroke-width="1.3" />
<line x1="645.6" y1="640.7" x2="645.6" y2="636.7" stroke="#000" stroke-width="1.4"/>
<line x1="642.8" y1="636.7" x2="648.3" y2="636.7" stroke="#000" stroke-width="1.4"/>
<rect x="639.1" y="640.7" width="13" height="23" fill="#000" stroke="#000" stroke-width="1.3" />
<line x1="664.9" y1="619.4" x2="664.9" y2="609.2" stroke="#000" stroke-width="1.4"/>
<line x1="662.2" y1="609.2" x2="667.7" y2="609.2" stroke="#000" stroke-width="1.4"/>
<rect x="658.4" y="619.4" width="13" height="44.3" fill="#fff" stroke="#000" stroke-width="1.3" />
<line x1="679.9" y1="624.7" x2="679.9" y2="621.6" stroke="#000" stroke-width="1.4"/>
<line x1="677.2" y1="621.6" x2="682.7" y2="621.6" stroke="#000" stroke-width="1.4"/>
<rect x="673.4" y="624.7" width="13" height="39" fill="#000080" stroke="#000" stroke-width="1.3" />
<line x1="694.9" y1="626" x2="694.9" y2="622.9" stroke="#000" stroke-width="1.4"/>
<line x1="692.2" y1="622.9" x2="697.7" y2="622.9" stroke="#000" stroke-width="1.4"/>
<rect x="688.4" y="626" width="13" height="37.7" fill="#000" stroke="#000" stroke-width="1.3" />
<rect x="59.2" y="486.4" width="648.8" height="177.3" fill="none" stroke="#000" stroke-width="1.4" />
<line x1="50.2" y1="663.7" x2="59.2" y2="663.7" stroke="#000" stroke-width="1.4"/>
<text x="46.7" y="669.7" font-size="17" text-anchor="end">0</text>
<line x1="50.2" y1="619.4" x2="59.2" y2="619.4" stroke="#000" stroke-width="1.4"/>
<text x="46.7" y="625.4" font-size="17" text-anchor="end">1</text>
<line x1="50.2" y1="575" x2="59.2" y2="575" stroke="#000" stroke-width="1.4"/>
<text x="46.7" y="581" font-size="17" text-anchor="end">2</text>
<line x1="50.2" y1="530.7" x2="59.2" y2="530.7" stroke="#000" stroke-width="1.4"/>
<text x="46.7" y="536.7" font-size="17" text-anchor="end">3</text>
<line x1="50.2" y1="486.4" x2="59.2" y2="486.4" stroke="#000" stroke-width="1.4"/>
<text x="46.7" y="492.4" font-size="17" text-anchor="end">4</text>
<line x1="87.6" y1="663.7" x2="87.6" y2="673.7" stroke="#000" stroke-width="1.4"/>
<text transform="translate(94.4 689.5) rotate(-45)" font-size="19" text-anchor="end">COX15</text>
<line x1="137" y1="663.7" x2="137" y2="673.7" stroke="#000" stroke-width="1.4"/>
<text transform="translate(143.8 689.5) rotate(-45)" font-size="19" text-anchor="end">ATP5B</text>
<line x1="186.3" y1="663.7" x2="186.3" y2="673.7" stroke="#000" stroke-width="1.4"/>
<text transform="translate(193.1 689.5) rotate(-45)" font-size="19" text-anchor="end">ATP5G1</text>
<line x1="235.7" y1="663.7" x2="235.7" y2="673.7" stroke="#000" stroke-width="1.4"/>
<text transform="translate(242.5 689.5) rotate(-45)" font-size="19" text-anchor="end">ATP5G1</text>
<line x1="285" y1="663.7" x2="285" y2="673.7" stroke="#000" stroke-width="1.4"/>
<line x1="334.4" y1="663.7" x2="334.4" y2="673.7" stroke="#000" stroke-width="1.4"/>
<text transform="translate(341.2 689.5) rotate(-45)" font-size="19" text-anchor="end">C25A15</text>
<line x1="383.8" y1="663.7" x2="383.8" y2="673.7" stroke="#000" stroke-width="1.4"/>
<text transform="translate(390.6 689.5) rotate(-45)" font-size="19" text-anchor="end">C25A22</text>
<line x1="433.1" y1="663.7" x2="433.1" y2="673.7" stroke="#000" stroke-width="1.4"/>
<text transform="translate(439.9 689.5) rotate(-45)" font-size="19" text-anchor="end">NDUFA3</text>
<line x1="482.5" y1="663.7" x2="482.5" y2="673.7" stroke="#000" stroke-width="1.4"/>
<line x1="531.8" y1="663.7" x2="531.8" y2="673.7" stroke="#000" stroke-width="1.4"/>
<text transform="translate(538.6 689.5) rotate(-45)" font-size="19" text-anchor="end">CRC1</text>
<line x1="581.2" y1="663.7" x2="581.2" y2="673.7" stroke="#000" stroke-width="1.4"/>
<text transform="translate(588 689.5) rotate(-45)" font-size="19" text-anchor="end">TIMM</text>
<line x1="630.6" y1="663.7" x2="630.6" y2="673.7" stroke="#000" stroke-width="1.4"/>
<text transform="translate(637.4 689.5) rotate(-45)" font-size="19" text-anchor="end">13IMM</text>
<line x1="679.9" y1="663.7" x2="679.9" y2="673.7" stroke="#000" stroke-width="1.4"/>
<text transform="translate(686.7 689.5) rotate(-45)" font-size="19" text-anchor="end">TOPA1X3ABA</text>
<text x="88.1" y="645.4" font-size="16.5" text-anchor="middle" font-weight="bold" letter-spacing="1">***</text>
<text x="103.1" y="634.8" font-size="16.5" text-anchor="middle" font-weight="bold" letter-spacing="1">***</text>
<text x="137.5" y="633.5" font-size="16.5" text-anchor="middle" font-weight="bold" letter-spacing="1">*</text>
<text x="152.5" y="635.2" font-size="16.5" text-anchor="middle" font-weight="bold" letter-spacing="1">**</text>
<text x="236.2" y="635.7" font-size="16.5" text-anchor="middle" font-weight="bold" letter-spacing="1">**</text>
<text x="251.2" y="632.1" font-size="16.5" text-anchor="middle" font-weight="bold" letter-spacing="1">**</text>
<text x="384.3" y="637" font-size="16.5" text-anchor="middle" font-weight="bold" letter-spacing="1">*</text>
<text x="399.3" y="631.2" font-size="16.5" text-anchor="middle" font-weight="bold" letter-spacing="1">*</text>
<text x="433.6" y="653.9" font-size="16.5" text-anchor="middle" font-weight="bold" letter-spacing="1">***</text>
<text x="448.6" y="639.4" font-size="16.5" text-anchor="middle" font-weight="bold" letter-spacing="1">***</text>
<text x="483" y="512" font-size="16.5" text-anchor="middle" font-weight="bold" letter-spacing="1">**</text>
<text x="498" y="500.5" font-size="16.5" text-anchor="middle" font-weight="bold" letter-spacing="1">**</text>
<text x="532.3" y="646.3" font-size="16.5" text-anchor="middle" font-weight="bold" letter-spacing="1">**</text>
<text x="547.3" y="639.7" font-size="16.5" text-anchor="middle" font-weight="bold" letter-spacing="1">*</text>
<text x="581.7" y="633.9" font-size="16.5" text-anchor="middle" font-weight="bold" letter-spacing="1">**</text>
<text x="596.7" y="633.9" font-size="16.5" text-anchor="middle" font-weight="bold" letter-spacing="1">*</text>
<text x="631.1" y="637" font-size="16.5" text-anchor="middle" font-weight="bold" letter-spacing="1">*</text>
<text x="646.1" y="637.5" font-size="16.5" text-anchor="middle" font-weight="bold" letter-spacing="1">*</text>
<text transform="translate(23.6 575.2) rotate(-90)" font-size="20.4" text-anchor="middle" font-weight="bold">Relative mRNA levels</text>
<text x="762" y="457.4" font-size="32">E</text>
<text x="1125.4" y="438" font-size="25" text-anchor="middle">H1299</text>
<rect x="833.5" y="462.7" width="24.7" height="12.1" fill="#fff" stroke="#000" stroke-width="1.5" />
<text x="873.4" y="474.8" font-size="20">SLC25A15</text>
<rect x="1027.2" y="462.7" width="24.8" height="12.1" fill="#000080" stroke="#000" stroke-width="1.5" />
<text x="1067.1" y="474.8" font-size="20">sh<tspan font-style="italic">GABPB1</tspan>-#1</text>
<rect x="1253.2" y="462.7" width="25.5" height="12.1" fill="#000" stroke="#000" stroke-width="1.5" />
<text x="1293.9" y="474.8" font-size="20">sh<tspan font-style="italic">GABPB1</tspan>-#3</text>
<line x1="847.5" y1="605.1" x2="847.5" y2="596.3" stroke="#000" stroke-width="1.4"/>
<line x1="844.8" y1="596.3" x2="850.2" y2="596.3" stroke="#000" stroke-width="1.4"/>
<rect x="841.1" y="605.1" width="12.7" height="58.9" fill="#fff" stroke="#000" stroke-width="1.3" />
<line x1="862" y1="642.2" x2="862" y2="638.7" stroke="#000" stroke-width="1.4"/>
<line x1="859.2" y1="638.7" x2="864.8" y2="638.7" stroke="#000" stroke-width="1.4"/>
<rect x="855.6" y="642.2" width="12.7" height="21.8" fill="#000080" stroke="#000" stroke-width="1.3" />
<line x1="876.5" y1="629.3" x2="876.5" y2="621.6" stroke="#000" stroke-width="1.4"/>
<line x1="873.8" y1="621.6" x2="879.2" y2="621.6" stroke="#000" stroke-width="1.4"/>
<rect x="870.1" y="629.3" width="12.7" height="34.7" fill="#000" stroke="#000" stroke-width="1.3" />
<line x1="896.6" y1="605.1" x2="896.6" y2="599.2" stroke="#000" stroke-width="1.4"/>
<line x1="893.8" y1="599.2" x2="899.3" y2="599.2" stroke="#000" stroke-width="1.4"/>
<rect x="890.2" y="605.1" width="12.7" height="58.9" fill="#fff" stroke="#000" stroke-width="1.3" />
<line x1="911.1" y1="635.2" x2="911.1" y2="628.7" stroke="#000" stroke-width="1.4"/>
<line x1="908.3" y1="628.7" x2="913.8" y2="628.7" stroke="#000" stroke-width="1.4"/>
<rect x="904.7" y="635.2" width="12.7" height="28.8" fill="#000080" stroke="#000" stroke-width="1.3" />
<line x1="925.6" y1="634.6" x2="925.6" y2="628.7" stroke="#000" stroke-width="1.4"/>
<line x1="922.8" y1="628.7" x2="928.3" y2="628.7" stroke="#000" stroke-width="1.4"/>
<rect x="919.2" y="634.6" width="12.7" height="29.4" fill="#000" stroke="#000" stroke-width="1.3" />
<line x1="945.6" y1="605.1" x2="945.6" y2="597.5" stroke="#000" stroke-width="1.4"/>
<line x1="942.9" y1="597.5" x2="948.4" y2="597.5" stroke="#000" stroke-width="1.4"/>
<rect x="939.3" y="605.1" width="12.7" height="58.9" fill="#fff" stroke="#000" stroke-width="1.3" />
<line x1="960.1" y1="606.9" x2="960.1" y2="601.6" stroke="#000" stroke-width="1.4"/>
<line x1="957.4" y1="601.6" x2="962.9" y2="601.6" stroke="#000" stroke-width="1.4"/>
<rect x="953.8" y="606.9" width="12.7" height="57.1" fill="#000080" stroke="#000" stroke-width="1.3" />
<line x1="974.6" y1="608.7" x2="974.6" y2="598.1" stroke="#000" stroke-width="1.4"/>
<line x1="971.9" y1="598.1" x2="977.4" y2="598.1" stroke="#000" stroke-width="1.4"/>
<rect x="968.3" y="608.7" width="12.7" height="55.3" fill="#000" stroke="#000" stroke-width="1.3" />
<line x1="994.7" y1="605.1" x2="994.7" y2="593.9" stroke="#000" stroke-width="1.4"/>
<line x1="991.9" y1="593.9" x2="997.4" y2="593.9" stroke="#000" stroke-width="1.4"/>
<rect x="988.3" y="605.1" width="12.7" height="58.9" fill="#fff" stroke="#000" stroke-width="1.3" />
<line x1="1009.2" y1="619.9" x2="1009.2" y2="615.7" stroke="#000" stroke-width="1.4"/>
<line x1="1006.4" y1="615.7" x2="1011.9" y2="615.7" stroke="#000" stroke-width="1.4"/>
<rect x="1002.8" y="619.9" width="12.7" height="44.1" fill="#000080" stroke="#000" stroke-width="1.3" />
<line x1="1023.7" y1="618.7" x2="1023.7" y2="613.4" stroke="#000" stroke-width="1.4"/>
<line x1="1020.9" y1="613.4" x2="1026.4" y2="613.4" stroke="#000" stroke-width="1.4"/>
<rect x="1017.3" y="618.7" width="12.7" height="45.3" fill="#000" stroke="#000" stroke-width="1.3" />
<line x1="1043.7" y1="605.1" x2="1043.7" y2="589.8" stroke="#000" stroke-width="1.4"/>
<line x1="1041" y1="589.8" x2="1046.5" y2="589.8" stroke="#000" stroke-width="1.4"/>
<rect x="1037.4" y="605.1" width="12.7" height="58.9" fill="#fff" stroke="#000" stroke-width="1.3" />
<line x1="1058.2" y1="596.3" x2="1058.2" y2="592.2" stroke="#000" stroke-width="1.4"/>
<line x1="1055.5" y1="592.2" x2="1061" y2="592.2" stroke="#000" stroke-width="1.4"/>
<rect x="1051.9" y="596.3" width="12.7" height="67.7" fill="#000080" stroke="#000" stroke-width="1.3" />
<line x1="1072.7" y1="591" x2="1072.7" y2="585.7" stroke="#000" stroke-width="1.4"/>
<line x1="1070" y1="585.7" x2="1075.5" y2="585.7" stroke="#000" stroke-width="1.4"/>
<rect x="1066.4" y="591" width="12.7" height="73" fill="#000" stroke="#000" stroke-width="1.3" />
<line x1="1092.8" y1="605.1" x2="1092.8" y2="593.4" stroke="#000" stroke-width="1.4"/>
<line x1="1090" y1="593.4" x2="1095.5" y2="593.4" stroke="#000" stroke-width="1.4"/>
<rect x="1086.5" y="605.1" width="12.7" height="58.9" fill="#fff" stroke="#000" stroke-width="1.3" />
<line x1="1107.3" y1="626.9" x2="1107.3" y2="623.4" stroke="#000" stroke-width="1.4"/>
<line x1="1104.5" y1="623.4" x2="1110" y2="623.4" stroke="#000" stroke-width="1.4"/>
<rect x="1101" y="626.9" width="12.7" height="37.1" fill="#000080" stroke="#000" stroke-width="1.3" />
<line x1="1121.8" y1="624" x2="1121.8" y2="621.6" stroke="#000" stroke-width="1.4"/>
<line x1="1119" y1="621.6" x2="1124.5" y2="621.6" stroke="#000" stroke-width="1.4"/>
<rect x="1115.5" y="624" width="12.7" height="40" fill="#000" stroke="#000" stroke-width="1.3" />
<line x1="1141.9" y1="605.1" x2="1141.9" y2="597.5" stroke="#000" stroke-width="1.4"/>
<line x1="1139.1" y1="597.5" x2="1144.6" y2="597.5" stroke="#000" stroke-width="1.4"/>
<rect x="1135.5" y="605.1" width="12.7" height="58.9" fill="#fff" stroke="#000" stroke-width="1.3" />
<line x1="1156.4" y1="646.9" x2="1156.4" y2="638.7" stroke="#000" stroke-width="1.4"/>
<line x1="1153.6" y1="638.7" x2="1159.1" y2="638.7" stroke="#000" stroke-width="1.4"/>
<rect x="1150" y="646.9" width="12.7" height="17.1" fill="#000080" stroke="#000" stroke-width="1.3" />
<line x1="1170.9" y1="645.2" x2="1170.9" y2="639.9" stroke="#000" stroke-width="1.4"/>
<line x1="1168.1" y1="639.9" x2="1173.6" y2="639.9" stroke="#000" stroke-width="1.4"/>
<rect x="1164.5" y="645.2" width="12.7" height="18.8" fill="#000" stroke="#000" stroke-width="1.3" />
<line x1="1190.9" y1="605.1" x2="1190.9" y2="602.2" stroke="#000" stroke-width="1.4"/>
<line x1="1188.2" y1="602.2" x2="1193.7" y2="602.2" stroke="#000" stroke-width="1.4"/>
<rect x="1184.6" y="605.1" width="12.7" height="58.9" fill="#fff" stroke="#000" stroke-width="1.3" />
<line x1="1205.4" y1="658.7" x2="1205.4" y2="656.3" stroke="#000" stroke-width="1.4"/>
<line x1="1202.7" y1="656.3" x2="1208.2" y2="656.3" stroke="#000" stroke-width="1.4"/>
<rect x="1199.1" y="658.7" width="12.7" height="5.3" fill="#000080" stroke="#000" stroke-width="1.3" />
<line x1="1219.9" y1="654" x2="1219.9" y2="651" stroke="#000" stroke-width="1.4"/>
<line x1="1217.2" y1="651" x2="1222.7" y2="651" stroke="#000" stroke-width="1.4"/>
<rect x="1213.6" y="654" width="12.7" height="10" fill="#000" stroke="#000" stroke-width="1.3" />
<line x1="1240" y1="605.1" x2="1240" y2="595.7" stroke="#000" stroke-width="1.4"/>
<line x1="1237.2" y1="595.7" x2="1242.7" y2="595.7" stroke="#000" stroke-width="1.4"/>
<rect x="1233.6" y="605.1" width="12.7" height="58.9" fill="#fff" stroke="#000" stroke-width="1.3" />
<line x1="1254.5" y1="562.2" x2="1254.5" y2="546.9" stroke="#000" stroke-width="1.4"/>
<line x1="1251.7" y1="546.9" x2="1257.2" y2="546.9" stroke="#000" stroke-width="1.4"/>
<rect x="1248.1" y="562.2" width="12.7" height="101.8" fill="#000080" stroke="#000" stroke-width="1.3" />
<line x1="1269" y1="553.9" x2="1269" y2="535.1" stroke="#000" stroke-width="1.4"/>
<line x1="1266.2" y1="535.1" x2="1271.7" y2="535.1" stroke="#000" stroke-width="1.4"/>
<rect x="1262.6" y="553.9" width="12.7" height="110.1" fill="#000" stroke="#000" stroke-width="1.3" />
<line x1="1289" y1="605.7" x2="1289" y2="598.7" stroke="#000" stroke-width="1.4"/>
<line x1="1286.3" y1="598.7" x2="1291.8" y2="598.7" stroke="#000" stroke-width="1.4"/>
<rect x="1282.7" y="605.7" width="12.7" height="58.3" fill="#fff" stroke="#000" stroke-width="1.3" />
<line x1="1303.5" y1="648.1" x2="1303.5" y2="644.6" stroke="#000" stroke-width="1.4"/>
<line x1="1300.8" y1="644.6" x2="1306.3" y2="644.6" stroke="#000" stroke-width="1.4"/>
<rect x="1297.2" y="648.1" width="12.7" height="15.9" fill="#000080" stroke="#000" stroke-width="1.3" />
<line x1="1318" y1="641" x2="1318" y2="638.7" stroke="#000" stroke-width="1.4"/>
<line x1="1315.3" y1="638.7" x2="1320.8" y2="638.7" stroke="#000" stroke-width="1.4"/>
<rect x="1311.7" y="641" width="12.7" height="23" fill="#000" stroke="#000" stroke-width="1.3" />
<line x1="1338.1" y1="605.1" x2="1338.1" y2="594.5" stroke="#000" stroke-width="1.4"/>
<line x1="1335.3" y1="594.5" x2="1340.8" y2="594.5" stroke="#000" stroke-width="1.4"/>
<rect x="1331.8" y="605.1" width="12.7" height="58.9" fill="#fff" stroke="#000" stroke-width="1.3" />
<line x1="1352.6" y1="638.7" x2="1352.6" y2="634" stroke="#000" stroke-width="1.4"/>
<line x1="1349.8" y1="634" x2="1355.3" y2="634" stroke="#000" stroke-width="1.4"/>
<rect x="1346.2" y="638.7" width="12.7" height="25.3" fill="#000080" stroke="#000" stroke-width="1.3" />
<line x1="1367.1" y1="633.4" x2="1367.1" y2="628.1" stroke="#000" stroke-width="1.4"/>
<line x1="1364.3" y1="628.1" x2="1369.8" y2="628.1" stroke="#000" stroke-width="1.4"/>
<rect x="1360.8" y="633.4" width="12.7" height="30.6" fill="#000" stroke="#000" stroke-width="1.3" />
<line x1="1387.2" y1="625.1" x2="1387.2" y2="594.5" stroke="#000" stroke-width="1.4"/>
<line x1="1384.4" y1="594.5" x2="1389.9" y2="594.5" stroke="#000" stroke-width="1.4"/>
<rect x="1380.8" y="625.1" width="12.7" height="38.9" fill="#fff" stroke="#000" stroke-width="1.3" />
<line x1="1401.7" y1="636.3" x2="1401.7" y2="630.4" stroke="#000" stroke-width="1.4"/>
<line x1="1398.9" y1="630.4" x2="1404.4" y2="630.4" stroke="#000" stroke-width="1.4"/>
<rect x="1395.3" y="636.3" width="12.7" height="27.7" fill="#000080" stroke="#000" stroke-width="1.3" />
<line x1="1416.2" y1="629.9" x2="1416.2" y2="626.9" stroke="#000" stroke-width="1.4"/>
<line x1="1413.4" y1="626.9" x2="1418.9" y2="626.9" stroke="#000" stroke-width="1.4"/>
<rect x="1409.8" y="629.9" width="12.7" height="34.1" fill="#000" stroke="#000" stroke-width="1.3" />
<line x1="1436.2" y1="605.1" x2="1436.2" y2="592.2" stroke="#000" stroke-width="1.4"/>
<line x1="1433.5" y1="592.2" x2="1439" y2="592.2" stroke="#000" stroke-width="1.4"/>
<rect x="1429.9" y="605.1" width="12.7" height="58.9" fill="#fff" stroke="#000" stroke-width="1.3" />
<line x1="1450.7" y1="643.4" x2="1450.7" y2="639.3" stroke="#000" stroke-width="1.4"/>
<line x1="1448" y1="639.3" x2="1453.5" y2="639.3" stroke="#000" stroke-width="1.4"/>
<rect x="1444.4" y="643.4" width="12.7" height="20.6" fill="#000080" stroke="#000" stroke-width="1.3" />
<line x1="1465.2" y1="637.5" x2="1465.2" y2="633.4" stroke="#000" stroke-width="1.4"/>
<line x1="1462.5" y1="633.4" x2="1468" y2="633.4" stroke="#000" stroke-width="1.4"/>
<rect x="1458.9" y="637.5" width="12.7" height="26.5" fill="#000" stroke="#000" stroke-width="1.3" />
<rect x="833.5" y="487.4" width="647.6" height="176.6" fill="none" stroke="#000" stroke-width="1.4" />
<line x1="824.5" y1="664" x2="833.5" y2="664" stroke="#000" stroke-width="1.4"/>
<text x="821" y="670" font-size="17" text-anchor="end">0</text>
<line x1="824.5" y1="605.1" x2="833.5" y2="605.1" stroke="#000" stroke-width="1.4"/>
<text x="821" y="611.1" font-size="17" text-anchor="end">1</text>
<line x1="824.5" y1="546.3" x2="833.5" y2="546.3" stroke="#000" stroke-width="1.4"/>
<text x="821" y="552.3" font-size="17" text-anchor="end">2</text>
<line x1="824.5" y1="487.4" x2="833.5" y2="487.4" stroke="#000" stroke-width="1.4"/>
<text x="821" y="493.4" font-size="17" text-anchor="end">3</text>
<line x1="862" y1="664" x2="862" y2="674" stroke="#000" stroke-width="1.4"/>
<text transform="translate(868.8 689.8) rotate(-45)" font-size="19" text-anchor="end">COX15</text>
<line x1="911.1" y1="664" x2="911.1" y2="674" stroke="#000" stroke-width="1.4"/>
<text transform="translate(917.9 689.8) rotate(-45)" font-size="19" text-anchor="end">ATP5B</text>
<line x1="960.1" y1="664" x2="960.1" y2="674" stroke="#000" stroke-width="1.4"/>
<text transform="translate(966.9 689.8) rotate(-45)" font-size="19" text-anchor="end">ATP5G1</text>
<line x1="1009.2" y1="664" x2="1009.2" y2="674" stroke="#000" stroke-width="1.4"/>
<text transform="translate(1016 689.8) rotate(-45)" font-size="19" text-anchor="end">ATP5G3</text>
<line x1="1058.2" y1="664" x2="1058.2" y2="674" stroke="#000" stroke-width="1.4"/>
<text transform="translate(1065 689.8) rotate(-45)" font-size="19" text-anchor="end">SLC25A15</text>
<line x1="1107.3" y1="664" x2="1107.3" y2="674" stroke="#000" stroke-width="1.4"/>
<text transform="translate(1114.1 689.8) rotate(-45)" font-size="19" text-anchor="end">SLC25A22</text>
<line x1="1156.4" y1="664" x2="1156.4" y2="674" stroke="#000" stroke-width="1.4"/>
<text transform="translate(1163.2 689.8) rotate(-45)" font-size="19" text-anchor="end">NDUFA3</text>
<line x1="1205.4" y1="664" x2="1205.4" y2="674" stroke="#000" stroke-width="1.4"/>
<text transform="translate(1212.2 689.8) rotate(-45)" font-size="19" text-anchor="end">UQCRC1</text>
<line x1="1254.5" y1="664" x2="1254.5" y2="674" stroke="#000" stroke-width="1.4"/>
<text transform="translate(1261.3 689.8) rotate(-45)" font-size="19" text-anchor="end">TIMM13</text>
<line x1="1303.5" y1="664" x2="1303.5" y2="674" stroke="#000" stroke-width="1.4"/>
<text transform="translate(1310.3 689.8) rotate(-45)" font-size="19" text-anchor="end">IMMT</text>
<line x1="1352.6" y1="664" x2="1352.6" y2="674" stroke="#000" stroke-width="1.4"/>
<text transform="translate(1359.4 689.8) rotate(-45)" font-size="19" text-anchor="end">OPA1</text>
<line x1="1401.7" y1="664" x2="1401.7" y2="674" stroke="#000" stroke-width="1.4"/>
<text transform="translate(1408.5 689.8) rotate(-45)" font-size="19" text-anchor="end">X3ABA</text>
<line x1="1450.7" y1="664" x2="1450.7" y2="674" stroke="#000" stroke-width="1.4"/>
<text transform="translate(1457.5 689.8) rotate(-45)" font-size="19" text-anchor="end">POLR2M</text>
<text x="862.5" y="638.5" font-size="16.5" text-anchor="middle" font-weight="bold" letter-spacing="1">**</text>
<text x="877" y="621.4" font-size="16.5" text-anchor="middle" font-weight="bold" letter-spacing="1">*</text>
<text x="911.6" y="628.5" font-size="16.5" text-anchor="middle" font-weight="bold" letter-spacing="1">**</text>
<text x="926.1" y="623.5" font-size="16.5" text-anchor="middle" font-weight="bold" letter-spacing="1">**</text>
<text x="1107.8" y="623.2" font-size="16.5" text-anchor="middle" font-weight="bold" letter-spacing="1">*</text>
<text x="1122.3" y="621.4" font-size="16.5" text-anchor="middle" font-weight="bold" letter-spacing="1">*</text>
<text x="1156.9" y="638.5" font-size="16.5" text-anchor="middle" font-weight="bold" letter-spacing="1">*</text>
<text x="1171.4" y="639.7" font-size="16.5" text-anchor="middle" font-weight="bold" letter-spacing="1">**</text>
<text x="1205.9" y="656.1" font-size="16.5" text-anchor="middle" font-weight="bold" letter-spacing="1">***</text>
<text x="1220.4" y="650.8" font-size="16.5" text-anchor="middle" font-weight="bold" letter-spacing="1">***</text>
<text x="1255" y="546.6" font-size="16.5" text-anchor="middle" font-weight="bold" letter-spacing="1">*</text>
<text x="1269.5" y="534.9" font-size="16.5" text-anchor="middle" font-weight="bold" letter-spacing="1">*</text>
<text x="1304" y="644.4" font-size="16.5" text-anchor="middle" font-weight="bold" letter-spacing="1">**</text>
<text x="1318.5" y="638.5" font-size="16.5" text-anchor="middle" font-weight="bold" letter-spacing="1">**</text>
<text x="1353.1" y="633.8" font-size="16.5" text-anchor="middle" font-weight="bold" letter-spacing="1">**</text>
<text x="1367.6" y="627.9" font-size="16.5" text-anchor="middle" font-weight="bold" letter-spacing="1">*</text>
<text x="1451.2" y="639.1" font-size="16.5" text-anchor="middle" font-weight="bold" letter-spacing="1">*</text>
<text x="1465.7" y="633.2" font-size="16.5" text-anchor="middle" font-weight="bold" letter-spacing="1">*</text>
<text transform="translate(798.6 576.6) rotate(-90)" font-size="20.5" text-anchor="middle" font-weight="bold">Relative mRNA levels</text>
<text x="1525.6" y="410.7" font-size="32">F</text>
<text transform="translate(1638.9 451.5) rotate(-29.5)" font-size="17.7">shControl</text>
<text transform="translate(1683.5 451.5) rotate(-29.5)" font-size="17.7">shGABPB1-#1</text>
<text transform="translate(1722.8 451.5) rotate(-29.5)" font-size="17.7">shGABPB1-#3</text>
<text transform="translate(1785.8 451.5) rotate(-29.5)" font-size="17.7">shControl</text>
<text transform="translate(1830.4 451.5) rotate(-29.5)" font-size="17.7">shGABPB1-#1</text>
<text transform="translate(1869.7 451.5) rotate(-29.5)" font-size="17.7">shGABPB1-#3</text>
<rect x="1618.8" y="461.3" width="276.7" height="33.6" fill="#e9e9e9" stroke="none" stroke-width="0" />
<rect x="1628" y="463.3" width="28" height="29.6" rx="2" fill="#cacaca" fill-opacity="1" filter="url(#bl2)"/>
<rect x="1667" y="463.3" width="28" height="29.6" rx="2" fill="#cacaca" fill-opacity="1" filter="url(#bl2)"/>
<rect x="1706" y="463.3" width="28" height="29.6" rx="2" fill="#cacaca" fill-opacity="1" filter="url(#bl2)"/>
<rect x="1780.5" y="463.3" width="27" height="29.6" rx="2" fill="#cacaca" fill-opacity="1" filter="url(#bl2)"/>
<rect x="1818" y="463.3" width="28" height="29.6" rx="2" fill="#cacaca" fill-opacity="1" filter="url(#bl2)"/>
<rect x="1857" y="463.3" width="28" height="29.6" rx="2" fill="#cacaca" fill-opacity="1" filter="url(#bl2)"/>
<rect x="1618.8" y="501.2" width="276.7" height="33.5" fill="#f6f6f6" stroke="none" stroke-width="0" />
<rect x="1618.8" y="541.3" width="276.7" height="33.3" fill="#cbcbcb" stroke="none" stroke-width="0" />
<rect x="1628" y="543.3" width="28" height="29.3" rx="2" fill="#c4c4c4" fill-opacity="0.6" filter="url(#bl2)"/>
<rect x="1667" y="543.3" width="28" height="29.3" rx="2" fill="#c4c4c4" fill-opacity="0.6" filter="url(#bl2)"/>
<rect x="1706" y="543.3" width="28" height="29.3" rx="2" fill="#c4c4c4" fill-opacity="0.6" filter="url(#bl2)"/>
<rect x="1780.5" y="543.3" width="27" height="29.3" rx="2" fill="#c4c4c4" fill-opacity="0.6" filter="url(#bl2)"/>
<rect x="1818" y="543.3" width="28" height="29.3" rx="2" fill="#c4c4c4" fill-opacity="0.6" filter="url(#bl2)"/>
<rect x="1857" y="543.3" width="28" height="29.3" rx="2" fill="#c4c4c4" fill-opacity="0.6" filter="url(#bl2)"/>
<rect x="1618.8" y="582.5" width="276.7" height="33.5" fill="#d6d6d6" stroke="none" stroke-width="0" />
<rect x="1628" y="584.5" width="28" height="29.5" rx="2" fill="#d0d0d0" fill-opacity="0.6" filter="url(#bl2)"/>
<rect x="1667" y="584.5" width="28" height="29.5" rx="2" fill="#d0d0d0" fill-opacity="0.6" filter="url(#bl2)"/>
<rect x="1706" y="584.5" width="28" height="29.5" rx="2" fill="#d0d0d0" fill-opacity="0.6" filter="url(#bl2)"/>
<rect x="1780.5" y="584.5" width="27" height="29.5" rx="2" fill="#d0d0d0" fill-opacity="0.6" filter="url(#bl2)"/>
<rect x="1818" y="584.5" width="28" height="29.5" rx="2" fill="#d0d0d0" fill-opacity="0.6" filter="url(#bl2)"/>
<rect x="1857" y="584.5" width="28" height="29.5" rx="2" fill="#d0d0d0" fill-opacity="0.6" filter="url(#bl2)"/>
<rect x="1618.8" y="623.4" width="276.7" height="33.3" fill="#ededed" stroke="none" stroke-width="0" />
<rect x="1628" y="625.4" width="28" height="29.3" rx="2" fill="#d6d6d6" fill-opacity="1" filter="url(#bl2)"/>
<rect x="1667" y="625.4" width="28" height="29.3" rx="2" fill="#d6d6d6" fill-opacity="1" filter="url(#bl2)"/>
<rect x="1706" y="625.4" width="28" height="29.3" rx="2" fill="#d6d6d6" fill-opacity="1" filter="url(#bl2)"/>
<rect x="1780.5" y="625.4" width="27" height="29.3" rx="2" fill="#d6d6d6" fill-opacity="1" filter="url(#bl2)"/>
<rect x="1818" y="625.4" width="28" height="29.3" rx="2" fill="#d6d6d6" fill-opacity="1" filter="url(#bl2)"/>
<rect x="1857" y="625.4" width="28" height="29.3" rx="2" fill="#d6d6d6" fill-opacity="1" filter="url(#bl2)"/>
<rect x="1618.8" y="664.6" width="276.7" height="33.3" fill="#f1f1f1" stroke="none" stroke-width="0" />
<rect x="1628" y="666.6" width="28" height="29.3" rx="2" fill="#e2e2e2" fill-opacity="1" filter="url(#bl2)"/>
<rect x="1667" y="666.6" width="28" height="29.3" rx="2" fill="#e2e2e2" fill-opacity="1" filter="url(#bl2)"/>
<rect x="1706" y="666.6" width="28" height="29.3" rx="2" fill="#e2e2e2" fill-opacity="1" filter="url(#bl2)"/>
<rect x="1780.5" y="666.6" width="27" height="29.3" rx="2" fill="#e2e2e2" fill-opacity="1" filter="url(#bl2)"/>
<rect x="1818" y="666.6" width="28" height="29.3" rx="2" fill="#e2e2e2" fill-opacity="1" filter="url(#bl2)"/>
<rect x="1857" y="666.6" width="28" height="29.3" rx="2" fill="#e2e2e2" fill-opacity="1" filter="url(#bl2)"/>
<rect x="1618.8" y="705.8" width="276.7" height="33.5" fill="#f3f3f3" stroke="none" stroke-width="0" />
<rect x="1628" y="707.8" width="28" height="29.5" rx="2" fill="#ebebeb" fill-opacity="1" filter="url(#bl2)"/>
<rect x="1667" y="707.8" width="28" height="29.5" rx="2" fill="#ebebeb" fill-opacity="1" filter="url(#bl2)"/>
<rect x="1706" y="707.8" width="28" height="29.5" rx="2" fill="#ebebeb" fill-opacity="1" filter="url(#bl2)"/>
<rect x="1780.5" y="707.8" width="27" height="29.5" rx="2" fill="#ebebeb" fill-opacity="1" filter="url(#bl2)"/>
<rect x="1818" y="707.8" width="28" height="29.5" rx="2" fill="#ebebeb" fill-opacity="1" filter="url(#bl2)"/>
<rect x="1857" y="707.8" width="28" height="29.5" rx="2" fill="#ebebeb" fill-opacity="1" filter="url(#bl2)"/>
<rect x="1630" y="473.4" width="24" height="8" rx="4" fill="#333" fill-opacity="0.42" filter="url(#bl3)"/>
<rect x="1668" y="473.4" width="26" height="8" rx="4" fill="#333" fill-opacity="0.38" filter="url(#bl3)"/>
<rect x="1707.5" y="473.4" width="25" height="8" rx="4" fill="#333" fill-opacity="0.38" filter="url(#bl3)"/>
<rect x="1782" y="473.4" width="24" height="8" rx="4" fill="#333" fill-opacity="0.50" filter="url(#bl3)"/>
<rect x="1819" y="473.4" width="26" height="8" rx="4" fill="#333" fill-opacity="0.38" filter="url(#bl3)"/>
<rect x="1858" y="473.4" width="26" height="8" rx="4" fill="#333" fill-opacity="0.38" filter="url(#bl3)"/>
<rect x="1625.5" y="514.3" width="31" height="4" rx="2" fill="#000" fill-opacity="1.00" filter="url(#bl2)"/>
<rect x="1625.5" y="520.5" width="31" height="5.5" rx="2.8" fill="#000" fill-opacity="1.00" filter="url(#bl2)"/>
<rect x="1665" y="514.3" width="31" height="4" rx="2" fill="#000" fill-opacity="0.30" filter="url(#bl2)"/>
<rect x="1665" y="521.3" width="31" height="4" rx="2" fill="#000" fill-opacity="0.90" filter="url(#bl2)"/>
<rect x="1704.5" y="514.3" width="31" height="4" rx="2" fill="#000" fill-opacity="0.25" filter="url(#bl2)"/>
<rect x="1704.5" y="521.5" width="31" height="3.5" rx="1.8" fill="#000" fill-opacity="0.75" filter="url(#bl2)"/>
<rect x="1776.5" y="514.3" width="31" height="4" rx="2" fill="#000" fill-opacity="1.00" filter="url(#bl2)"/>
<rect x="1776.5" y="520.3" width="31" height="6" rx="3" fill="#000" fill-opacity="1.00" filter="url(#bl2)"/>
<rect x="1816.5" y="514.3" width="30" height="4" rx="2" fill="#000" fill-opacity="0.30" filter="url(#bl2)"/>
<rect x="1816.5" y="521.3" width="30" height="4" rx="2" fill="#000" fill-opacity="0.85" filter="url(#bl2)"/>
<rect x="1855.5" y="514.3" width="30" height="4" rx="2" fill="#000" fill-opacity="0.15" filter="url(#bl2)"/>
<rect x="1855.5" y="521.5" width="30" height="3.5" rx="1.8" fill="#000" fill-opacity="0.35" filter="url(#bl2)"/>
<rect x="1627.6" y="558.1" width="30" height="6.5" rx="3.2" fill="#000" fill-opacity="1.00" filter="url(#bl2)"/>
<rect x="1665.2" y="557.6" width="29" height="7.5" rx="3.8" fill="#000" fill-opacity="1.00" filter="url(#bl2)"/>
<rect x="1704.2" y="558.1" width="29" height="6.5" rx="3.2" fill="#000" fill-opacity="1.00" filter="url(#bl2)"/>
<rect x="1779.8" y="557.9" width="29" height="7" rx="3.5" fill="#000" fill-opacity="1.00" filter="url(#bl2)"/>
<rect x="1816" y="557.4" width="30" height="8" rx="4" fill="#000" fill-opacity="1.00" filter="url(#bl2)"/>
<rect x="1852.5" y="557.1" width="31" height="8.5" rx="4.2" fill="#000" fill-opacity="1.00" filter="url(#bl2)"/>
<rect x="1741.1" y="549.5" width="5" height="5" rx="1.2" fill="#000" fill-opacity="0.35" filter="url(#bl3)"/>
<rect x="1762.4" y="549.5" width="5" height="5" rx="1.2" fill="#000" fill-opacity="0.30" filter="url(#bl3)"/>
<rect x="1626.2" y="596.2" width="32" height="10" rx="5" fill="#000" fill-opacity="1.00" filter="url(#bl2)"/>
<rect x="1666" y="599" width="29" height="6.5" rx="3.2" fill="#000" fill-opacity="1.00" filter="url(#bl2)"/>
<rect x="1705" y="600" width="28" height="5" rx="2.5" fill="#000" fill-opacity="1.00" filter="url(#bl2)"/>
<rect x="1779.3" y="594.6" width="30" height="10.3" rx="5.2" fill="#000" fill-opacity="1.00" filter="url(#bl2)"/>
<rect x="1818" y="598" width="29" height="5.5" rx="2.8" fill="#000" fill-opacity="1.00" filter="url(#bl2)"/>
<rect x="1856" y="597.8" width="30" height="6" rx="3" fill="#000" fill-opacity="1.00" filter="url(#bl2)"/>
<rect x="1628" y="607.5" width="28" height="4" rx="2" fill="#000" fill-opacity="0.12" filter="url(#bl3)"/>
<rect x="1780" y="607" width="28" height="5" rx="2.5" fill="#000" fill-opacity="0.15" filter="url(#bl3)"/>
<rect x="1627.7" y="633.2" width="27" height="5.5" rx="2.8" fill="#000" fill-opacity="1.00" filter="url(#bl2)"/>
<rect x="1627.7" y="641" width="27" height="3" rx="1.5" fill="#000" fill-opacity="0.18" filter="url(#bl2)"/>
<rect x="1665.7" y="632.8" width="28" height="5.5" rx="2.8" fill="#000" fill-opacity="1.00" filter="url(#bl2)"/>
<rect x="1665.7" y="640.5" width="28" height="3" rx="1.5" fill="#000" fill-opacity="0.18" filter="url(#bl2)"/>
<rect x="1704.2" y="635.2" width="29" height="4.5" rx="2.2" fill="#000" fill-opacity="0.75" filter="url(#bl2)"/>
<rect x="1704.2" y="642.5" width="29" height="3" rx="1.5" fill="#000" fill-opacity="0.18" filter="url(#bl2)"/>
<rect x="1779.5" y="637" width="28" height="6" rx="3" fill="#000" fill-opacity="1.00" filter="url(#bl2)"/>
<rect x="1779.5" y="645" width="28" height="3" rx="1.5" fill="#000" fill-opacity="0.18" filter="url(#bl2)"/>
<rect x="1818.5" y="638.2" width="26.5" height="5.5" rx="2.8" fill="#000" fill-opacity="1.00" filter="url(#bl2)"/>
<rect x="1818.5" y="646" width="26.5" height="3" rx="1.5" fill="#000" fill-opacity="0.18" filter="url(#bl2)"/>
<rect x="1855.2" y="639.5" width="28" height="5" rx="2.5" fill="#000" fill-opacity="0.90" filter="url(#bl2)"/>
<rect x="1855.2" y="647" width="28" height="3" rx="1.5" fill="#000" fill-opacity="0.18" filter="url(#bl2)"/>
<rect x="1627.1" y="678.1" width="26" height="7" rx="3.5" fill="#000" fill-opacity="1.00" filter="url(#bl2)"/>
<rect x="1663.9" y="680.2" width="28" height="4.5" rx="2.2" fill="#000" fill-opacity="0.35" filter="url(#bl2)"/>
<rect x="1704" y="678.2" width="28" height="4.5" rx="2.2" fill="#000" fill-opacity="0.35" filter="url(#bl2)"/>
<rect x="1776.7" y="676.2" width="27" height="7.5" rx="3.8" fill="#000" fill-opacity="1.00" filter="url(#bl2)"/>
<rect x="1815" y="678.2" width="29" height="4.5" rx="2.2" fill="#000" fill-opacity="0.35" filter="url(#bl2)"/>
<rect x="1854.8" y="679" width="27" height="4" rx="2" fill="#000" fill-opacity="0.25" filter="url(#bl2)"/>
<rect x="1627.6" y="716.3" width="30" height="8" rx="4" fill="#000" fill-opacity="1.00" filter="url(#bl2)"/>
<rect x="1664.5" y="717.8" width="29" height="9.5" rx="4.8" fill="#000" fill-opacity="1.00" filter="url(#bl2)"/>
<rect x="1699.5" y="718.5" width="31.5" height="9" rx="4.5" fill="#000" fill-opacity="1.00" filter="url(#bl2)"/>
<rect x="1773.2" y="717.8" width="30.5" height="8.8" rx="4.4" fill="#000" fill-opacity="1.00" filter="url(#bl2)"/>
<rect x="1809.8" y="717.6" width="32" height="8" rx="4" fill="#000" fill-opacity="1.00" filter="url(#bl2)"/>
<rect x="1847.2" y="715" width="31.5" height="10" rx="5" fill="#000" fill-opacity="1.00" filter="url(#bl2)"/>
<rect x="1742" y="716" width="18" height="12" rx="4.5" fill="#000" fill-opacity="0.08" filter="url(#bl4)"/>
<rect x="1620.1" y="462.6" width="274.1" height="31" fill="none" stroke="#fff" stroke-width="0.9" stroke-opacity="0.8"/>
<rect x="1618.8" y="461.3" width="276.7" height="33.6" fill="none" stroke="#111" stroke-width="1.3" />
<rect x="1620.1" y="502.5" width="274.1" height="30.9" fill="none" stroke="#fff" stroke-width="0.9" stroke-opacity="0.8"/>
<rect x="1618.8" y="501.2" width="276.7" height="33.5" fill="none" stroke="#111" stroke-width="1.3" />
<rect x="1620.1" y="542.6" width="274.1" height="30.7" fill="none" stroke="#fff" stroke-width="0.9" stroke-opacity="0.8"/>
<rect x="1618.8" y="541.3" width="276.7" height="33.3" fill="none" stroke="#111" stroke-width="1.3" />
<rect x="1620.1" y="583.8" width="274.1" height="30.9" fill="none" stroke="#fff" stroke-width="0.9" stroke-opacity="0.8"/>
<rect x="1618.8" y="582.5" width="276.7" height="33.5" fill="none" stroke="#111" stroke-width="1.3" />
<rect x="1620.1" y="624.7" width="274.1" height="30.7" fill="none" stroke="#fff" stroke-width="0.9" stroke-opacity="0.8"/>
<rect x="1618.8" y="623.4" width="276.7" height="33.3" fill="none" stroke="#111" stroke-width="1.3" />
<rect x="1620.1" y="665.9" width="274.1" height="30.7" fill="none" stroke="#fff" stroke-width="0.9" stroke-opacity="0.8"/>
<rect x="1618.8" y="664.6" width="276.7" height="33.3" fill="none" stroke="#111" stroke-width="1.3" />
<rect x="1620.1" y="707.1" width="274.1" height="30.9" fill="none" stroke="#fff" stroke-width="0.9" stroke-opacity="0.8"/>
<rect x="1618.8" y="705.8" width="276.7" height="33.5" fill="none" stroke="#111" stroke-width="1.3" />
<text x="1606.2" y="486.2" font-size="17.6" text-anchor="end">SLC25A22</text>
<text x="1606.2" y="525.6" font-size="17.6" text-anchor="end">OPA1</text>
<text x="1606.2" y="566.2" font-size="17.6" text-anchor="end">NDUFA3</text>
<text x="1606.2" y="606.9" font-size="17.6" text-anchor="end">UQCRC1</text>
<text x="1606.2" y="645.4" font-size="17.6" text-anchor="end">ATP5D</text>
<text x="1606.2" y="689" font-size="17.6" text-anchor="end">COX15</text>
<text x="1606.2" y="726.7" font-size="17.6" text-anchor="end">&#946;-ACTIN</text>
<line x1="1621" y1="744" x2="1731.1" y2="744" stroke="#8a8a8a" stroke-width="1.6"/>
<line x1="1771.5" y1="744" x2="1881.7" y2="744" stroke="#8a8a8a" stroke-width="1.6"/>
<text x="1673.8" y="762.6" font-size="18" text-anchor="middle">A549</text>
<text x="1829.9" y="762.6" font-size="18" text-anchor="middle">H1299</text>
<text x="2" y="821.7" font-size="32">G</text>
<text x="342.7" y="846" font-size="25.5">A549</text>
<line x1="83.9" y1="804.3" x2="109.5" y2="804.3" stroke="#000" stroke-width="1.5"/>
<circle cx="96.2" cy="804.3" r="5.2" fill="#000" stroke="#000" stroke-width="1.8"/>
<line x1="83.9" y1="835" x2="109.5" y2="835" stroke="#000" stroke-width="1.5"/>
<circle cx="96.2" cy="835" r="5.2" fill="#fff" stroke="#000" stroke-width="2.2"/>
<text x="123.5" y="810.5" font-size="18.2">shControl</text>
<text x="123.5" y="841.2" font-size="18.2">sh<tspan font-style="italic">GABPB1</tspan>-#1</text>
<line x1="155" y1="894.6" x2="155" y2="1094.1" stroke="#000" stroke-width="1.3" stroke-dasharray="2 2"/>
<line x1="240.7" y1="894.6" x2="240.7" y2="1094.1" stroke="#000" stroke-width="1.3" stroke-dasharray="2 2"/>
<line x1="325.2" y1="894.6" x2="325.2" y2="1094.1" stroke="#000" stroke-width="1.3" stroke-dasharray="2 2"/>
<text x="125.3" y="886" font-size="16.5">Glucose</text>
<text x="197.7" y="882.3" font-size="16.5">Oligomycin</text>
<text x="303.8" y="883.6" font-size="16.5">2-DG</text>
<path d="M174 1025H433.5V1071.6H148.3" fill="none" stroke="#000" stroke-width="1.3" stroke-dasharray="2 2"/>
<rect x="81.3" y="862.6" width="333" height="231.5" fill="none" stroke="#000" stroke-width="1.5" />
<line x1="73.3" y1="1094.1" x2="81.3" y2="1094.1" stroke="#000" stroke-width="1.5"/>
<text x="71.3" y="1100.6" font-size="18" text-anchor="end">0</text>
<line x1="73.3" y1="1016.9" x2="81.3" y2="1016.9" stroke="#000" stroke-width="1.5"/>
<text x="71.3" y="1023.4" font-size="18" text-anchor="end">50</text>
<line x1="73.3" y1="939.8" x2="81.3" y2="939.8" stroke="#000" stroke-width="1.5"/>
<text x="71.3" y="946.3" font-size="18" text-anchor="end">100</text>
<line x1="73.3" y1="862.6" x2="81.3" y2="862.6" stroke="#000" stroke-width="1.5"/>
<text x="71.3" y="869.1" font-size="18" text-anchor="end">150</text>
<line x1="81.3" y1="1094.1" x2="81.3" y2="1102.6" stroke="#000" stroke-width="1.5"/>
<text x="81.3" y="1121.4" font-size="18" text-anchor="middle">0</text>
<line x1="164.6" y1="1094.1" x2="164.6" y2="1102.6" stroke="#000" stroke-width="1.5"/>
<text x="164.6" y="1121.4" font-size="18" text-anchor="middle">20</text>
<line x1="247.8" y1="1094.1" x2="247.8" y2="1102.6" stroke="#000" stroke-width="1.5"/>
<text x="247.8" y="1121.4" font-size="18" text-anchor="middle">40</text>
<line x1="331" y1="1094.1" x2="331" y2="1102.6" stroke="#000" stroke-width="1.5"/>
<text x="331" y="1121.4" font-size="18" text-anchor="middle">60</text>
<line x1="414.3" y1="1094.1" x2="414.3" y2="1102.6" stroke="#000" stroke-width="1.5"/>
<text x="414.3" y="1121.4" font-size="18" text-anchor="middle">80</text>
<text x="247.8" y="1149.9" font-size="20" text-anchor="middle" font-weight="bold">Time (minutes)</text>
<text transform="translate(27.5 978.3) rotate(-90)" font-size="19" text-anchor="middle" font-weight="bold">ECAR (mpH/min)</text>
<text transform="translate(458 1042) rotate(-90)" font-size="16.4" text-anchor="middle">Glycolytic capacity</text>
<line x1="194.9" y1="1033.1" x2="194.9" y2="1027" stroke="#000" stroke-width="1.5"/>
<line x1="189.4" y1="1027" x2="200.4" y2="1027" stroke="#000" stroke-width="1.5"/>
<line x1="189.4" y1="1033.1" x2="200.4" y2="1033.1" stroke="#000" stroke-width="1.5"/>
<line x1="276.2" y1="971.3" x2="276.2" y2="962" stroke="#000" stroke-width="1.5"/>
<line x1="270.7" y1="962" x2="281.7" y2="962" stroke="#000" stroke-width="1.5"/>
<line x1="270.7" y1="971.3" x2="281.7" y2="971.3" stroke="#000" stroke-width="1.5"/>
<polyline points="87,1070.3 113.8,1072.3 140.7,1069.9 167.5,1025.4 194.9,1030.1 221.7,1030.8 249.4,961.4 276.2,966.6 303.1,966 330.4,1054 357.3,1057.1 384.1,1058.1" fill="none" stroke="#000" stroke-width="1.5"/>
<line x1="249.4" y1="948.3" x2="249.4" y2="935.9" stroke="#000" stroke-width="1.5"/>
<line x1="243.9" y1="935.9" x2="254.9" y2="935.9" stroke="#000" stroke-width="1.5"/>
<line x1="243.9" y1="948.3" x2="254.9" y2="948.3" stroke="#000" stroke-width="1.5"/>
<line x1="276.2" y1="951.2" x2="276.2" y2="935.8" stroke="#000" stroke-width="1.5"/>
<line x1="270.7" y1="935.8" x2="281.7" y2="935.8" stroke="#000" stroke-width="1.5"/>
<line x1="270.7" y1="951.2" x2="281.7" y2="951.2" stroke="#000" stroke-width="1.5"/>
<line x1="303.1" y1="948.1" x2="303.1" y2="932.7" stroke="#000" stroke-width="1.5"/>
<line x1="297.6" y1="932.7" x2="308.6" y2="932.7" stroke="#000" stroke-width="1.5"/>
<line x1="297.6" y1="948.1" x2="308.6" y2="948.1" stroke="#000" stroke-width="1.5"/>
<polyline points="87,1074.7 113.8,1075.9 140.7,1075.9 167.5,1031.4 194.9,1030.2 221.7,1023.6 249.4,942.1 276.2,943.5 303.1,940.4 330.4,1066.5 357.3,1067.1 384.1,1065.9" fill="none" stroke="#000" stroke-width="1.5"/>
<circle cx="87" cy="1070.3" r="5.3" fill="#000" stroke="#000" stroke-width="2.2"/>
<circle cx="113.8" cy="1072.3" r="5.3" fill="#000" stroke="#000" stroke-width="2.2"/>
<circle cx="140.7" cy="1069.9" r="5.3" fill="#000" stroke="#000" stroke-width="2.2"/>
<circle cx="167.5" cy="1025.4" r="5.3" fill="#000" stroke="#000" stroke-width="2.2"/>
<circle cx="194.9" cy="1030.1" r="5.3" fill="#000" stroke="#000" stroke-width="2.2"/>
<circle cx="221.7" cy="1030.8" r="5.3" fill="#000" stroke="#000" stroke-width="2.2"/>
<circle cx="249.4" cy="961.4" r="5.3" fill="#000" stroke="#000" stroke-width="2.2"/>
<circle cx="276.2" cy="966.6" r="5.3" fill="#000" stroke="#000" stroke-width="2.2"/>
<circle cx="303.1" cy="966" r="5.3" fill="#000" stroke="#000" stroke-width="2.2"/>
<circle cx="330.4" cy="1054" r="5.3" fill="#000" stroke="#000" stroke-width="2.2"/>
<circle cx="357.3" cy="1057.1" r="5.3" fill="#000" stroke="#000" stroke-width="2.2"/>
<circle cx="384.1" cy="1058.1" r="5.3" fill="#000" stroke="#000" stroke-width="2.2"/>
<circle cx="87" cy="1074.7" r="5.3" fill="#fff" stroke="#000" stroke-width="2.2"/>
<circle cx="113.8" cy="1075.9" r="5.3" fill="#fff" stroke="#000" stroke-width="2.2"/>
<circle cx="140.7" cy="1075.9" r="5.3" fill="#fff" stroke="#000" stroke-width="2.2"/>
<circle cx="167.5" cy="1031.4" r="5.3" fill="#fff" stroke="#000" stroke-width="2.2"/>
<circle cx="194.9" cy="1030.2" r="5.3" fill="#fff" stroke="#000" stroke-width="2.2"/>
<circle cx="221.7" cy="1023.6" r="5.3" fill="#fff" stroke="#000" stroke-width="2.2"/>
<circle cx="249.4" cy="942.1" r="5.3" fill="#fff" stroke="#000" stroke-width="2.2"/>
<circle cx="276.2" cy="943.5" r="5.3" fill="#fff" stroke="#000" stroke-width="2.2"/>
<circle cx="303.1" cy="940.4" r="5.3" fill="#fff" stroke="#000" stroke-width="2.2"/>
<circle cx="330.4" cy="1066.5" r="5.3" fill="#fff" stroke="#000" stroke-width="2.2"/>
<circle cx="357.3" cy="1067.1" r="5.3" fill="#fff" stroke="#000" stroke-width="2.2"/>
<circle cx="384.1" cy="1065.9" r="5.3" fill="#fff" stroke="#000" stroke-width="2.2"/>
<text x="508.6" y="822.8" font-size="32">H</text>
<text x="841.7" y="846" font-size="25.5">H1299</text>
<line x1="588" y1="806.9" x2="613.5" y2="806.9" stroke="#000" stroke-width="1.5"/>
<circle cx="600.5" cy="806.9" r="5.2" fill="#000" stroke="#000" stroke-width="1.8"/>
<line x1="588" y1="838.8" x2="613.5" y2="838.8" stroke="#000" stroke-width="1.5"/>
<circle cx="600.5" cy="838.8" r="5.2" fill="#fff" stroke="#000" stroke-width="2.2"/>
<text x="628.1" y="813.8" font-size="19.8">shControl</text>
<text x="628.1" y="845.2" font-size="19.8">sh<tspan font-style="italic">GABPB1</tspan>-#1</text>
<line x1="651.4" y1="892.5" x2="651.4" y2="1094.1" stroke="#000" stroke-width="1.3" stroke-dasharray="2 2"/>
<line x1="737.4" y1="892.5" x2="737.4" y2="1094.1" stroke="#000" stroke-width="1.3" stroke-dasharray="2 2"/>
<line x1="822" y1="892.5" x2="822" y2="1094.1" stroke="#000" stroke-width="1.3" stroke-dasharray="2 2"/>
<text x="622.5" y="884.9" font-size="16.5">Glucose</text>
<text x="694.6" y="881" font-size="16.5">Oligomycin</text>
<text x="800.7" y="881.5" font-size="16.5">2-DG</text>
<path d="M672 983.3H937V1071H651" fill="none" stroke="#000" stroke-width="1.3" stroke-dasharray="2 2"/>
<rect x="582.8" y="860.6" width="336.9" height="233.5" fill="none" stroke="#000" stroke-width="1.5" />
<line x1="574.8" y1="1094.1" x2="582.8" y2="1094.1" stroke="#000" stroke-width="1.5"/>
<text x="572.8" y="1100.6" font-size="18" text-anchor="end">0</text>
<line x1="574.8" y1="1016.3" x2="582.8" y2="1016.3" stroke="#000" stroke-width="1.5"/>
<text x="572.8" y="1022.8" font-size="18" text-anchor="end">50</text>
<line x1="574.8" y1="938.4" x2="582.8" y2="938.4" stroke="#000" stroke-width="1.5"/>
<text x="572.8" y="944.9" font-size="18" text-anchor="end">100</text>
<line x1="574.8" y1="860.6" x2="582.8" y2="860.6" stroke="#000" stroke-width="1.5"/>
<text x="572.8" y="867.1" font-size="18" text-anchor="end">150</text>
<line x1="582.8" y1="1094.1" x2="582.8" y2="1102.6" stroke="#000" stroke-width="1.5"/>
<text x="582.8" y="1121.4" font-size="18" text-anchor="middle">0</text>
<line x1="667" y1="1094.1" x2="667" y2="1102.6" stroke="#000" stroke-width="1.5"/>
<text x="667" y="1121.4" font-size="18" text-anchor="middle">20</text>
<line x1="751.2" y1="1094.1" x2="751.2" y2="1102.6" stroke="#000" stroke-width="1.5"/>
<text x="751.2" y="1121.4" font-size="18" text-anchor="middle">40</text>
<line x1="835.5" y1="1094.1" x2="835.5" y2="1102.6" stroke="#000" stroke-width="1.5"/>
<text x="835.5" y="1121.4" font-size="18" text-anchor="middle">60</text>
<line x1="919.7" y1="1094.1" x2="919.7" y2="1102.6" stroke="#000" stroke-width="1.5"/>
<text x="919.7" y="1121.4" font-size="18" text-anchor="middle">80</text>
<text x="751.2" y="1149.9" font-size="20" text-anchor="middle" font-weight="bold">Time (minutes)</text>
<text transform="translate(529.5 977.3) rotate(-90)" font-size="19" text-anchor="middle" font-weight="bold">ECAR (mpH/min)</text>
<text transform="translate(961 1028.7) rotate(-90)" font-size="16.4" text-anchor="middle">Glycolytic capacity</text>
<line x1="670.3" y1="994.9" x2="670.3" y2="976.3" stroke="#000" stroke-width="1.5"/>
<line x1="664.8" y1="976.3" x2="675.8" y2="976.3" stroke="#000" stroke-width="1.5"/>
<line x1="664.8" y1="994.9" x2="675.8" y2="994.9" stroke="#000" stroke-width="1.5"/>
<line x1="697.7" y1="997.7" x2="697.7" y2="985.3" stroke="#000" stroke-width="1.5"/>
<line x1="692.2" y1="985.3" x2="703.2" y2="985.3" stroke="#000" stroke-width="1.5"/>
<line x1="692.2" y1="997.7" x2="703.2" y2="997.7" stroke="#000" stroke-width="1.5"/>
<line x1="724.8" y1="989.5" x2="724.8" y2="973.9" stroke="#000" stroke-width="1.5"/>
<line x1="719.3" y1="973.9" x2="730.3" y2="973.9" stroke="#000" stroke-width="1.5"/>
<line x1="719.3" y1="989.5" x2="730.3" y2="989.5" stroke="#000" stroke-width="1.5"/>
<line x1="752.7" y1="935.8" x2="752.7" y2="920.2" stroke="#000" stroke-width="1.5"/>
<line x1="747.2" y1="920.2" x2="758.2" y2="920.2" stroke="#000" stroke-width="1.5"/>
<line x1="747.2" y1="935.8" x2="758.2" y2="935.8" stroke="#000" stroke-width="1.5"/>
<line x1="779.8" y1="935.3" x2="779.8" y2="916.6" stroke="#000" stroke-width="1.5"/>
<line x1="774.3" y1="916.6" x2="785.3" y2="916.6" stroke="#000" stroke-width="1.5"/>
<line x1="774.3" y1="935.3" x2="785.3" y2="935.3" stroke="#000" stroke-width="1.5"/>
<line x1="806.6" y1="931.4" x2="806.6" y2="919" stroke="#000" stroke-width="1.5"/>
<line x1="801.1" y1="919" x2="812.1" y2="919" stroke="#000" stroke-width="1.5"/>
<line x1="801.1" y1="931.4" x2="812.1" y2="931.4" stroke="#000" stroke-width="1.5"/>
<line x1="834.5" y1="1010.5" x2="834.5" y2="994.9" stroke="#000" stroke-width="1.5"/>
<line x1="829" y1="994.9" x2="840" y2="994.9" stroke="#000" stroke-width="1.5"/>
<line x1="829" y1="1010.5" x2="840" y2="1010.5" stroke="#000" stroke-width="1.5"/>
<line x1="861.6" y1="1024.8" x2="861.6" y2="1009.3" stroke="#000" stroke-width="1.5"/>
<line x1="856.1" y1="1009.3" x2="867.1" y2="1009.3" stroke="#000" stroke-width="1.5"/>
<line x1="856.1" y1="1024.8" x2="867.1" y2="1024.8" stroke="#000" stroke-width="1.5"/>
<line x1="888.5" y1="1027.9" x2="888.5" y2="1012.4" stroke="#000" stroke-width="1.5"/>
<line x1="883" y1="1012.4" x2="894" y2="1012.4" stroke="#000" stroke-width="1.5"/>
<line x1="883" y1="1027.9" x2="894" y2="1027.9" stroke="#000" stroke-width="1.5"/>
<polyline points="588.5,1071.8 615.3,1074.2 642.7,1071.8 670.3,985.6 697.7,991.5 724.8,981.7 752.7,928 779.8,926 806.6,925.2 834.5,1002.7 861.6,1017 888.5,1020.2" fill="none" stroke="#000" stroke-width="1.5"/>
<line x1="670.3" y1="1006.8" x2="670.3" y2="991.2" stroke="#000" stroke-width="1.5"/>
<line x1="664.8" y1="991.2" x2="675.8" y2="991.2" stroke="#000" stroke-width="1.5"/>
<line x1="664.8" y1="1006.8" x2="675.8" y2="1006.8" stroke="#000" stroke-width="1.5"/>
<line x1="697.7" y1="1001.5" x2="697.7" y2="989" stroke="#000" stroke-width="1.5"/>
<line x1="692.2" y1="989" x2="703.2" y2="989" stroke="#000" stroke-width="1.5"/>
<line x1="692.2" y1="1001.5" x2="703.2" y2="1001.5" stroke="#000" stroke-width="1.5"/>
<line x1="724.8" y1="997.7" x2="724.8" y2="985.3" stroke="#000" stroke-width="1.5"/>
<line x1="719.3" y1="985.3" x2="730.3" y2="985.3" stroke="#000" stroke-width="1.5"/>
<line x1="719.3" y1="997.7" x2="730.3" y2="997.7" stroke="#000" stroke-width="1.5"/>
<line x1="752.7" y1="918.2" x2="752.7" y2="896.4" stroke="#000" stroke-width="1.5"/>
<line x1="747.2" y1="896.4" x2="758.2" y2="896.4" stroke="#000" stroke-width="1.5"/>
<line x1="747.2" y1="918.2" x2="758.2" y2="918.2" stroke="#000" stroke-width="1.5"/>
<line x1="779.8" y1="918.8" x2="779.8" y2="890.8" stroke="#000" stroke-width="1.5"/>
<line x1="774.3" y1="890.8" x2="785.3" y2="890.8" stroke="#000" stroke-width="1.5"/>
<line x1="774.3" y1="918.8" x2="785.3" y2="918.8" stroke="#000" stroke-width="1.5"/>
<line x1="806.6" y1="918.5" x2="806.6" y2="890.5" stroke="#000" stroke-width="1.5"/>
<line x1="801.1" y1="890.5" x2="812.1" y2="890.5" stroke="#000" stroke-width="1.5"/>
<line x1="801.1" y1="918.5" x2="812.1" y2="918.5" stroke="#000" stroke-width="1.5"/>
<line x1="834.5" y1="1044.6" x2="834.5" y2="1032.1" stroke="#000" stroke-width="1.5"/>
<line x1="829" y1="1032.1" x2="840" y2="1032.1" stroke="#000" stroke-width="1.5"/>
<line x1="829" y1="1044.6" x2="840" y2="1044.6" stroke="#000" stroke-width="1.5"/>
<polyline points="588.5,1067.6 615.3,1067.6 642.7,1065.3 670.3,999 697.7,995.3 724.8,991.5 752.7,907.3 779.8,904.8 806.6,904.5 834.5,1038.4 861.6,1040.2 888.5,1037.9" fill="none" stroke="#000" stroke-width="1.5"/>
<circle cx="588.5" cy="1071.8" r="5.3" fill="#000" stroke="#000" stroke-width="2.2"/>
<circle cx="615.3" cy="1074.2" r="5.3" fill="#000" stroke="#000" stroke-width="2.2"/>
<circle cx="642.7" cy="1071.8" r="5.3" fill="#000" stroke="#000" stroke-width="2.2"/>
<circle cx="670.3" cy="985.6" r="5.3" fill="#000" stroke="#000" stroke-width="2.2"/>
<circle cx="697.7" cy="991.5" r="5.3" fill="#000" stroke="#000" stroke-width="2.2"/>
<circle cx="724.8" cy="981.7" r="5.3" fill="#000" stroke="#000" stroke-width="2.2"/>
<circle cx="752.7" cy="928" r="5.3" fill="#000" stroke="#000" stroke-width="2.2"/>
<circle cx="779.8" cy="926" r="5.3" fill="#000" stroke="#000" stroke-width="2.2"/>
<circle cx="806.6" cy="925.2" r="5.3" fill="#000" stroke="#000" stroke-width="2.2"/>
<circle cx="834.5" cy="1002.7" r="5.3" fill="#000" stroke="#000" stroke-width="2.2"/>
<circle cx="861.6" cy="1017" r="5.3" fill="#000" stroke="#000" stroke-width="2.2"/>
<circle cx="888.5" cy="1020.2" r="5.3" fill="#000" stroke="#000" stroke-width="2.2"/>
<circle cx="588.5" cy="1067.6" r="5.3" fill="#fff" stroke="#000" stroke-width="2.2"/>
<circle cx="615.3" cy="1067.6" r="5.3" fill="#fff" stroke="#000" stroke-width="2.2"/>
<circle cx="642.7" cy="1065.3" r="5.3" fill="#fff" stroke="#000" stroke-width="2.2"/>
<circle cx="670.3" cy="999" r="5.3" fill="#fff" stroke="#000" stroke-width="2.2"/>
<circle cx="697.7" cy="995.3" r="5.3" fill="#fff" stroke="#000" stroke-width="2.2"/>
<circle cx="724.8" cy="991.5" r="5.3" fill="#fff" stroke="#000" stroke-width="2.2"/>
<circle cx="752.7" cy="907.3" r="5.3" fill="#fff" stroke="#000" stroke-width="2.2"/>
<circle cx="779.8" cy="904.8" r="5.3" fill="#fff" stroke="#000" stroke-width="2.2"/>
<circle cx="806.6" cy="904.5" r="5.3" fill="#fff" stroke="#000" stroke-width="2.2"/>
<circle cx="834.5" cy="1038.4" r="5.3" fill="#fff" stroke="#000" stroke-width="2.2"/>
<circle cx="861.6" cy="1040.2" r="5.3" fill="#fff" stroke="#000" stroke-width="2.2"/>
<circle cx="888.5" cy="1037.9" r="5.3" fill="#fff" stroke="#000" stroke-width="2.2"/>
<text x="1025.8" y="822.7" font-size="32">I</text>
<text x="1373.6" y="846" font-size="25.5">A549</text>
<line x1="1094.3" y1="812" x2="1120.4" y2="812" stroke="#000" stroke-width="1.5"/>
<circle cx="1107.1" cy="812" r="5.2" fill="#000" stroke="#000" stroke-width="1.8"/>
<line x1="1094.3" y1="843.4" x2="1120.4" y2="843.4" stroke="#000" stroke-width="1.5"/>
<circle cx="1107.1" cy="843.4" r="5.2" fill="#fff" stroke="#000" stroke-width="2.2"/>
<text x="1135" y="818.4" font-size="18.2">shControl</text>
<text x="1135" y="849.6" font-size="18.2">sh<tspan font-style="italic">GABPB1</tspan>-#1</text>
<line x1="1163.5" y1="900.2" x2="1163.5" y2="1103.5" stroke="#000" stroke-width="1.3" stroke-dasharray="2 2"/>
<line x1="1248.9" y1="900.2" x2="1248.9" y2="1103.5" stroke="#000" stroke-width="1.3" stroke-dasharray="2 2"/>
<line x1="1333.6" y1="900.2" x2="1333.6" y2="1103.5" stroke="#000" stroke-width="1.3" stroke-dasharray="2 2"/>
<text x="1122.5" y="890" font-size="16.5">Oligomycin</text>
<text x="1224.8" y="892.5" font-size="16.5">FCCP</text>
<text x="1289.2" y="890.5" font-size="16.5">Rotenone/AA</text>
<path d="M1271.3 943.7H1441.4V1014H1248.3" fill="none" stroke="#000" stroke-width="1.3" stroke-dasharray="2 2"/>
<rect x="1093.6" y="870" width="336.8" height="233.5" fill="none" stroke="#000" stroke-width="1.5" />
<line x1="1085.6" y1="1103.5" x2="1093.6" y2="1103.5" stroke="#000" stroke-width="1.5"/>
<text x="1083.6" y="1110" font-size="18" text-anchor="end">0</text>
<line x1="1085.6" y1="1025.7" x2="1093.6" y2="1025.7" stroke="#000" stroke-width="1.5"/>
<text x="1083.6" y="1032.2" font-size="18" text-anchor="end">50</text>
<line x1="1085.6" y1="947.8" x2="1093.6" y2="947.8" stroke="#000" stroke-width="1.5"/>
<text x="1083.6" y="954.3" font-size="18" text-anchor="end">100</text>
<line x1="1085.6" y1="870" x2="1093.6" y2="870" stroke="#000" stroke-width="1.5"/>
<text x="1083.6" y="876.5" font-size="18" text-anchor="end">150</text>
<line x1="1093.6" y1="1103.5" x2="1093.6" y2="1112" stroke="#000" stroke-width="1.5"/>
<text x="1093.6" y="1130.8" font-size="18" text-anchor="middle">0</text>
<line x1="1177.8" y1="1103.5" x2="1177.8" y2="1112" stroke="#000" stroke-width="1.5"/>
<text x="1177.8" y="1130.8" font-size="18" text-anchor="middle">20</text>
<line x1="1262" y1="1103.5" x2="1262" y2="1112" stroke="#000" stroke-width="1.5"/>
<text x="1262" y="1130.8" font-size="18" text-anchor="middle">40</text>
<line x1="1346.2" y1="1103.5" x2="1346.2" y2="1112" stroke="#000" stroke-width="1.5"/>
<text x="1346.2" y="1130.8" font-size="18" text-anchor="middle">60</text>
<line x1="1430.4" y1="1103.5" x2="1430.4" y2="1112" stroke="#000" stroke-width="1.5"/>
<text x="1430.4" y="1130.8" font-size="18" text-anchor="middle">80</text>
<text x="1262" y="1159.3" font-size="20" text-anchor="middle" font-weight="bold">Time (minutes)</text>
<text transform="translate(1040 986.8) rotate(-90)" font-size="19" text-anchor="middle" font-weight="bold">OCR (pmol/min)</text>
<text transform="translate(1467.5 986.5) rotate(-90)" font-size="16.4" text-anchor="middle">Mitochondrial respiration capacity</text>
<line x1="1099.5" y1="986.8" x2="1099.5" y2="971.2" stroke="#000" stroke-width="1.5"/>
<line x1="1094" y1="971.2" x2="1105" y2="971.2" stroke="#000" stroke-width="1.5"/>
<line x1="1094" y1="986.8" x2="1105" y2="986.8" stroke="#000" stroke-width="1.5"/>
<line x1="1126.8" y1="990.6" x2="1126.8" y2="975.1" stroke="#000" stroke-width="1.5"/>
<line x1="1121.3" y1="975.1" x2="1132.3" y2="975.1" stroke="#000" stroke-width="1.5"/>
<line x1="1121.3" y1="990.6" x2="1132.3" y2="990.6" stroke="#000" stroke-width="1.5"/>
<line x1="1153.7" y1="986" x2="1153.7" y2="964.2" stroke="#000" stroke-width="1.5"/>
<line x1="1148.2" y1="964.2" x2="1159.2" y2="964.2" stroke="#000" stroke-width="1.5"/>
<line x1="1148.2" y1="986" x2="1159.2" y2="986" stroke="#000" stroke-width="1.5"/>
<line x1="1181.3" y1="1029.6" x2="1181.3" y2="1014" stroke="#000" stroke-width="1.5"/>
<line x1="1175.8" y1="1014" x2="1186.8" y2="1014" stroke="#000" stroke-width="1.5"/>
<line x1="1175.8" y1="1029.6" x2="1186.8" y2="1029.6" stroke="#000" stroke-width="1.5"/>
<line x1="1208.7" y1="1026.9" x2="1208.7" y2="1011.3" stroke="#000" stroke-width="1.5"/>
<line x1="1203.2" y1="1011.3" x2="1214.2" y2="1011.3" stroke="#000" stroke-width="1.5"/>
<line x1="1203.2" y1="1026.9" x2="1214.2" y2="1026.9" stroke="#000" stroke-width="1.5"/>
<line x1="1235.5" y1="1020.2" x2="1235.5" y2="1007.8" stroke="#000" stroke-width="1.5"/>
<line x1="1230" y1="1007.8" x2="1241" y2="1007.8" stroke="#000" stroke-width="1.5"/>
<line x1="1230" y1="1020.2" x2="1241" y2="1020.2" stroke="#000" stroke-width="1.5"/>
<line x1="1263.7" y1="966.5" x2="1263.7" y2="922.9" stroke="#000" stroke-width="1.5"/>
<line x1="1258.2" y1="922.9" x2="1269.2" y2="922.9" stroke="#000" stroke-width="1.5"/>
<line x1="1258.2" y1="966.5" x2="1269.2" y2="966.5" stroke="#000" stroke-width="1.5"/>
<line x1="1291" y1="952.8" x2="1291" y2="909.2" stroke="#000" stroke-width="1.5"/>
<line x1="1285.5" y1="909.2" x2="1296.5" y2="909.2" stroke="#000" stroke-width="1.5"/>
<line x1="1285.5" y1="952.8" x2="1296.5" y2="952.8" stroke="#000" stroke-width="1.5"/>
<line x1="1317.9" y1="949.7" x2="1317.9" y2="912.3" stroke="#000" stroke-width="1.5"/>
<line x1="1312.4" y1="912.3" x2="1323.4" y2="912.3" stroke="#000" stroke-width="1.5"/>
<line x1="1312.4" y1="949.7" x2="1323.4" y2="949.7" stroke="#000" stroke-width="1.5"/>
<line x1="1345.5" y1="1055.6" x2="1345.5" y2="1043.1" stroke="#000" stroke-width="1.5"/>
<line x1="1340" y1="1043.1" x2="1351" y2="1043.1" stroke="#000" stroke-width="1.5"/>
<line x1="1340" y1="1055.6" x2="1351" y2="1055.6" stroke="#000" stroke-width="1.5"/>
<line x1="1372.9" y1="1054" x2="1372.9" y2="1041.5" stroke="#000" stroke-width="1.5"/>
<line x1="1367.4" y1="1041.5" x2="1378.4" y2="1041.5" stroke="#000" stroke-width="1.5"/>
<line x1="1367.4" y1="1054" x2="1378.4" y2="1054" stroke="#000" stroke-width="1.5"/>
<line x1="1400" y1="1055.6" x2="1400" y2="1043.1" stroke="#000" stroke-width="1.5"/>
<line x1="1394.5" y1="1043.1" x2="1405.5" y2="1043.1" stroke="#000" stroke-width="1.5"/>
<line x1="1394.5" y1="1055.6" x2="1405.5" y2="1055.6" stroke="#000" stroke-width="1.5"/>
<polyline points="1099.5,979 1126.8,982.9 1153.7,975.1 1181.3,1021.8 1208.7,1019.1 1235.5,1014 1263.7,944.7 1291,931 1317.9,931 1345.5,1049.3 1372.9,1047.8 1400,1049.3" fill="none" stroke="#000" stroke-width="1.5"/>
<line x1="1126.8" y1="1009.6" x2="1126.8" y2="992.5" stroke="#000" stroke-width="1.5"/>
<line x1="1121.3" y1="992.5" x2="1132.3" y2="992.5" stroke="#000" stroke-width="1.5"/>
<line x1="1121.3" y1="1009.6" x2="1132.3" y2="1009.6" stroke="#000" stroke-width="1.5"/>
<line x1="1153.7" y1="1010.9" x2="1153.7" y2="989.1" stroke="#000" stroke-width="1.5"/>
<line x1="1148.2" y1="989.1" x2="1159.2" y2="989.1" stroke="#000" stroke-width="1.5"/>
<line x1="1148.2" y1="1010.9" x2="1159.2" y2="1010.9" stroke="#000" stroke-width="1.5"/>
<line x1="1263.7" y1="998.4" x2="1263.7" y2="982.9" stroke="#000" stroke-width="1.5"/>
<line x1="1258.2" y1="982.9" x2="1269.2" y2="982.9" stroke="#000" stroke-width="1.5"/>
<line x1="1258.2" y1="998.4" x2="1269.2" y2="998.4" stroke="#000" stroke-width="1.5"/>
<line x1="1291" y1="989.1" x2="1291" y2="973.5" stroke="#000" stroke-width="1.5"/>
<line x1="1285.5" y1="973.5" x2="1296.5" y2="973.5" stroke="#000" stroke-width="1.5"/>
<line x1="1285.5" y1="989.1" x2="1296.5" y2="989.1" stroke="#000" stroke-width="1.5"/>
<polyline points="1099.5,1000.8 1126.8,1001.1 1153.7,1000 1181.3,1049.3 1208.7,1047.8 1235.5,1045.9 1263.7,990.6 1291,981.3 1317.9,983.8 1345.5,1068.9 1372.9,1068.2 1400,1069.4" fill="none" stroke="#000" stroke-width="1.5"/>
<circle cx="1099.5" cy="979" r="5.3" fill="#000" stroke="#000" stroke-width="2.2"/>
<circle cx="1126.8" cy="982.9" r="5.3" fill="#000" stroke="#000" stroke-width="2.2"/>
<circle cx="1153.7" cy="975.1" r="5.3" fill="#000" stroke="#000" stroke-width="2.2"/>
<circle cx="1181.3" cy="1021.8" r="5.3" fill="#000" stroke="#000" stroke-width="2.2"/>
<circle cx="1208.7" cy="1019.1" r="5.3" fill="#000" stroke="#000" stroke-width="2.2"/>
<circle cx="1235.5" cy="1014" r="5.3" fill="#000" stroke="#000" stroke-width="2.2"/>
<circle cx="1263.7" cy="944.7" r="5.3" fill="#000" stroke="#000" stroke-width="2.2"/>
<circle cx="1291" cy="931" r="5.3" fill="#000" stroke="#000" stroke-width="2.2"/>
<circle cx="1317.9" cy="931" r="5.3" fill="#000" stroke="#000" stroke-width="2.2"/>
<circle cx="1345.5" cy="1049.3" r="5.3" fill="#000" stroke="#000" stroke-width="2.2"/>
<circle cx="1372.9" cy="1047.8" r="5.3" fill="#000" stroke="#000" stroke-width="2.2"/>
<circle cx="1400" cy="1049.3" r="5.3" fill="#000" stroke="#000" stroke-width="2.2"/>
<circle cx="1099.5" cy="1000.8" r="5.3" fill="#fff" stroke="#000" stroke-width="2.2"/>
<circle cx="1126.8" cy="1001.1" r="5.3" fill="#fff" stroke="#000" stroke-width="2.2"/>
<circle cx="1153.7" cy="1000" r="5.3" fill="#fff" stroke="#000" stroke-width="2.2"/>
<circle cx="1181.3" cy="1049.3" r="5.3" fill="#fff" stroke="#000" stroke-width="2.2"/>
<circle cx="1208.7" cy="1047.8" r="5.3" fill="#fff" stroke="#000" stroke-width="2.2"/>
<circle cx="1235.5" cy="1045.9" r="5.3" fill="#fff" stroke="#000" stroke-width="2.2"/>
<circle cx="1263.7" cy="990.6" r="5.3" fill="#fff" stroke="#000" stroke-width="2.2"/>
<circle cx="1291" cy="981.3" r="5.3" fill="#fff" stroke="#000" stroke-width="2.2"/>
<circle cx="1317.9" cy="983.8" r="5.3" fill="#fff" stroke="#000" stroke-width="2.2"/>
<circle cx="1345.5" cy="1068.9" r="5.3" fill="#fff" stroke="#000" stroke-width="2.2"/>
<circle cx="1372.9" cy="1068.2" r="5.3" fill="#fff" stroke="#000" stroke-width="2.2"/>
<circle cx="1400" cy="1069.4" r="5.3" fill="#fff" stroke="#000" stroke-width="2.2"/>
<text x="1515.6" y="821.7" font-size="32">J</text>
<text x="1845.6" y="854.7" font-size="25.5">H1299</text>
<line x1="1591.8" y1="817.9" x2="1617.4" y2="817.9" stroke="#000" stroke-width="1.5"/>
<circle cx="1604.6" cy="817.9" r="5.2" fill="#000" stroke="#000" stroke-width="1.8"/>
<line x1="1591.8" y1="849.1" x2="1617.4" y2="849.1" stroke="#000" stroke-width="1.5"/>
<circle cx="1604.6" cy="849.1" r="5.2" fill="#fff" stroke="#000" stroke-width="2.2"/>
<text x="1632.5" y="824" font-size="18.2">shControl</text>
<text x="1632.5" y="855.5" font-size="18.2">sh<tspan font-style="italic">GABPB1</tspan>-#1</text>
<line x1="1657.7" y1="901.5" x2="1657.7" y2="1103.6" stroke="#000" stroke-width="1.3" stroke-dasharray="2 2"/>
<line x1="1742.6" y1="901.5" x2="1742.6" y2="1103.6" stroke="#000" stroke-width="1.3" stroke-dasharray="2 2"/>
<line x1="1827.1" y1="901.5" x2="1827.1" y2="1103.6" stroke="#000" stroke-width="1.3" stroke-dasharray="2 2"/>
<text x="1616.6" y="889.5" font-size="16.5">Oligomycin</text>
<text x="1719" y="887.4" font-size="16.5">FCCP</text>
<text x="1782.9" y="887.4" font-size="16.5">Rotenone/AA</text>
<path d="M1761.2 911.7H1942.8V1000H1735.6" fill="none" stroke="#000" stroke-width="1.3" stroke-dasharray="2 2"/>
<rect x="1588" y="870" width="336.1" height="233.6" fill="none" stroke="#000" stroke-width="1.5" />
<line x1="1580" y1="1103.6" x2="1588" y2="1103.6" stroke="#000" stroke-width="1.5"/>
<text x="1578" y="1110.1" font-size="18" text-anchor="end">0</text>
<line x1="1580" y1="1025.7" x2="1588" y2="1025.7" stroke="#000" stroke-width="1.5"/>
<text x="1578" y="1032.2" font-size="18" text-anchor="end">50</text>
<line x1="1580" y1="947.9" x2="1588" y2="947.9" stroke="#000" stroke-width="1.5"/>
<text x="1578" y="954.4" font-size="18" text-anchor="end">100</text>
<line x1="1580" y1="870" x2="1588" y2="870" stroke="#000" stroke-width="1.5"/>
<text x="1578" y="876.5" font-size="18" text-anchor="end">150</text>
<line x1="1588" y1="1103.6" x2="1588" y2="1112.1" stroke="#000" stroke-width="1.5"/>
<text x="1588" y="1130.8" font-size="18" text-anchor="middle">0</text>
<line x1="1672" y1="1103.6" x2="1672" y2="1112.1" stroke="#000" stroke-width="1.5"/>
<text x="1672" y="1130.8" font-size="18" text-anchor="middle">20</text>
<line x1="1756" y1="1103.6" x2="1756" y2="1112.1" stroke="#000" stroke-width="1.5"/>
<text x="1756" y="1130.8" font-size="18" text-anchor="middle">40</text>
<line x1="1840.1" y1="1103.6" x2="1840.1" y2="1112.1" stroke="#000" stroke-width="1.5"/>
<text x="1840.1" y="1130.8" font-size="18" text-anchor="middle">60</text>
<line x1="1924.1" y1="1103.6" x2="1924.1" y2="1112.1" stroke="#000" stroke-width="1.5"/>
<text x="1924.1" y="1130.8" font-size="18" text-anchor="middle">80</text>
<text x="1756" y="1159.3" font-size="20" text-anchor="middle" font-weight="bold">Time (minutes)</text>
<text transform="translate(1533.5 986.8) rotate(-90)" font-size="19" text-anchor="middle" font-weight="bold">OCR (pmol/min)</text>
<text transform="translate(1971.5 988.5) rotate(-90)" font-size="16.4" text-anchor="middle">Mitochondrial respiration capacity</text>
<line x1="1593.1" y1="966.6" x2="1593.1" y2="937" stroke="#000" stroke-width="1.5"/>
<line x1="1587.6" y1="937" x2="1598.6" y2="937" stroke="#000" stroke-width="1.5"/>
<line x1="1587.6" y1="966.6" x2="1598.6" y2="966.6" stroke="#000" stroke-width="1.5"/>
<line x1="1620.5" y1="972.8" x2="1620.5" y2="947.9" stroke="#000" stroke-width="1.5"/>
<line x1="1615" y1="947.9" x2="1626" y2="947.9" stroke="#000" stroke-width="1.5"/>
<line x1="1615" y1="972.8" x2="1626" y2="972.8" stroke="#000" stroke-width="1.5"/>
<line x1="1648.1" y1="976.4" x2="1648.1" y2="951.4" stroke="#000" stroke-width="1.5"/>
<line x1="1642.6" y1="951.4" x2="1653.6" y2="951.4" stroke="#000" stroke-width="1.5"/>
<line x1="1642.6" y1="976.4" x2="1653.6" y2="976.4" stroke="#000" stroke-width="1.5"/>
<line x1="1675.5" y1="1018.7" x2="1675.5" y2="1003.2" stroke="#000" stroke-width="1.5"/>
<line x1="1670" y1="1003.2" x2="1681" y2="1003.2" stroke="#000" stroke-width="1.5"/>
<line x1="1670" y1="1018.7" x2="1681" y2="1018.7" stroke="#000" stroke-width="1.5"/>
<line x1="1702.8" y1="1011.7" x2="1702.8" y2="996.1" stroke="#000" stroke-width="1.5"/>
<line x1="1697.3" y1="996.1" x2="1708.3" y2="996.1" stroke="#000" stroke-width="1.5"/>
<line x1="1697.3" y1="1011.7" x2="1708.3" y2="1011.7" stroke="#000" stroke-width="1.5"/>
<line x1="1730" y1="1009.4" x2="1730" y2="990.7" stroke="#000" stroke-width="1.5"/>
<line x1="1724.5" y1="990.7" x2="1735.5" y2="990.7" stroke="#000" stroke-width="1.5"/>
<line x1="1724.5" y1="1009.4" x2="1735.5" y2="1009.4" stroke="#000" stroke-width="1.5"/>
<line x1="1757.3" y1="933.4" x2="1757.3" y2="889.8" stroke="#000" stroke-width="1.5"/>
<line x1="1751.8" y1="889.8" x2="1762.8" y2="889.8" stroke="#000" stroke-width="1.5"/>
<line x1="1751.8" y1="933.4" x2="1762.8" y2="933.4" stroke="#000" stroke-width="1.5"/>
<line x1="1784.7" y1="920.8" x2="1784.7" y2="889.6" stroke="#000" stroke-width="1.5"/>
<line x1="1779.2" y1="889.6" x2="1790.2" y2="889.6" stroke="#000" stroke-width="1.5"/>
<line x1="1779.2" y1="920.8" x2="1790.2" y2="920.8" stroke="#000" stroke-width="1.5"/>
<line x1="1811.8" y1="926.1" x2="1811.8" y2="891.8" stroke="#000" stroke-width="1.5"/>
<line x1="1806.3" y1="891.8" x2="1817.3" y2="891.8" stroke="#000" stroke-width="1.5"/>
<line x1="1806.3" y1="926.1" x2="1817.3" y2="926.1" stroke="#000" stroke-width="1.5"/>
<line x1="1839.2" y1="1040.5" x2="1839.2" y2="1028.1" stroke="#000" stroke-width="1.5"/>
<line x1="1833.7" y1="1028.1" x2="1844.7" y2="1028.1" stroke="#000" stroke-width="1.5"/>
<line x1="1833.7" y1="1040.5" x2="1844.7" y2="1040.5" stroke="#000" stroke-width="1.5"/>
<line x1="1866.6" y1="1040.5" x2="1866.6" y2="1028.1" stroke="#000" stroke-width="1.5"/>
<line x1="1861.1" y1="1028.1" x2="1872.1" y2="1028.1" stroke="#000" stroke-width="1.5"/>
<line x1="1861.1" y1="1040.5" x2="1872.1" y2="1040.5" stroke="#000" stroke-width="1.5"/>
<line x1="1893.7" y1="1041.6" x2="1893.7" y2="1029.2" stroke="#000" stroke-width="1.5"/>
<line x1="1888.2" y1="1029.2" x2="1899.2" y2="1029.2" stroke="#000" stroke-width="1.5"/>
<line x1="1888.2" y1="1041.6" x2="1899.2" y2="1041.6" stroke="#000" stroke-width="1.5"/>
<polyline points="1593.1,951.8 1620.5,960.3 1648.1,963.9 1675.5,1010.9 1702.8,1003.9 1730,1000 1757.3,911.6 1784.7,905.2 1811.8,908.9 1839.2,1034.3 1866.6,1034.3 1893.7,1035.4" fill="none" stroke="#000" stroke-width="1.5"/>
<line x1="1593.1" y1="1001.6" x2="1593.1" y2="982.9" stroke="#000" stroke-width="1.5"/>
<line x1="1587.6" y1="982.9" x2="1598.6" y2="982.9" stroke="#000" stroke-width="1.5"/>
<line x1="1587.6" y1="1001.6" x2="1598.6" y2="1001.6" stroke="#000" stroke-width="1.5"/>
<line x1="1620.5" y1="1010.2" x2="1620.5" y2="988.4" stroke="#000" stroke-width="1.5"/>
<line x1="1615" y1="988.4" x2="1626" y2="988.4" stroke="#000" stroke-width="1.5"/>
<line x1="1615" y1="1010.2" x2="1626" y2="1010.2" stroke="#000" stroke-width="1.5"/>
<line x1="1648.1" y1="1014.1" x2="1648.1" y2="992.3" stroke="#000" stroke-width="1.5"/>
<line x1="1642.6" y1="992.3" x2="1653.6" y2="992.3" stroke="#000" stroke-width="1.5"/>
<line x1="1642.6" y1="1014.1" x2="1653.6" y2="1014.1" stroke="#000" stroke-width="1.5"/>
<line x1="1675.5" y1="1046" x2="1675.5" y2="1030.4" stroke="#000" stroke-width="1.5"/>
<line x1="1670" y1="1030.4" x2="1681" y2="1030.4" stroke="#000" stroke-width="1.5"/>
<line x1="1670" y1="1046" x2="1681" y2="1046" stroke="#000" stroke-width="1.5"/>
<line x1="1702.8" y1="1040.1" x2="1702.8" y2="1024.5" stroke="#000" stroke-width="1.5"/>
<line x1="1697.3" y1="1024.5" x2="1708.3" y2="1024.5" stroke="#000" stroke-width="1.5"/>
<line x1="1697.3" y1="1040.1" x2="1708.3" y2="1040.1" stroke="#000" stroke-width="1.5"/>
<line x1="1730" y1="1038.7" x2="1730" y2="1023.1" stroke="#000" stroke-width="1.5"/>
<line x1="1724.5" y1="1023.1" x2="1735.5" y2="1023.1" stroke="#000" stroke-width="1.5"/>
<line x1="1724.5" y1="1038.7" x2="1735.5" y2="1038.7" stroke="#000" stroke-width="1.5"/>
<line x1="1757.3" y1="985.6" x2="1757.3" y2="954.4" stroke="#000" stroke-width="1.5"/>
<line x1="1751.8" y1="954.4" x2="1762.8" y2="954.4" stroke="#000" stroke-width="1.5"/>
<line x1="1751.8" y1="985.6" x2="1762.8" y2="985.6" stroke="#000" stroke-width="1.5"/>
<line x1="1784.7" y1="979.9" x2="1784.7" y2="948.8" stroke="#000" stroke-width="1.5"/>
<line x1="1779.2" y1="948.8" x2="1790.2" y2="948.8" stroke="#000" stroke-width="1.5"/>
<line x1="1779.2" y1="979.9" x2="1790.2" y2="979.9" stroke="#000" stroke-width="1.5"/>
<line x1="1811.8" y1="982" x2="1811.8" y2="950.8" stroke="#000" stroke-width="1.5"/>
<line x1="1806.3" y1="950.8" x2="1817.3" y2="950.8" stroke="#000" stroke-width="1.5"/>
<line x1="1806.3" y1="982" x2="1817.3" y2="982" stroke="#000" stroke-width="1.5"/>
<polyline points="1593.1,992.3 1620.5,999.3 1648.1,1003.2 1675.5,1038.2 1702.8,1032.3 1730,1030.9 1757.3,970 1784.7,964.4 1811.8,966.4 1839.2,1054.2 1866.6,1053.8 1893.7,1055" fill="none" stroke="#000" stroke-width="1.5"/>
<circle cx="1593.1" cy="951.8" r="5.3" fill="#000" stroke="#000" stroke-width="2.2"/>
<circle cx="1620.5" cy="960.3" r="5.3" fill="#000" stroke="#000" stroke-width="2.2"/>
<circle cx="1648.1" cy="963.9" r="5.3" fill="#000" stroke="#000" stroke-width="2.2"/>
<circle cx="1675.5" cy="1010.9" r="5.3" fill="#000" stroke="#000" stroke-width="2.2"/>
<circle cx="1702.8" cy="1003.9" r="5.3" fill="#000" stroke="#000" stroke-width="2.2"/>
<circle cx="1730" cy="1000" r="5.3" fill="#000" stroke="#000" stroke-width="2.2"/>
<circle cx="1757.3" cy="911.6" r="5.3" fill="#000" stroke="#000" stroke-width="2.2"/>
<circle cx="1784.7" cy="905.2" r="5.3" fill="#000" stroke="#000" stroke-width="2.2"/>
<circle cx="1811.8" cy="908.9" r="5.3" fill="#000" stroke="#000" stroke-width="2.2"/>
<circle cx="1839.2" cy="1034.3" r="5.3" fill="#000" stroke="#000" stroke-width="2.2"/>
<circle cx="1866.6" cy="1034.3" r="5.3" fill="#000" stroke="#000" stroke-width="2.2"/>
<circle cx="1893.7" cy="1035.4" r="5.3" fill="#000" stroke="#000" stroke-width="2.2"/>
<circle cx="1593.1" cy="992.3" r="5.3" fill="#fff" stroke="#000" stroke-width="2.2"/>
<circle cx="1620.5" cy="999.3" r="5.3" fill="#fff" stroke="#000" stroke-width="2.2"/>
<circle cx="1648.1" cy="1003.2" r="5.3" fill="#fff" stroke="#000" stroke-width="2.2"/>
<circle cx="1675.5" cy="1038.2" r="5.3" fill="#fff" stroke="#000" stroke-width="2.2"/>
<circle cx="1702.8" cy="1032.3" r="5.3" fill="#fff" stroke="#000" stroke-width="2.2"/>
<circle cx="1730" cy="1030.9" r="5.3" fill="#fff" stroke="#000" stroke-width="2.2"/>
<circle cx="1757.3" cy="970" r="5.3" fill="#fff" stroke="#000" stroke-width="2.2"/>
<circle cx="1784.7" cy="964.4" r="5.3" fill="#fff" stroke="#000" stroke-width="2.2"/>
<circle cx="1811.8" cy="966.4" r="5.3" fill="#fff" stroke="#000" stroke-width="2.2"/>
<circle cx="1839.2" cy="1054.2" r="5.3" fill="#fff" stroke="#000" stroke-width="2.2"/>
<circle cx="1866.6" cy="1053.8" r="5.3" fill="#fff" stroke="#000" stroke-width="2.2"/>
<circle cx="1893.7" cy="1055" r="5.3" fill="#fff" stroke="#000" stroke-width="2.2"/>
<text x="6.1" y="1221" font-size="32">K</text>
<text x="179" y="1218.3" font-size="25" text-anchor="middle">A549</text>
<line x1="158.5" y1="1310.5" x2="158.5" y2="1299.2" stroke="#000" stroke-width="1.5"/>
<line x1="149.6" y1="1299.2" x2="167.4" y2="1299.2" stroke="#000" stroke-width="1.5"/>
<rect x="142.3" y="1310.5" width="32.4" height="128.1" fill="#fff" stroke="#000" stroke-width="1.5" />
<line x1="208.8" y1="1338.3" x2="208.8" y2="1330.9" stroke="#000" stroke-width="1.5"/>
<line x1="199.7" y1="1330.9" x2="217.9" y2="1330.9" stroke="#000" stroke-width="1.5"/>
<rect x="192.2" y="1338.3" width="33.2" height="100.3" fill="#000080" stroke="#000" stroke-width="1.5" />
<rect x="124.8" y="1234.4" width="117.6" height="204.2" fill="none" stroke="#000" stroke-width="1.5" />
<line x1="116.3" y1="1438.6" x2="124.8" y2="1438.6" stroke="#000" stroke-width="1.5"/>
<text x="113.8" y="1444.4" font-size="16.5" text-anchor="end">0</text>
<line x1="116.3" y1="1387.5" x2="124.8" y2="1387.5" stroke="#000" stroke-width="1.5"/>
<text x="113.8" y="1393.3" font-size="16.5" text-anchor="end">20</text>
<line x1="116.3" y1="1336.5" x2="124.8" y2="1336.5" stroke="#000" stroke-width="1.5"/>
<text x="113.8" y="1342.3" font-size="16.5" text-anchor="end">40</text>
<line x1="116.3" y1="1285.5" x2="124.8" y2="1285.5" stroke="#000" stroke-width="1.5"/>
<text x="113.8" y="1291.2" font-size="16.5" text-anchor="end">60</text>
<line x1="116.3" y1="1234.4" x2="124.8" y2="1234.4" stroke="#000" stroke-width="1.5"/>
<text x="113.8" y="1240.2" font-size="16.5" text-anchor="end">80</text>
<line x1="158.5" y1="1438.6" x2="158.5" y2="1446.6" stroke="#000" stroke-width="1.5"/>
<text transform="translate(164.5 1459.6) rotate(-45)" font-size="16.9" text-anchor="end">shControl</text>
<line x1="208.8" y1="1438.6" x2="208.8" y2="1446.6" stroke="#000" stroke-width="1.5"/>
<text transform="translate(215.1 1457.1) rotate(-45)" font-size="15" text-anchor="end">sh<tspan font-style="italic">GABPB1</tspan>-#1</text>
<text x="209.6" y="1322.8" font-size="26" text-anchor="middle" font-weight="bold" letter-spacing="1.5">*</text>
<text transform="translate(66 1337) rotate(-90)" font-size="15" text-anchor="middle" font-weight="bold">Mitochondrial respiration capacity</text>
<text transform="translate(86 1337) rotate(-90)" font-size="15" text-anchor="middle" font-weight="bold">(pmol/min)</text>
<text x="278.1" y="1221" font-size="32">L</text>
<text x="451" y="1218.3" font-size="25" text-anchor="middle">H1299</text>
<line x1="435.9" y1="1287.7" x2="435.9" y2="1277.8" stroke="#000" stroke-width="1.5"/>
<line x1="426.9" y1="1277.8" x2="444.9" y2="1277.8" stroke="#000" stroke-width="1.5"/>
<rect x="419.6" y="1287.7" width="32.6" height="150.9" fill="#fff" stroke="#000" stroke-width="1.5" />
<line x1="486.3" y1="1330.9" x2="486.3" y2="1327.1" stroke="#000" stroke-width="1.5"/>
<line x1="477.4" y1="1327.1" x2="495.2" y2="1327.1" stroke="#000" stroke-width="1.5"/>
<rect x="470.2" y="1330.9" width="32.3" height="107.7" fill="#000080" stroke="#000" stroke-width="1.5" />
<rect x="402" y="1234.4" width="118.3" height="204.2" fill="none" stroke="#000" stroke-width="1.5" />
<line x1="393.5" y1="1438.6" x2="402" y2="1438.6" stroke="#000" stroke-width="1.5"/>
<text x="391" y="1444.4" font-size="16.5" text-anchor="end">0</text>
<line x1="393.5" y1="1387.5" x2="402" y2="1387.5" stroke="#000" stroke-width="1.5"/>
<text x="391" y="1393.3" font-size="16.5" text-anchor="end">20</text>
<line x1="393.5" y1="1336.5" x2="402" y2="1336.5" stroke="#000" stroke-width="1.5"/>
<text x="391" y="1342.3" font-size="16.5" text-anchor="end">40</text>
<line x1="393.5" y1="1285.5" x2="402" y2="1285.5" stroke="#000" stroke-width="1.5"/>
<text x="391" y="1291.2" font-size="16.5" text-anchor="end">60</text>
<line x1="393.5" y1="1234.4" x2="402" y2="1234.4" stroke="#000" stroke-width="1.5"/>
<text x="391" y="1240.2" font-size="16.5" text-anchor="end">80</text>
<line x1="435.9" y1="1438.6" x2="435.9" y2="1446.6" stroke="#000" stroke-width="1.5"/>
<text transform="translate(441.9 1459.6) rotate(-45)" font-size="16.9" text-anchor="end">shControl</text>
<line x1="486.3" y1="1438.6" x2="486.3" y2="1446.6" stroke="#000" stroke-width="1.5"/>
<text transform="translate(492.6 1457.1) rotate(-45)" font-size="15" text-anchor="end">sh<tspan font-style="italic">GABPB1</tspan>-#1</text>
<text x="487.2" y="1321.4" font-size="26" text-anchor="middle" font-weight="bold" letter-spacing="1.5">**</text>
<text transform="translate(343 1337) rotate(-90)" font-size="15" text-anchor="middle" font-weight="bold">Mitochondrial respiration capacity</text>
<text transform="translate(363.5 1337) rotate(-90)" font-size="15" text-anchor="middle" font-weight="bold">(pmol/min)</text>
<text x="559.7" y="1221" font-size="32">M</text>
<text x="719.8" y="1218.3" font-size="25" text-anchor="middle">A549</text>
<line x1="698.5" y1="1299" x2="698.5" y2="1291.3" stroke="#000" stroke-width="1.5"/>
<line x1="689.6" y1="1291.3" x2="707.4" y2="1291.3" stroke="#000" stroke-width="1.5"/>
<rect x="682.4" y="1299" width="32.3" height="140.2" fill="#fff" stroke="#000" stroke-width="1.5" />
<line x1="749" y1="1321.9" x2="749" y2="1317.3" stroke="#000" stroke-width="1.5"/>
<line x1="740.1" y1="1317.3" x2="757.9" y2="1317.3" stroke="#000" stroke-width="1.5"/>
<rect x="732.8" y="1321.9" width="32.5" height="117.3" fill="#000080" stroke="#000" stroke-width="1.5" />
<rect x="664.8" y="1235.2" width="117.6" height="204" fill="none" stroke="#000" stroke-width="1.5" />
<line x1="656.3" y1="1439.2" x2="664.8" y2="1439.2" stroke="#000" stroke-width="1.5"/>
<text x="653.8" y="1445" font-size="16.5" text-anchor="end">0</text>
<line x1="656.3" y1="1388.2" x2="664.8" y2="1388.2" stroke="#000" stroke-width="1.5"/>
<text x="653.8" y="1394" font-size="16.5" text-anchor="end">20</text>
<line x1="656.3" y1="1337.2" x2="664.8" y2="1337.2" stroke="#000" stroke-width="1.5"/>
<text x="653.8" y="1343" font-size="16.5" text-anchor="end">40</text>
<line x1="656.3" y1="1286.2" x2="664.8" y2="1286.2" stroke="#000" stroke-width="1.5"/>
<text x="653.8" y="1292" font-size="16.5" text-anchor="end">60</text>
<line x1="656.3" y1="1235.2" x2="664.8" y2="1235.2" stroke="#000" stroke-width="1.5"/>
<text x="653.8" y="1241" font-size="16.5" text-anchor="end">80</text>
<line x1="698.5" y1="1439.2" x2="698.5" y2="1447.2" stroke="#000" stroke-width="1.5"/>
<text transform="translate(704.5 1460.2) rotate(-45)" font-size="16.9" text-anchor="end">shControl</text>
<line x1="749" y1="1439.2" x2="749" y2="1447.2" stroke="#000" stroke-width="1.5"/>
<text transform="translate(755.3 1457.7) rotate(-45)" font-size="15" text-anchor="end">sh<tspan font-style="italic">GABPB1</tspan>-#1</text>
<text x="748.8" y="1299" font-size="19.5" text-anchor="middle">NS</text>
<text transform="translate(624 1338) rotate(-90)" font-size="14.6" text-anchor="middle" font-weight="bold">Glycolytic capacity (mpH/min)</text>
<text x="824.9" y="1221" font-size="32">N</text>
<text x="986.9" y="1218.3" font-size="25" text-anchor="middle">H1299</text>
<line x1="961.5" y1="1300.5" x2="961.5" y2="1291.8" stroke="#000" stroke-width="1.5"/>
<line x1="952.5" y1="1291.8" x2="970.5" y2="1291.8" stroke="#000" stroke-width="1.5"/>
<rect x="945" y="1300.5" width="32.9" height="138.7" fill="#fff" stroke="#000" stroke-width="1.5" />
<line x1="1011.6" y1="1287.2" x2="1011.6" y2="1271.9" stroke="#000" stroke-width="1.5"/>
<line x1="1002.6" y1="1271.9" x2="1020.6" y2="1271.9" stroke="#000" stroke-width="1.5"/>
<rect x="995.2" y="1287.2" width="32.8" height="152" fill="#000080" stroke="#000" stroke-width="1.5" />
<rect x="928.2" y="1235.2" width="117.3" height="204" fill="none" stroke="#000" stroke-width="1.5" />
<line x1="919.7" y1="1439.2" x2="928.2" y2="1439.2" stroke="#000" stroke-width="1.5"/>
<text x="917.2" y="1445" font-size="16.5" text-anchor="end">0</text>
<line x1="919.7" y1="1388.2" x2="928.2" y2="1388.2" stroke="#000" stroke-width="1.5"/>
<text x="917.2" y="1394" font-size="16.5" text-anchor="end">10</text>
<line x1="919.7" y1="1337.2" x2="928.2" y2="1337.2" stroke="#000" stroke-width="1.5"/>
<text x="917.2" y="1343" font-size="16.5" text-anchor="end">20</text>
<line x1="919.7" y1="1286.2" x2="928.2" y2="1286.2" stroke="#000" stroke-width="1.5"/>
<text x="917.2" y="1292" font-size="16.5" text-anchor="end">30</text>
<line x1="919.7" y1="1235.2" x2="928.2" y2="1235.2" stroke="#000" stroke-width="1.5"/>
<text x="917.2" y="1241" font-size="16.5" text-anchor="end">40</text>
<line x1="961.5" y1="1439.2" x2="961.5" y2="1447.2" stroke="#000" stroke-width="1.5"/>
<text transform="translate(967.5 1460.2) rotate(-45)" font-size="16.9" text-anchor="end">shControl</text>
<line x1="1011.6" y1="1439.2" x2="1011.6" y2="1447.2" stroke="#000" stroke-width="1.5"/>
<text transform="translate(1017.9 1457.7) rotate(-45)" font-size="15" text-anchor="end">sh<tspan font-style="italic">GABPB1</tspan>-#1</text>
<text x="1014.8" y="1258.8" font-size="19.5" text-anchor="middle">NS</text>
<text transform="translate(888 1338) rotate(-90)" font-size="14.6" text-anchor="middle" font-weight="bold">Glycolytic capacity (mpH/min)</text>
<text x="1097.6" y="1220.8" font-size="32">O</text>
<text x="1232.4" y="1218.3" font-size="25" text-anchor="middle">A549</text>
<line x1="1208" y1="1291.3" x2="1208" y2="1272.9" stroke="#000" stroke-width="1.5"/>
<line x1="1199" y1="1272.9" x2="1217" y2="1272.9" stroke="#000" stroke-width="1.5"/>
<rect x="1191.6" y="1291.3" width="32.8" height="148.5" fill="#fff" stroke="#000" stroke-width="1.5" />
<line x1="1259.1" y1="1324.4" x2="1259.1" y2="1313.4" stroke="#000" stroke-width="1.5"/>
<line x1="1250.1" y1="1313.4" x2="1268.1" y2="1313.4" stroke="#000" stroke-width="1.5"/>
<rect x="1242.7" y="1324.4" width="32.8" height="115.4" fill="#000080" stroke="#000" stroke-width="1.5" />
<rect x="1174.3" y="1236" width="119" height="203.8" fill="none" stroke="#000" stroke-width="1.5" />
<line x1="1165.8" y1="1439.8" x2="1174.3" y2="1439.8" stroke="#000" stroke-width="1.5"/>
<text x="1163.3" y="1445.6" font-size="16.5" text-anchor="end">0</text>
<line x1="1165.8" y1="1388.8" x2="1174.3" y2="1388.8" stroke="#000" stroke-width="1.5"/>
<text x="1163.3" y="1394.6" font-size="16.5" text-anchor="end">2</text>
<line x1="1165.8" y1="1337.9" x2="1174.3" y2="1337.9" stroke="#000" stroke-width="1.5"/>
<text x="1163.3" y="1343.7" font-size="16.5" text-anchor="end">4</text>
<line x1="1165.8" y1="1287" x2="1174.3" y2="1287" stroke="#000" stroke-width="1.5"/>
<text x="1163.3" y="1292.8" font-size="16.5" text-anchor="end">6</text>
<line x1="1165.8" y1="1236" x2="1174.3" y2="1236" stroke="#000" stroke-width="1.5"/>
<text x="1163.3" y="1241.8" font-size="16.5" text-anchor="end">8</text>
<line x1="1208" y1="1439.8" x2="1208" y2="1447.8" stroke="#000" stroke-width="1.5"/>
<text transform="translate(1214 1460.8) rotate(-45)" font-size="16.9" text-anchor="end">shControl</text>
<line x1="1259.1" y1="1439.8" x2="1259.1" y2="1447.8" stroke="#000" stroke-width="1.5"/>
<text transform="translate(1265.4 1458.3) rotate(-45)" font-size="15" text-anchor="end">sh<tspan font-style="italic">GABPB1</tspan>-#1</text>
<text x="1258.8" y="1298" font-size="19.5" text-anchor="middle">NS</text>
<text transform="translate(1141 1338) rotate(-90)" font-size="15" text-anchor="middle" font-weight="bold">ATP (10<tspan font-size="10" dy="-6">-5</tspan><tspan dy="6"> mol/L)</tspan></text>
<text x="1331.7" y="1221" font-size="32">P</text>
<text x="1485.1" y="1218.3" font-size="25" text-anchor="middle">H1299</text>
<line x1="1460.1" y1="1311.9" x2="1460.1" y2="1309.4" stroke="#000" stroke-width="1.5"/>
<line x1="1451.1" y1="1309.4" x2="1469.1" y2="1309.4" stroke="#000" stroke-width="1.5"/>
<rect x="1443.7" y="1311.9" width="32.8" height="126.5" fill="#fff" stroke="#000" stroke-width="1.5" />
<line x1="1511" y1="1328.1" x2="1511" y2="1319.6" stroke="#000" stroke-width="1.5"/>
<line x1="1501.8" y1="1319.6" x2="1520.2" y2="1319.6" stroke="#000" stroke-width="1.5"/>
<rect x="1494.3" y="1328.1" width="33.3" height="110.3" fill="#000080" stroke="#000" stroke-width="1.5" />
<rect x="1425.9" y="1234.7" width="119" height="203.7" fill="none" stroke="#000" stroke-width="1.5" />
<line x1="1417.4" y1="1438.4" x2="1425.9" y2="1438.4" stroke="#000" stroke-width="1.5"/>
<text x="1414.9" y="1444.2" font-size="16.5" text-anchor="end">0</text>
<line x1="1417.4" y1="1370.5" x2="1425.9" y2="1370.5" stroke="#000" stroke-width="1.5"/>
<text x="1414.9" y="1376.3" font-size="16.5" text-anchor="end">4</text>
<line x1="1417.4" y1="1302.6" x2="1425.9" y2="1302.6" stroke="#000" stroke-width="1.5"/>
<text x="1414.9" y="1308.4" font-size="16.5" text-anchor="end">8</text>
<line x1="1417.4" y1="1234.7" x2="1425.9" y2="1234.7" stroke="#000" stroke-width="1.5"/>
<text x="1414.9" y="1240.5" font-size="16.5" text-anchor="end">12</text>
<line x1="1460.1" y1="1438.4" x2="1460.1" y2="1446.4" stroke="#000" stroke-width="1.5"/>
<text transform="translate(1466.1 1459.4) rotate(-45)" font-size="16.9" text-anchor="end">shControl</text>
<line x1="1511" y1="1438.4" x2="1511" y2="1446.4" stroke="#000" stroke-width="1.5"/>
<text transform="translate(1517.3 1456.9) rotate(-45)" font-size="15" text-anchor="end">sh<tspan font-style="italic">GABPB1</tspan>-#1</text>
<text x="1510.7" y="1304.4" font-size="19.5" text-anchor="middle">NS</text>
<text transform="translate(1387.5 1338) rotate(-90)" font-size="15" text-anchor="middle" font-weight="bold">ATP (10<tspan font-size="10" dy="-6">-5</tspan><tspan dy="6"> mol/L)</tspan></text>
</svg>
</body></html>
